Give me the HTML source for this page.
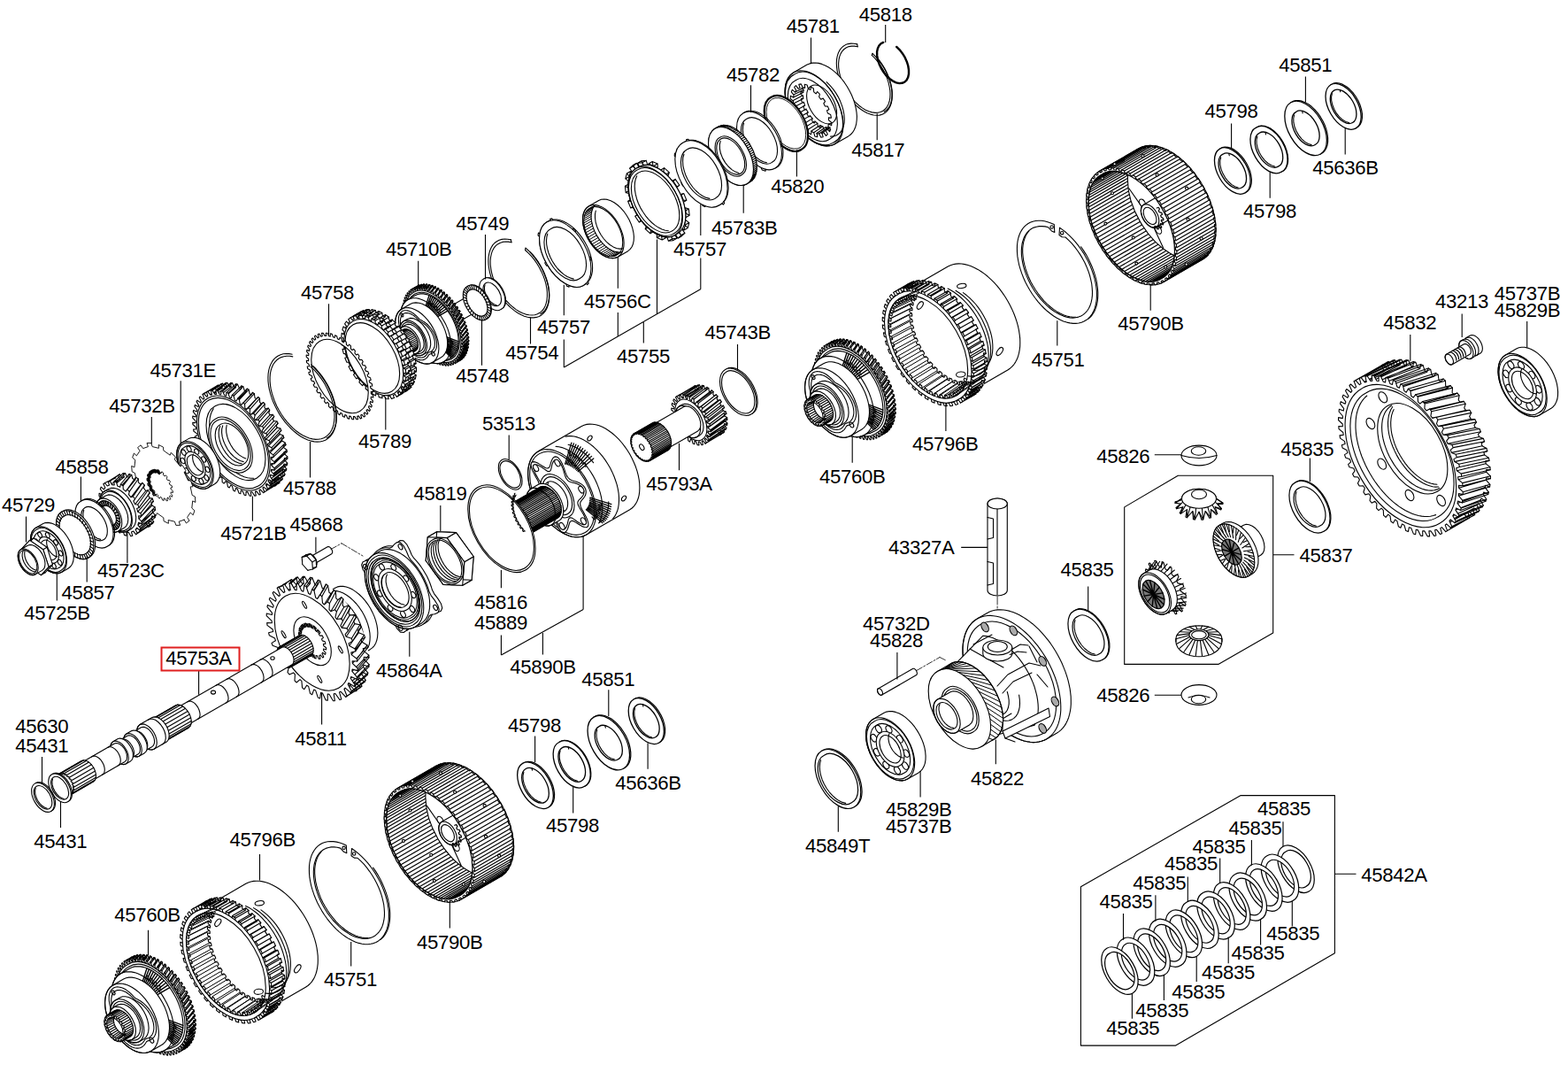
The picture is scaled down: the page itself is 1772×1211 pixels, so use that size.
<!DOCTYPE html>
<html lang="en"><head><meta charset="utf-8"><title>Parts diagram</title>
<style>
html,body{margin:0;padding:0;background:#fff}
body{width:1772px;height:1211px;overflow:hidden}
svg{display:block}
.ln{fill:none;stroke:#000;stroke-width:1.1;stroke-linecap:round;stroke-linejoin:round}
.lb text{font-family:"Liberation Sans",Arial,Helvetica,sans-serif;font-size:22.2px;fill:#000;letter-spacing:-0.34px}
</style></head><body>
<svg width="1772" height="1211" viewBox="0 0 1772 1211">
<rect width="1772" height="1211" fill="#fff"/>
<g class="ln">
<!-- a05_topright -->
<g><path d="M998.2 47.9 L995.5 49.3 L993.4 51.6 L991.9 54.7 L991.1 58.5 L991.2 62.9 L992 67.5 L993.6 72.4 L995.8 77.1 L998.6 81.6 L1001.8 85.7 L1005.4 89 L1009.1 91.6 L1012.8 93.3 L1016.4 94.1 L1019.7 93.8 L1022.5 92.5 L1024.7 90.3 L1026.2 87.2 L1027 83.5 L1027 79.2 L1026.3 74.5 L1024.8 69.7 L1022.7 64.9 L1019.9 60.4 L1016.7 56.3 L1013.2 52.9" stroke-width="2.4"/>
<path d="M968.7 49.9 L965.1 49.2 L961.7 49.1 L958.5 49.6 L955.6 50.6 L953 52.2 L950.7 54.3 L948.8 56.9 L947.3 60 L946.2 63.6 L945.5 67.4 L945.3 71.6 L945.6 76.1 L946.2 80.7 L947.4 85.5 L948.9 90.4 L950.8 95.2 L953.1 99.9 L955.7 104.5 L958.7 108.9 L961.9 113.1 L965.3 116.8 L968.8 120.3 L972.5 123.2 L976.3 125.7 L980 127.7 L983.7 129.1 L987.3 130 L990.8 130.3 L994 130.1 L997 129.2 L999.8 127.8 L1002.1 125.9 L1004.2 123.4 L1005.8 120.5 L1007.1 117.1 L1007.9 113.3 L1008.2 109.2 L1008.2 104.9 L1007.6 100.3 L1006.7 95.5 L1005.3 90.7 L1003.5 85.9 L1001.3 81.1 L998.8 76.4 L996 71.9 L992.8 67.7 L989.5 63.8 L986 60.3"/><path d="M969.2 52.8 L965.7 52.1 L962.4 52.1 L959.3 52.6 L956.5 53.8 L954 55.5 L951.8 57.8 L950.1 60.6 L948.8 63.9 L948 67.6 L947.6 71.6 L947.7 76 L948.3 80.5 L949.3 85.2 L950.8 90 L952.7 94.8 L955 99.5 L957.6 104 L960.6 108.3 L963.8 112.3 L967.2 116 L970.8 119.2 L974.4 121.9 L978.1 124.2 L981.8 125.8 L985.4 126.9 L988.9 127.4 L992.2 127.2 L995.2 126.5 L997.9 125.2 L1000.3 123.3 L1002.3 120.8 L1003.9 117.9 L1005.1 114.5 L1005.8 110.6 L1006 106.5 L1005.8 102.1 L1005 97.5 L1003.9 92.7 L1002.3 87.9 L1000.3 83.2 L997.9 78.5 L995.1 74 L992.1 69.8 L988.8 65.9 L985.3 62.4"/><path d="M968.7 49.9L969.2 52.8M986 60.3L985.3 62.4"/><path d="M999.3 126.3 L1001.9 124.5 L1004.1 122 L1005.8 119 L1007.1 115.5 L1007.9 111.6 L1008.2 107.3 L1008.1 102.7 L1007.4 97.9 L1006.2 92.9 L1004.6 87.9 L1002.5 82.9 L1000.1 78 L997.2 73.3 L994.1 68.8 L990.7 64.7" stroke-width="1.2"/>
<path d="M958.7 153.9 L961.3 152 L963.5 149.7 L965.3 146.8 L966.7 143.5 L967.7 139.8 L968.2 135.8 L968.4 131.4 L968 126.8 L967.2 122 L966 117.1 L964.4 112.2 L962.4 107.3 L960 102.4 L957.3 97.7 L954.3 93.2 L951.1 89 L947.6 85.2 L943.9 81.7 L940.2 78.6 L936.4 76 L932.5 73.9 L928.8 72.4 L925.1 71.4 L921.5 71 L918.1 71.1 L915 71.9 L912.1 73.1 L896.7 82 L894.2 83.9 L892 86.2 L890.1 89.1 L888.7 92.4 L887.7 96.1 L887.2 100.1 L887.1 104.5 L887.4 109.1 L888.2 113.9 L889.4 118.8 L891 123.7 L893 128.6 L895.4 133.5 L898.1 138.2 L901.1 142.7 L904.4 146.9 L907.8 150.7 L911.5 154.2 L915.2 157.3 L919 159.9 L922.9 162 L926.7 163.5 L930.4 164.5 L933.9 164.9 L937.3 164.8 L940.4 164 L943.3 162.8Z" fill="#fff"/><path d="M943.3 162.8 L945.8 161 L948 158.7 L949.8 155.9 L951.2 152.7 L952.2 149.1 L952.8 145.1 L952.9 140.9 L952.7 136.4 L952 131.7 L950.9 126.9 L949.4 122.1 L947.5 117.2 L945.2 112.5 L942.6 107.8 L939.7 103.3 L936.6 99.1 L933.3 95.2 L929.7 91.7 L926.1 88.5 L922.4 85.8 L918.6 83.6 L914.8 81.8 L911.2 80.6 L907.6 80 L904.2 79.9 L901 80.3 L898.1 81.3 L895.4 82.9 L893.1 84.9 L891.1 87.5 L889.5 90.5 L888.3 93.9 L887.5 97.7 L887.1 101.8 L887.1 106.1 L887.6 110.7 L888.5 115.5 L889.8 120.3 L891.5 125.2 L893.6 130 L896 134.7 L898.8 139.3 L901.8 143.6 L905 147.7 L908.5 151.4 L912.1 154.8 L915.8 157.7 L919.5 160.2 L923.3 162.2 L927 163.6 L930.6 164.6 L934.1 164.9 L937.4 164.8 L940.5 164 L943.3 162.8Z"/><path d="M942.2 160.9A44.5 25.7 60 1 0 897.8 83.9A44.5 25.7 60 1 0 942.2 160.9"/><path d="M937.6 157.3A38.5 22.2 60 1 0 899.1 90.7A38.5 22.2 60 1 0 937.6 157.3"/><path d="M938.6 154.1 L942 153.9 L945.1 153 L947.8 151.3 L950.1 149 L952 146.1 L953.3 142.6 L954.1 138.6 L954.3 134.2 L953.9 129.5 L953 124.6 L951.6 119.6 L949.7 114.6 L947.3 109.6 L944.5 104.9 L941.3 100.4 L937.8 96.3 L934.1 92.7"/><path d="M930.8 149.7 L933.5 153.3 L935.4 151.7 L933.2 147.7 L934.5 145.9 L937.6 148.7 L938.7 146.1 L935.9 142.7 L936.4 140.1 L939.7 141.7 L939.8 138.5 L936.6 135.9 L936.4 132.9 L939.4 133.2 L938.7 129.5 L935.5 128.1 L934.5 124.8 L936.9 123.8 L935.4 120.1 L932.4 119.9 L930.8 116.8 L932.5 114.6 L930.2 111.1 L927.8 112.3 L925.6 109.5 L926.4 106.4 L923.7 103.5 L922.1 105.9 L919.7 103.8 L919.4 100 L916.5 98.1 L915.9 101.4 L913.3 100.2 L912.1 96 L909.3 95.2 L909.7 99.2 L907.4 99 L905.3 94.9 L902.8 95.3 L904.1 99.5 L902.2 100.3 L899.5 96.7 L897.6 98.3 L899.8 102.3 L898.5 104.1 L895.4 101.3 L894.3 103.9 L897.1 107.3 L896.6 109.9 L893.3 108.3 L893.2 111.5 L896.4 114.1 L896.6 117.1 L893.6 116.8 L894.3 120.5 L897.5 121.9 L898.5 125.2 L896.1 126.2 L897.6 129.9 L900.6 130.1 L902.2 133.2 L900.5 135.4 L902.8 138.9 L905.2 137.7 L907.4 140.5 L906.6 143.6 L909.3 146.5 L910.9 144.1 L913.3 146.2 L913.6 150 L916.5 151.9 L917.1 148.6 L919.7 149.8 L920.9 154 L923.7 154.8 L923.3 150.8 L925.6 151 L927.7 155.1 L930.2 154.7 L928.9 150.5 L930.8 149.7Z"/><path d="M906 99.1 L908.2 102 L907.7 104.4 L905.1 103.3 L905 106.3 L907.5 108.5 L907.7 111.4 L905.4 111.3 L906 114.8 L908.6 116 L909.6 119.2 L907.7 120.1 L909.2 123.6 L911.5 123.9 L913.1 126.9 L911.9 128.8 L914 132 L916 131.3 L918.1 133.9 L917.6 136.5 L920.1 139.2 L921.5 137.4 L923.9 139.4 L924.1 142.5 L926.9 144.3 L927.5 141.8 L929.9 142.9 L931 146.2 L933.7 147 L933.5 143.9 L935.7 144.1 L937.5 147.3"/><path d="M898.5 104.1L909.6 98.8M897.3 106.7L908.4 101.4M896.6 109.9L907.7 104.4M896.3 113.4L907.4 107.8M896.6 117.1L907.7 111.4M897.3 121.1L908.4 115.3M898.5 125.2L909.6 119.2M900.2 129.3L911.2 123.1M902.2 133.2L913.1 126.9M904.7 137L915.5 130.6M907.4 140.5L918.1 133.9M910.3 143.5L920.9 136.9M913.3 146.2L923.9 139.4M916.5 148.3L926.9 141.5M919.7 149.8L929.9 142.9M922.7 150.7L932.9 143.8M925.6 151L935.7 144.1M928.3 150.7L938.3 143.8"/><path d="M940.6 138.8A24 13.9 60 1 0 916.6 97.2A24 13.9 60 1 0 940.6 138.8"/>
<path d="M905.5 169A34.2 19.7 60 1 0 871.3 109.8A34.2 19.7 60 1 0 905.5 169" fill="#fff" stroke-width="2.2"/><path d="M904.2 166.8A31.6 18.2 60 1 0 872.6 112A31.6 18.2 60 1 0 904.2 166.8" stroke-width="0.9"/>
<path d="M875.9 190 L878.7 188.5 L881 186.3 L882.8 183.4 L884.1 180 L884.8 176.1 L885 171.8 L884.6 167.1 L883.6 162.3 L882.1 157.3 L880.1 152.4 L877.6 147.6 L874.7 143 L871.4 138.8 L867.9 135 L864.2 131.8 L860.4 129.1 L856.5 127.1 L852.8 125.8 L849.2 125.2 L845.8 125.3 L842.7 126.2 L840.1 127.8"/><path d="M876 190.1A36 20.8 60 1 0 840 127.7A36 20.8 60 1 0 876 190.1" fill="#fff"/><path d="M872.2 183.6A28.5 16.5 60 1 0 843.8 134.2A28.5 16.5 60 1 0 872.2 183.6"/><path d="M840.6 139.1 L839.7 142.8 L839.4 147 L839.9 151.7 L841.1 156.5 L842.9 161.4 L845.3 166.2 L848.2 170.7 L851.6 174.8 L855.2 178.2 L859 180.9 L862.8 182.8 L866.5 183.8"/><path d="M865.4 191.3 L865 193.3 L861.3 192 L860.2 189.5"/>
<path d="M847.9 205.4 L850.4 203.5 L852.4 201 L853.9 197.8 L854.9 194.2 L855.3 190 L855.2 185.6 L854.5 180.8 L853.2 176 L851.5 171.1 L849.2 166.2 L846.5 161.6 L843.4 157.2 L840.1 153.2 L836.5 149.7 L832.7 146.7 L828.9 144.3 L825.2 142.6 L821.5 141.7 L818 141.4 L814.8 141.9 L811.9 143.1 L808 145.3 L805.5 147.2 L803.5 149.8 L802 152.9 L801 156.6 L800.6 160.7 L800.7 165.2 L801.4 169.9 L802.7 174.8 L804.4 179.7 L806.7 184.5 L809.4 189.2 L812.5 193.6 L815.8 197.6 L819.4 201.1 L823.1 204.1 L827 206.4 L830.7 208.1 L834.4 209.1 L837.9 209.4 L841.1 208.9 L844 207.7Z" fill="#fff"/><path d="M841.3 208.8L845.2 206.6M842.7 208.3L846.6 206.1M844 207.7L847.9 205.4M845.2 206.9L849.1 204.6M846.3 205.9L850.2 203.7M847.3 204.8L851.2 202.6M848.3 203.6L852.2 201.4M849.1 202.2L853 200M849.8 200.8L853.7 198.5M850.3 199.1L854.2 196.9M850.8 197.4L854.7 195.2M851.1 195.6L855 193.4M851.4 193.7L855.3 191.5M851.5 191.7L855.3 189.5M851.4 189.6L855.3 187.4M851.3 187.5L855.2 185.3M851 185.3L854.9 183.1M850.6 183.1L854.5 180.8M850.1 180.8L854 178.6M849.4 178.5L853.3 176.3M848.7 176.3L852.6 174M847.8 174L851.7 171.7M846.9 171.7L850.7 169.4M845.8 169.4L849.7 167.2M844.6 167.2L848.5 165M843.4 165L847.3 162.8M842 162.9L845.9 160.7M840.6 160.9L844.5 158.6M839.1 158.9L843 156.6M837.6 157L841.5 154.7M835.9 155.2L839.8 152.9M834.3 153.5L838.2 151.2M832.6 151.9L836.5 149.7M830.9 150.5L834.8 148.2M829.1 149.1L833 146.9M827.3 147.9L831.2 145.7M825.6 146.9L829.5 144.6M823.8 145.9L827.7 143.7M822 145.2L825.9 142.9M820.3 144.6L824.2 142.3M818.6 144.1L822.5 141.8M816.9 143.8L820.8 141.5M815.2 143.6L819.1 141.4M813.7 143.7L817.6 141.4M812.1 143.8L816 141.6M810.7 144.2L814.6 141.9M809.3 144.7L813.2 142.4M808 145.3L811.9 143.1M806.8 146.1L810.7 143.9"/><path d="M844 207.7A36 20.8 60 1 0 808 145.3A36 20.8 60 1 0 844 207.7" fill="#fff"/><path d="M838 197.7A24.5 14.1 60 1 0 813.5 155.3A24.5 14.1 60 1 0 838 197.7"/><path d="M837 196A22.5 13 60 1 0 814.5 157A22.5 13 60 1 0 837 196"/><path d="M814.2 159.3 L813.3 163.3 L813.4 168.1 L814.5 173.3 L816.6 178.6 L819.5 183.6 L823 188 L827 191.6 L831 194.1 L835 195.4"/>
<path d="M814.6 230.7 L817.1 228.9 L819.2 226.5 L820.9 223.5 L822.1 220.1 L822.8 216.3 L823.1 212.1 L822.8 207.6 L822.1 202.9 L820.9 198 L819.2 193.2 L817.1 188.3 L814.6 183.6 L811.8 179.1 L808.7 174.9 L805.3 171 L801.7 167.5 L798 164.5 L794.2 162.1 L790.5 160.2 L786.8 158.9 L783.2 158.2 L779.8 158.2 L776.7 158.8 L773.8 160.1 L772.1 161.1 L769.6 162.9 L767.5 165.3 L765.8 168.3 L764.6 171.7 L763.9 175.5 L763.7 179.7 L763.9 184.2 L764.6 188.9 L765.8 193.8 L767.5 198.6 L769.6 203.5 L772.1 208.2 L774.9 212.7 L778.1 216.9 L781.5 220.8 L785 224.3 L788.7 227.3 L792.5 229.7 L796.3 231.6 L800 232.9 L803.5 233.6 L806.9 233.6 L810.1 233 L812.9 231.7Z" fill="#fff"/><path d="M815.8 229.5 L817.3 231.1 L818.7 229.3 L817.5 227.5M820.3 203.6 L821.7 203.6 L820.9 200.3 L819.4 199.7M803.8 172.3 L804.2 170.8 L801.7 168.3 L801 169.5M778.8 159.2 L777.9 157.2 L775.6 157.5 L776.2 159.5M764.1 174.1 L762.5 173.1 L762.2 176 L763.7 177.3M770.8 205.8 L769.8 206.6 L771.6 209.9 L772.9 209.5M793.8 230.4 L794.1 232.4 L796.8 233.6 L796.8 231.8" fill="#fff"/><path d="M812.9 231.7A40.8 23.6 60 1 0 772.1 161.1A40.8 23.6 60 1 0 812.9 231.7" fill="#fff"/><path d="M808.5 224.1A32 18.5 60 1 0 776.5 168.7A32 18.5 60 1 0 808.5 224.1"/><path d="M773 174.2 L771.9 178 L771.6 182.3 L771.9 187.1 L773 192.1 L774.6 197.2 L776.9 202.2 L779.7 207 L782.9 211.5 L786.5 215.5 L790.3 218.9 L794.2 221.5 L798.2 223.4 L802 224.4"/>
<path d="M765.8 263.7 L768.3 261.9 L770.4 259.6 L772.1 256.8 L773.4 253.5 L774.3 249.9 L774.8 245.9 L774.8 241.6 L774.3 237.1 L773.4 232.4 L772.1 227.6 L770.4 222.8 L768.3 218.1 L765.8 213.4 L763 209 L760 204.8 L756.7 200.9 L753.2 197.4 L749.6 194.3 L745.9 191.6 L742.2 189.5 L738.5 187.9 L734.9 186.8 L731.4 186.3 L728.2 186.4 L725.1 187.1 L722.3 188.3 L718.9 190.3 L716.4 192.1 L714.3 194.4 L712.6 197.2 L711.2 200.5 L710.3 204.1 L709.9 208.1 L709.9 212.4 L710.3 216.9 L711.2 221.6 L712.6 226.4 L714.3 231.2 L716.4 235.9 L718.9 240.6 L721.6 245 L724.7 249.2 L728 253.1 L731.4 256.6 L735.1 259.7 L738.7 262.4 L742.5 264.5 L746.1 266.1 L749.8 267.2 L753.2 267.7 L756.5 267.6 L759.6 266.9 L762.4 265.7Z" fill="#fff"/><path d="M767.5 262 L770.4 266.7 L774 263.3 L770.7 259ZM763.2 264.5 L766.1 269.2 L769.7 265.8 L766.4 261.5ZM766.1 269.2L770.4 266.7M769.7 265.8L774 263.3M773.6 253.8 L777.3 257.4 L778.8 251.6 L774.9 248.6ZM769.3 256.3 L772.9 259.9 L774.4 254.1 L770.6 251.1ZM772.9 259.9L777.3 257.4M774.4 254.1L778.8 251.6M775.3 241.2 L779.2 243.2 L778.3 235.9 L774.6 234.7ZM771 243.7 L774.8 245.7 L774 238.4 L770.2 237.2ZM774.8 245.7L779.2 243.2M774 238.4L778.3 235.9M772.4 226.2 L775.9 226.3 L772.8 218.6 L769.7 219.4ZM768 228.7 L771.6 228.8 L768.5 221.1 L765.4 221.9ZM771.6 228.8L775.9 226.3M768.5 221.1L772.8 218.6M765.3 211.2 L767.9 209.3 L763.1 202.4 L761 205ZM760.9 213.7 L763.5 211.8 L758.8 204.9 L756.7 207.5ZM763.5 211.8L767.9 209.3M758.8 204.9L763.1 202.4M755.1 198.3 L756.4 194.8 L750.6 189.7 L749.9 193.8ZM750.7 200.8 L752 197.3 L746.3 192.2 L745.6 196.3ZM752 197.3L756.4 194.8M746.3 192.2L750.6 189.7M743.3 189.5 L743.1 184.9 L737.2 182.5 L738.1 187.3ZM739 192 L738.8 187.4 L732.9 185 L733.8 189.8ZM738.8 187.4L743.1 184.9M732.9 185L737.2 182.5M731.8 186.3 L730.2 181.2 L725 181.8 L727.3 186.7ZM727.5 188.8 L725.8 183.7 L720.7 184.3 L722.9 189.2ZM725.8 183.7L730.2 181.2M720.7 184.3L725 181.8M722.3 189 L719.4 184.3 L715.8 187.7 L719.1 192ZM718 191.5 L715.1 186.8 L711.5 190.2 L714.8 194.5ZM715.1 186.8L719.4 184.3M711.5 190.2L715.8 187.7M716.3 197.2 L712.6 193.6 L711.1 199.4 L714.9 202.4ZM711.9 199.7 L708.3 196.1 L706.8 201.9 L710.6 204.9ZM708.3 196.1L712.6 193.6M706.8 201.9L711.1 199.4M714.6 209.8 L710.7 207.8 L711.5 215.1 L715.3 216.3ZM710.2 212.3 L706.4 210.3 L707.2 217.6 L711 218.8ZM706.4 210.3L710.7 207.8M707.2 217.6L711.5 215.1M717.5 224.8 L714 224.7 L717 232.4 L720.2 231.6ZM713.2 227.3 L709.6 227.2 L712.7 234.9 L715.8 234.1ZM709.6 227.2L714 224.7M712.7 234.9L717 232.4M724.6 239.8 L722 241.7 L726.8 248.6 L728.8 246ZM720.3 242.3 L717.7 244.2 L722.4 251.1 L724.5 248.5ZM717.7 244.2L722 241.7M722.4 251.1L726.8 248.6M734.8 252.7 L733.5 256.2 L739.3 261.3 L739.9 257.2ZM730.5 255.2 L729.2 258.7 L734.9 263.8 L735.6 259.7ZM729.2 258.7L733.5 256.2M734.9 263.8L739.3 261.3M746.5 261.5 L746.7 266.1 L752.6 268.5 L751.8 263.7ZM742.2 264 L742.4 268.6 L748.3 271 L747.4 266.2ZM742.4 268.6L746.7 266.1M748.3 271L752.6 268.5M758 264.7 L759.7 269.8 L764.8 269.2 L762.6 264.3ZM753.7 267.2 L755.4 272.3 L760.5 271.7 L758.3 266.8ZM755.4 272.3L759.7 269.8M760.5 271.7L764.8 269.2" fill="#fff"/><path d="M765.8 263.7 L768.3 261.9 L770.4 259.6 L772.1 256.8 L773.4 253.5 L774.3 249.9 L774.8 245.9 L774.8 241.6 L774.3 237.1 L773.4 232.4 L772.1 227.6 L770.4 222.8 L768.3 218.1 L765.8 213.4 L763 209 L760 204.8 L756.7 200.9 L753.2 197.4 L749.6 194.3 L745.9 191.6 L742.2 189.5 L738.5 187.9 L734.9 186.8 L731.4 186.3 L728.2 186.4 L725.1 187.1 L722.3 188.3 L718.9 190.3 L716.4 192.1 L714.3 194.4 L712.6 197.2 L711.2 200.5 L710.3 204.1 L709.9 208.1 L709.9 212.4 L710.3 216.9 L711.2 221.6 L712.6 226.4 L714.3 231.2 L716.4 235.9 L718.9 240.6 L721.6 245 L724.7 249.2 L728 253.1 L731.4 256.6 L735.1 259.7 L738.7 262.4 L742.5 264.5 L746.1 266.1 L749.8 267.2 L753.2 267.7 L756.5 267.6 L759.6 266.9 L762.4 265.7Z" fill="#fff"/><path d="M762.4 265.7A43.5 25.1 60 1 0 718.9 190.3A43.5 25.1 60 1 0 762.4 265.7" fill="#fff"/><path d="M761.4 263.9A41.5 24 60 1 0 719.9 192.1A41.5 24 60 1 0 761.4 263.9"/><path d="M759.6 260.9A38 21.9 60 1 0 721.6 195.1A38 21.9 60 1 0 759.6 260.9"/><path d="M719.7 198.8 L718.3 202.2 L717.5 206.1 L717.2 210.3 L717.5 214.9 L718.3 219.7 L719.6 224.7 L721.4 229.7 L723.7 234.6 L726.5 239.3 L729.6 243.8 L733 247.8 L736.6 251.5 L740.4 254.6 L744.2 257.1 L748 259 L751.8 260.2 L755.4 260.7"/>
<path d="M709.6 283.7 L712 281.7 L714 279 L715.4 275.7 L716.2 271.8 L716.4 267.4 L715.9 262.8 L714.8 257.9 L713.1 252.9 L710.9 248 L708.1 243.2 L705 238.8 L701.5 234.9 L697.8 231.5 L694 228.7 L690.2 226.7 L686.4 225.4 L682.8 225 L679.5 225.3 L676.6 226.5 L665.3 233 L662.8 235 L660.8 237.7 L659.4 241 L658.6 244.9 L658.5 249.3 L659 253.9 L660.1 258.8 L661.8 263.8 L664 268.7 L666.7 273.5 L669.9 277.9 L673.3 281.8 L677 285.2 L680.8 288 L684.7 290 L688.5 291.3 L692 291.7 L695.4 291.4 L698.3 290.2Z" fill="#fff"/><path d="M698.3 290.2 L700.7 288.3 L702.7 285.7 L704.1 282.5 L704.9 278.7 L705.1 274.5 L704.8 270 L703.8 265.2 L702.2 260.4 L700.2 255.6 L697.6 250.9 L694.7 246.5 L691.4 242.6 L687.8 239.1 L684.1 236.1 L680.4 233.9 L676.7 232.4 L673.1 231.6 L669.7 231.6 L666.7 232.3 L664 233.9 L661.8 236.1 L660.2 239 L659 242.5 L658.5 246.5 L658.6 250.9 L659.3 255.6 L660.5 260.4 L662.3 265.2 L664.6 270 L667.4 274.5 L670.5 278.7 L674 282.5 L677.6 285.7 L681.3 288.3 L685.1 290.2 L688.7 291.3 L692.2 291.7 L695.4 291.3 L698.3 290.2Z"/><path d="M697 288A30.5 17.6 60 1 0 666.5 235.2A30.5 17.6 60 1 0 697 288"/><path d="M665.1 236.2L672.9 231.7M663.9 237.4L671.7 232.9M662.8 238.9L670.6 234.4M661.9 240.6L669.7 236.1M661.2 242.5L669 238M660.6 244.5L668.4 240M660.3 246.8L668.1 242.3M660.2 249.1L668 244.6M660.3 251.6L668.1 247.1M660.6 254.2L668.4 249.7M661.2 256.9L669 252.4M661.9 259.6L669.7 255.1M662.8 262.4L670.6 257.9M663.9 265.1L671.7 260.6M665.1 267.8L672.9 263.3M666.5 270.4L674.3 265.9M668.1 273L675.9 268.5M669.8 275.4L677.6 270.9M671.6 277.7L679.4 273.2M673.5 279.8L681.3 275.3M675.5 281.8L683.3 277.3M677.6 283.6L685.4 279.1M679.7 285.2L687.5 280.7M681.8 286.5L689.6 282M683.9 287.6L691.7 283.1M686 288.5L693.8 284M688.1 289L695.9 284.5M690.1 289.4L697.8 284.9M692 289.4L699.8 284.9M693.8 289.2L701.6 284.7M695.5 288.7L703.3 284.2" stroke-width="1"/><path d="M670 235.3 L668.8 238.6 L668.1 242.5 L668.1 246.9 L668.8 251.5 L670 256.3 L671.9 261.2 L674.3 265.9 L677.2 270.4 L680.5 274.4 L684 277.9 L687.7 280.8 L691.5 283 L695.2 284.4 L698.7 284.9"/><path d="M673.3 238 L672.5 241.8 L672.5 246.1 L673.1 250.8 L674.5 255.7 L676.5 260.5 L679.1 265.2 L682.1 269.5 L685.5 273.3 L689.2 276.5 L693 278.9 L696.7 280.5 L700.3 281.1 L703.5 280.9"/>
<path d="M661.1 321.4 L663.6 319.5 L665.7 317.1 L667.4 314.1 L668.6 310.6 L669.4 306.7 L669.6 302.5 L669.4 297.9 L668.6 293.2 L667.4 288.3 L665.7 283.3 L663.6 278.4 L661.1 273.7 L658.2 269.1 L655 264.8 L651.6 260.9 L648 257.4 L644.2 254.4 L640.4 251.9 L636.6 250 L632.9 248.7 L629.3 248 L625.8 248 L622.7 248.6 L619.8 249.8 L618.1 250.8 L615.5 252.7 L613.4 255.1 L611.7 258.1 L610.5 261.6 L609.7 265.5 L609.5 269.7 L609.7 274.3 L610.5 279 L611.7 283.9 L613.4 288.9 L615.5 293.8 L618.1 298.5 L620.9 303.1 L624.1 307.4 L627.5 311.3 L631.1 314.8 L634.9 317.8 L638.7 320.3 L642.5 322.2 L646.3 323.5 L649.9 324.2 L653.3 324.2 L656.5 323.6 L659.4 322.4Z" fill="#fff"/><path d="M662.3 320.1 L663.7 321.7 L665.2 319.9 L664 318.1M666.9 293.9 L668.3 293.9 L667.4 290.5 L665.9 290M650.2 262.2 L650.5 260.7 L648 258.1 L647.3 259.3M624.9 248.9 L623.9 246.9 L621.6 247.2 L622.2 249.2M610 264 L608.4 263.1 L608 265.9 L609.6 267.3M616.7 296.1 L615.7 296.9 L617.6 300.2 L618.8 299.9M640 321 L640.3 323 L643 324.3 L643.1 322.5" fill="#fff"/><path d="M659.4 322.4A41.3 23.8 60 1 0 618.1 250.8A41.3 23.8 60 1 0 659.4 322.4" fill="#fff"/><path d="M655 314.7A32.5 18.8 60 1 0 622.5 258.5A32.5 18.8 60 1 0 655 314.7"/><path d="M618.8 264.1 L617.9 267.6 L617.5 271.7 L617.7 276.1 L618.5 280.7 L619.9 285.5 L621.8 290.3 L624.2 295 L627 299.4 L630.2 303.5 L633.7 307 L637.3 310.1 L641 312.5 L644.7 314.1 L648.3 315.1"/>
<path d="M577.4 270.9 L573.8 270.2 L570.4 270 L567.1 270.4 L564.1 271.3 L561.4 272.7 L558.9 274.5 L556.8 276.9 L555.1 279.7 L553.7 283 L552.7 286.6 L552.1 290.5 L551.9 294.7 L552.1 299.2 L552.7 303.8 L553.7 308.6 L555.1 313.5 L556.9 318.3 L559.1 323.1 L561.5 327.8 L564.3 332.4 L567.3 336.7 L570.6 340.8 L574 344.5 L577.6 347.9 L581.3 350.9 L585 353.5 L588.8 355.6 L592.5 357.2 L596.2 358.3 L599.7 358.9 L603.1 358.9 L606.3 358.4 L609.2 357.4 L611.9 355.9 L614.2 353.9 L616.3 351.4 L617.9 348.5 L619.2 345.1 L620.1 341.4 L620.6 337.4 L620.7 333.1 L620.4 328.6 L619.7 323.9 L618.5 319.1 L617 314.3 L615.1 309.4 L612.9 304.6 L610.4 299.9 L607.5 295.4 L604.4 291.2 L601.1 287.2 L597.7 283.5 L594 280.2"/><path d="M578 273.8 L574.4 273.1 L571.1 273 L567.9 273.4 L565 274.4 L562.3 275.9 L560 277.9 L558 280.4 L556.4 283.4 L555.3 286.8 L554.5 290.6 L554.1 294.7 L554.2 299 L554.8 303.6 L555.7 308.3 L557 313.1 L558.8 317.9 L560.9 322.6 L563.4 327.3 L566.1 331.8 L569.2 336 L572.4 340 L575.9 343.6 L579.5 346.8 L583.1 349.6 L586.9 352 L590.6 353.8 L594.2 355.1 L597.8 355.8 L601.2 356 L604.4 355.7 L607.3 354.8 L610 353.3 L612.4 351.3 L614.4 348.9 L616 345.9 L617.2 342.6 L618 338.8 L618.4 334.8 L618.4 330.5 L617.9 325.9 L617 321.2 L615.7 316.4 L614 311.6 L611.9 306.9 L609.5 302.2 L606.8 297.7 L603.8 293.4 L600.5 289.4 L597.1 285.8 L593.5 282.5"/><path d="M577.4 270.9L578 273.8M594 280.2L593.5 282.5"/><path d="M610.9 354.8 L613.4 353 L615.6 350.8 L617.4 348 L618.8 344.9 L619.9 341.4 L620.5 337.5 L620.7 333.4 L620.5 329 L619.9 324.4 L618.9 319.7 L617.5 314.9 L615.7 310.1 L613.6 305.3 L611.2 300.7 L608.4 296.2 L605.4 291.9 L602.2 287.9 L598.8 284.3" stroke-width="1.2"/></g>
<!-- a10_topleft -->
<g><path d="M566.6 349.1 L569.2 347.3 L570.9 344.3 L571.6 340.3 L571.2 335.7 L569.8 330.7 L567.5 325.8 L564.4 321.4 L560.8 317.7 L557 315 L553.2 313.7 L549.7 313.6 L546.9 315"/><path d="M566.2 349.4A19.8 11.4 60 1 0 546.4 315.2A19.8 11.4 60 1 0 566.2 349.4" fill="#fff"/><path d="M563.5 344.9A14.5 8.4 60 1 0 549 319.7A14.5 8.4 60 1 0 563.5 344.9"/><path d="M548 321.9 L547.4 324.9 L547.6 328.3 L548.6 332.1 L550.3 335.7 L552.7 339.1 L555.4 341.8 L558.3 343.8 L561.1 344.7"/>
<path d="M542 350 L543.1 349 L543.8 347.4 L544.1 345.5 L543.8 343.2 L543.1 340.8 L542 338.5 L540.5 336.3 L538.8 334.5 L537 333.2 L535.2 332.4 L533.5 332.3 L532 332.7 L488.7 357.7 L487.6 358.8 L486.9 360.3 L486.6 362.3 L486.9 364.5 L487.6 366.9 L488.7 369.3 L490.2 371.4 L491.9 373.2 L493.7 374.5 L495.5 375.3 L497.2 375.5 L498.7 375Z" fill="#fff"/><path d="M498.7 375 L499.8 374 L500.5 372.4 L500.8 370.5 L500.5 368.2 L499.8 365.8 L498.7 363.5 L497.2 361.3 L495.5 359.5 L493.7 358.2 L491.9 357.4 L490.2 357.3 L488.7 357.7 L487.6 358.8 L486.9 360.3 L486.6 362.3 L486.9 364.5 L487.6 366.9 L488.7 369.3 L490.2 371.4 L491.9 373.2 L493.7 374.5 L495.5 375.3 L497.2 375.5 L498.7 375Z"/><path d="M519.8 407.4 L522.2 405.7 L524.4 403.4 L526.2 400.8 L527.7 397.7 L528.8 394.2 L529.5 390.4 L529.8 386.3 L529.7 381.9 L529.2 377.4 L528.3 372.7 L527 367.9 L525.4 363.1 L523.4 358.3 L521 353.6 L518.4 349.1 L515.5 344.7 L512.4 340.6 L509 336.7 L505.5 333.2 L501.9 330.1 L498.3 327.4 L494.5 325.2 L490.8 323.4 L487.2 322.1 L483.6 321.3 L480.2 321 L477 321.2 L473.9 322 L471.2 323.3 L465.2 326.7 L462.7 328.5 L460.5 330.7 L458.7 333.4 L457.2 336.5 L456.2 340 L455.4 343.8 L455.1 347.9 L455.2 352.2 L455.8 356.8 L456.6 361.5 L457.9 366.3 L459.6 371.1 L461.6 375.8 L463.9 380.5 L466.6 385.1 L469.5 389.5 L472.6 393.6 L475.9 397.4 L479.4 400.9 L483 404 L486.7 406.7 L490.4 409 L494.1 410.8 L497.8 412.1 L501.4 412.9 L504.8 413.2 L508 412.9 L511 412.2 L513.8 410.9Z" fill="#fff" stroke="none"/><path d="M515.2 406.3 L517 408.7 L517.8 408.4 L516.9 405.6 L517.6 405.3 L519.5 407.6 L520.3 407.1 L519.2 404.4 L519.8 403.9 L521.8 406 L522.5 405.5 L521.2 402.7 L521.8 402.2 L523.9 404.1 L524.4 403.4 L523 400.7 L523.5 400.1 L525.6 401.8 L526.1 401 L524.5 398.4 L524.9 397.6 L527.1 399.1 L527.5 398.3 L525.8 395.7 L526.1 394.9 L528.3 396.1 L528.5 395.2 L526.7 392.8 L527 391.9 L529.1 392.9 L529.3 391.8 L527.4 389.6 L527.5 388.6 L529.6 389.3 L529.7 388.2 L527.7 386.1 L527.8 385.1 L529.8 385.5 L529.8 384.4 L527.7 382.5 L527.7 381.4 L529.7 381.6 L529.6 380.4 L527.5 378.7 L527.3 377.5 L529.2 377.4 L529 376.2 L526.9 374.7 L526.6 373.5 L528.4 373.2 L528.1 371.9 L526 370.7 L525.6 369.5 L527.3 368.9 L526.9 367.6 L524.8 366.6 L524.4 365.4 L525.9 364.5 L525.4 363.2 L523.3 362.5 L522.8 361.3 L524.2 360.2 L523.6 358.9 L521.6 358.5 L521 357.3 L522.2 355.9 L521.6 354.6 L519.6 354.5 L518.9 353.3 L520 351.7 L519.3 350.5 L517.4 350.6 L516.7 349.4 L517.5 347.6 L516.7 346.4 L514.9 346.8 L514.2 345.7 L514.8 343.7 L514 342.6 L512.3 343.3 L511.5 342.2 L511.9 340 L511 339 L509.5 339.9 L508.7 338.9 L508.9 336.6 L508 335.6 L506.6 336.8 L505.7 335.9 L505.7 333.4 L504.8 332.5 L503.6 333.9 L502.7 333.2 L502.5 330.5 L501.5 329.8 L500.5 331.4 L499.5 330.7 L499.1 328 L498.1 327.3 L497.3 329.2 L496.4 328.6 L495.8 325.9 L494.8 325.3 L494.2 327.3 L493.2 326.8 L492.4 324.1 L491.4 323.6 L491 325.8 L490.1 325.5 L489.1 322.7 L488.1 322.3 L487.9 324.7 L487 324.5 L485.8 321.7 L484.8 321.5 L484.8 324 L484 323.9 L482.6 321.1 L481.7 321 L481.9 323.7 L481 323.7 L479.5 321 L478.6 321 L479.1 323.7 L478.3 323.9 L476.6 321.3 L475.8 321.5 L476.4 324.2 L475.7 324.4 L473.9 322 L473.1 322.3 L474 325.1 L473.3 325.4 L471.4 323.1 L470.7 323.6 L471.7 326.4 L471.1 326.8 L469.1 324.7 L468.5 325.2 L469.7 328"/><path d="M514.3 410.6L521.8 406M515 410.1L522.5 405.5M513.9 407.4L521.2 402.7M516.5 408.9L523.9 404.1M517.1 408.4L524.4 403.4M515.8 405.6L523 400.7M518.4 406.9L525.6 401.8M519 406.2L526.1 401M517.5 403.5L524.5 398.4M520.1 404.5L527.1 399.1M520.6 403.7L527.5 398.3M519 401.1L525.8 395.7M521.5 401.7L528.3 396.1M521.9 400.8L528.5 395.2M520.1 398.4L526.7 392.8M522.6 398.7L529.1 392.9M522.8 397.7L529.3 391.8M521 395.3L527.4 389.6M523.3 395.3L529.6 389.3M523.5 394.2L529.7 388.2M521.5 392L527.7 386.1M523.8 391.7L529.8 385.5M523.8 390.6L529.8 384.4M521.8 388.5L527.7 382.5M523.9 387.9L529.7 381.6M523.8 386.7L529.6 380.4M521.7 384.8L527.5 378.7M523.6 383.8L529.2 377.4M523.5 382.6L529 376.2M521.4 381L526.9 374.7M523.1 379.7L528.4 373.2M522.8 378.4L528.1 371.9M520.7 377L526 370.7M522.2 375.4L527.3 368.9M521.9 374.1L526.9 367.6M519.7 373L524.8 366.6M521 371.1L525.9 364.5M520.6 369.8L525.4 363.2M518.4 368.9L523.3 362.5M519.5 366.7L524.2 360.2M519 365.4L523.6 358.9M516.9 364.8L521.6 358.5M517.7 362.4L522.2 355.9M517.1 361.1L521.6 354.6M515.1 360.8L519.6 354.5M515.6 358.1L520 351.7M515 356.9L519.3 350.5M513 356.8L517.4 350.6M513.3 353.9L517.5 347.6M512.6 352.7L516.7 346.4M510.7 352.9L514.9 346.8M510.8 349.9L514.8 343.7M510 348.7L514 342.6M508.2 349.2L512.3 343.3M508 346.1L511.9 340M507.2 345L511 339M505.6 345.7L509.5 339.9M505.1 342.5L508.9 336.6M504.2 341.4L508 335.6M502.7 342.4L506.6 336.8M502 339.1L505.7 333.4M501.1 338.1L504.8 332.5M499.8 339.4L503.6 333.9M498.8 336L502.5 330.5M497.9 335.1L501.5 329.8M496.7 336.6L500.5 331.4M495.5 333.2L499.1 328M494.5 332.5L498.1 327.3M493.6 334.2L497.3 329.2M492.2 330.8L495.8 325.9M491.2 330.1L494.8 325.3M490.5 332.1L494.2 327.3M488.8 328.7L492.4 324.1M487.8 328.2L491.4 323.6M487.3 330.3L491 325.8M485.5 327.1L489.1 322.7M484.5 326.6L488.1 322.3M484.1 328.9L487.9 324.7M482.1 325.8L485.8 321.7M481.1 325.5L484.8 321.5M481 327.9L484.8 324M478.9 324.9L482.6 321.1M477.9 324.8L481.7 321M478 327.3L481.9 323.7M475.7 324.5L479.5 321M474.8 324.4L478.6 321M475.1 327.1L479.1 323.7M472.7 324.5L476.6 321.3M471.8 324.6L475.8 321.5M472.4 327.3L476.4 324.2M469.9 324.9L473.9 322M469 325.1L473.1 322.3M469.8 327.9L474 325.1M467.2 325.7L471.4 323.1M466.4 326.1L470.7 323.6M467.3 328.9L471.7 326.4M464.7 327L469.1 324.7M464 327.5L468.5 325.2M465.1 330.2L469.7 328"/><path d="M512.3 408.4 L514.3 410.6 L515 410.1 L513.9 407.4 L514.5 406.9 L516.5 408.9 L517.1 408.4 L515.8 405.6 L516.4 405 L518.4 406.9 L519 406.2 L517.5 403.5 L518 402.8 L520.1 404.5 L520.6 403.7 L519 401.1 L519.3 400.3 L521.5 401.7 L521.9 400.8 L520.1 398.4 L520.4 397.5 L522.6 398.7 L522.8 397.7 L521 395.3 L521.2 394.4 L523.3 395.3 L523.5 394.2 L521.5 392 L521.6 391 L523.8 391.7 L523.8 390.6 L521.8 388.5 L521.8 387.5 L523.9 387.9 L523.8 386.7 L521.7 384.8 L521.6 383.7 L523.6 383.8 L523.5 382.6 L521.4 381 L521.2 379.8 L523.1 379.7 L522.8 378.4 L520.7 377 L520.4 375.8 L522.2 375.4 L521.9 374.1 L519.7 373 L519.3 371.8 L521 371.1 L520.6 369.8 L518.4 368.9 L518 367.7 L519.5 366.7 L519 365.4 L516.9 364.8 L516.4 363.6 L517.7 362.4 L517.1 361.1 L515.1 360.8 L514.5 359.6 L515.6 358.1 L515 356.9 L513 356.8 L512.3 355.6 L513.3 353.9 L512.6 352.7 L510.7 352.9 L510 351.8 L510.8 349.9 L510 348.7 L508.2 349.2 L507.4 348.1 L508 346.1 L507.2 345 L505.6 345.7 L504.7 344.7 L505.1 342.5 L504.2 341.4 L502.7 342.4 L501.9 341.5 L502 339.1 L501.1 338.1 L499.8 339.4 L498.9 338.5 L498.8 336 L497.9 335.1 L496.7 336.6 L495.8 335.9 L495.5 333.2 L494.5 332.5 L493.6 334.2 L492.7 333.5 L492.2 330.8 L491.2 330.1 L490.5 332.1 L489.5 331.5 L488.8 328.7 L487.8 328.2 L487.3 330.3 L486.3 329.9 L485.5 327.1 L484.5 326.6 L484.1 328.9 L483.2 328.6 L482.1 325.8 L481.1 325.5 L481 327.9 L480.1 327.7 L478.9 324.9 L477.9 324.8 L478 327.3 L477.1 327.2 L475.7 324.5 L474.8 324.4 L475.1 327.1 L474.3 327.1 L472.7 324.5 L471.8 324.6 L472.4 327.3 L471.6 327.4 L469.9 324.9 L469 325.1 L469.8 327.9 L469 328.1 L467.2 325.7 L466.4 326.1 L467.3 328.9 L466.7 329.2 L464.7 327 L464 327.5 L465.1 330.2 L464.5 330.7 L462.5 328.7 L461.9 329.2 L463.2 332 L462.6 332.6 L460.6 330.7 L460 331.4 L461.5 334.1 L461 334.8 L458.9 333.1 L458.4 333.9 L460 336.5 L459.7 337.3 L457.5 335.9 L457.1 336.8 L458.9 339.2 L458.6 340.1 L456.4 338.9 L456.2 339.9 L458 342.3 L457.8 343.2 L455.7 342.3 L455.5 343.4 L457.5 345.6 L457.4 346.6 L455.2 345.9 L455.2 347 L457.2 349.1 L457.2 350.1 L455.1 349.7 L455.2 350.9 L457.3 352.8 L457.4 353.9 L455.4 353.8 L455.5 355 L457.6 356.6 L457.8 357.8 L455.9 357.9 L456.2 359.2 L458.3 360.6 L458.6 361.8 L456.8 362.2 L457.1 363.5 L459.3 364.6 L459.7 365.8 L458 366.5 L458.4 367.8 L460.6 368.7 L461 369.9 L459.5 370.9 L460 372.2 L462.1 372.8 L462.6 374 L461.3 375.2 L461.9 376.5 L463.9 376.8 L464.5 378 L463.4 379.5 L464 380.7 L466 380.8 L466.7 382 L465.7 383.7 L466.4 384.9 L468.3 384.7 L469 385.8 L468.2 387.7 L469 388.9 L470.8 388.4 L471.6 389.5 L471 391.5 L471.8 392.6 L473.4 391.9 L474.3 392.9 L473.9 395.1 L474.8 396.2 L476.3 395.2 L477.1 396.1 L477 398.5 L477.9 399.5 L479.2 398.2 L480.1 399.1 L480.2 401.6 L481.1 402.5 L482.3 401 L483.2 401.7 L483.5 404.4 L484.5 405.1 L485.4 403.4 L486.3 404.1 L486.8 406.8 L487.8 407.5 L488.5 405.5 L489.5 406.1 L490.2 408.9 L491.2 409.4 L491.7 407.3 L492.7 407.7 L493.5 410.5 L494.5 411 L494.9 408.7 L495.8 409 L496.9 411.8 L497.9 412.1 L498 409.7 L498.9 409.9 L500.1 412.7 L501.1 412.8 L501 410.3 L501.9 410.4 L503.3 413.1 L504.2 413.2 L503.9 410.5 L504.7 410.5 L506.3 413.1 L507.2 413 L506.6 410.3 L507.4 410.2 L509.1 412.7 L510 412.5 L509.2 409.7 L510 409.5 L511.8 411.9 L512.6 411.5 L511.7 408.7 L512.3 408.4Z" fill="#fff"/><path d="M511.8 407.4A44.5 25.7 60 1 0 467.2 330.2A44.5 25.7 60 1 0 511.8 407.4"/><path d="M510.6 405.3A42.1 24.3 60 1 0 468.4 332.3A42.1 24.3 60 1 0 510.6 405.3"/><path d="M509.8 403.9 L512.2 402 L514.3 399.7 L516 396.7 L517.2 393.3 L517.9 389.5 L518.1 385.3 L517.9 380.9 L517.2 376.2 L516 371.4 L514.3 366.6 L512.2 361.8 L509.8 357.1 L506.9 352.6 L503.8 348.4 L500.5 344.6 L496.9 341.1 L493.2 338.2 L489.5 335.7 L485.8 333.9 L482.1 332.6 L478.5 331.9 L475.2 331.9 L472.1 332.5 L469.2 333.7 L460.8 338.6 L458.4 340.4 L456.3 342.8 L454.6 345.7 L453.4 349.1 L452.7 353 L452.4 357.1 L452.7 361.6 L453.4 366.2 L454.6 371 L456.3 375.9 L458.4 380.7 L460.8 385.4 L463.6 389.8 L466.8 394 L470.1 397.9 L473.7 401.3 L477.3 404.3 L481.1 406.7 L484.8 408.6 L488.5 409.9 L492 410.5 L495.4 410.6 L498.5 410 L501.3 408.7Z" fill="#fff"/><path d="M501.3 408.7 L503.8 406.9 L505.9 404.5 L507.5 401.6 L508.7 398.2 L509.5 394.4 L509.7 390.2 L509.5 385.7 L508.7 381.1 L507.5 376.3 L505.9 371.4 L503.8 366.6 L501.3 362 L498.5 357.5 L495.4 353.3 L492 349.4 L488.5 346 L484.8 343 L481.1 340.6 L477.3 338.7 L473.7 337.4 L470.1 336.8 L466.8 336.8 L463.6 337.4 L460.8 338.6 L458.4 340.4 L456.3 342.8 L454.6 345.7 L453.4 349.1 L452.7 353 L452.4 357.1 L452.7 361.6 L453.4 366.2 L454.6 371 L456.3 375.9 L458.4 380.7 L460.8 385.4 L463.6 389.8 L466.8 394 L470.1 397.9 L473.7 401.3 L477.3 404.3 L481.1 406.7 L484.8 408.6 L488.5 409.9 L492 410.5 L495.4 410.6 L498.5 410 L501.3 408.7Z"/><path d="M491.2 359.7L505.9 351.2M490.2 358.6L504.2 349M489.1 357.5L502.5 346.8M488 356.5L500.7 344.8M486.9 355.6L498.8 342.9M485.8 354.8L496.9 341.1M484.7 354L495 339.5M483.6 353.4L493 338M482.5 352.8L491 336.6M481.4 352.3L489 335.4M480.3 351.9L487 334.4M479.2 351.6L485 333.6" stroke-width="1.4"/><path d="M498 354 L497.1 352.9 L497.4 350.3 L496.3 349.1 L494.8 350.3 L493.8 349.3 L493.7 346.5 L492.6 345.5 L491.3 347.2 L490.3 346.4 L489.9 343.4 L488.7 342.6 L487.8 344.6 L486.7 344 L485.9 340.9 L484.7 340.3 L484.2 342.7 L483.1 342.2"/><path d="M496.7 390.6L509.8 403.9M497.3 389.9L511.1 403M497.9 389.1L512.4 401.9M498.4 388.3L513.5 400.7M498.9 387.3L514.5 399.3M499.2 386.3L515.5 397.8M499.5 385.2L516.2 396.1M499.7 384.1L516.9 394.3M499.9 382.9L517.4 392.3M499.9 381.6L517.8 390.3M499.9 380.3L518 388.2M499.8 379L518.1 385.9" stroke-width="1.4"/><path d="M504.6 397.3 L505.2 396.7 L507.5 398.8 L508.2 398 L506.6 395 L507.1 394.2 L509.5 396 L510 395 L508.1 392.1 L508.5 391.2 L510.9 392.5 L511.2 391.4 L509.1 388.7 L509.3 387.6 L511.7 388.5 L511.8 387.2 L509.6 384.9 L509.6 383.6"/><path d="M498.5 403.8 L501 401.9 L503 399.2 L504.5 396 L505.4 392.2 L505.7 387.9 L505.4 383.3 L504.5 378.4 L503 373.4 L501 368.4 L498.5 363.6 L495.6 359 L492.3 354.8 L488.7 351 L484.9 347.8 L481.1 345.2 L477.2 343.3 L473.5 342.2 L469.9 341.9 L466.6 342.3 L463.7 343.5 L453.8 349.2 L451.3 351.1 L449.3 353.7 L447.8 357 L446.9 360.8 L446.6 365.1 L446.9 369.7 L447.8 374.6 L449.3 379.6 L451.3 384.5 L453.8 389.4 L456.8 394 L460.1 398.2 L463.7 402 L467.4 405.2 L471.3 407.8 L475.1 409.6 L478.9 410.8 L482.4 411.1 L485.7 410.7 L488.7 409.5Z" fill="#fff"/><path d="M488.7 409.5 L491.1 407.6 L493.1 405.1 L494.6 401.9 L495.5 398.2 L495.9 394.1 L495.7 389.6 L494.9 384.9 L493.5 380.1 L491.7 375.2 L489.3 370.4 L486.6 365.9 L483.4 361.6 L480 357.8 L476.4 354.5 L472.7 351.8 L468.9 349.7 L465.2 348.3 L461.6 347.6 L458.3 347.7 L455.2 348.5 L452.6 350 L450.3 352.3 L448.6 355.1 L447.4 358.5 L446.7 362.5 L446.7 366.8 L447.2 371.4 L448.2 376.2 L449.9 381 L452 385.9 L454.5 390.5 L457.5 394.9 L460.8 399 L464.3 402.6 L468 405.6 L471.7 408 L475.5 409.8 L479.1 410.8 L482.6 411.1 L485.8 410.7 L488.7 409.5Z"/><path d="M484.1 401.6 L484.6 400.8 L485.1 400.3 L485.9 400.1 L486.7 399.8 L487.5 399.6 L488.3 399.2 L489.1 398.8 L489.8 398.3 L490.5 397.7 L491.2 397 L491.7 396.2 L492.3 395.3 L492.7 394.3 L493.1 393.2 L493.4 392.1 L493.5 390.8 L493.6 389.5 L493.6 388.2 L493.5 386.7 L493.3 385.2 L493 383.7 L492.6 382.2 L492.2 380.7 L491.6 379.1 L490.9 377.6 L490.2 376.1 L489.4 374.6 L488.5 373.2 L487.6 371.8 L486.6 370.5 L485.6 369.3 L484.5 368.1 L483.4 367 L482.4 366 L481.3 365.1 L480.2 364.3 L479.1 363.5 L478 362.9 L477 362.3 L476 361.7 L475 361.3 L474 360.6 L473.2 359.6 L472.2 358.6 L471.3 357.7 L470.3 356.7 L469.2 355.8 L468.2 354.9 L467.1 354 L465.9 353.3 L464.8 352.6 L463.6 352 L462.5 351.5 L461.3 351.1 L460.2 350.9 L459.1 350.7 L458 350.7 L457 350.8 L456 351 L455.1 351.3 L454.2 351.8 L453.5 352.4 L452.8 353.1 L452.1 353.9 L451.6 354.9 L451.2 355.9 L450.8 357 L450.6 358.2 L450.4 359.5 L450.3 360.8 L450.4 362.1 L450.5 363.5 L450.7 364.9 L450.9 366.4 L451.3 367.8 L451.7 369.2 L452.1 370.6 L452.6 372 L453.1 373.3 L453.7 374.6 L454.2 375.9 L454.6 377.1 L454.7 378.3 L454.8 379.5 L455 380.8 L455.2 382.1 L455.5 383.5 L455.8 384.9 L456.2 386.3 L456.7 387.7 L457.3 389.2 L457.9 390.7 L458.6 392.2 L459.4 393.6 L460.2 395 L461.1 396.4 L462.1 397.8 L463.1 399.1 L464.2 400.3 L465.3 401.4 L466.5 402.4 L467.7 403.4 L468.9 404.2 L470.1 404.9 L471.3 405.5 L472.4 406 L473.6 406.4 L474.7 406.6 L475.8 406.7 L476.9 406.7 L477.9 406.6 L478.8 406.4 L479.7 406 L480.5 405.6 L481.3 405.1 L482 404.5 L482.6 403.9 L483.2 403.1 L483.7 402.4Z"/><path d="M482.9 399.5 L483.3 398.8 L483.8 398.2 L484.5 398.1 L485.2 397.8 L485.9 397.6 L486.6 397.3 L487.3 396.9 L488 396.4 L488.6 395.9 L489.2 395.2 L489.7 394.5 L490.2 393.7 L490.6 392.8 L490.9 391.9 L491.2 390.8 L491.3 389.7 L491.4 388.5 L491.4 387.3 L491.3 386 L491.1 384.7 L490.9 383.3 L490.5 381.9 L490.1 380.5 L489.6 379.1 L489 377.7 L488.3 376.4 L487.6 375.1 L486.8 373.8 L485.9 372.5 L485.1 371.4 L484.1 370.2 L483.2 369.2 L482.2 368.2 L481.3 367.3 L480.3 366.5 L479.3 365.8 L478.3 365.1 L477.4 364.5 L476.4 363.9 L475.5 363.5 L474.6 363 L473.8 362.4 L473 361.5 L472.1 360.7 L471.3 359.8 L470.4 358.9 L469.4 358.1 L468.5 357.3 L467.5 356.5 L466.5 355.9 L465.4 355.2 L464.4 354.7 L463.4 354.3 L462.3 353.9 L461.3 353.7 L460.3 353.6 L459.4 353.5 L458.4 353.6 L457.5 353.8 L456.7 354.1 L455.9 354.6 L455.2 355.1 L454.6 355.7 L454 356.5 L453.6 357.3 L453.2 358.2 L452.9 359.2 L452.6 360.3 L452.5 361.4 L452.4 362.6 L452.4 363.8 L452.5 365.1 L452.7 366.4 L452.9 367.6 L453.2 368.9 L453.6 370.2 L454 371.5 L454.4 372.7 L454.9 373.9 L455.4 375.1 L455.9 376.2 L456.2 377.3 L456.3 378.4 L456.4 379.5 L456.6 380.6 L456.8 381.8 L457 383.1 L457.3 384.3 L457.7 385.6 L458.1 386.9 L458.6 388.2 L459.2 389.6 L459.8 390.9 L460.5 392.2 L461.3 393.5 L462.1 394.7 L463 395.9 L464 397.1 L464.9 398.2 L465.9 399.2 L467 400.1 L468 401 L469.1 401.7 L470.2 402.4 L471.3 402.9 L472.3 403.4 L473.4 403.7 L474.4 403.9 L475.4 404 L476.3 404 L477.2 403.9 L478.1 403.7 L478.9 403.4 L479.6 403 L480.3 402.6 L480.9 402 L481.5 401.5 L482 400.8 L482.5 400.2Z"/><ellipse cx="489.4" cy="399.6" rx="1.6" ry="2.6" transform="rotate(-30 489.4 399.6)"/><ellipse cx="454.4" cy="355.9" rx="1.3" ry="2.1" transform="rotate(-30 454.4 355.9)"/><path d="M482.2 398.3 L484.5 396.2 L486 393.2 L486.7 389.3 L486.5 384.9 L485.4 380.1 L483.4 375.3 L480.8 370.8 L477.6 366.7 L474 363.4 L470.3 361 L466.7 359.6 L463.3 359.4 L460.3 360.4 L456.1 362.8 L453.8 364.9 L452.3 367.9 L451.6 371.8 L451.8 376.2 L453 380.9 L454.9 385.7 L457.5 390.3 L460.7 394.4 L464.3 397.7 L468 400.1 L471.7 401.5 L475.1 401.7 L478 400.7Z" fill="#fff"/><path d="M478 400.7 L480.3 398.6 L481.8 395.6 L482.5 391.8 L482.3 387.3 L481.2 382.6 L479.2 377.8 L476.6 373.2 L473.4 369.1 L469.8 365.8 L466.1 363.4 L462.5 362.1 L459.1 361.9 L456.1 362.8 L453.8 364.9 L452.3 367.9 L451.6 371.8 L451.8 376.2 L453 380.9 L454.9 385.7 L457.5 390.3 L460.7 394.4 L464.3 397.7 L468 400.1 L471.7 401.5 L475.1 401.7 L478 400.7Z"/><path d="M476.8 398.6A19.4 11.2 60 1 0 457.3 364.9A19.4 11.2 60 1 0 476.8 398.6"/><path d="M475.6 396.5 L477.5 394.7 L478.7 392.1 L479.1 388.7 L478.7 384.9 L477.5 380.8 L475.6 376.8 L473.1 373.2 L470.2 370.1 L467.1 367.9 L463.9 366.5 L461 366.3 L458.5 367 L454.3 369.5 L452.4 371.2 L451.2 373.9 L450.8 377.2 L451.2 381.1 L452.4 385.1 L454.3 389.1 L456.8 392.7 L459.7 395.8 L462.8 398.1 L466 399.4 L468.9 399.7 L471.3 398.9Z" fill="#fff"/><path d="M471.3 398.9 L473.3 397.1 L474.5 394.5 L474.9 391.1 L474.5 387.3 L473.3 383.3 L471.3 379.3 L468.9 375.6 L466 372.6 L462.8 370.3 L459.7 369 L456.8 368.7 L454.3 369.5 L452.4 371.2 L451.2 373.9 L450.8 377.2 L451.2 381.1 L452.4 385.1 L454.3 389.1 L456.8 392.7 L459.7 395.8 L462.8 398.1 L466 399.4 L468.9 399.7 L471.3 398.9Z"/><path d="M469.7 396.1 L471.3 394.7 L472.2 392.5 L472.6 389.8 L472.2 386.7 L471.3 383.4 L469.7 380.2 L467.7 377.3 L465.4 374.8 L462.8 372.9 L460.3 371.9 L458 371.6 L456 372.3 L448.9 376.3 L447.4 377.7 L446.4 379.9 L446.1 382.6 L446.4 385.7 L447.4 389 L448.9 392.2 L451 395.2 L453.3 397.6 L455.8 399.5 L458.3 400.6 L460.7 400.8 L462.7 400.2Z" fill="#fff"/><path d="M461.6 400.6L468.6 396.6M462.7 400.2L469.7 396.1M463.7 399.4L470.7 395.3M464.5 398.4L471.5 394.3M465.1 397.1L472.1 393M465.4 395.6L472.5 391.5M465.6 393.9L472.6 389.8M465.4 392L472.5 388M465.1 390.1L472.1 386.1M464.5 388.1L471.5 384.1M463.7 386.2L470.7 382.1M462.7 384.3L469.7 380.2M461.6 382.4L468.6 378.4M460.2 380.8L467.3 376.7M458.8 379.3L465.9 375.2M457.4 378L464.4 374M455.8 377L462.8 372.9M454.3 376.3L461.3 372.2M452.8 375.8L459.8 371.8M451.4 375.7L458.4 371.6M450.1 375.8L457.1 371.8M448.9 376.3L456 372.3M448 377.1L455 373"/><path d="M461.9 398.8 L462.9 400 L463.7 399.4 L462.9 397.9 L463.5 397.2 L464.6 398.1 L465.1 397.1 L464.1 395.8 L464.3 394.7 L465.5 395.2 L465.6 393.9 L464.4 392.9 L464.3 391.6 L465.4 391.7 L465.1 390.1 L463.9 389.5 L463.5 388.2 L464.4 387.7 L463.7 386.2 L462.6 386.1 L461.9 384.7 L462.5 383.9 L461.6 382.4 L460.7 382.8 L459.7 381.7 L460 380.5 L458.8 379.3 L458.2 380.1 L457.2 379.2 L457 377.8 L455.8 377 L455.6 378.2 L454.5 377.7 L454 376.1 L452.8 375.8 L452.9 377.2 L451.9 377.1 L451.1 375.7 L450.1 375.8 L450.6 377.4 L449.8 377.7 L448.7 376.4 L448 377.1 L448.7 378.6 L448.2 379.3 L447 378.4 L446.6 379.4 L447.6 380.7 L447.3 381.8 L446.2 381.3 L446.1 382.6 L447.2 383.6 L447.3 384.9 L446.3 384.8 L446.6 386.4 L447.7 386.9 L448.2 388.3 L447.3 388.7 L448 390.3 L449 390.4 L449.8 391.7 L449.2 392.6 L450.1 394 L451 393.7 L451.9 394.8 L451.7 396 L452.8 397.2 L453.4 396.4 L454.5 397.3 L454.6 398.7 L455.8 399.5 L456.1 398.3 L457.2 398.8 L457.7 400.3 L458.8 400.7 L458.7 399.3 L459.7 399.3 L460.5 400.8 L461.6 400.6 L461.1 399.1 L461.9 398.8Z" fill="#fff"/><path d="M461.1 397.4A10.5 6.1 60 1 0 450.6 379.1A10.5 6.1 60 1 0 461.1 397.4"/><path d="M449.6 380L455.7 377.3M448.9 381.1L455 378.5M448.5 382.6L454.7 379.8M448.4 384.4L454.6 381.5M448.6 386.3L454.8 383.2M449.2 388.3L455.3 385.1M450 390.3L456.1 386.9M451.1 392.2L457.1 388.7M452.4 393.9L458.3 390.3M453.9 395.4L459.7 391.6M455.4 396.6L461.1 392.7M457 397.4L462.5 393.5M458.5 397.8L463.9 393.8M459.9 397.8L465.2 393.8"/><path d="M455.2 378 L454.7 379.8 L454.6 381.9 L455.1 384.2 L456 386.6 L457.3 388.9 L458.9 390.9 L460.7 392.5 L462.6 393.5 L464.3 393.9"/>
<path d="M551 359.8 L553.4 357.6 L554.9 354.2 L555.4 350 L554.9 345.2 L553.4 340.1 L551 335.1 L547.9 330.5 L544.2 326.6 L540.3 323.8 L536.4 322.1 L532.7 321.7 L529.6 322.7 L528.3 323.5 L525.9 325.7 L524.4 329 L523.9 333.3 L524.4 338.1 L525.9 343.2 L528.3 348.2 L531.4 352.8 L535.1 356.6 L539 359.5 L542.9 361.1 L546.6 361.5 L549.7 360.5Z" fill="#fff"/><path d="M549.7 360.5A21.4 12.4 60 1 0 528.3 323.5A21.4 12.4 60 1 0 549.7 360.5" fill="#fff"/><path d="M547.2 356.3L549.7 360.5M548.6 355.2L551.5 359.1M549.7 353.6L552.8 357M550.4 351.6L553.7 354.5M550.7 349.4L554.1 351.5M550.6 346.8L554 348.2M550.1 344.1L553.3 344.7M549.2 341.3L552.2 341.1M548 338.6L550.6 337.6M546.5 335.9L548.7 334.1M544.7 333.5L546.4 331M542.7 331.4L543.8 328.2M540.6 329.6L541.1 325.9M538.5 328.2L538.3 324.1M536.3 327.3L535.5 323M534.3 327L532.9 322.5M532.4 327.1L530.4 322.6M530.8 327.7L528.3 323.5M529.4 328.8L526.5 324.9M528.3 330.4L525.2 327M527.6 332.4L524.3 329.5M527.3 334.6L523.9 332.5M527.4 337.2L524 335.8M527.9 339.9L524.7 339.3M528.8 342.7L525.8 342.9M530 345.4L527.4 346.4M531.5 348.1L529.3 349.9M533.3 350.5L531.6 353M535.3 352.6L534.2 355.8M537.4 354.4L536.9 358.1M539.5 355.8L539.7 359.9M541.7 356.7L542.5 361M543.7 357L545.1 361.5M545.6 356.9L547.6 361.4"/><path d="M547.2 356.3A16.5 9.5 60 1 0 530.8 327.7A16.5 9.5 60 1 0 547.2 356.3"/>
<path d="M459.8 441.5 L462.3 439.8 L464.5 437.6 L466.4 435 L467.9 432 L469.1 428.7 L470 425 L470.4 421 L470.5 416.8 L470.3 412.4 L469.6 407.8 L468.6 403.1 L467.2 398.3 L465.5 393.5 L463.5 388.8 L461.1 384.1 L458.5 379.6 L455.6 375.2 L452.5 371.1 L449.3 367.2 L445.8 363.6 L442.3 360.4 L438.6 357.5 L434.9 355.1 L431.2 353.1 L427.5 351.5 L423.9 350.4 L420.4 349.7 L417.1 349.6 L413.9 349.9 L410.9 350.7 L408.1 352 L402.9 355 L400.5 356.7 L398.3 358.9 L396.4 361.5 L394.8 364.5 L393.6 367.8 L392.8 371.5 L392.3 375.5 L392.2 379.7 L392.5 384.1 L393.2 388.7 L394.2 393.4 L395.6 398.2 L397.3 403 L399.3 407.7 L401.7 412.4 L404.3 416.9 L407.2 421.3 L410.2 425.4 L413.5 429.3 L417 432.9 L420.5 436.1 L424.2 439 L427.9 441.4 L431.6 443.4 L435.2 445 L438.9 446.1 L442.4 446.8 L445.7 446.9 L448.9 446.6 L451.9 445.8 L454.6 444.5Z" fill="#fff" stroke="none"/><path d="M455.6 440 L457.2 442.8 L460.1 441.4 L458.6 438.5 L460.6 437.1 L462.5 439.6 L464.9 437.2 L463.1 434.5 L464.5 432.4 L466.7 434.5 L468.3 431.2 L466.2 428.9 L467.1 426.1 L469.4 427.8 L470.2 423.8 L467.9 421.9 L468.2 418.6 L470.5 419.8 L470.5 415.2 L468.2 413.8 L467.9 410.1 L470.1 410.7 L469.2 405.7 L467 404.9 L466 401 L468 401 L466.4 395.9 L464.3 395.7 L462.8 391.8 L464.5 391.2 L462.2 386.1 L460.3 386.5 L458.2 382.7 L459.7 381.5 L456.7 376.8 L455.1 377.8 L452.7 374.3 L453.7 372.6 L450.2 368.3 L449 369.9 L446.3 366.9 L446.9 364.7 L443.1 361.1 L442.3 363.1 L439.4 360.7 L439.5 358.2 L435.5 355.5 L435.2 357.9 L432.2 356.2 L431.8 353.4 L427.9 351.6 L428.1 354.3 L425.1 353.4 L424.3 350.5 L420.5 349.7 L421.2 352.6 L418.4 352.5 L417.2 349.6 L413.8 349.9 L414.8 352.8 L412.4 353.5 L410.8 350.7 L407.9 352.1 L409.3 355 L407.3 356.4 L405.4 353.9"/><path d="M457.3 442.6L462.5 439.6M459.7 440.2L464.9 437.2M457.9 437.5L463.1 434.5M461.5 437.5L466.7 434.5M463.1 434.2L468.3 431.2M461 431.9L466.2 428.9M464.2 430.8L469.4 427.8M465 426.8L470.2 423.8M462.8 424.9L467.9 421.9M465.3 422.8L470.5 419.8M465.3 418.2L470.5 415.2M463 416.8L468.2 413.8M464.9 413.7L470.1 410.7M464 408.7L469.2 405.7M461.8 407.9L467 404.9M462.8 404L468 401M461.2 398.9L466.4 395.9M459.1 398.7L464.3 395.7M459.3 394.2L464.5 391.2M457 389.1L462.2 386.1M455.1 389.5L460.3 386.5M454.5 384.5L459.7 381.5M451.5 379.8L456.7 376.8M449.9 380.8L455.1 377.8M448.5 375.6L453.7 372.6M445 371.3L450.2 368.3M443.9 372.9L449 369.9M441.7 367.7L446.9 364.7M437.9 364.1L443.1 361.1M437.1 366.1L442.3 363.1M434.3 361.2L439.5 358.2M430.3 358.5L435.5 355.5M430 360.9L435.2 357.9M426.7 356.4L431.8 353.4M422.7 354.6L427.9 351.6M422.9 357.3L428.1 354.3M419.1 353.5L424.3 350.5M415.3 352.7L420.5 349.7M416 355.6L421.2 352.6M412 352.6L417.2 349.6M408.6 352.9L413.8 349.9M409.6 355.8L414.8 352.8M405.6 353.7L410.8 350.7M402.7 355.1L407.9 352.1M404.1 358L409.3 355"/><path d="M454.9 444.4 L453.4 441.5 L455.4 440.1 L457.3 442.6 L459.7 440.2 L457.9 437.5 L459.4 435.4 L461.5 437.5 L463.1 434.2 L461 431.9 L461.9 429.1 L464.2 430.8 L465 426.8 L462.8 424.9 L463 421.6 L465.3 422.8 L465.3 418.2 L463 416.8 L462.7 413.1 L464.9 413.7 L464 408.7 L461.8 407.9 L460.8 404 L462.8 404 L461.2 398.9 L459.1 398.7 L457.6 394.8 L459.3 394.2 L457 389.1 L455.1 389.5 L453 385.7 L454.5 384.5 L451.5 379.8 L449.9 380.8 L447.5 377.3 L448.5 375.6 L445 371.3 L443.9 372.9 L441.1 369.9 L441.7 367.7 L437.9 364.1 L437.1 366.1 L434.2 363.7 L434.3 361.2 L430.3 358.5 L430 360.9 L427 359.2 L426.7 356.4 L422.7 354.6 L422.9 357.3 L419.9 356.4 L419.1 353.5 L415.3 352.7 L416 355.6 L413.2 355.5 L412 352.6 L408.6 352.9 L409.6 355.8 L407.2 356.5 L405.6 353.7 L402.7 355.1 L404.1 358 L402.1 359.4 L400.2 356.9 L397.9 359.3 L399.7 362 L398.2 364.1 L396.1 362 L394.5 365.3 L396.6 367.6 L395.7 370.4 L393.4 368.7 L392.6 372.7 L394.8 374.6 L394.5 377.9 L392.3 376.7 L392.3 381.3 L394.6 382.7 L394.9 386.4 L392.7 385.8 L393.6 390.8 L395.8 391.6 L396.8 395.5 L394.7 395.5 L396.4 400.6 L398.5 400.8 L400 404.7 L398.3 405.3 L400.6 410.4 L402.5 410 L404.5 413.8 L403.1 415 L406.1 419.7 L407.7 418.7 L410.1 422.2 L409.1 423.9 L412.5 428.2 L413.7 426.6 L416.5 429.6 L415.9 431.8 L419.7 435.4 L420.5 433.4 L423.4 435.8 L423.3 438.3 L427.3 441 L427.6 438.6 L430.6 440.3 L430.9 443.1 L434.9 444.9 L434.7 442.2 L437.7 443.1 L438.5 446 L442.3 446.8 L441.6 443.9 L444.4 444 L445.6 446.9 L449 446.6 L448 443.7 L450.4 443 L452 445.8Z" fill="#fff"/><path d="M453.3 445.3 L455.8 443.5 L458 441.4 L459.9 438.8 L461.4 435.8 L462.6 432.4 L463.5 428.7 L463.9 424.8 L464 420.5 L463.8 416.1 L463.1 411.5 L462.1 406.8 L460.7 402.1 L459 397.3 L457 392.5 L454.6 387.9 L452 383.3 L449.1 379 L446 374.8 L442.8 371 L439.3 367.4 L435.8 364.2 L432.1 361.3 L428.4 358.8 L424.7 356.8 L421 355.2 L417.4 354.1 L413.9 353.5 L410.6 353.3 L407.4 353.6 L404.4 354.4 L401.6 355.7 L396.4 358.7 L394 360.5 L391.8 362.6 L389.9 365.2 L388.4 368.2 L387.2 371.6 L386.3 375.3 L385.8 379.2 L385.8 383.5 L386 387.9 L386.7 392.5 L387.7 397.2 L389.1 401.9 L390.8 406.7 L392.8 411.5 L395.2 416.1 L397.8 420.7 L400.7 425 L403.8 429.2 L407 433 L410.5 436.6 L414 439.8 L417.7 442.7 L421.4 445.2 L425.1 447.2 L428.7 448.8 L432.4 449.9 L435.9 450.5 L439.2 450.7 L442.4 450.4 L445.4 449.6 L448.2 448.3Z" fill="#fff" stroke="none"/><path d="M450.8 446.5 L449.5 443.6 L451.7 442.5 L453.5 445.2 L456.1 443.3 L454.5 440.5 L456.3 438.7 L458.3 441 L460.2 438.2 L458.3 435.7 L459.5 433.2 L461.7 435.1 L462.9 431.4 L460.8 429.3 L461.4 426.3 L463.6 427.7 L464 423.4 L461.8 421.7 L461.7 418.2 L464 419.1 L463.5 414.3 L461.3 413.2 L460.6 409.4 L462.7 409.7 L461.5 404.6 L459.3 404.1 L458.1 400.2 L460 399.8 L457.9 394.7 L455.9 394.8 L454.1 391 L455.8 390 L453.1 385.1 L451.3 385.8 L449.1 382.2 L450.3 380.7 L447.1 376.2 L445.7 377.4 L443.1 374.2 L443.9 372.2 L440.2 368.3 L439.2 370.1 L436.4 367.4 L436.7 365 L432.8 361.8 L432.3 364.1 L429.3 362 L429.2 359.3 L425.2 357 L425.1 359.6 L422.1 358.3 L421.6 355.4 L417.7 354.2 L418.1 357 L415.2 356.4 L414.2 353.5 L410.6 353.3 L411.4 356.2 L408.8 356.5 L407.4 353.6 L404.2 354.5 L405.5 357.4 L403.2 358.5 L401.5 355.8 L398.8 357.7 L400.5 360.5"/><path d="M448.3 448.2L453.5 445.2M450.9 446.3L456.1 443.3M449.3 443.5L454.5 440.5M453.1 444L458.3 441M455 441.2L460.2 438.2M453.1 438.7L458.3 435.7M456.5 438.1L461.7 435.1M457.7 434.4L462.9 431.4M455.6 432.3L460.8 429.3M458.4 430.7L463.6 427.7M458.8 426.4L464 423.4M456.6 424.7L461.8 421.7M458.8 422.1L464 419.1M458.3 417.3L463.5 414.3M456.1 416.2L461.3 413.2M457.6 412.7L462.7 409.7M456.3 407.6L461.5 404.6M454.1 407.1L459.3 404.1M454.8 402.8L460 399.8M452.7 397.7L457.9 394.7M450.7 397.8L455.9 394.8M450.6 393L455.8 390M447.9 388.1L453.1 385.1M446.1 388.8L451.3 385.8M445.1 383.7L450.3 380.7M441.9 379.2L447.1 376.2M440.5 380.4L445.7 377.4M438.7 375.2L443.9 372.2M435 371.3L440.2 368.3M434.1 373.1L439.2 370.1M431.5 368L436.7 365M427.6 364.8L432.8 361.8M427.1 367.1L432.3 364.1M424 362.3L429.2 359.3M420 360L425.2 357M419.9 362.6L425.1 359.6M416.4 358.4L421.6 355.4M412.5 357.2L417.7 354.2M412.9 360L418.1 357M409 356.5L414.2 353.5M405.4 356.3L410.6 353.3M406.2 359.2L411.4 356.2M402.2 356.6L407.4 353.6M399 357.5L404.2 354.5M400.3 360.4L405.5 357.4M396.3 358.8L401.5 355.8"/><path d="M446.6 445.5 L448.3 448.2 L450.9 446.3 L449.3 443.5 L451.1 441.7 L453.1 444 L455 441.2 L453.1 438.7 L454.3 436.2 L456.5 438.1 L457.7 434.4 L455.6 432.3 L456.2 429.3 L458.4 430.7 L458.8 426.4 L456.6 424.7 L456.5 421.2 L458.8 422.1 L458.3 417.3 L456.1 416.2 L455.4 412.4 L457.6 412.7 L456.3 407.6 L454.1 407.1 L452.9 403.2 L454.8 402.8 L452.7 397.7 L450.7 397.8 L449 394 L450.6 393 L447.9 388.1 L446.1 388.8 L443.9 385.2 L445.1 383.7 L441.9 379.2 L440.5 380.4 L437.9 377.2 L438.7 375.2 L435 371.3 L434.1 373.1 L431.2 370.4 L431.5 368 L427.6 364.8 L427.1 367.1 L424.1 365 L424 362.3 L420 360 L419.9 362.6 L416.9 361.3 L416.4 358.4 L412.5 357.2 L412.9 360 L410 359.4 L409 356.5 L405.4 356.3 L406.2 359.2 L403.6 359.5 L402.2 356.6 L399 357.5 L400.3 360.4 L398.1 361.5 L396.3 358.8 L393.7 360.7 L395.3 363.5 L393.5 365.3 L391.5 363 L389.6 365.8 L391.5 368.3 L390.3 370.8 L388.1 368.9 L386.9 372.6 L389 374.7 L388.4 377.7 L386.2 376.3 L385.8 380.6 L388 382.3 L388.1 385.8 L385.8 384.9 L386.3 389.7 L388.5 390.8 L389.2 394.6 L387 394.3 L388.3 399.4 L390.5 399.9 L391.7 403.8 L389.8 404.2 L391.9 409.3 L393.9 409.2 L395.6 413 L394 414 L396.7 418.9 L398.5 418.2 L400.7 421.8 L399.5 423.3 L402.7 427.8 L404.1 426.6 L406.7 429.8 L405.9 431.8 L409.6 435.7 L410.5 433.9 L413.4 436.6 L413.1 439 L417 442.2 L417.5 439.9 L420.5 442 L420.6 444.7 L424.6 447 L424.7 444.4 L427.7 445.7 L428.2 448.6 L432.1 449.8 L431.7 447 L434.6 447.6 L435.6 450.5 L439.2 450.7 L438.4 447.8 L441 447.5 L442.4 450.4 L445.6 449.5 L444.3 446.6 L446.6 445.5Z" fill="#fff"/><path d="M445.8 444.2A47 27.1 60 1 0 398.8 362.8A47 27.1 60 1 0 445.8 444.2"/><path d="M442.6 442.2A43.5 25.1 60 1 0 399.1 366.8A43.5 25.1 60 1 0 442.6 442.2"/>
<path d="M409 468.3 L411.3 471 L412.6 470.1 L411.2 466.8 L412.3 465.8 L414.8 468.2 L415.8 467 L414.1 463.7 L415 462.5 L417.6 464.5 L418.4 463 L416.5 459.9 L417.1 458.4 L419.7 460 L420.3 458.3 L418.1 455.4 L418.5 453.6 L421.1 454.8 L421.4 452.8 L419.1 450.2 L419.3 448.3 L421.8 449 L421.8 446.8 L419.3 444.5 L419.3 442.4 L421.7 442.7 L421.4 440.4 L418.9 438.5 L418.5 436.3 L420.8 436 L420.3 433.6 L417.7 432.1 L417.1 429.9 L419.2 429.2 L418.4 426.7 L415.8 425.6 L415 423.4 L416.8 422.2 L415.8 419.8 L413.3 419.1 L412.3 416.9 L413.8 415.3 L412.6 412.9 L410.2 412.7 L409 410.6 L410.2 408.6 L408.8 406.3 L406.6 406.6 L405.2 404.6 L406 402.2 L404.5 400.1 L402.5 400.9 L400.9 399 L401.4 396.3 L399.7 394.3 L398 395.6 L396.4 393.9 L396.5 390.9 L394.7 389.2 L393.2 390.9 L391.5 389.4 L391.2 386.3 L389.4 384.9 L388.3 386.9 L386.5 385.7 L385.9 382.5 L384 381.3 L383.2 383.7 L381.5 382.8 L380.5 379.5 L378.6 378.7 L378.2 381.4 L376.5 380.8 L375.2 377.4 L373.3 376.9 L373.3 379.9 L371.6 379.6 L370 376.3 L368.3 376.2 L368.6 379.4 L367.1 379.4 L365.2 376.2 L363.5 376.4 L364.3 379.7 L362.8 380.1 L360.7 377.1 L359.2 377.7 L360.3 381 L359 381.7 L356.7 379 L355.4 379.9 L356.8 383.2 L355.7 384.2 L353.2 381.8 L352.2 383 L353.9 386.3 L353 387.5 L350.4 385.5 L349.6 387 L351.5 390.1 L350.9 391.6 L348.3 390 L347.7 391.7 L349.9 394.6 L349.5 396.4 L346.9 395.2 L346.6 397.2 L348.9 399.8 L348.7 401.7 L346.2 401 L346.2 403.2 L348.7 405.5 L348.7 407.6 L346.3 407.3 L346.6 409.6 L349.1 411.5 L349.5 413.7 L347.2 414 L347.7 416.4 L350.3 417.9 L350.9 420.1 L348.8 420.8 L349.6 423.3 L352.2 424.4 L353 426.6 L351.2 427.8 L352.2 430.2 L354.7 430.9 L355.7 433.1 L354.2 434.7 L355.4 437.1 L357.8 437.3 L359 439.4 L357.8 441.4 L359.2 443.7 L361.4 443.4 L362.8 445.4 L362 447.8 L363.5 449.9 L365.5 449.1 L367.1 451 L366.6 453.7 L368.3 455.7 L370 454.4 L371.6 456.1 L371.5 459.1 L373.3 460.8 L374.8 459.1 L376.5 460.6 L376.8 463.7 L378.6 465.1 L379.7 463.1 L381.5 464.3 L382.1 467.5 L384 468.7 L384.8 466.3 L386.5 467.2 L387.5 470.5 L389.4 471.3 L389.8 468.6 L391.5 469.2 L392.8 472.6 L394.7 473.1 L394.7 470.1 L396.4 470.4 L398 473.7 L399.7 473.8 L399.4 470.6 L400.9 470.6 L402.8 473.8 L404.5 473.6 L403.7 470.3 L405.2 469.9 L407.3 472.9 L408.8 472.3 L407.7 469 L409 468.3ZM406.8 464.4A45.5 26.3 60 1 0 361.2 385.6A45.5 26.3 60 1 0 406.8 464.4" fill="#fff" fill-rule="evenodd"/>
<path d="M330.2 400.2 L326.7 399.6 L323.3 399.5 L320.1 399.8 L317.1 400.7 L314.3 402 L311.8 403.7 L309.5 405.9 L307.6 408.4 L306 411.4 L304.7 414.7 L303.7 418.3 L303.1 422.3 L302.9 426.4 L303 430.8 L303.5 435.4 L304.4 440.1 L305.6 444.9 L307.1 449.7 L309 454.6 L311.2 459.3 L313.6 464 L316.3 468.6 L319.3 472.9 L322.4 477.1 L325.8 480.9 L329.3 484.5 L332.9 487.8 L336.6 490.7 L340.3 493.2 L344 495.3 L347.8 496.9 L351.4 498.1 L355 498.9 L358.4 499.1 L361.7 499 L364.8 498.3 L367.7 497.2 L370.3 495.6 L372.7 493.6 L374.7 491.2 L376.5 488.4 L377.9 485.2 L379 481.7 L379.7 477.9 L380.1 473.8 L380.1 469.4 L379.7 464.9 L379 460.3 L377.9 455.5 L376.5 450.7 L374.8 445.9 L372.7 441.1 L370.4 436.3 L367.7 431.7 L364.9 427.3 L361.8 423.1 L358.5 419.1 L355.1 415.4 L351.5 412"/><path d="M330.8 402.9 L327.3 402.3 L324 402.2 L320.8 402.7 L317.8 403.6 L315.1 405 L312.7 406.8 L310.6 409.1 L308.7 411.8 L307.3 414.9 L306.2 418.4 L305.4 422.2 L305.1 426.3 L305.1 430.6 L305.5 435.1 L306.2 439.7 L307.4 444.5 L308.9 449.3 L310.7 454.1 L312.9 458.9 L315.3 463.5 L318 468 L321 472.3 L324.2 476.4 L327.6 480.2 L331.1 483.7 L334.7 486.8 L338.4 489.5 L342.1 491.8 L345.9 493.6 L349.5 495 L353.1 495.9 L356.6 496.4 L359.9 496.3 L363 495.7 L365.9 494.7 L368.6 493.2 L370.9 491.2 L373 488.8 L374.7 486 L376.1 482.8 L377.1 479.2 L377.7 475.3 L378 471.2 L377.9 466.8 L377.4 462.3 L376.5 457.6 L375.3 452.8 L373.7 448 L371.7 443.2 L369.5 438.5 L367 433.8 L364.2 429.4 L361.1 425.1 L357.9 421.1 L354.5 417.4 L350.9 414.1"/><path d="M369.2 494.9 L371.7 493.2 L373.9 491.1 L375.8 488.5 L377.4 485.5 L378.7 482.2 L379.6 478.6 L380.1 474.7 L380.3 470.5 L380.1 466.2 L379.6 461.6 L378.7 457 L377.4 452.2 L375.9 447.4 L374 442.7 L371.8 438 L369.3 433.4 L366.5 428.9 L363.6 424.6 L360.4 420.6 L357.1 416.8 L353.6 413.4" stroke-width="1.2"/>
<path d="M311.3 548.7 L313.8 547 L316.1 545 L318.2 542.6 L320 539.8 L321.5 536.8 L322.8 533.5 L323.7 529.9 L324.4 526 L324.8 522 L324.9 517.7 L324.6 513.3 L324.1 508.7 L323.3 504.1 L322.2 499.3 L320.8 494.5 L319.1 489.7 L317.2 484.9 L315 480.2 L312.6 475.5 L310 471 L307.1 466.5 L304.1 462.3 L300.9 458.2 L297.6 454.4 L294.1 450.8 L290.6 447.4 L287 444.4 L283.3 441.7 L279.6 439.2 L275.8 437.2 L272.1 435.5 L268.5 434.1 L264.9 433.2 L261.4 432.6 L258 432.4 L254.7 432.6 L251.6 433.2 L248.7 434.1 L245.9 435.5 L231.2 444 L228.7 445.7 L226.4 447.7 L224.3 450.1 L222.5 452.9 L221 455.9 L219.7 459.2 L218.8 462.8 L218.1 466.7 L217.7 470.7 L217.7 475 L217.9 479.4 L218.4 484 L219.2 488.6 L220.3 493.4 L221.7 498.2 L223.4 503 L225.3 507.8 L227.5 512.5 L229.9 517.2 L232.5 521.7 L235.4 526.2 L238.4 530.4 L241.6 534.5 L244.9 538.3 L248.4 541.9 L251.9 545.3 L255.6 548.3 L259.3 551 L263 553.5 L266.7 555.5 L270.4 557.2 L274.1 558.6 L277.7 559.5 L281.2 560.1 L284.6 560.3 L287.8 560.1 L290.9 559.5 L293.9 558.6 L296.6 557.2Z" fill="#fff" stroke="none"/><path d="M307.3 550.6 L306.1 545.8 L307.3 545.3 L310.7 549.1 L311.9 548.4 L310.3 543.6 L311.4 542.8 L314.9 546.1 L316 545.1 L313.9 540.4 L314.8 539.3 L318.5 542.2 L319.4 540.9 L316.9 536.3 L317.6 535 L321.3 537.3 L322 535.8 L319.1 531.3 L319.6 529.8 L323.3 531.6 L323.8 529.8 L320.6 525.7 L320.9 524 L324.5 525.1 L324.7 523.2 L321.3 519.4 L321.4 517.5 L324.9 518 L324.8 515.9 L321.3 512.6 L321.1 510.6 L324.3 510.4 L324 508.3 L320.4 505.4 L320 503.4 L323 502.5 L322.4 500.3 L318.7 498 L318.1 495.9 L320.8 494.4 L320 492.1 L316.3 490.5 L315.5 488.4 L317.8 486.3 L316.8 484 L313.2 483 L312.2 480.9 L314.1 478.2 L312.9 476 L309.4 475.6 L308.3 473.6 L309.7 470.5 L308.3 468.4 L305.1 468.6 L303.8 466.7 L304.7 463.1 L303.2 461.1 L300.3 462 L298.9 460.3 L299.3 456.3 L297.7 454.5 L295.1 456 L293.6 454.4 L293.5 450.1 L291.8 448.5 L289.6 450.7 L288 449.3 L287.4 444.7 L285.6 443.4 L283.8 446.1 L282.2 444.9 L281.1 440.2 L279.3 439.1 L278 442.3 L276.4 441.5 L274.8 436.7 L273 435.9 L272.2 439.5 L270.6 438.9 L268.5 434.2 L266.8 433.7 L266.5 437.7 L264.9 437.4 L262.5 432.7 L260.8 432.5 L261 436.9 L259.5 436.9 L256.7 432.4 L255.2 432.5 L255.9 437.1 L254.5 437.4 L251.4 433.2 L250 433.6 L251.1 438.4 L249.9 438.9 L246.6 435.1 L245.3 435.8 L246.9 440.6 L245.9 441.4 L242.3 438.1"/><path d="M297.6 556.6L314.9 546.1M298.8 555.8L316 545.1M297 551L313.9 540.4M301.6 553.3L318.5 542.2M302.6 552.2L319.4 540.9M300.4 547.5L316.9 536.3M304.9 549L321.3 537.3M305.7 547.6L322 535.8M303.1 543.1L319.1 531.3M307.4 543.8L323.3 531.6M308 542.2L323.8 529.8M305 537.9L320.6 525.7M309.1 537.8L324.5 525.1M309.5 536L324.7 523.2M306.3 532L321.3 519.4M310 531.1L324.9 518M310.1 529.1L324.8 515.9M306.7 525.5L321.3 512.6M310 523.8L324.3 510.4M309.9 521.7L324 508.3M306.3 518.6L320.4 505.4M309.2 516.1L323 502.5M308.8 513.9L322.4 500.3M305.1 511.3L318.7 498M307.5 508.1L320.8 494.4M306.9 505.8L320 492.1M303.2 503.8L316.3 490.5M305 500L317.8 486.3M304.2 497.7L316.8 484M300.5 496.3L313.2 483M301.8 491.9L314.1 478.2M300.7 489.6L312.9 476M297.2 488.8L309.4 475.6M297.8 483.9L309.7 470.5M296.6 481.7L308.3 468.4M293.2 481.6L305.1 468.6M293.2 476.3L304.7 463.1M291.8 474.2L303.2 461.1M288.7 474.7L300.3 462M288.1 469.1L299.3 456.3M286.6 467.1L297.7 454.5M283.7 468.3L295.1 456M282.5 462.4L293.5 450.1M280.9 460.7L291.8 448.5M278.4 462.5L289.6 450.7M276.6 456.5L287.4 444.7M274.8 455L285.6 443.4M272.8 457.4L283.8 446.1M270.4 451.5L281.1 440.2M268.6 450.2L279.3 439.1M267 453.1L278 442.3M264.1 447.3L274.8 436.7M262.3 446.3L273 435.9M261.2 449.7L272.2 439.5M257.8 444.1L268.5 434.2M256 443.4L266.8 433.7M255.4 447.3L266.5 437.7M251.6 442L262.5 432.7M249.9 441.6L260.8 432.5M249.7 445.8L261 436.9M245.6 441L256.7 432.4M244 440.9L255.2 432.5M244.4 445.4L255.9 437.1M240 441.1L251.4 433.2M238.5 441.3L250 433.6M239.4 446L251.1 438.4M234.9 442.3L246.6 435.1M233.5 442.8L245.3 435.8M234.8 447.6L246.9 440.6M230.2 444.6L242.3 438.1M229 445.4L241.3 439.1"/><path d="M294.1 553 L297.6 556.6 L298.8 555.8 L297 551 L298 550.1 L301.6 553.3 L302.6 552.2 L300.4 547.5 L301.2 546.3 L304.9 549 L305.7 547.6 L303.1 543.1 L303.7 541.7 L307.4 543.8 L308 542.2 L305 537.9 L305.5 536.3 L309.1 537.8 L309.5 536 L306.3 532 L306.5 530.2 L310 531.1 L310.1 529.1 L306.7 525.5 L306.7 523.6 L310 523.8 L309.9 521.7 L306.3 518.6 L306.1 516.5 L309.2 516.1 L308.8 513.9 L305.1 511.3 L304.7 509.2 L307.5 508.1 L306.9 505.8 L303.2 503.8 L302.5 501.7 L305 500 L304.2 497.7 L300.5 496.3 L299.7 494.2 L301.8 491.9 L300.7 489.6 L297.2 488.8 L296.1 486.8 L297.8 483.9 L296.6 481.7 L293.2 481.6 L292 479.6 L293.2 476.3 L291.8 474.2 L288.7 474.7 L287.4 472.8 L288.1 469.1 L286.6 467.1 L283.7 468.3 L282.3 466.6 L282.5 462.4 L280.9 460.7 L278.4 462.5 L276.8 461 L276.6 456.5 L274.8 455 L272.8 457.4 L271.2 456.1 L270.4 451.5 L268.6 450.2 L267 453.1 L265.4 452.1 L264.1 447.3 L262.3 446.3 L261.2 449.7 L259.5 448.9 L257.8 444.1 L256 443.4 L255.4 447.3 L253.8 446.8 L251.6 442 L249.9 441.6 L249.7 445.8 L248.2 445.6 L245.6 441 L244 440.9 L244.4 445.4 L242.9 445.4 L240 441.1 L238.5 441.3 L239.4 446 L238.1 446.3 L234.9 442.3 L233.5 442.8 L234.8 447.6 L233.6 448.2 L230.2 444.6 L229 445.4 L230.8 450.2 L229.8 451.1 L226.2 447.9 L225.2 449 L227.4 453.7 L226.6 454.9 L222.9 452.2 L222.1 453.6 L224.7 458.1 L224.1 459.5 L220.4 457.4 L219.8 459 L222.8 463.3 L222.3 464.9 L218.7 463.4 L218.3 465.2 L221.5 469.2 L221.3 471 L217.8 470.1 L217.7 472.1 L221.1 475.7 L221.1 477.6 L217.8 477.4 L217.9 479.5 L221.5 482.6 L221.7 484.7 L218.6 485.1 L219 487.3 L222.7 489.9 L223.1 492 L220.3 493.1 L220.9 495.4 L224.6 497.4 L225.3 499.5 L222.8 501.2 L223.6 503.5 L227.3 504.9 L228.1 507 L226 509.3 L227.1 511.6 L230.6 512.4 L231.7 514.4 L230 517.3 L231.2 519.5 L234.6 519.6 L235.8 521.6 L234.6 524.9 L236 527 L239.1 526.5 L240.4 528.4 L239.7 532.1 L241.2 534.1 L244.1 532.9 L245.5 534.6 L245.3 538.8 L246.9 540.5 L249.4 538.7 L251 540.2 L251.2 544.7 L253 546.2 L255 543.8 L256.6 545.1 L257.4 549.7 L259.2 551 L260.8 548.1 L262.4 549.1 L263.7 553.9 L265.5 554.9 L266.6 551.5 L268.3 552.3 L270 557.1 L271.8 557.8 L272.4 553.9 L274 554.4 L276.2 559.2 L277.9 559.6 L278.1 555.4 L279.6 555.6 L282.2 560.2 L283.8 560.3 L283.4 555.8 L284.9 555.8 L287.8 560.1 L289.3 559.9 L288.4 555.2 L289.7 554.9 L292.9 558.9 L294.3 558.4 L293 553.6 L294.1 553Z" fill="#fff"/><path d="M293.1 551.3A58.5 33.8 60 1 0 234.6 449.9A58.5 33.8 60 1 0 293.1 551.3"/><path d="M291.9 549.1A56 32.3 60 1 0 235.9 452.1A56 32.3 60 1 0 291.9 549.1"/><path d="M290 540.2A47 27.1 60 1 0 243 458.8A47 27.1 60 1 0 290 540.2"/><path d="M241.2 461.7 L239.5 464.6 L238.2 468 L237.3 471.7 L236.8 475.7 L236.8 480.1 L237.2 484.6 L238 489.4 L239.2 494.2 L240.8 499.1 L242.8 504 L245.2 508.7 L247.8 513.4 L250.8 517.8 L254 521.9 L257.4 525.8 L261 529.3 L264.7 532.3 L268.5 535 L272.2 537.1 L276 538.7 L279.7 539.8 L283.2 540.3 L286.6 540.3"/><path d="M277.5 532A34 19.6 60 1 0 243.5 473.2A34 19.6 60 1 0 277.5 532" fill="#fff"/><path d="M276.2 529.9A31.5 18.2 60 1 0 244.8 475.3A31.5 18.2 60 1 0 276.2 529.9"/><path d="M275 524.5A26 15 60 1 0 249 479.5A26 15 60 1 0 275 524.5"/><path d="M248.8 481.4 L247.6 484.8 L247.1 488.8 L247.4 493.2 L248.4 498 L250.1 502.8 L252.5 507.5 L255.4 511.9 L258.7 515.8 L262.3 519.1 L266 521.5 L269.7 523.1 L273.2 523.7"/><path d="M251.7 480.8 L250.7 484.5 L250.6 488.8 L251.2 493.4 L252.6 498.3 L254.7 503.1 L257.3 507.8 L260.5 512 L264 515.6 L267.8 518.5 L271.5 520.5 L275.2 521.6"/><path d="M256.2 480.4 L255.6 484.2 L255.8 488.6 L256.8 493.3 L258.4 498.1 L260.8 502.7 L263.6 507.1 L266.9 510.9 L270.5 514.1 L274.2 516.4 L277.8 517.9"/>
<path d="M242.6 546.7 L245.1 544.7 L246.9 541.9 L248.2 538.4 L248.7 534.3 L248.5 529.8 L247.6 524.9 L246.1 520 L243.9 515 L241.2 510.3 L238 506 L234.5 502.1 L230.7 499 L226.9 496.5 L223.1 494.9 L219.4 494.3 L216.1 494.5 L213.1 495.6 L205.8 499.9 L203.3 501.9 L201.4 504.7 L200.2 508.2 L199.7 512.3 L199.8 516.8 L200.7 521.6 L202.3 526.6 L204.5 531.5 L207.2 536.2 L210.3 540.6 L213.9 544.4 L217.6 547.6 L221.5 550 L225.3 551.6 L228.9 552.3 L232.3 552.1 L235.2 550.9Z" fill="#fff"/><path d="M235.2 550.9 L237.6 549 L239.5 546.3 L240.7 543 L241.3 539 L241.2 534.7 L240.5 530 L239.1 525.2 L237.1 520.4 L234.6 515.7 L231.6 511.4 L228.3 507.5 L224.7 504.2 L221 501.6 L217.2 499.7 L213.6 498.7 L210.2 498.5 L207.1 499.2 L204.5 500.7 L202.4 503 L200.8 506.1 L199.9 509.7 L199.6 513.9 L200.1 518.4 L201.1 523.2 L202.8 528 L205.1 532.8 L207.9 537.3 L211 541.4 L214.5 545 L218.2 548 L221.9 550.2 L225.6 551.7 L229.1 552.3 L232.4 552.1 L235.2 550.9Z"/><path d="M234.2 549.2A27.4 15.8 60 1 0 206.8 501.6A27.4 15.8 60 1 0 234.2 549.2"/><path d="M232.3 545.8A23.6 13.6 60 1 0 208.7 505A23.6 13.6 60 1 0 232.3 545.8"/><ellipse cx="233.4" cy="539.7" rx="2.1" ry="3.4" transform="rotate(-30 233.4 539.7)" fill="#fff"/><ellipse cx="234.4" cy="530.3" rx="2.1" ry="3.4" transform="rotate(-30 234.4 530.3)" fill="#fff"/><ellipse cx="230.2" cy="519" rx="2.1" ry="3.4" transform="rotate(-30 230.2 519)" fill="#fff"/><ellipse cx="222.2" cy="510.1" rx="2.1" ry="3.4" transform="rotate(-30 222.2 510.1)" fill="#fff"/><ellipse cx="213.6" cy="507.1" rx="2.1" ry="3.4" transform="rotate(-30 213.6 507.1)" fill="#fff"/><ellipse cx="207.6" cy="511.1" rx="2.1" ry="3.4" transform="rotate(-30 207.6 511.1)" fill="#fff"/><ellipse cx="206.6" cy="520.5" rx="2.1" ry="3.4" transform="rotate(-30 206.6 520.5)" fill="#fff"/><ellipse cx="210.8" cy="531.8" rx="2.1" ry="3.4" transform="rotate(-30 210.8 531.8)" fill="#fff"/><ellipse cx="218.8" cy="540.7" rx="2.1" ry="3.4" transform="rotate(-30 218.8 540.7)" fill="#fff"/><ellipse cx="227.4" cy="543.7" rx="2.1" ry="3.4" transform="rotate(-30 227.4 543.7)" fill="#fff"/><path d="M228.8 539.7A16.5 9.5 60 1 0 212.2 511.1A16.5 9.5 60 1 0 228.8 539.7" fill="#fff"/><path d="M226.7 536.1A12.4 7.2 60 1 0 214.3 514.7A12.4 7.2 60 1 0 226.7 536.1"/><path d="M218.4 513.1 L217.7 515.4 L217.7 518 L218.2 521 L219.4 524.1 L221.1 527 L223.2 529.5 L225.5 531.5 L227.8 532.8 L230.1 533.3"/>
<path d="M208.1 587.2 L210.5 591 L214 588.2 L211.6 584.4 L215.2 579 L218.2 581.8 L219.9 576.9 L216.8 574 L217.7 565.9 L220.9 567.4 L220.4 561 L217.2 559.4 L215.2 549.9 L218 549.8 L215.5 542.9 L212.7 542.9 L208.1 533.5 L210.1 531.8 L206 525.4 L203.9 527 L197.4 519.1 L198.3 516.1 L193.2 511.3 L192.2 514.2 L184.8 508.9 L184.5 505.1 L179.2 502.5 L179.4 506.3 L172.2 504.6 L170.7 500.4 L166 500.5 L167.4 504.6 L161.6 506.6 L159.1 502.8 L155.6 505.6 L158 509.4 L154.4 514.8 L151.4 512 L149.7 516.9 L152.8 519.8 L151.9 527.9 L148.7 526.4 L149.2 532.8 L152.4 534.4 L154.4 543.9 L151.6 544 L154.1 550.9 L156.9 550.9 L161.6 560.3 L159.5 562 L163.6 568.4 L165.7 566.8 L172.2 574.7 L171.3 577.7 L176.4 582.5 L177.4 579.6 L184.8 584.9 L185.1 588.7 L190.4 591.3 L190.2 587.5 L197.4 589.2 L198.9 593.4 L203.6 593.3 L202.2 589.2 L208.1 587.2Z" fill="#fff" stroke-width="0.9"/><path d="M189.8 562.3 L191.8 564.6 L192.9 563.7 L191.5 560.9 L192.2 559.8 L194.4 561.3 L194.9 559.8 L193 557.4 L193.2 555.9 L195.4 556.5 L195.3 554.5 L193.2 552.8 L192.9 551 L194.7 550.7 L194.1 548.5 L191.9 547.6 L191.2 545.8 L192.5 544.5 L191.3 542.4 L189.4 542.5 L188.3 540.8 L188.9 538.7 L187.4 536.9 L186 538 L184.6 536.7 L184.5 534.1 L182.8 532.8 L182 534.8 L180.6 534 L179.7 531.1 L178 530.6 L178 533.1 L176.7 532.9 L175.1 530.2 L173.7 530.4 L174.4 533.2 L173.3 533.7 L171.4 531.4 L170.3 532.3 L171.7 535.1 L171 536.2 L168.8 534.7 L168.3 536.2 L170.2 538.6 L170 540.1 L167.8 539.5 L167.9 541.5 L170 543.2 L170.3 545 L168.5 545.3 L169.1 547.5 L171.3 548.4 L172 550.2 L170.7 551.5 L171.8 553.6 L173.8 553.5 L174.9 555.2 L174.3 557.3 L175.8 559.1 L177.2 558 L178.6 559.3 L178.7 561.9 L180.4 563.2 L181.2 561.2 L182.6 562 L183.5 564.9 L185.2 565.4 L185.2 562.9 L186.5 563.1 L188.1 565.8 L189.5 565.6 L188.8 562.8 L189.8 562.3Z" stroke-width="0.9"/><path d="M181.1 533.8 L180.3 535.8 L178.9 535 L177.9 532.1 L176.3 531.6 L176.3 534.1 L174.9 533.9 L173.4 531.2 L172 531.4 L172.7 534.2 L171.6 534.7 L169.6 532.4 L168.6 533.3 L170 536.1 L169.3 537.2 L167.1 535.7 L166.5 537.2 L168.5 539.6 L168.2 541.1 L166.1 540.5 L166.1 542.5 L168.3 544.2 L168.6 546 L166.8 546.3 L167.4 548.5 L169.6 549.4 L170.3 551.2 L169 552.5 L170.1 554.6 L172.1 554.5 L173.2 556.2 L172.6 558.3 L174 560.1 L175.5 559 L176.8 560.3" stroke-width="1.1"/><path d="M179.7 534.5L179.5 531.9M178.9 534.1L178.5 531.5M178 533.8L177.6 531.2M177.2 533.6L176.6 530.9M176.4 533.5L175.6 530.8M175.6 533.4L174.7 530.7M174.9 533.5L173.8 530.7M174.2 533.6L173 530.9M173.5 533.8L172.2 531.1M172.9 534L171.4 531.4M172.2 534.4L170.7 531.8M171.7 534.8L170 532.3M171.2 535.3L169.4 532.8M170.7 535.8L168.9 533.5M170.3 536.4L168.4 534.2M170 537.1L168 535.1M169.7 537.9L167.6 535.9M169.4 538.7L167.4 536.9M169.2 539.5L167.2 537.9M169.1 540.4L167 539M169.1 541.4L167 540.1M169.1 542.4L167 541.2M169.1 543.4L167 542.4M169.3 544.4L167.2 543.7M169.5 545.5L167.4 544.9M169.7 546.6L167.7 546.2M170 547.7L168.1 547.5M170.4 548.7L168.5 548.8M170.8 549.8L169 550.1M171.3 550.9L169.6 551.4M171.8 552L170.2 552.6M172.4 553.1L170.8 553.9M173 554.1L171.6 555.1M173.6 555.1L172.3 556.3M174.3 556.1L173.2 557.4M175 557L174 558.5" stroke-width="1.2"/>
<path d="M168.6 595 L171 593.1 L173 590.5 L174.5 587.4 L175.3 583.6 L175.6 579.5 L175.3 574.9 L174.5 570.2 L173 565.3 L171 560.5 L168.6 555.8 L165.7 551.3 L162.5 547.1 L159 543.5 L155.3 540.3 L151.6 537.8 L147.8 536 L144.2 534.9 L140.7 534.5 L137.5 535 L134.6 536.1 L119 545.1 L116.5 547 L114.6 549.6 L113.1 552.8 L112.3 556.5 L112 560.7 L112.3 565.2 L113.1 570 L114.6 574.8 L116.5 579.7 L119 584.4 L121.9 588.9 L125.1 593 L128.6 596.7 L132.2 599.8 L136 602.3 L139.8 604.2 L143.4 605.3 L146.9 605.6 L150.1 605.2 L153 604Z" fill="#fff" stroke="none"/><path d="M165.3 591.7 L167.9 595.4 L169.8 594.2 L167.8 590.1 L169.5 588.3 L172.6 591.2 L173.7 589.2 L171 585.5 L171.9 582.7 L175.2 584.6 L175.5 581.8 L172.4 578.9 L172.4 575.5 L175.5 576.1 L175 572.8 L171.7 571 L170.8 567.2 L173.4 566.5 L172.2 563.1 L169.1 562.6 L167.3 558.9 L169.2 556.9 L167.3 553.7 L164.7 554.5 L162.3 551.1 L163.3 548.1 L160.9 545.4 L159.1 547.4 L156.3 544.8 L156.3 541 L153.6 539.1 L152.7 542.2 L149.8 540.5 L148.7 536.4 L146.1 535.4 L146.2 539.2 L143.4 538.7 L141.5 534.6 L139.2 534.6 L140.3 538.8 L137.9 539.5 L135.3 535.8 L133.4 536.9 L135.4 541"/><path d="M153.5 603.7L172.6 591.2M155.2 602.3L173.7 589.2M153.1 598.3L171 585.5M157.8 599L175.2 584.6M158.7 596.7L175.5 581.8M155.9 593.2L172.4 578.9M159.9 591.8L175.5 576.1M160 588.9L175 572.8M156.9 586.2L171.7 571M159.6 583L173.4 566.5M159 579.7L172.2 563.1M155.7 578.2L169.1 562.6M157.1 573.4L169.2 556.9M155.7 570L167.3 553.7M152.7 569.7L164.7 554.5M152.5 563.8L163.3 548.1M150.4 560.7L160.9 545.4M148 561.8L159.1 547.4M146.2 555.4L156.3 541M143.8 552.8L153.6 539.1M142.1 555.1L152.7 542.2M139 548.8L148.7 536.4M136.4 547L146.1 535.4M135.7 550.3L146.2 539.2M131.5 544.7L141.5 534.6M128.9 544L139.2 534.6M129.2 547.9L140.3 538.8M124.4 543.6L135.3 535.8M122.2 543.9L133.4 536.9M123.5 548.1L135.4 541M118.5 545.5L130.6 539.9"/><path d="M150.8 600.1 L153.5 603.7 L155.2 602.3 L153.1 598.3 L154.6 596.2 L157.8 599 L158.7 596.7 L155.9 593.2 L156.6 590.2 L159.9 591.8 L160 588.9 L156.9 586.2 L156.6 582.7 L159.6 583 L159 579.7 L155.7 578.2 L154.6 574.4 L157.1 573.4 L155.7 570 L152.7 569.7 L150.8 566.1 L152.5 563.8 L150.4 560.7 L148 561.8 L145.5 558.6 L146.2 555.4 L143.8 552.8 L142.1 555.1 L139.3 552.7 L139 548.8 L136.4 547 L135.7 550.3 L132.7 548.9 L131.5 544.7 L128.9 544 L129.2 547.9 L126.5 547.6 L124.4 543.6 L122.2 543.9 L123.5 548.1 L121.2 549 L118.5 545.5 L116.8 546.8 L118.9 550.9 L117.4 552.9 L114.2 550.2 L113.3 552.4 L116.1 556 L115.4 558.9 L112.1 557.3 L112 560.3 L115.1 562.9 L115.4 566.4 L112.4 566.1 L113 569.5 L116.3 571 L117.4 574.8 L114.9 575.8 L116.3 579.2 L119.3 579.4 L121.2 583.1 L119.5 585.3 L121.6 588.4 L124 587.4 L126.5 590.6 L125.8 593.8 L128.2 596.3 L129.9 594.1 L132.7 596.5 L133 600.4 L135.6 602.1 L136.3 598.8 L139.3 600.2 L140.5 604.4 L143.1 605.2 L142.8 601.3 L145.5 601.5 L147.6 605.6 L149.8 605.3 L148.5 601.1 L150.8 600.1Z" fill="#fff"/><path d="M148.3 597.5 L150.7 595.4 L152.5 592.5 L153.5 588.8 L153.7 584.4 L153.1 579.7 L151.7 574.8 L149.6 569.8 L146.9 565.1 L143.7 560.9 L140.1 557.2 L136.3 554.3 L132.5 552.3 L128.7 551.3 L125.3 551.4 L122.3 552.4 L118 554.9 L115.6 557 L113.8 559.9 L112.8 563.7 L112.6 568 L113.2 572.7 L114.6 577.6 L116.7 582.6 L119.4 587.3 L122.7 591.6 L126.2 595.2 L130 598.1 L133.9 600.1 L137.6 601.1 L141 601 L144 600Z" fill="#fff"/><path d="M144 600 L146.4 598 L148.1 595.2 L149.1 591.7 L149.4 587.5 L148.9 583 L147.7 578.2 L145.8 573.5 L143.3 568.8 L140.3 564.6 L136.9 560.8 L133.3 557.7 L129.6 555.5 L125.9 554.1 L122.5 553.7 L119.4 554.3 L116.8 555.8 L114.7 558.2 L113.3 561.4 L112.7 565.3 L112.8 569.6 L113.6 574.3 L115.2 579.1 L117.4 583.8 L120.1 588.3 L123.3 592.3 L126.8 595.7 L130.5 598.4 L134.2 600.2 L137.8 601.1 L141.1 601 L144 600Z"/><path d="M143 598.2A24 13.9 60 1 0 119 556.7A24 13.9 60 1 0 143 598.2"/><path d="M140.4 596.3 L142.8 594.1 L144.3 590.8 L144.8 586.7 L144.3 581.9 L142.8 576.9 L140.4 572 L137.4 567.5 L133.8 563.7 L129.9 560.9 L126.1 559.3 L122.5 558.9 L119.4 559.9 L112.5 563.9 L110.1 566.1 L108.7 569.4 L108.2 573.5 L108.7 578.2 L110.1 583.2 L112.5 588.1 L115.6 592.6 L119.2 596.4 L123 599.2 L126.8 600.9 L130.4 601.2 L133.5 600.3Z" fill="#fff"/><path d="M133.5 600.3 L135.8 598.2 L137.3 595.1 L137.8 591.2 L137.5 586.7 L136.2 581.9 L134.1 577.2 L131.3 572.7 L128 568.9 L124.4 565.8 L120.7 563.8 L117.1 562.9 L113.9 563.3 L111.3 564.8 L109.4 567.4 L108.3 570.9 L108.2 575.2 L109 579.8 L110.7 584.6 L113.2 589.3 L116.3 593.5 L119.8 596.9 L123.5 599.5 L127.1 600.9 L130.6 601.2 L133.5 600.3Z"/><path d="M129 592.5L132 597.7M130.3 591.3L133.9 596M131.1 589.7L135.2 593.5M131.5 587.6L135.7 590.3M131.3 585.1L135.5 586.7M130.7 582.5L134.6 582.7M129.7 579.9L133 578.8M128.2 577.4L130.8 575M126.5 575.2L128.2 571.7M124.5 573.3L125.3 568.9M122.5 572L122.2 567M120.5 571.3L119.2 565.9M118.6 571.2L116.4 565.7M117 571.7L114 566.5M115.7 572.8L112.1 568.2M114.9 574.5L110.8 570.7M114.5 576.6L110.3 573.9M114.7 579L110.5 577.5M115.3 581.6L111.4 581.4M116.3 584.3L113 585.4M117.8 586.8L115.2 589.1M119.5 589L117.8 592.5M121.5 590.8L120.7 595.2M123.5 592.2L123.8 597.2M125.5 592.9L126.8 598.3M127.4 593L129.6 598.5" stroke-width="1.3"/><path d="M129 592.5L132.9 597M130.3 591.3L134.5 595M131.1 589.7L135.5 592.2M131.5 587.6L135.7 588.8M131.3 585.1L135.2 585M130.7 582.5L134 581M129.7 579.9L132.1 577.1M128.2 577.4L129.8 573.5M126.5 575.2L127 570.4M124.5 573.3L124 568M122.5 572L120.9 566.4M120.5 571.3L118 565.7M118.6 571.2L115.3 565.9M117 571.7L113.1 567.1M115.7 572.8L111.5 569.2M114.9 574.5L110.5 572M114.5 576.6L110.3 575.4M114.7 579L110.8 579.2M115.3 581.6L112 583.1M116.3 584.3L113.9 587M117.8 586.8L116.2 590.6M119.5 589L119 593.7M121.5 590.8L122 596.2M123.5 592.2L125.1 597.8M125.5 592.9L128 598.5M127.4 593L130.7 598.2" stroke-width="1"/><path d="M132 597.7A18 10.4 60 1 0 114 566.5A18 10.4 60 1 0 132 597.7"/><path d="M129 592.5A12 6.9 60 1 0 117 571.7A12 6.9 60 1 0 129 592.5" fill="#fff"/>
<path d="M122.1 616.6 L124.8 615 L127 612.6 L128.5 609.4 L129.4 605.6 L129.6 601.3 L129 596.5 L127.8 591.6 L125.9 586.7 L123.5 581.8 L120.5 577.3 L117.1 573.2 L113.5 569.6 L109.7 566.8 L105.8 564.8 L102.1 563.6 L98.6 563.4 L95.4 564 L92.6 565.6"/><path d="M121.3 617.2A29.6 17.1 60 1 0 91.7 566A29.6 17.1 60 1 0 121.3 617.2" fill="#fff"/><path d="M117 609.8A21 12.1 60 1 0 96 573.4A21 12.1 60 1 0 117 609.8"/><path d="M94.7 576.4 L93.9 580.2 L94 584.5 L95 589.3 L96.9 594.1 L99.6 598.7 L102.8 602.7 L106.4 606 L110.1 608.3 L113.7 609.4"/>
<path d="M101.4 629.2 L103.8 627.3 L105.7 624.6 L106.9 621.4 L107.6 617.5 L107.6 613.3 L106.9 608.7 L105.7 603.9 L103.8 599.2 L101.4 594.5 L98.6 590.2 L95.4 586.2 L91.9 582.7 L88.3 579.9 L84.6 577.7 L80.9 576.4 L77.5 575.8 L74.3 576.1 L71.4 577.2 L69.7 578.2 L67.3 580.1 L65.5 582.7 L64.2 586 L63.6 589.9 L63.6 594.1 L64.2 598.7 L65.5 603.4 L67.3 608.2 L69.7 612.9 L72.5 617.2 L75.7 621.2 L79.2 624.7 L82.9 627.5 L86.5 629.7 L90.2 631 L93.7 631.6 L96.9 631.3 L99.7 630.2Z" fill="#fff"/><path d="M99.7 630.2A30 17.3 60 1 0 69.7 578.2A30 17.3 60 1 0 99.7 630.2" fill="#fff"/><path d="M97 625.4L99.7 630.2M98.7 624L101.9 628.5M100.1 622.2L103.6 626.2M101.2 619.9L104.9 623.4M101.8 617.2L105.7 620.1M102 614.2L105.9 616.4M101.8 610.9L105.7 612.5M101.2 607.5L104.9 608.3M100.1 604L103.6 604M98.7 600.5L101.9 599.7M97 597.1L99.7 595.5M94.9 593.9L97.2 591.6M92.6 590.9L94.3 587.9M90.1 588.3L91.3 584.7M87.4 586L88 581.9M84.7 584.2L84.7 579.7M82 582.9L81.4 578.1M79.3 582.1L78.1 577.1M76.8 581.8L75.1 576.8M74.5 582.1L72.2 577.2M72.5 583L69.7 578.2M70.7 584.3L67.5 579.9M69.3 586.2L65.8 582.2M68.2 588.5L64.5 585M67.6 591.2L63.7 588.3M67.4 594.2L63.5 591.9M67.6 597.4L63.7 595.9M68.2 600.9L64.5 600.1M69.3 604.4L65.8 604.4M70.7 607.9L67.5 608.7M72.5 611.3L69.7 612.9M74.5 614.5L72.2 616.8M76.8 617.5L75.1 620.5M79.3 620.1L78.1 623.7M82 622.4L81.4 626.5M84.7 624.2L84.7 628.7M87.4 625.5L88 630.3M90.1 626.3L91.3 631.3M92.6 626.6L94.3 631.6M94.9 626.3L97.2 631.2"/><path d="M97 625.4A24.5 14.1 60 1 0 72.5 583A24.5 14.1 60 1 0 97 625.4"/>
<path d="M77.3 642 L79.7 640 L81.6 637.2 L82.8 633.8 L83.3 629.8 L83.1 625.3 L82.2 620.5 L80.7 615.7 L78.6 610.8 L75.9 606.2 L72.8 601.9 L69.3 598.2 L65.6 595 L61.8 592.6 L58.1 591.1 L54.5 590.4 L51.2 590.6 L48.3 591.7 L40.5 596.2 L38.1 598.2 L36.2 600.9 L35 604.4 L34.5 608.4 L34.7 612.9 L35.6 617.6 L37.1 622.5 L39.2 627.4 L41.9 632 L45 636.3 L48.5 640 L52.2 643.2 L55.9 645.5 L59.7 647.1 L63.3 647.8 L66.6 647.6 L69.5 646.5Z" fill="#fff"/><path d="M69.5 646.5 L71.9 644.5 L73.8 641.7 L75 638.3 L75.5 634.3 L75.3 629.8 L74.4 625 L72.9 620.2 L70.8 615.3 L68.1 610.7 L65 606.4 L61.5 602.7 L57.8 599.5 L54.1 597.1 L50.3 595.6 L46.7 594.9 L43.4 595.1 L40.5 596.2 L38.1 598.2 L36.2 600.9 L35 604.4 L34.5 608.4 L34.7 612.9 L35.6 617.6 L37.1 622.5 L39.2 627.4 L41.9 632 L45 636.3 L48.5 640 L52.2 643.2 L55.9 645.5 L59.7 647.1 L63.3 647.8 L66.6 647.6 L69.5 646.5Z"/><path d="M68.5 644.7A27 15.6 60 1 0 41.5 598A27 15.6 60 1 0 68.5 644.7"/><path d="M66.6 641.4A23.2 13.4 60 1 0 43.4 601.3A23.2 13.4 60 1 0 66.6 641.4"/><ellipse cx="67.6" cy="635.4" rx="2" ry="3.3" transform="rotate(-30 67.6 635.4)" fill="#fff"/><ellipse cx="68.5" cy="625" rx="2" ry="3.3" transform="rotate(-30 68.5 625)" fill="#fff"/><ellipse cx="63" cy="612.8" rx="2" ry="3.3" transform="rotate(-30 63 612.8)" fill="#fff"/><ellipse cx="53.8" cy="604.6" rx="2" ry="3.3" transform="rotate(-30 53.8 604.6)" fill="#fff"/><ellipse cx="45.1" cy="604.3" rx="2" ry="3.3" transform="rotate(-30 45.1 604.3)" fill="#fff"/><ellipse cx="41.1" cy="611.9" rx="2" ry="3.3" transform="rotate(-30 41.1 611.9)" fill="#fff"/><ellipse cx="43.6" cy="624" rx="2" ry="3.3" transform="rotate(-30 43.6 624)" fill="#fff"/><ellipse cx="51.4" cy="634.8" rx="2" ry="3.3" transform="rotate(-30 51.4 634.8)" fill="#fff"/><ellipse cx="60.9" cy="639.3" rx="2" ry="3.3" transform="rotate(-30 60.9 639.3)" fill="#fff"/><path d="M63.1 635.4A16.2 9.4 60 1 0 46.9 607.3A16.2 9.4 60 1 0 63.1 635.4" fill="#fff"/><path d="M61.1 631.9A12.2 7 60 1 0 48.9 610.8A12.2 7 60 1 0 61.1 631.9"/><path d="M53.4 609 L52.7 611.2 L52.7 613.9 L53.2 616.8 L54.4 619.8 L56 622.7 L58.1 625.1 L60.3 627.1 L62.6 628.4 L64.9 628.9"/>
<path d="M59.5 637.8 L53.1 618.2 L37.9 607.9 L29.2 617.2 L35.6 636.8 L50.8 647.1Z" fill="#fff"/><path d="M55.1 640.3 L48.7 620.7 L33.6 610.4 L24.9 619.7 L31.3 639.3 L46.4 649.6Z" fill="#fff"/><path d="M55.1 640.3L59.5 637.8M48.7 620.7L53.1 618.2M33.6 610.4L37.9 607.9M24.9 619.7L29.2 617.2M31.3 639.3L35.6 636.8M46.4 649.6L50.8 647.1"/><path d="M55.1 640.3 L48.7 620.7 L33.6 610.4 L24.9 619.7 L31.3 639.3 L46.4 649.6Z" fill="#fff"/><path d="M47.6 644.4 L49.5 642.7 L50.6 640.2 L51 637 L50.6 633.3 L49.5 629.4 L47.6 625.6 L45.3 622.1 L42.5 619.2 L39.5 617 L36.5 615.7 L33.7 615.4 L31.3 616.2 L23.5 620.7 L21.7 622.4 L20.6 624.9 L20.2 628.1 L20.6 631.8 L21.7 635.7 L23.5 639.5 L25.9 643 L28.7 645.9 L31.7 648.1 L34.7 649.4 L37.5 649.6 L39.9 648.9Z" fill="#fff"/><path d="M39.9 648.9 L41.7 647.2 L42.8 644.7 L43.2 641.5 L42.8 637.8 L41.7 633.9 L39.9 630.1 L37.5 626.6 L34.7 623.7 L31.7 621.5 L28.7 620.2 L25.9 619.9 L23.5 620.7 L21.7 622.4 L20.6 624.9 L20.2 628.1 L20.6 631.8 L21.7 635.7 L23.5 639.5 L25.9 643 L28.7 645.9 L31.7 648.1 L34.7 649.4 L37.5 649.6 L39.9 648.9Z"/><path d="M38.9 647.2A14.3 8.3 60 1 0 24.5 622.4A14.3 8.3 60 1 0 38.9 647.2"/><path d="M26 622.6 L25.2 625.1 L25.1 628.2 L25.8 631.7 L27.1 635.2 L29 638.6 L31.4 641.5 L34.1 643.8 L36.8 645.3 L39.4 645.8"/><path d="M28 622.6 L27.7 625.5 L28 628.7 L29 632.1 L30.6 635.4 L32.7 638.5 L35.1 641.1 L37.8 643 L40.4 644.1"/></g>
<!-- b05_carrier -->
<g><path d="M815.6 490.4 L818 488.4 L819.9 485.7 L821.3 482.3 L821.9 478.3 L821.9 473.9 L821.3 469.1 L819.9 464.2 L818 459.2 L815.6 454.4 L812.6 449.8 L809.3 445.7 L805.7 442.1 L801.9 439.1 L798 436.9 L794.2 435.5 L790.6 434.9 L787.3 435.2 L784.4 436.4 L765.3 447.4 L762.8 449.4 L760.9 452.1 L759.6 455.5 L758.9 459.5 L758.9 463.9 L759.6 468.7 L760.9 473.6 L762.8 478.6 L765.3 483.4 L768.2 488 L771.6 492.1 L775.2 495.7 L779 498.7 L782.8 500.9 L786.6 502.3 L790.2 502.9 L793.6 502.6 L796.5 501.4Z" fill="#fff" stroke="none"/><path d="M811.5 487.6 L813.9 491.2 L815.3 490.6 L813.7 486.6 L814.8 485.8 L817.6 488.9 L818.6 487.7 L816.5 484 L817.2 482.7 L820.2 485.1 L820.9 483.5 L818.3 480.1 L818.7 478.5 L821.7 480.1 L821.9 478 L819 475.3 L819 473.4 L821.9 474 L821.7 471.8 L818.7 469.8 L818.3 467.8 L820.9 467.4 L820.2 465 L817.2 463.9 L816.4 461.8 L818.6 460.6 L817.5 458.2 L814.7 458 L813.7 456 L815.2 453.9 L813.8 451.6 L811.4 452.4 L810.1 450.6 L811 447.7 L809.3 445.8 L807.4 447.4 L805.9 445.9 L806.1 442.5 L804.3 440.9 L803 443.4 L801.4 442.3 L800.8 438.5 L799 437.4 L798.4 440.5 L796.8 439.8 L795.5 435.9 L793.7 435.4 L793.9 439 L792.4 438.8 L790.5 434.9 L788.8 435 L789.7 438.9 L788.4 439.2 L786 435.6 L784.6 436.2 L786.2 440.2 L785.1 441"/><path d="M797.1 501.1L817.6 488.9M798.3 500.1L818.6 487.7M796.3 496.3L816.5 484M800.2 497.9L820.2 485.1M801 496.5L820.9 483.5M798.6 492.9L818.3 480.1M802.2 493.4L821.7 480.1M802.6 491.5L821.9 478M799.8 488.5L819 475.3M803 487.7L821.9 474M802.9 485.6L821.7 471.8M799.9 483.2L818.7 469.8M802.4 481.3L820.9 467.4M802 479L820.2 465M798.9 477.5L817.2 463.9M800.7 474.5L818.6 460.6M799.8 472.1L817.5 458.2M796.9 471.5L814.7 458M797.8 467.7L815.2 453.9M796.5 465.4L813.8 451.6M793.9 465.8L811.4 452.4M793.9 461.3L811 447.7M792.3 459.2L809.3 445.8M790.2 460.5L807.4 447.4M789.2 455.6L806.1 442.5M787.5 453.9L804.3 440.9M785.9 456L803 443.4M784.1 451L800.8 438.5M782.2 449.7L799 437.4M781.4 452.6L798.4 440.5M778.8 447.8L795.5 435.9M776.9 447L793.7 435.4M776.8 450.5L793.9 439M773.6 446.1L790.5 434.9M771.8 445.9L788.8 435M772.4 449.8L789.7 438.9M768.8 446.1L786 435.6M767.3 446.5L784.6 436.2M768.6 450.4L786.2 440.2M764.7 447.7L782.3 437.9"/><path d="M794.4 497.8 L797.1 501.1 L798.3 500.1 L796.3 496.3 L797.2 495.2 L800.2 497.9 L801 496.5 L798.6 492.9 L799.1 491.5 L802.2 493.4 L802.6 491.5 L799.8 488.5 L800 486.7 L803 487.7 L802.9 485.6 L799.9 483.2 L799.7 481.3 L802.4 481.3 L802 479 L798.9 477.5 L798.3 475.4 L800.7 474.5 L799.8 472.1 L796.9 471.5 L795.9 469.5 L797.8 467.7 L796.5 465.4 L793.9 465.8 L792.7 463.8 L793.9 461.3 L792.3 459.2 L790.2 460.5 L788.7 458.8 L789.2 455.6 L787.5 453.9 L785.9 456 L784.3 454.7 L784.1 451 L782.2 449.7 L781.4 452.6 L779.7 451.7 L778.8 447.8 L776.9 447 L776.8 450.5 L775.2 450.1 L773.6 446.1 L771.8 445.9 L772.4 449.8 L771 449.8 L768.8 446.1 L767.3 446.5 L768.6 450.4 L767.4 451 L764.7 447.7 L763.5 448.7 L765.5 452.5 L764.6 453.6 L761.6 450.9 L760.8 452.3 L763.2 455.9 L762.7 457.3 L759.6 455.4 L759.2 457.3 L762 460.3 L761.8 462.1 L758.8 461.1 L758.9 463.2 L761.9 465.6 L762.1 467.5 L759.4 467.5 L759.8 469.8 L762.9 471.3 L763.5 473.4 L761.1 474.3 L762 476.7 L764.9 477.3 L765.9 479.3 L764 481.1 L765.3 483.4 L767.9 483 L769.1 485 L767.9 487.5 L769.5 489.6 L771.6 488.3 L773.1 490 L772.6 493.2 L774.3 494.9 L775.9 492.8 L777.5 494.1 L777.7 497.8 L779.6 499.1 L780.4 496.2 L782.1 497.1 L783 501 L784.9 501.8 L785 498.3 L786.6 498.7 L788.2 502.7 L790 502.9 L789.4 499 L790.8 499 L793 502.7 L794.5 502.3 L793.2 498.4 L794.4 497.8Z" fill="#fff"/><path d="M793.6 496.5A25.5 14.7 60 1 0 768.1 452.3A25.5 14.7 60 1 0 793.6 496.5"/><path d="M790.9 491.7 L793.1 489.6 L794.6 486.5 L795 482.6 L794.6 478.1 L793.1 473.3 L790.9 468.6 L788 464.3 L784.6 460.7 L780.9 458.1 L777.2 456.5 L773.8 456.2 L770.9 457.1 L767.4 459.1 L765.2 461.2 L763.8 464.3 L763.3 468.2 L763.8 472.7 L765.2 477.5 L767.4 482.2 L770.4 486.5 L773.8 490.1 L777.4 492.7 L781.1 494.3 L784.5 494.6 L787.4 493.7Z" fill="#fff"/><path d="M787.4 493.7 L789.7 491.6 L791.1 488.5 L791.6 484.6 L791.1 480.1 L789.7 475.3 L787.4 470.6 L784.5 466.3 L781.1 462.7 L777.4 460.1 L773.8 458.5 L770.4 458.2 L767.4 459.1 L765.2 461.2 L763.8 464.3 L763.3 468.2 L763.8 472.7 L765.2 477.5 L767.4 482.2 L770.4 486.5 L773.8 490.1 L777.4 492.7 L781.1 494.3 L784.5 494.6 L787.4 493.7Z"/><path d="M788.6 486.9 L790.4 485.2 L791.5 482.8 L791.9 479.7 L791.5 476.1 L790.4 472.3 L788.6 468.6 L786.3 465.3 L783.6 462.4 L780.7 460.3 L777.8 459.1 L775.1 458.8 L772.8 459.5 L736.5 480.5 L734.7 482.2 L733.6 484.6 L733.2 487.7 L733.6 491.3 L734.7 495.1 L736.5 498.8 L738.8 502.1 L741.5 505 L744.4 507.1 L747.2 508.3 L749.9 508.6 L752.3 507.9Z" fill="#fff"/><path d="M752.3 507.9 L754 506.2 L755.1 503.8 L755.5 500.7 L755.1 497.1 L754 493.3 L752.3 489.6 L749.9 486.3 L747.2 483.4 L744.4 481.3 L741.5 480.1 L738.8 479.8 L736.5 480.5 L734.7 482.2 L733.6 484.6 L733.2 487.7 L733.6 491.3 L734.7 495.1 L736.5 498.8 L738.8 502.1 L741.5 505 L744.4 507.1 L747.2 508.3 L749.9 508.6 L752.3 507.9Z"/><path d="M754.9 508.5 L756.9 506.7 L758.2 503.9 L758.6 500.4 L758.2 496.4 L756.9 492.2 L754.9 488.1 L752.3 484.3 L749.3 481.1 L746.1 478.7 L742.8 477.4 L739.8 477.1 L737.2 477.9 L716.4 489.9 L714.5 491.7 L713.2 494.5 L712.8 498 L713.2 502 L714.5 506.2 L716.4 510.3 L719 514.1 L722.1 517.3 L725.3 519.7 L728.5 521 L731.6 521.3 L734.1 520.5Z" fill="#fff"/><path d="M733.1 521L753.9 509M734.1 520.5L754.9 508.5M735.1 519.9L755.9 507.9M735.9 519L756.7 507M736.6 518L757.4 506M737.1 516.8L757.9 504.8M737.5 515.5L758.3 503.5M737.7 514L758.5 502M737.8 512.4L758.6 500.4M737.7 510.8L758.5 498.8M737.5 509L758.3 497M737.1 507.2L757.9 495.2M736.6 505.4L757.4 493.4M735.9 503.6L756.7 491.6M735.1 501.8L755.9 489.8M734.1 500.1L754.9 488.1M733.1 498.4L753.9 486.4M732 496.8L752.7 484.8M730.7 495.3L751.5 483.3M729.4 493.9L750.2 481.9M728.1 492.7L748.9 480.7M726.7 491.6L747.5 479.6M725.3 490.7L746.1 478.7M723.9 490L744.7 478M722.5 489.5L743.3 477.5M721.2 489.2L742 477.2M719.9 489L740.7 477M718.6 489.1L739.4 477.1M717.5 489.4L738.3 477.4M716.4 489.9L737.2 477.9M715.5 490.5L736.3 478.5" stroke-width="1.1"/><path d="M733.4 519.3 L734.3 520.4 L735.1 519.9 L734.5 518.6 L735.1 517.9 L736 518.8 L736.6 518 L735.8 516.8 L736.2 515.9 L737.2 516.5 L737.5 515.5 L736.6 514.4 L736.8 513.3 L737.8 513.7 L737.8 512.4 L736.8 511.6 L736.8 510.3 L737.7 510.4 L737.5 509 L736.5 508.4 L736.2 507.1 L737 506.9 L736.6 505.4 L735.6 505.1 L735.1 503.8 L735.7 503.3 L735.1 501.8 L734.1 501.8 L733.4 500.5 L733.9 499.7 L733.1 498.4 L732.3 498.6 L731.4 497.5 L731.7 496.5 L730.7 495.3 L730.1 495.8 L729.1 494.8 L729.2 493.7 L728.1 492.7 L727.6 493.5 L726.6 492.7 L726.4 491.5 L725.3 490.7 L725 491.7 L724 491.2 L723.6 489.9 L722.5 489.5 L722.5 490.7 L721.5 490.4 L720.9 489.1 L719.9 489 L720.1 490.3 L719.2 490.4 L718.4 489.2 L717.5 489.4 L717.9 490.7 L717.1 491.1 L716.3 490 L715.5 490.5 L716.1 491.8 L715.5 492.5 L714.6 491.6 L714 492.4 L714.8 493.6 L714.4 494.5 L713.4 493.9 L713.1 494.9 L714 496 L713.8 497.1 L712.8 496.7 L712.8 498 L713.8 498.8 L713.8 500.1 L712.9 500 L713.1 501.4 L714.1 502 L714.4 503.3 L713.6 503.5 L714 505 L715 505.3 L715.5 506.6 L714.9 507.1 L715.5 508.6 L716.5 508.6 L717.1 509.9 L716.7 510.7 L717.5 512 L718.3 511.8 L719.2 512.9 L718.9 513.9 L719.9 515.1 L720.5 514.6 L721.5 515.6 L721.4 516.7 L722.5 517.7 L723 516.9 L724 517.7 L724.2 518.9 L725.3 519.7 L725.6 518.7 L726.6 519.2 L727 520.5 L728.1 520.9 L728.1 519.7 L729.1 520 L729.7 521.3 L730.7 521.4 L730.5 520.1 L731.4 520 L732.2 521.2 L733.1 521 L732.7 519.7 L733.4 519.3Z" fill="#fff"/><ellipse cx="725.3" cy="505.2" rx="2.2" ry="3.6" transform="rotate(-30 725.3 505.2)"/>
<path d="M711.7 575.8 L714.2 574 L716.4 571.8 L718.4 569.2 L720 566.2 L721.3 562.8 L722.2 559.1 L722.7 555.2 L722.9 550.9 L722.7 546.4 L722.2 541.8 L721.3 537.1 L720 532.2 L718.4 527.3 L716.4 522.5 L714.2 517.7 L711.7 513 L708.9 508.5 L705.8 504.1 L702.6 500 L699.2 496.2 L695.6 492.6 L692 489.5 L688.2 486.7 L684.5 484.3 L680.7 482.3 L677 480.8 L673.3 479.7 L669.7 479.2 L666.3 479.1 L663.1 479.4 L660.1 480.3 L657.3 481.6 L607.9 510.1 L605.4 511.9 L603.1 514.1 L601.2 516.7 L599.6 519.7 L598.3 523.1 L597.4 526.8 L596.8 530.7 L596.6 535 L596.8 539.5 L597.4 544.1 L598.3 548.8 L599.6 553.7 L601.2 558.6 L603.1 563.4 L605.4 568.2 L607.9 572.9 L610.7 577.4 L613.7 581.8 L617 585.9 L620.4 589.7 L623.9 593.3 L627.6 596.4 L631.3 599.2 L635.1 601.6 L638.9 603.6 L642.6 605.1 L646.3 606.2 L649.8 606.7 L653.2 606.8 L656.5 606.5 L659.5 605.6 L662.3 604.3Z" fill="#fff"/><path d="M662.3 604.3 L664.8 602.6 L667 600.4 L668.9 597.9 L670.5 594.9 L671.8 591.6 L672.8 588 L673.3 584.1 L673.6 579.9 L673.4 575.6 L672.9 571 L672.1 566.4 L670.9 561.6 L669.4 556.8 L667.5 552 L665.4 547.3 L662.9 542.6 L660.3 538.1 L657.3 533.8 L654.2 529.7 L650.9 525.8 L647.4 522.2 L643.9 519 L640.2 516.1 L636.5 513.6 L632.8 511.5 L629.1 509.9 L625.4 508.6 L621.9 507.9 L618.5 507.5 L615.2 507.7 L612.1 508.3 L609.2 509.4 L606.6 510.9 L604.3 512.9 L602.2 515.2 L600.4 518 L599 521.1 L597.9 524.6 L597.1 528.3 L596.7 532.3 L596.7 536.6 L597 541.1 L597.6 545.7 L598.7 550.4 L600 555.2 L601.7 560 L603.7 564.7 L606 569.5 L608.6 574 L611.4 578.5 L614.4 582.7 L617.6 586.7 L621 590.4 L624.5 593.8 L628.2 596.9 L631.9 599.6 L635.6 601.9 L639.3 603.8 L642.9 605.2 L646.5 606.2 L650 606.8 L653.4 606.8 L656.6 606.5 L659.5 605.6 L662.3 604.3Z"/><path d="M692.6 585.9 L694.6 583.4 L696.2 580.5 L697.6 577.3 L698.6 573.8 L699.2 570 L699.5 565.9 L699.5 561.6 L699.1 557.1 L698.3 552.4 L697.2 547.7 L695.7 543 L694 538.2 L691.9 533.4 L689.6 528.8 L686.9 524.2 L684.1 519.9 L681 515.7 L677.8 511.8 L674.3 508.2 L670.8 504.8 L667.2 501.9 L663.5 499.3 L659.8 497.1 L656.1 495.3 L652.5 493.9 L648.9 493 L645.5 492.6 L642.1 492.6 L639 493.1"/><path d="M677.3 589.7 L678.8 586.5 L679.8 582.9 L680.5 579 L680.8 574.8 L680.7 570.4 L680.2 565.8 L679.4 561.1 L678.2 556.3 L676.6 551.4 L674.7 546.6 L672.5 541.8 L670 537.1 L667.2 532.5 L664.1 528.2 L660.9 524.1 L657.4 520.3 L653.9 516.9 L650.2 513.8 L646.5 511.1 L642.7 508.8 L638.9 507 L635.2 505.6 L631.6 504.8 L628.1 504.4"/><ellipse cx="666.5" cy="495" rx="3.3" ry="2" transform="rotate(-50 666.5 495)"/><ellipse cx="705" cy="563" rx="3.3" ry="2" transform="rotate(-50 705 563)"/><path d="M653.1 532.7L670.8 518M651.7 531.4L668.5 515.4M650.3 530.1L666.1 513M648.8 528.9L663.7 510.7M647.3 527.9L661.2 508.6M645.9 526.9L658.6 506.6M644.4 526.1L656.1 504.9M642.9 525.4L653.5 503.4M641.4 524.8L650.9 502.1M640 524.4L648.4 500.9M638.6 524.1L645.9 500.1" stroke-width="1.3"/><path d="M670.6 522.7 L667.4 518.8 L663.9 515.2 L660.4 512 L656.7 509.2 L653 506.7 L649.3 504.8 L645.7 503.2 L642.1 502.2"/><path d="M661.8 527.5 L662.2 524.3 L660.9 522.9 L659 524.4 L657.7 523.2 L657.6 519.7 L656.2 518.5 L654.7 520.5 L653.4 519.5 L652.9 515.8 L651.4 514.8 L650.3 517.3 L649 516.5 L648 512.7 L646.5 512 L645.9 514.9 L644.5 514.4 L643.1 510.5 L641.7 510.1"/><path d="M662.4 575.7L681 590.7M663.3 574.8L682.7 589.4M664 573.8L684.3 587.9M664.7 572.7L685.7 586.3M665.3 571.4L686.9 584.4M665.8 570.1L688 582.3M666.2 568.6L688.9 580.1M666.4 567.1L689.7 577.7M666.6 565.5L690.2 575.1M666.7 563.9L690.6 572.4M666.7 562.1L690.9 569.6" stroke-width="1.3"/><path d="M676.5 591 L679.1 589.4 L681.4 587.3 L683.3 584.8 L685 581.9 L686.2 578.7 L687.1 575 L687.6 571.1 L687.8 566.9"/><path d="M669 583.8 L671.6 586.9 L672.6 586.2 L671 582.4 L671.8 581.6 L674.7 584.3 L675.5 583.3 L673.5 579.6 L674.2 578.6 L677.1 580.7 L677.7 579.5 L675.4 576 L675.9 574.8 L678.8 576.5 L679.2 575.1 L676.7 571.8 L676.9 570.4 L679.8 571.5 L680 569.9 L677.2 567.1"/><path d="M660.9 601.8A51.5 29.7 60 1 0 609.4 512.6A51.5 29.7 60 1 0 660.9 601.8"/><path d="M650.6 590.1 L652.4 591.2 L654.4 592.5 L656.5 593.8 L658.6 594.9 L660.6 595.5 L662.3 595.8 L663.6 595.4 L664.5 594.5 L664.9 592.9 L664.8 590.9 L664.2 588.6 L663.3 586 L662 583.3 L660.6 580.7 L659.3 578.2 L658 576 L657 574.1 L656.3 572.4 L655.9 571 L655.7 569.8 L655.7 568.6 L655.9 567.5 L656.5 566.4 L657.2 565.3 L658.2 564.2 L659.3 562.9 L660.4 561.5 L661.4 559.8 L662 558 L662.3 556 L662.1 554 L661.5 552 L660.4 550.1 L658.9 548.4 L657 546.9 L655 545.7 L652.9 544.8 L650.9 544 L648.9 543.5 L647.2 543 L645.7 542.4 L644.4 541.8 L643.3 541 L642.4 540 L641.5 538.9 L640.6 537.6 L639.9 535.9 L639.1 534 L638.3 531.6 L637.5 529.1 L636.4 526.4 L635.3 523.7 L634 521.2 L632.5 519 L631 517.3 L629.4 516.3 L627.9 515.9 L626.5 516.1 L625.3 517 L624.3 518.4 L623.4 520.2 L622.7 522.1 L622.2 523.9 L621.7 525.6 L621.2 527 L620.6 528 L619.9 528.6 L619.1 528.9 L618.2 529 L617.2 528.8 L615.9 528.2 L614.4 527.3 L612.6 526.2 L610.6 524.9 L608.5 523.6 L606.4 522.5 L604.4 521.9 L602.7 521.6 L601.4 522 L600.5 522.9 L600.1 524.5 L600.2 526.5 L600.8 528.8 L601.7 531.4 L603 534.1 L604.4 536.7 L605.7 539.2 L607 541.4 L608 543.3 L608.7 545 L609.1 546.4 L609.3 547.6 L609.3 548.8 L609.1 549.9 L608.6 551 L607.8 552.1 L606.8 553.2 L605.7 554.5 L604.6 555.9 L603.6 557.6 L603 559.4 L602.7 561.4 L602.9 563.4 L603.5 565.4 L604.6 567.3 L606.2 569 L608 570.5 L610 571.7 L612.1 572.6 L614.1 573.4 L616.1 573.9 L617.8 574.4 L619.3 575 L620.6 575.6 L621.7 576.4 L622.6 577.4 L623.5 578.5 L624.4 579.8 L625.1 581.5 L625.9 583.4 L626.7 585.8 L627.5 588.3 L628.6 591 L629.7 593.7 L631.1 596.2 L632.5 598.4 L634 600.1 L635.6 601.1 L637.1 601.5 L638.5 601.3 L639.7 600.4 L640.7 599 L641.6 597.2 L642.3 595.3 L642.8 593.5 L643.3 591.8 L643.8 590.4 L644.4 589.4 L645.1 588.8 L645.9 588.5 L646.8 588.4 L647.8 588.6 L649.1 589.2Z" fill="#fff"/><path d="M648.6 586.6 L650.3 587.8 L652.2 589.2 L654.2 590.5 L656.3 591.6 L658.2 592.4 L659.8 592.7 L661.1 592.4 L662 591.6 L662.3 590.2 L662.2 588.3 L661.5 586 L660.5 583.6 L659.3 581 L657.8 578.5 L656.5 576.2 L655.2 574.1 L654.2 572.3 L653.5 570.8 L653.1 569.5 L652.9 568.4 L652.9 567.4 L653.2 566.4 L653.7 565.5 L654.5 564.6 L655.5 563.6 L656.7 562.5 L657.8 561.2 L658.8 559.7 L659.5 558.1 L659.8 556.3 L659.7 554.4 L659.1 552.5 L658.1 550.8 L656.7 549.2 L654.9 547.9 L653 546.9 L651 546.1 L649 545.5 L647.2 545.1 L645.6 544.7 L644.2 544.3 L643 543.8 L642 543.1 L641.2 542.2 L640.4 541.3 L639.7 540.1 L639 538.6 L638.4 536.7 L637.7 534.5 L637 532 L636.1 529.4 L635 526.8 L633.8 524.3 L632.5 522.2 L631.1 520.6 L629.7 519.6 L628.3 519.3 L627 519.6 L625.9 520.6 L625 522 L624.3 523.8 L623.7 525.7 L623.3 527.6 L622.9 529.3 L622.5 530.7 L622 531.7 L621.4 532.3 L620.7 532.5 L620 532.6 L619 532.4 L617.8 531.8 L616.4 530.8 L614.7 529.6 L612.8 528.2 L610.8 526.9 L608.7 525.8 L606.8 525 L605.2 524.7 L603.9 525 L603 525.8 L602.7 527.2 L602.8 529.1 L603.5 531.4 L604.5 533.8 L605.7 536.4 L607.2 538.9 L608.5 541.2 L609.8 543.3 L610.8 545.1 L611.5 546.6 L611.9 547.9 L612.1 549 L612.1 550 L611.8 551 L611.3 551.9 L610.5 552.8 L609.5 553.8 L608.3 554.9 L607.2 556.2 L606.2 557.7 L605.5 559.3 L605.2 561.1 L605.3 563 L605.9 564.9 L606.9 566.6 L608.3 568.2 L610.1 569.5 L612 570.5 L614 571.3 L616 571.9 L617.8 572.3 L619.4 572.7 L620.8 573.1 L622 573.6 L623 574.3 L623.8 575.2 L624.6 576.1 L625.3 577.3 L626 578.8 L626.6 580.7 L627.3 582.9 L628 585.4 L628.9 588 L630 590.6 L631.2 593.1 L632.5 595.2 L633.9 596.8 L635.3 597.8 L636.7 598.1 L638 597.8 L639.1 596.8 L640 595.4 L640.7 593.6 L641.3 591.7 L641.7 589.8 L642.1 588.1 L642.5 586.7 L643 585.7 L643.6 585.1 L644.3 584.9 L645 584.8 L646 585 L647.2 585.6Z"/><ellipse cx="659.4" cy="588.7" rx="2.5" ry="4.2" transform="rotate(-30 659.4 588.7)" fill="#fff"/><ellipse cx="656.8" cy="553.1" rx="2.5" ry="4.2" transform="rotate(-30 656.8 553.1)" fill="#fff"/><ellipse cx="629.9" cy="523" rx="2.5" ry="4.2" transform="rotate(-30 629.9 523)" fill="#fff"/><ellipse cx="605.6" cy="528.7" rx="2.5" ry="4.2" transform="rotate(-30 605.6 528.7)" fill="#fff"/><ellipse cx="608.2" cy="564.3" rx="2.5" ry="4.2" transform="rotate(-30 608.2 564.3)" fill="#fff"/><ellipse cx="635.1" cy="594.4" rx="2.5" ry="4.2" transform="rotate(-30 635.1 594.4)" fill="#fff"/><path d="M643.4 583.6A27 15.6 60 1 0 616.4 536.8A27 15.6 60 1 0 643.4 583.6" fill="#fff"/><path d="M641.7 580.6A23.5 13.6 60 1 0 618.2 539.8A23.5 13.6 60 1 0 641.7 580.6"/><path d="M637.7 577.7A19 11 60 1 0 618.7 544.7A19 11 60 1 0 637.7 577.7"/><path d="M619.5 545.6 L618.4 549 L618.3 553.1 L619.2 557.7 L620.9 562.4 L623.5 566.9 L626.7 570.8 L630.2 573.8 L633.8 575.8 L637.3 576.5"/><path d="M632 588.1 L634.3 586 L635.9 583.1 L636.7 579.4 L636.7 575.1 L635.9 570.4 L634.3 565.6 L632 560.9 L629.1 556.6 L625.7 552.8 L622.1 549.7 L618.4 547.6 L614.7 546.4 L611.4 546.3 L608.5 547.3 L599.8 552.3 L597.5 554.4 L595.9 557.3 L595 561 L595 565.3 L595.9 570 L597.5 574.8 L599.8 579.5 L602.7 583.8 L606.1 587.6 L609.7 590.7 L613.4 592.8 L617 594 L620.4 594.1 L623.3 593.1Z" fill="#fff"/><path d="M623.3 593.1 L625.6 591 L627.2 588.1 L628.1 584.4 L628.1 580.1 L627.2 575.4 L625.6 570.6 L623.3 565.9 L620.4 561.6 L617 557.8 L613.4 554.7 L609.7 552.6 L606.1 551.4 L602.7 551.3 L599.8 552.3 L597.5 554.4 L595.9 557.3 L595 561 L595 565.3 L595.9 570 L597.5 574.8 L599.8 579.5 L602.7 583.8 L606.1 587.6 L609.7 590.7 L613.4 592.8 L617 594 L620.4 594.1 L623.3 593.1Z"/><path d="M630.2 585 L632.5 582.9 L633.9 579.8 L634.4 575.9 L633.9 571.4 L632.5 566.6 L630.2 561.9 L627.3 557.6 L623.9 554 L620.2 551.4 L616.6 549.8 L613.1 549.5 L610.2 550.4 L575.6 570.4 L573.3 572.5 L571.9 575.6 L571.4 579.5 L571.9 584 L573.3 588.8 L575.6 593.5 L578.5 597.8 L581.9 601.4 L585.6 604 L589.2 605.6 L592.6 605.9 L595.6 605Z" fill="#fff"/><path d="M593.3 605.8L627.9 585.8M594.5 605.5L629.1 585.5M595.6 605L630.2 585M596.6 604.3L631.2 584.3M597.4 603.4L632.1 583.4M598.2 602.4L632.8 582.4M598.8 601.2L633.4 581.2M599.2 599.8L633.9 579.8M599.5 598.3L634.2 578.3M599.7 596.7L634.3 576.7M599.7 595L634.3 575M599.5 593.2L634.2 573.2M599.2 591.4L633.9 571.4M598.8 589.5L633.4 569.5M598.2 587.6L632.8 567.6M597.4 585.7L632.1 565.7M596.6 583.8L631.2 563.8M595.6 581.9L630.2 561.9M594.5 580.1L629.1 560.1M593.3 578.5L627.9 558.5M592 576.9L626.6 556.9M590.6 575.4L625.3 555.4M589.2 574L623.9 554M587.8 572.8L622.4 552.8M586.3 571.8L621 551.8M584.8 571L619.5 551M583.4 570.3L618 550.3M581.9 569.8L616.6 549.8M580.5 569.5L615.1 549.5M579.2 569.4L613.8 549.4M577.9 569.6L612.5 549.6M576.7 569.9L611.3 549.9M575.6 570.4L610.2 550.4M574.6 571.1L609.2 551.1M573.7 572L608.4 552" stroke-width="1.3"/><path d="M621.4 589.8 L624.2 588.4 L626.2 585.8 L627.3 582.3 L627.3 578 L626.4 573.2 L624.5 568.3 L621.9 563.7 L618.6 559.6 L614.9 556.4 L611.1 554.3 L607.5 553.5 L604.3 553.9 L601.7 555.6"/><path d="M594.8 603.7 L595.8 604.9 L596.6 604.3 L595.9 602.9 L596.5 602.3 L597.6 603.2 L598.2 602.4 L597.4 601.1 L597.8 600.2 L598.9 600.9 L599.2 599.8 L598.3 598.6 L598.5 597.5 L599.6 598 L599.7 596.7 L598.7 595.7 L598.6 594.5 L599.7 594.6 L599.5 593.2 L598.5 592.5 L598.2 591.1 L599.2 591 L598.8 589.5 L597.7 589 L597.2 587.6 L598 587.2 L597.4 585.7 L596.4 585.5 L595.7 584.1 L596.4 583.4 L595.6 581.9 L594.6 582 L593.8 580.7 L594.2 579.8 L593.3 578.5 L592.5 578.8 L591.5 577.7 L591.7 576.6 L590.6 575.4 L590 576 L589 575.1 L588.9 573.8 L587.8 572.8 L587.4 573.8 L586.3 573 L586 571.6 L584.8 571 L584.6 572.1 L583.5 571.6 L583.1 570.2 L581.9 569.8 L581.9 571.1 L580.9 570.9 L580.2 569.5 L579.2 569.4 L579.4 570.8 L578.5 570.9 L577.6 569.6 L576.7 569.9 L577.1 571.3 L576.3 571.7 L575.4 570.5 L574.6 571.1 L575.2 572.5 L574.6 573.1 L573.6 572.2 L573 573 L573.8 574.3 L573.4 575.2 L572.3 574.5 L571.9 575.6 L572.9 576.8 L572.7 577.9 L571.6 577.4 L571.5 578.7 L572.5 579.7 L572.5 580.9 L571.5 580.8 L571.6 582.2 L572.7 582.9 L572.9 584.3 L572 584.4 L572.4 585.9 L573.5 586.4 L573.9 587.8 L573.1 588.2 L573.7 589.7 L574.8 589.9 L575.4 591.3 L574.8 592 L575.6 593.5 L576.5 593.4 L577.3 594.7 L576.9 595.6 L577.9 596.9 L578.7 596.6 L579.6 597.7 L579.4 598.8 L580.5 600 L581.1 599.4 L582.2 600.3 L582.2 601.6 L583.4 602.6 L583.8 601.6 L584.9 602.4 L585.1 603.8 L586.3 604.4 L586.5 603.3 L587.6 603.8 L588.1 605.2 L589.2 605.6 L589.2 604.3 L590.3 604.5 L590.9 605.9 L592 606 L591.8 604.6 L592.7 604.5 L593.5 605.8 L594.5 605.5 L594 604.1 L594.8 603.7Z" fill="#fff"/></g>
<!-- b10_midleft -->
<g><path d="M850.1 467.3 L852.5 465.4 L854.4 462.6 L855.6 459.1 L856.1 455.1 L855.9 450.6 L855.1 445.8 L853.5 440.9 L851.4 436 L848.7 431.3 L845.5 427 L842.1 423.2 L838.4 420.1 L834.5 417.7 L830.8 416.1 L827.2 415.4 L823.8 415.6 L820.9 416.8"/><path d="M848.8 468.1A29.2 16.9 60 1 0 819.6 417.5A29.2 16.9 60 1 0 848.8 468.1M847.4 465.7A26.4 15.2 60 1 0 821 419.9A26.4 15.2 60 1 0 847.4 465.7" fill="#fff" fill-rule="evenodd"/>
<path d="M586.2 552.3A18.9 10.9 60 1 0 567.2 519.5A18.9 10.9 60 1 0 586.2 552.3M585 550.3A16.6 9.6 60 1 0 568.4 521.5A16.6 9.6 60 1 0 585 550.3" fill="#fff" fill-rule="evenodd"/>
<path d="M593.9 643.9A53.9 31.1 60 1 0 539.9 550.5A53.9 31.1 60 1 0 593.9 643.9" fill="#fff"/><path d="M592.7 641.9A51.6 29.8 60 1 0 541.1 552.5A51.6 29.8 60 1 0 592.7 641.9"/><path d="M581.9 557.3 L581.3 558 L582.5 560.4 L582 561.1 L580.2 559.8 L579.7 560.6 L581.1 562.9 L580.8 563.7 L579 562.8 L578.7 563.8 L580.3 565.9 L580.1 566.9 L578.3 566.3 L578.1 567.4 L579.9 569.3 L579.8 570.4 L578.1 570.1 L578.1 571.4 L580 573 L580.1 574.1 L578.5 574.3 L578.7 575.6 L580.6 576.9 L580.8 578.1 L579.4 578.7 L579.7 580 L581.6 581 L582 582.2 L580.8 583.1 L581.3 584.4 L583.2 585.1 L583.7 586.3 L582.7 587.5 L583.3 588.8 L585.1 589.1 L585.8 590.2 L585 591.8 L585.8 593 L587.4 592.9 L588.2 594 L587.7 595.8 L588.5 597 L590 596.4 L590.9 597.5 L590.7 599.5 L591.6 600.5 L592.9 599.7" stroke-width="1.2"/><path d="M583.5 559.1 L581.6 561.8 L580.4 565.2 L579.9 569.1 L580 573.5 L580.8 578.1 L582.3 582.9 L584.4 587.7 L587 592.3 L590 596.5 L593.4 600.2" stroke-width="0.8"/>
<path d="M533.1 655.3 L535.2 628.8 L515.5 601.6 L493.7 600.7 L491.6 627.2 L511.3 654.4Z" fill="#fff"/><path d="M522.7 661.3 L524.8 634.8 L535.2 628.8 L533.1 655.3Z" fill="#fff"/><path d="M524.8 634.8 L505.1 607.6 L515.5 601.6 L535.2 628.8Z" fill="#fff"/><path d="M505.1 607.6 L483.3 606.7 L493.7 600.7 L515.5 601.6Z" fill="#fff"/><path d="M483.3 606.7 L481.2 633.2 L491.6 627.2 L493.7 600.7Z" fill="#fff"/><path d="M481.2 633.2 L500.9 660.4 L511.3 654.4 L491.6 627.2Z" fill="#fff"/><path d="M500.9 660.4 L522.7 661.3 L533.1 655.3 L511.3 654.4Z" fill="#fff"/><path d="M522.7 661.3 L524.8 634.8 L505.1 607.6 L483.3 606.7 L481.2 633.2 L500.9 660.4Z" fill="#fff"/><path d="M517 658.2A28 16.2 60 1 0 489 609.8A28 16.2 60 1 0 517 658.2"/><path d="M516 656.5A26 15 60 1 0 490 611.5A26 15 60 1 0 516 656.5"/><path d="M489.7 612.7 L488.2 615.7 L487.3 619.4 L487.3 623.6 L487.9 628.2 L489.3 633 L491.4 637.7 L494 642.2 L497.1 646.4 L500.5 649.9 L504.1 652.8 L507.8 654.9 L511.4 656 L514.8 656.2"/><path d="M492.3 611.2 L490.8 614.2 L489.9 617.9 L489.9 622.1 L490.5 626.7 L491.9 631.5 L494 636.2 L496.6 640.7 L499.7 644.9 L503.1 648.4 L506.7 651.3 L510.4 653.4 L514 654.5 L517.4 654.7"/><path d="M494.9 609.7 L493.4 612.7 L492.5 616.4 L492.5 620.6 L493.1 625.2 L494.5 630 L496.6 634.7 L499.2 639.2 L502.3 643.4 L505.7 646.9 L509.3 649.8 L513 651.9 L516.6 653 L520 653.2"/><path d="M497.5 608.2 L496 611.2 L495.1 614.9 L495.1 619.1 L495.7 623.7 L497.1 628.5 L499.2 633.2 L501.8 637.7 L504.8 641.9 L508.3 645.4 L511.9 648.3 L515.6 650.4 L519.2 651.5 L522.6 651.7"/>
<path d="M499.8 686.8 L498.3 681.7 L494.6 675.9 L490.7 670.8 L488.5 666.6 L487.3 662.7 L485.9 658.8 L484.3 654.9 L482.5 651.1 L480.4 647.4 L478.2 643.7 L475.8 640.2 L473.3 636.9 L470.6 633.7 L467.8 630.7 L465.2 626.7 L462.7 620.8 L459.6 614.8 L455.9 610.9 L452.2 610.5 L449.1 612.9 L446.6 616 L444.1 617.1 L441.3 616.8 L438.6 616.8 L436.1 617.3 L433.7 618 L431.4 619.1 L429.4 620.5 L427.5 622.2 L425.9 624.2 L424.5 626.5 L423.4 629 L421.2 630.7 L417.3 631.3 L413.6 632.8 L412.1 636.2 L413.6 641.3 L417.3 647.1 L421.2 652.2 L423.4 656.4 L424.5 660.3 L425.9 664.2 L427.5 668.1 L429.4 671.9 L431.4 675.6 L433.7 679.3 L436.1 682.8 L438.6 686.1 L441.3 689.3 L444.1 692.3 L446.6 696.3 L449.1 702.2 L452.2 708.2 L455.9 712.1 L459.6 712.5 L462.7 710.1 L465.2 707 L467.8 705.9 L470.6 706.2 L473.3 706.2 L475.8 705.7 L478.2 705 L480.4 703.9 L482.5 702.5 L484.3 700.8 L485.9 698.8 L487.3 696.5 L488.5 694 L490.7 692.3 L494.6 691.7 L498.3 690.2Z" fill="#fff"/><path d="M496.3 688.8 L494.8 683.7 L491.1 677.9 L487.2 672.8 L485 668.6 L483.9 664.7 L482.5 660.8 L480.8 656.9 L479 653.1 L477 649.4 L474.7 645.7 L472.3 642.2 L469.8 638.9 L467.1 635.7 L464.3 632.7 L461.8 628.7 L459.3 622.8 L456.2 616.8 L452.5 612.9 L448.8 612.5 L445.6 614.9 L443.1 618 L440.6 619.1 L437.8 618.8 L435.1 618.8 L432.6 619.3 L430.2 620 L428 621.1 L425.9 622.5 L424.1 624.2 L422.5 626.2 L421.1 628.5 L419.9 631 L417.7 632.7 L413.8 633.3 L410.1 634.8 L408.6 638.2 L410.1 643.3 L413.8 649.1 L417.7 654.2 L419.9 658.4 L421.1 662.3 L422.5 666.2 L424.1 670.1 L425.9 673.9 L428 677.6 L430.2 681.3 L432.6 684.8 L435.1 688.1 L437.8 691.3 L440.6 694.3 L443.1 698.3 L445.6 704.2 L448.8 710.2 L452.5 714.1 L456.2 714.5 L459.3 712.1 L461.8 709 L464.3 707.9 L467.1 708.2 L469.8 708.2 L472.3 707.7 L474.7 707 L477 705.9 L479 704.5 L480.8 702.8 L482.5 700.8 L483.9 698.5 L485 696 L487.2 694.3 L491.1 693.7 L494.8 692.2Z" fill="#fff"/><path d="M476 704.2 L478.4 702.4 L480.6 700.2 L482.4 697.4 L483.8 694.3 L484.9 690.7 L485.5 686.9 L485.7 682.7 L485.5 678.3 L484.9 673.7 L483.8 668.9 L482.4 664.1 L480.6 659.3 L478.4 654.6 L476 649.9 L473.2 645.5 L470.1 641.2 L466.9 637.3 L463.4 633.6 L459.9 630.4 L456.2 627.5 L452.5 625.1 L448.7 623.2 L445.1 621.8 L441.5 620.9 L438 620.6 L434.8 620.8 L431.7 621.5 L429 622.8 L422 626.8 L419.6 628.6 L417.4 630.8 L415.6 633.6 L414.2 636.7 L413.1 640.3 L412.5 644.1 L412.3 648.3 L412.5 652.7 L413.1 657.3 L414.2 662.1 L415.6 666.9 L417.4 671.7 L419.6 676.4 L422 681.1 L424.8 685.5 L427.9 689.8 L431.1 693.7 L434.6 697.4 L438.1 700.6 L441.8 703.5 L445.5 705.9 L449.3 707.8 L452.9 709.2 L456.5 710.1 L460 710.4 L463.2 710.2 L466.3 709.5 L469 708.2Z" fill="#fff"/><path d="M469 708.2 L471.5 706.4 L473.7 704.2 L475.5 701.4 L476.9 698.3 L477.9 694.7 L478.6 690.9 L478.8 686.7 L478.6 682.3 L477.9 677.7 L476.9 672.9 L475.5 668.1 L473.7 663.3 L471.5 658.6 L469 653.9 L466.3 649.5 L463.2 645.2 L460 641.3 L456.5 637.6 L452.9 634.4 L449.3 631.5 L445.5 629.1 L441.8 627.2 L438.1 625.8 L434.6 624.9 L431.1 624.6 L427.9 624.8 L424.8 625.5 L422 626.8 L419.6 628.6 L417.4 630.8 L415.6 633.6 L414.2 636.7 L413.1 640.3 L412.5 644.1 L412.3 648.3 L412.5 652.7 L413.1 657.3 L414.2 662.1 L415.6 666.9 L417.4 671.7 L419.6 676.4 L422 681.1 L424.8 685.5 L427.9 689.8 L431.1 693.7 L434.6 697.4 L438.1 700.6 L441.8 703.5 L445.5 705.9 L449.3 707.8 L452.9 709.2 L456.5 710.1 L460 710.4 L463.2 710.2 L466.3 709.5 L469 708.2Z"/><ellipse cx="492.1" cy="686.4" rx="2" ry="3.4" transform="rotate(-30 492.1 686.4)"/><ellipse cx="452.5" cy="617.8" rx="2" ry="3.4" transform="rotate(-30 452.5 617.8)"/><ellipse cx="412.9" cy="640.6" rx="2" ry="3.4" transform="rotate(-30 412.9 640.6)"/><ellipse cx="452.5" cy="709.2" rx="2" ry="3.4" transform="rotate(-30 452.5 709.2)"/><path d="M467.5 705.6A44 25.4 60 1 0 423.5 629.4A44 25.4 60 1 0 467.5 705.6"/><path d="M466 703A41 23.7 60 1 0 425 632A41 23.7 60 1 0 466 703"/><path d="M466 700.3 L468.5 698.4 L470.6 696 L472.2 693 L473.3 689.5 L474 685.6 L474.1 681.3 L473.7 676.8 L472.8 672 L471.4 667.2 L469.6 662.3 L467.3 657.6 L464.7 653 L461.7 648.6 L458.4 644.6 L454.9 641 L451.2 637.8 L447.5 635.2 L443.7 633.2 L440 631.8 L436.4 631 L433 630.9 L429.9 631.5 L427 632.7 L427 632.7 L424.6 634.6 L422.5 637 L420.9 640 L419.7 643.5 L419.1 647.4 L419 651.7 L419.4 656.2 L420.3 661 L421.6 665.8 L423.5 670.7 L425.8 675.4 L428.4 680 L431.4 684.4 L434.7 688.4 L438.2 692 L441.9 695.2 L445.6 697.8 L449.4 699.8 L453.1 701.2 L456.7 702 L460.1 702.1 L463.2 701.5 L466 700.3Z" fill="#fff"/><path d="M466 700.3 L468.5 698.4 L470.6 696 L472.2 693 L473.3 689.5 L474 685.6 L474.1 681.3 L473.7 676.8 L472.8 672 L471.4 667.2 L469.6 662.3 L467.3 657.6 L464.7 653 L461.7 648.6 L458.4 644.6 L454.9 641 L451.2 637.8 L447.5 635.2 L443.7 633.2 L440 631.8 L436.4 631 L433 630.9 L429.9 631.5 L427 632.7 L424.6 634.6 L422.5 637 L420.9 640 L419.7 643.5 L419.1 647.4 L419 651.7 L419.4 656.2 L420.3 661 L421.6 665.8 L423.5 670.7 L425.8 675.4 L428.4 680 L431.4 684.4 L434.7 688.4 L438.2 692 L441.9 695.2 L445.6 697.8 L449.4 699.8 L453.1 701.2 L456.7 702 L460.1 702.1 L463.2 701.5 L466 700.3Z"/><path d="M464.7 697.9A36.3 20.9 60 1 0 428.4 635.1A36.3 20.9 60 1 0 464.7 697.9"/><path d="M463.5 695.9A34 19.6 60 1 0 429.5 637.1A34 19.6 60 1 0 463.5 695.9"/><ellipse cx="465.8" cy="688" rx="2.4" ry="3.8" transform="rotate(-30 465.8 688)" fill="#fff"/><ellipse cx="467" cy="672" rx="2.4" ry="3.8" transform="rotate(-30 467 672)" fill="#fff"/><ellipse cx="458.7" cy="653.5" rx="2.4" ry="3.8" transform="rotate(-30 458.7 653.5)" fill="#fff"/><ellipse cx="444.7" cy="641" rx="2.4" ry="3.8" transform="rotate(-30 444.7 641)" fill="#fff"/><ellipse cx="431.5" cy="640.5" rx="2.4" ry="3.8" transform="rotate(-30 431.5 640.5)" fill="#fff"/><ellipse cx="425.4" cy="652.2" rx="2.4" ry="3.8" transform="rotate(-30 425.4 652.2)" fill="#fff"/><ellipse cx="429.2" cy="670.5" rx="2.4" ry="3.8" transform="rotate(-30 429.2 670.5)" fill="#fff"/><ellipse cx="441" cy="687" rx="2.4" ry="3.8" transform="rotate(-30 441 687)" fill="#fff"/><ellipse cx="455.5" cy="693.9" rx="2.4" ry="3.8" transform="rotate(-30 455.5 693.9)" fill="#fff"/><path d="M459.5 689A26 15 60 1 0 433.5 644A26 15 60 1 0 459.5 689" fill="#fff"/><path d="M457.3 685.1A21.5 12.4 60 1 0 435.8 647.9A21.5 12.4 60 1 0 457.3 685.1"/><path d="M432.8 651.1 L431.6 654.5 L431.4 658.7 L432 663.2 L433.5 668 L435.8 672.7 L438.7 677 L442.1 680.7 L445.7 683.6 L449.4 685.4 L453 686.1"/><path d="M437.4 649 L436.2 652.7 L436.1 657.3 L437.1 662.4 L439 667.5 L441.9 672.5 L445.4 676.8 L449.3 680.1 L453.3 682.3 L457.1 683.2"/>
<path d="M374.7 625.7 L375.2 625.2 L375.6 624.5 L375.7 623.6 L375.6 622.5 L375.2 621.4 L374.7 620.4 L374 619.4 L373.3 618.6 L372.4 617.9 L371.6 617.6 L370.8 617.5 L370.1 617.7 L349.3 629.7 L348.8 630.2 L348.5 630.9 L348.4 631.8 L348.5 632.9 L348.8 634 L349.3 635 L350 636 L350.8 636.8 L351.6 637.5 L352.5 637.8 L353.3 637.9 L353.9 637.7Z" fill="#fff"/><path d="M353.9 637.7 L354.4 637.2 L354.8 636.5 L354.9 635.6 L354.8 634.5 L354.4 633.4 L353.9 632.4 L353.3 631.4 L352.5 630.6 L351.6 629.9 L350.8 629.6 L350 629.5 L349.3 629.7 L348.8 630.2 L348.5 630.9 L348.4 631.8 L348.5 632.9 L348.8 634 L349.3 635 L350 636 L350.8 636.8 L351.6 637.5 L352.5 637.8 L353.3 637.9 L353.9 637.7Z"/><path d="M356.5 640.1 L357.4 639.3 L358 638 L358.2 636.5 L358 634.7 L357.4 632.8 L356.5 630.9 L355.3 629.2 L354 627.7 L352.5 626.7 L351 626 L349.7 625.9 L348.5 626.3 L345.9 627.8 L345 628.6 L344.4 629.9 L344.2 631.4 L344.4 633.2 L345 635.1 L345.9 637 L347.1 638.7 L348.4 640.2 L349.9 641.2 L351.4 641.9 L352.7 642 L353.9 641.6Z" fill="#fff"/><path d="M353.9 641.6 L354.8 640.8 L355.4 639.5 L355.6 638 L355.4 636.2 L354.8 634.3 L353.9 632.4 L352.7 630.7 L351.4 629.2 L349.9 628.2 L348.4 627.5 L347.1 627.4 L345.9 627.8 L345 628.6 L344.4 629.9 L344.2 631.4 L344.4 633.2 L345 635.1 L345.9 637 L347.1 638.7 L348.4 640.2 L349.9 641.2 L351.4 641.9 L352.7 642 L353.9 641.6Z"/><path d="M357.7 640.5 L357.1 632.4 L351 625.6 L345.5 626.9 L346.1 635 L352.2 641.8Z" fill="#fff"/><path d="M353.4 643L357.7 640.5M352.8 634.9L357.1 632.4M346.7 628.1L351 625.6M341.2 629.4L345.5 626.9M341.8 637.5L346.1 635M347.9 644.3L352.2 641.8"/><path d="M353.4 643 L352.8 634.9 L346.7 628.1 L341.2 629.4 L341.8 637.5 L347.9 644.3Z" fill="#fff"/><path d="M374 620.5L386 613.8M386 613.8L410 628" stroke-width="0.8" stroke-dasharray="7 2 2 2"/>
<path d="M418.6 733.4 L421 731.6 L423.1 729.3 L424.7 726.4 L425.9 723 L426.6 719.3 L426.9 715.1 L426.6 710.7 L425.9 706.1 L424.7 701.4 L423.1 696.6 L421 691.9 L418.6 687.3 L415.8 682.8 L412.7 678.7 L409.4 674.9 L405.9 671.5 L402.3 668.6 L398.6 666.1 L394.9 664.3 L391.3 663 L387.8 662.4 L384.5 662.4 L381.4 662.9 L378.6 664.2 L345.7 683.2 L343.3 685 L341.2 687.3 L339.6 690.2 L338.4 693.6 L337.6 697.3 L337.4 701.5 L337.6 705.9 L338.4 710.5 L339.6 715.2 L341.2 720 L343.3 724.7 L345.7 729.3 L348.5 733.8 L351.5 737.9 L354.9 741.7 L358.4 745.1 L362 748 L365.7 750.5 L369.4 752.3 L373 753.6 L376.5 754.2 L379.8 754.2 L382.9 753.7 L385.7 752.4Z" fill="#fff"/><path d="M385.7 752.4 L388.1 750.6 L390.2 748.3 L391.8 745.4 L393 742 L393.7 738.3 L394 734.1 L393.7 729.7 L393 725.1 L391.8 720.4 L390.2 715.6 L388.1 710.9 L385.7 706.3 L382.9 701.8 L379.8 697.7 L376.5 693.9 L373 690.5 L369.4 687.6 L365.7 685.1 L362 683.3 L358.4 682 L354.9 681.4 L351.5 681.4 L348.5 681.9 L345.7 683.2 L343.3 685 L341.2 687.3 L339.6 690.2 L338.4 693.6 L337.6 697.3 L337.4 701.5 L337.6 705.9 L338.4 710.5 L339.6 715.2 L341.2 720 L343.3 724.7 L345.7 729.3 L348.5 733.8 L351.5 737.9 L354.9 741.7 L358.4 745.1 L362 748 L365.7 750.5 L369.4 752.3 L373 753.6 L376.5 754.2 L379.8 754.2 L382.9 753.7 L385.7 752.4Z"/><path d="M396.1 746.4 L398.6 744.6 L400.7 742.1 L402.3 739.1 L403.5 735.6 L404.2 731.6 L404.4 727.3 L404 722.8 L403.2 718 L401.8 713.1 L400 708.2 L397.7 703.3 L395.1 698.6 L392.1 694.2 L388.8 690 L385.3 686.3 L381.7 683 L377.9 680.2 L374.1 678.1 L370.3 676.5 L366.6 675.6 L363.1 675.3 L359.9 675.7"/><path d="M403 742.4 L405.5 740.6 L407.6 738.1 L409.3 735.1 L410.4 731.6 L411.1 727.6 L411.3 723.3 L410.9 718.8 L410.1 714 L408.7 709.1 L406.9 704.2 L404.7 699.3 L402 694.6 L399 690.2 L395.8 686 L392.3 682.3 L388.6 679 L384.8 676.2 L381 674.1 L377.2 672.5 L373.5 671.6 L370.1 671.3 L366.8 671.7"/><path d="M409.9 738.4 L412.4 736.6 L414.5 734.1 L416.2 731.1 L417.4 727.6 L418 723.6 L418.2 719.3 L417.9 714.8 L417 710 L415.7 705.1 L413.9 700.2 L411.6 695.3 L409 690.6 L406 686.2 L402.7 682 L399.2 678.3 L395.5 675 L391.7 672.2 L387.9 670.1 L384.1 668.5 L380.5 667.6 L377 667.3 L373.7 667.7"/><path d="M402.1 780.8 L404.7 779.1 L407 777.1 L409.1 774.8 L411 772.1 L412.7 769.2 L414.1 766 L415.2 762.5 L416.1 758.8 L416.7 754.9 L417.1 750.7 L417.2 746.4 L417 742 L416.5 737.4 L415.7 732.7 L414.7 727.9 L413.4 723.1 L411.9 718.3 L410.1 713.4 L408.1 708.6 L405.9 703.8 L403.4 699.1 L400.7 694.5 L397.9 690 L394.9 685.7 L391.7 681.5 L388.4 677.6 L385 673.8 L381.4 670.3 L377.8 667 L374.1 664 L370.4 661.3 L366.6 658.9 L362.9 656.8 L359.1 655.1 L355.4 653.6 L351.8 652.5 L348.2 651.8 L344.7 651.4 L341.3 651.4 L338.1 651.7 L335 652.4 L332 653.4 L329.3 654.8 L316.3 662.3 L313.7 664 L311.4 666 L309.3 668.3 L307.4 671 L305.7 673.9 L304.3 677.1 L303.1 680.6 L302.3 684.3 L301.6 688.2 L301.3 692.4 L301.2 696.7 L301.4 701.1 L301.9 705.7 L302.7 710.4 L303.7 715.2 L305 720 L306.5 724.8 L308.3 729.7 L310.3 734.5 L312.5 739.3 L315 744 L317.7 748.6 L320.5 753.1 L323.5 757.4 L326.7 761.6 L330 765.5 L333.4 769.3 L337 772.8 L340.6 776.1 L344.3 779.1 L348 781.8 L351.8 784.2 L355.5 786.3 L359.3 788 L363 789.5 L366.6 790.6 L370.2 791.3 L373.7 791.7 L377.1 791.7 L380.3 791.4 L383.4 790.7 L386.3 789.7 L389.1 788.3Z" fill="#fff" stroke="none"/><path d="M396.7 783.2 L394.7 775.2 L396.2 774.6 L401.8 781 L403.3 780.1 L400.4 772 L401.6 771 L407.6 776.5 L408.9 775.1 L405 767.2 L406 765.8 L412.2 770.2 L413.1 768.4 L408.4 760.9 L409.1 759.1 L415.3 762.3 L415.8 760.1 L410.5 753.3 L410.9 751.2 L416.9 753.1 L417.1 750.6 L411.3 744.6 L411.3 742.3 L417 742.8 L416.8 740.1 L410.7 735.1 L410.3 732.6 L415.5 731.7 L414.9 728.8 L408.7 725 L408 722.5 L412.5 720.2 L411.6 717.3 L405.4 714.8 L404.4 712.2 L408.1 708.6 L406.8 705.8 L400.9 704.6 L399.6 702.1 L402.4 697.3 L400.8 694.6 L395.3 694.9 L393.8 692.5 L395.6 686.7 L393.7 684.1 L388.8 685.8 L387.1 683.7 L387.9 676.9 L385.8 674.7 L381.7 677.7 L379.8 675.9 L379.4 668.5 L377.3 666.6 L374 670.8 L372 669.3 L370.6 661.5 L368.4 660 L366.1 665.4 L364.1 664.2 L361.7 656.2 L359.4 655.2 L358.2 661.5 L356.2 660.8 L352.8 652.8 L350.6 652.3 L350.5 659.4 L348.6 659.1 L344.3 651.4 L342.3 651.3 L343.2 659 L341.5 659.2 L336.5 652 L334.7 652.4 L336.7 660.4 L335.2 661 L329.6 654.6 L328 655.5 L331 663.6 L329.8 664.6"/><path d="M390.7 787.4L407.6 776.5M392.1 786.3L408.9 775.1M388.9 778.3L405 767.2M396.1 782.3L412.2 770.2M397.3 780.8L413.1 768.4M393.2 773L408.4 760.9M400.3 775.5L415.3 762.3M401.1 773.6L415.8 760.1M396.2 766.2L410.5 753.3M403 767.2L416.9 753.1M403.4 764.9L417.1 750.6M397.9 758.3L411.3 744.6M404.1 757.6L417 742.8M404.2 755L416.8 740.1M398.3 749.3L410.7 735.1M403.7 747L415.5 731.7M403.4 744.2L414.9 728.8M397.2 739.6L408.7 725M401.8 735.8L412.5 720.2M401.1 732.9L411.6 717.3M394.8 729.5L405.4 714.8M398.4 724.2L408.1 708.6M397.3 721.3L406.8 705.8M391.2 719.2L400.9 704.6M393.5 712.7L402.4 697.3M392.1 709.9L400.8 694.6M386.3 709.1L395.3 694.9M387.5 701.6L395.6 686.7M385.8 698.9L393.7 684.1M380.5 699.5L388.8 685.8M380.4 691.1L387.9 676.9M378.4 688.7L385.8 674.7M373.8 690.7L381.7 677.7M372.4 681.8L379.4 668.5M370.3 679.6L377.3 666.6M366.4 683L374 670.8M363.8 673.7L370.6 661.5M361.6 671.9L368.4 660M358.7 676.5L366.1 665.4M354.9 667.2L361.7 656.2M352.7 665.9L359.4 655.2M350.7 671.5L358.2 661.5M346 662.5L352.8 652.8M343.8 661.6L350.6 652.3M342.8 668.2L350.5 659.4M337.2 659.7L344.3 651.4M335.1 659.3L342.3 651.3M335.2 666.6L343.2 659M328.9 658.9L336.5 652M327 659L334.7 652.4M328.2 666.7L336.7 660.4M321.4 660L329.6 654.6M319.6 660.7L328 655.5M321.9 668.7L331 663.6M314.7 663.2L323.8 659.1M313.3 664.3L322.5 660.5"/><path d="M384.9 781.2 L390.7 787.4 L392.1 786.3 L388.9 778.3 L390.1 777.1 L396.1 782.3 L397.3 780.8 L393.2 773 L394 771.4 L400.3 775.5 L401.1 773.6 L396.2 766.2 L396.8 764.4 L403 767.2 L403.4 764.9 L397.9 758.3 L398.1 756.1 L404.1 757.6 L404.2 755 L398.3 749.3 L398.1 746.9 L403.7 747 L403.4 744.2 L397.2 739.6 L396.8 737.1 L401.8 735.8 L401.1 732.9 L394.8 729.5 L394 726.9 L398.4 724.2 L397.3 721.3 L391.2 719.2 L390.1 716.7 L393.5 712.7 L392.1 709.9 L386.3 709.1 L384.9 706.7 L387.5 701.6 L385.8 698.9 L380.5 699.5 L378.9 697.3 L380.4 691.1 L378.4 688.7 L373.8 690.7 L372 688.7 L372.4 681.8 L370.3 679.6 L366.4 683 L364.5 681.2 L363.8 673.7 L361.6 671.9 L358.7 676.5 L356.7 675.1 L354.9 667.2 L352.7 665.9 L350.7 671.5 L348.7 670.5 L346 662.5 L343.8 661.6 L342.8 668.2 L340.9 667.6 L337.2 659.7 L335.1 659.3 L335.2 666.6 L333.4 666.4 L328.9 658.9 L327 659 L328.2 666.7 L326.5 667.1 L321.4 660 L319.6 660.7 L321.9 668.7 L320.4 669.4 L314.7 663.2 L313.3 664.3 L316.5 672.3 L315.3 673.5 L309.3 668.3 L308.1 669.8 L312.2 677.6 L311.4 679.2 L305.1 675.1 L304.3 677 L309.2 684.4 L308.6 686.2 L302.4 683.4 L302 685.7 L307.5 692.3 L307.3 694.5 L301.3 693 L301.2 695.6 L307.1 701.3 L307.3 703.7 L301.7 703.6 L302 706.4 L308.2 711 L308.6 713.5 L303.6 714.8 L304.3 717.7 L310.6 721.1 L311.4 723.7 L307 726.4 L308.1 729.3 L314.2 731.4 L315.3 733.9 L311.9 737.9 L313.3 740.7 L319.1 741.5 L320.4 743.9 L317.9 749 L319.6 751.7 L324.9 751.1 L326.5 753.3 L325 759.5 L327 761.9 L331.6 759.9 L333.4 761.9 L333 768.8 L335.1 771 L339 767.6 L340.9 769.4 L341.6 776.9 L343.8 778.7 L346.7 774.1 L348.7 775.5 L350.5 783.4 L352.7 784.7 L354.7 779.1 L356.7 780.1 L359.4 788.1 L361.6 789 L362.6 782.4 L364.5 783 L368.2 790.9 L370.3 791.3 L370.2 784 L372 784.2 L376.5 791.7 L378.4 791.6 L377.2 783.9 L378.9 783.5 L384 790.6 L385.8 789.9 L383.5 781.9 L384.9 781.2Z" fill="#fff"/><path d="M382.7 777.3A60 34.6 60 1 0 322.7 673.3A60 34.6 60 1 0 382.7 777.3"/><ellipse cx="384.8" cy="733.9" rx="4.5" ry="1.3" transform="rotate(60 384.8 733.9)" fill="#fff"/><ellipse cx="344.1" cy="683.3" rx="4.5" ry="1.3" transform="rotate(60 344.1 683.3)" fill="#fff"/><ellipse cx="320.6" cy="716.7" rx="4.5" ry="1.3" transform="rotate(60 320.6 716.7)" fill="#fff"/><ellipse cx="361.3" cy="767.3" rx="4.5" ry="1.3" transform="rotate(60 361.3 767.3)" fill="#fff"/><path d="M368.1 750.3A30 17.3 60 1 0 338.1 698.3A30 17.3 60 1 0 368.1 750.3"/><path d="M362.1 739.9 L364.7 743 L365.8 742 L363.9 738.3 L364.6 737.2 L367.5 739.4 L368.1 737.6 L365.5 734.5 L365.8 732.9 L368.6 733.9 L368.6 731.7 L365.7 729.5 L365.4 727.6 L367.9 727.3 L367.2 724.8 L364.3 723.9 L363.5 721.9 L365.4 720.3 L364.1 717.9 L361.6 718.3 L360.4 716.5 L361.3 713.8 L359.7 711.8 L357.9 713.4 L356.4 712 L356.3 708.6 L354.5 707.2 L353.5 709.9 L352 709 L350.9 705.3 L349.1 704.6 L349.2 708.1 L347.7 707.9 L345.8 704.2 L344.2 704.4 L345.3 708.2 L344.1 708.7 L341.5 705.6 L340.4 706.6 L342.3 710.3 L341.6 711.4 L338.7 709.2 L338.1 711 L340.7 714.1 L340.4 715.7 L337.6 714.7 L337.6 716.9 L340.5 719.1 L340.8 721 L338.3 721.3 L339 723.8 L341.9 724.7 L342.7 726.7 L340.8 728.3 L342.1 730.7 L344.6 730.3 L345.8 732.1 L344.9 734.8 L346.5 736.8 L348.3 735.2 L349.8 736.6 L349.9 740 L351.7 741.4 L352.7 738.7 L354.2 739.6 L355.3 743.3 L357.1 744 L357 740.5 L358.5 740.7 L360.4 744.4 L362 744.2 L360.9 740.4 L362.1 739.9Z"/><path d="M360.4 716.5L362 714.7M359.2 714.9L360.5 712.8M357.9 713.5L359 711.1M356.6 712.2L357.3 709.5M355.2 711L355.7 708.1M353.8 710L353.9 706.8M352.4 709.2L352.2 705.8M351 708.6L350.5 705.1M349.6 708.1L348.8 704.6M348.2 707.9L347.1 704.3M347 707.9L345.6 704.2M345.7 708.1L344.1 704.4M344.6 708.4L342.8 704.9M343.6 709L341.5 705.6M342.7 709.8L340.4 706.5M342 710.7L339.5 707.7M341.4 711.8L338.8 709.1M340.9 713.1L338.2 710.6M340.6 714.5L337.8 712.3M340.4 716L337.6 714.2M340.4 717.7L337.6 716.2M340.5 719.4L337.7 718.3M340.8 721.2L338.1 720.5M341.3 723L338.7 722.7M341.9 724.8L339.4 724.9M342.6 726.6L340.3 727.1M343.5 728.4L341.4 729.3M344.5 730.2L342.6 731.5M345.6 731.8L343.9 733.5M346.8 733.4L345.4 735.4M348.1 734.9L346.9 737.2M349.4 736.2L348.6 738.9M350.8 737.4L350.3 740.3M352.2 738.4L352 741.6M353.6 739.3L353.7 742.6M355 739.9L355.4 743.4"/>
<path d="M351.5 740.4 L353 739 L353.9 737 L354.2 734.4 L353.9 731.5 L353 728.4 L351.5 725.3 L349.6 722.6 L347.4 720.2 L345 718.5 L342.6 717.5 L340.4 717.3 L338.5 717.8 L315.5 731.1 L314 732.5 L313.1 734.5 L312.8 737.1 L313.1 740 L314 743.1 L315.5 746.1 L317.4 748.9 L319.6 751.3 L322 753 L324.4 754 L326.6 754.2 L328.5 753.6Z" fill="#fff"/><path d="M328.5 753.6L351.5 740.4M329.9 752.4L352.9 739.1M330.8 750.6L353.8 737.3M331.2 748.3L354.2 735M331 745.7L354 732.4M330.4 742.9L353.4 729.6M329.2 740L352.2 726.7M327.7 737.3L350.7 724M325.8 734.9L348.8 721.6M323.7 732.9L346.7 719.6M321.4 731.5L344.4 718.2M319.3 730.7L342.3 717.4M317.2 730.5L340.2 717.3M315.5 731.1L338.5 717.8"/><path d="M327.8 752.3 L328.7 753.5 L329.2 753.1 L328.5 751.8 L329 751.3 L330 752.3 L330.4 751.6 L329.5 750.3 L329.8 749.7 L330.8 750.4 L331 749.5 L330 748.5 L330.1 747.6 L331.2 748.1 L331.2 747 L330.1 746.3 L330 745.3 L331 745.4 L330.8 744.3 L329.7 743.8 L329.4 742.8 L330.3 742.6 L329.9 741.4 L328.9 741.3 L328.4 740.3 L329.1 739.7 L328.5 738.6 L327.6 738.8 L327 737.9 L327.5 737 L326.8 736 L326 736.6 L325.3 735.7 L325.6 734.7 L324.7 733.8 L324.2 734.6 L323.5 734 L323.4 732.7 L322.6 732.1 L322.3 733.2 L321.5 732.7 L321.2 731.4 L320.3 731 L320.3 732.2 L319.6 732 L319.1 730.6 L318.2 730.5 L318.5 731.9 L317.8 731.9 L317.1 730.6 L316.3 730.7 L316.8 732.1 L316.2 732.4 L315.3 731.2 L314.8 731.7 L315.5 733 L315 733.5 L314 732.5 L313.6 733.2 L314.5 734.4 L314.2 735.1 L313.2 734.4 L313 735.2 L314 736.3 L313.9 737.1 L312.8 736.7 L312.8 737.7 L313.9 738.5 L314 739.5 L313 739.3 L313.2 740.5 L314.3 740.9 L314.6 741.9 L313.7 742.2 L314.1 743.3 L315.1 743.5 L315.6 744.5 L314.9 745 L315.5 746.1 L316.4 745.9 L317 746.9 L316.5 747.7 L317.2 748.7 L318 748.2 L318.7 749 L318.4 750.1 L319.3 750.9 L319.8 750.1 L320.5 750.8 L320.6 752 L321.4 752.7 L321.7 751.6 L322.5 752 L322.8 753.4 L323.7 753.8 L323.7 752.5 L324.4 752.7 L324.9 754.1 L325.8 754.2 L325.5 752.9 L326.2 752.8 L326.9 754.2 L327.7 754 L327.2 752.6 L327.8 752.3Z" fill="#fff"/><path d="M329.7 751.1 L331 749.9 L331.8 748.1 L332.1 745.9 L331.8 743.3 L331 740.6 L329.7 737.9 L328 735.5 L326.1 733.4 L324 731.9 L321.9 731 L320 730.8 L318.3 731.4 L199.3 800.1 L198 801.2 L197.2 803 L196.9 805.3 L197.2 807.8 L198 810.6 L199.3 813.2 L201 815.7 L202.9 817.7 L205 819.2 L207.1 820.1 L209 820.3 L210.7 819.8Z" fill="#fff"/><path d="M210.7 819.8 L212 818.6 L212.8 816.8 L213.1 814.6 L212.8 812 L212 809.3 L210.7 806.6 L209 804.2 L207.1 802.1 L205 800.6 L202.9 799.7 L201 799.5 L199.3 800.1 L198 801.2 L197.2 803 L196.9 805.3 L197.2 807.8 L198 810.6 L199.3 813.2 L201 815.7 L202.9 817.7 L205 819.2 L207.1 820.1 L209 820.3 L210.7 819.8Z"/><path d="M305.2 765.2 L306.7 764.2 L307.7 762.4 L308.1 760.1 L307.8 757.5 L307 754.6 L305.7 751.8 L303.9 749.2 L301.9 747.1 L299.6 745.6 L297.5 744.8 L295.5 744.8 L293.8 745.5"/><path d="M295.2 771 L296.7 769.9 L297.7 768.2 L298.1 765.9 L297.8 763.2 L297 760.4 L295.7 757.6 L293.9 755 L291.9 752.9 L289.6 751.4 L287.5 750.6 L285.5 750.5 L283.8 751.3"/><path d="M267.2 787.1 L268.7 786.1 L269.7 784.4 L270.1 782.1 L269.8 779.4 L269 776.5 L267.7 773.7 L265.9 771.2 L263.9 769 L261.6 767.5 L259.5 766.7 L257.5 766.7 L255.8 767.5"/><path d="M255.2 794.1 L256.7 793 L257.7 791.3 L258.1 789 L257.8 786.3 L257 783.5 L255.7 780.7 L253.9 778.1 L251.9 776 L249.6 774.4 L247.5 773.7 L245.5 773.6 L243.8 774.4"/><path d="M223.2 812.5 L224.7 811.5 L225.7 809.8 L226.1 807.5 L225.8 804.8 L225 802 L223.7 799.1 L221.9 796.6 L219.9 794.4 L217.6 792.9 L215.5 792.1 L213.5 792.1 L211.8 792.9"/><ellipse cx="241" cy="782.1" rx="2.6" ry="2" fill="#fff"/><ellipse cx="308" cy="743.5" rx="2.2" ry="1.8" fill="#fff"/><path d="M213.3 821.9 L214.9 820.4 L215.9 818.1 L216.3 815.3 L215.9 812 L214.9 808.6 L213.3 805.2 L211.1 802.1 L208.7 799.5 L206 797.5 L203.3 796.4 L200.9 796.1 L198.8 796.8 L172.8 811.8 L171.1 813.3 L170.1 815.6 L169.7 818.4 L170.1 821.7 L171.1 825.2 L172.8 828.6 L174.9 831.7 L177.3 834.3 L180 836.2 L182.7 837.3 L185.1 837.6 L187.2 836.9Z" fill="#fff"/><path d="M187.2 836.9L213.3 821.9M189 835.2L215 820.2M190 832.7L216 817.7M190.2 829.4L216.2 814.4M189.6 825.8L215.6 810.8M188.2 822L214.2 807M186.1 818.4L212.1 803.4M183.6 815.3L209.6 800.3M180.7 813L206.7 798M177.8 811.5L203.8 796.5M175.1 811.1L201.1 796.1M172.8 811.8L198.8 796.8"/><path d="M186.5 835.6 L187.5 836.8 L188.2 836.2 L187.5 834.8 L188.1 834.1 L189.1 835 L189.6 834.1 L188.7 832.8 L189 831.8 L190.1 832.4 L190.2 831.1 L189.2 830.1 L189.2 828.9 L190.2 829.1 L190 827.6 L188.9 827 L188.6 825.6 L189.5 825.4 L189 823.9 L187.9 823.6 L187.4 822.3 L188 821.6 L187.2 820.2 L186.3 820.3 L185.5 819.1 L185.9 818.1 L184.9 816.8 L184.2 817.3 L183.2 816.3 L183.3 815.1 L182.2 814.1 L181.7 814.9 L180.7 814.2 L180.4 812.8 L179.3 812.1 L179.1 813.3 L178 812.9 L177.5 811.5 L176.4 811.2 L176.5 812.5 L175.6 812.5 L174.8 811.2 L173.9 811.3 L174.3 812.8 L173.5 813.1 L172.5 811.9 L171.8 812.5 L172.5 813.9 L171.9 814.6 L170.9 813.7 L170.4 814.7 L171.3 815.9 L171 816.9 L169.9 816.4 L169.8 817.6 L170.8 818.6 L170.8 819.8 L169.8 819.7 L170 821.1 L171.1 821.8 L171.4 823.1 L170.5 823.3 L171 824.8 L172.1 825.1 L172.6 826.5 L172 827.1 L172.8 828.6 L173.7 828.4 L174.5 829.7 L174.1 830.6 L175.1 831.9 L175.8 831.4 L176.8 832.5 L176.7 833.7 L177.8 834.7 L178.3 833.8 L179.3 834.6 L179.6 835.9 L180.7 836.6 L180.9 835.5 L182 835.9 L182.5 837.3 L183.6 837.5 L183.5 836.2 L184.4 836.2 L185.2 837.6 L186.1 837.4 L185.7 836 L186.5 835.6Z" fill="#fff"/><path d="M187.9 838.3 L189.7 836.6 L190.8 834.1 L191.2 831 L190.8 827.4 L189.7 823.6 L187.9 819.8 L185.5 816.4 L182.8 813.5 L179.9 811.4 L176.9 810.1 L174.2 809.9 L171.9 810.6 L158 818.6 L156.2 820.3 L155.1 822.8 L154.7 825.9 L155.1 829.5 L156.2 833.3 L158 837.1 L160.3 840.5 L163.1 843.4 L166 845.5 L168.9 846.8 L171.7 847 L174 846.3Z" fill="#fff"/><path d="M174 846.3 L175.8 844.6 L176.9 842.1 L177.3 839 L176.9 835.4 L175.8 831.6 L174 827.8 L171.7 824.4 L168.9 821.5 L166 819.4 L163.1 818.1 L160.3 817.9 L158 818.6 L156.2 820.3 L155.1 822.8 L154.7 825.9 L155.1 829.5 L156.2 833.3 L158 837.1 L160.3 840.5 L163.1 843.4 L166 845.5 L168.9 846.8 L171.7 847 L174 846.3Z"/><path d="M183.3 840.9 L185.4 839.4 L186.7 837 L187.3 833.8 L187 830 L185.9 826 L184 822.1 L181.5 818.5 L178.6 815.5 L175.5 813.3 L172.4 812.2 L169.6 812.2 L167.3 813.3"/><path d="M172 843.4 L173.4 842.1 L174.3 840.1 L174.6 837.7 L174.3 834.9 L173.4 831.9 L172 829 L170.2 826.3 L168.1 824 L165.8 822.4 L163.5 821.4 L161.4 821.2 L159.5 821.7 L151.8 826.2 L150.3 827.5 L149.5 829.5 L149.2 832 L149.5 834.8 L150.3 837.8 L151.8 840.7 L153.6 843.4 L155.7 845.6 L158 847.3 L160.3 848.3 L162.4 848.5 L164.2 847.9Z" fill="#fff"/><path d="M164.2 847.9 L165.7 846.6 L166.5 844.6 L166.8 842.2 L166.5 839.4 L165.7 836.4 L164.2 833.5 L162.4 830.8 L160.3 828.5 L158 826.9 L155.7 825.9 L153.6 825.7 L151.8 826.2 L150.3 827.5 L149.5 829.5 L149.2 832 L149.5 834.8 L150.3 837.8 L151.8 840.7 L153.6 843.4 L155.7 845.6 L158 847.3 L160.3 848.3 L162.4 848.5 L164.2 847.9Z"/><path d="M163.3 850.7 L164.9 849.2 L166 847 L166.3 844.1 L166 840.8 L164.9 837.4 L163.3 834 L161.2 830.9 L158.7 828.3 L156.1 826.4 L153.4 825.2 L150.9 825 L148.8 825.6 L142.8 829.1 L141.1 830.6 L140.1 832.9 L139.7 835.8 L140.1 839 L141.1 842.5 L142.8 845.9 L144.9 849 L147.3 851.6 L150 853.5 L152.7 854.7 L155.1 854.9 L157.2 854.2Z" fill="#fff"/><path d="M157.2 854.2 L158.9 852.7 L159.9 850.5 L160.3 847.6 L159.9 844.3 L158.9 840.9 L157.2 837.5 L155.1 834.4 L152.7 831.8 L150 829.9 L147.3 828.7 L144.9 828.5 L142.8 829.1 L141.1 830.6 L140.1 832.9 L139.7 835.8 L140.1 839 L141.1 842.5 L142.8 845.9 L144.9 849 L147.3 851.6 L150 853.5 L152.7 854.7 L155.1 854.9 L157.2 854.2Z"/><path d="M155.9 852.1 L157.3 850.9 L158.1 849 L158.4 846.6 L158.1 843.9 L157.3 841.1 L155.9 838.3 L154.2 835.7 L152.1 833.5 L149.9 831.9 L147.7 831 L145.7 830.8 L143.9 831.3 L137 835.3 L135.7 836.6 L134.8 838.5 L134.5 840.8 L134.8 843.5 L135.7 846.4 L137 849.2 L138.8 851.8 L140.8 853.9 L143 855.5 L145.2 856.5 L147.2 856.7 L149 856.1Z" fill="#fff"/><path d="M149 856.1 L150.3 854.9 L151.2 853 L151.5 850.6 L151.2 847.9 L150.3 845.1 L149 842.3 L147.2 839.7 L145.2 837.5 L143 835.9 L140.8 835 L138.8 834.8 L137 835.3 L135.7 836.6 L134.8 838.5 L134.5 840.8 L134.8 843.5 L135.7 846.4 L137 849.2 L138.8 851.8 L140.8 853.9 L143 855.5 L145.2 856.5 L147.2 856.7 L149 856.1Z"/><path d="M147.4 859.9 L149.1 858.4 L150.1 856.1 L150.4 853.3 L150.1 850 L149.1 846.6 L147.4 843.2 L145.3 840.1 L142.8 837.4 L140.2 835.5 L137.5 834.4 L135.1 834.1 L132.9 834.8 L127.8 837.8 L126.1 839.3 L125.1 841.6 L124.7 844.4 L125.1 847.7 L126.1 851.1 L127.8 854.5 L129.9 857.6 L132.3 860.3 L135 862.2 L137.7 863.3 L140.1 863.6 L142.2 862.9Z" fill="#fff"/><path d="M142.2 862.9 L143.9 861.4 L144.9 859.1 L145.3 856.3 L144.9 853 L143.9 849.6 L142.2 846.2 L140.1 843.1 L137.7 840.4 L135 838.5 L132.3 837.4 L129.9 837.1 L127.8 837.8 L126.1 839.3 L125.1 841.6 L124.7 844.4 L125.1 847.7 L126.1 851.1 L127.8 854.5 L129.9 857.6 L132.3 860.3 L135 862.2 L137.7 863.3 L140.1 863.6 L142.2 862.9Z"/><path d="M141.1 860.4 L142.5 859.2 L143.3 857.4 L143.6 855 L143.3 852.4 L142.5 849.6 L141.1 846.8 L139.4 844.3 L137.4 842.2 L135.2 840.6 L133.1 839.7 L131.1 839.5 L129.3 840 L92.1 861.5 L90.8 862.7 L89.9 864.6 L89.7 866.9 L89.9 869.6 L90.8 872.4 L92.1 875.1 L93.8 877.6 L95.8 879.8 L98 881.3 L100.2 882.3 L102.2 882.5 L103.9 881.9Z" fill="#fff"/><path d="M103.9 881.9 L105.2 880.7 L106.1 878.9 L106.3 876.5 L106.1 873.9 L105.2 871.1 L103.9 868.3 L102.2 865.8 L100.2 863.7 L98 862.1 L95.8 861.2 L93.8 861 L92.1 861.5 L90.8 862.7 L89.9 864.6 L89.7 866.9 L89.9 869.6 L90.8 872.4 L92.1 875.1 L93.8 877.6 L95.8 879.8 L98 881.3 L100.2 882.3 L102.2 882.5 L103.9 881.9Z"/><path d="M133.4 864.9 L134.9 863.8 L135.9 862 L136.3 859.6 L136.1 856.9 L135.3 853.9 L133.9 851 L132.1 848.3 L129.9 846.1 L127.6 844.6 L125.4 843.7 L123.3 843.7 L121.6 844.5"/><path d="M115.4 875.3 L116.9 874.2 L117.9 872.4 L118.3 870 L118.1 867.3 L117.3 864.3 L115.9 861.4 L114.1 858.7 L111.9 856.5 L109.6 855 L107.4 854.1 L105.3 854.1 L103.6 854.9"/><path d="M105.8 882.8 L107.3 881.4 L108.2 879.3 L108.5 876.6 L108.2 873.6 L107.3 870.4 L105.8 867.2 L103.8 864.3 L101.5 861.9 L99 860.1 L96.5 859.1 L94.2 858.8 L92.3 859.4 L67.2 873.9 L65.7 875.3 L64.8 877.4 L64.5 880.1 L64.8 883.1 L65.7 886.3 L67.2 889.5 L69.2 892.4 L71.5 894.8 L74 896.6 L76.5 897.6 L78.8 897.9 L80.8 897.3Z" fill="#fff"/><path d="M80.8 897.3L105.8 882.8M82.5 895.5L107.5 881.1M83.4 892.7L108.4 878.3M83.4 889.3L108.4 874.9M82.5 885.5L107.5 871M80.8 881.7L105.8 867.2M78.3 878.3L103.3 863.8M75.5 875.5L100.5 861.1M72.5 873.8L97.5 859.4M69.7 873.2L94.7 858.8M67.2 873.9L92.3 859.4"/><path d="M80 896 L81 897.1 L81.7 896.5 L81 895.1 L81.6 894.4 L82.6 895.3 L83.1 894.2 L82.1 893 L82.4 891.9 L83.5 892.4 L83.5 891.1 L82.5 890.2 L82.4 888.9 L83.4 888.9 L83.1 887.4 L82 886.9 L81.6 885.5 L82.4 885.1 L81.7 883.6 L80.7 883.4 L80 882.1 L80.5 881.3 L79.6 879.9 L78.8 880.2 L77.9 879.1 L78.1 877.9 L76.9 876.8 L76.4 877.5 L75.3 876.7 L75.2 875.3 L74 874.5 L73.7 875.6 L72.7 875.1 L72.2 873.7 L71.1 873.4 L71.1 874.7 L70.1 874.6 L69.4 873.3 L68.4 873.4 L68.8 874.8 L68 875.2 L67 874 L66.3 874.6 L67 876 L66.4 876.8 L65.4 875.9 L64.9 876.9 L65.9 878.1 L65.6 879.2 L64.5 878.7 L64.5 880.1 L65.5 881 L65.6 882.3 L64.6 882.2 L64.9 883.7 L66 884.3 L66.4 885.7 L65.6 886.1 L66.3 887.6 L67.3 887.7 L68 889 L67.5 889.8 L68.4 891.3 L69.2 890.9 L70.1 892.1 L69.9 893.2 L71.1 894.4 L71.6 893.6 L72.7 894.5 L72.8 895.8 L74 896.6 L74.3 895.5 L75.3 896 L75.8 897.4 L76.9 897.8 L76.9 896.5 L77.9 896.5 L78.6 897.9 L79.6 897.7 L79.2 896.3 L80 896Z" fill="#fff"/>
<path d="M77 905.4 L79.4 903.8 L80.9 901.1 L81.5 897.5 L81.2 893.3 L80 888.8 L77.8 884.4 L75.1 880.3 L71.8 877 L68.3 874.6 L64.9 873.4 L61.8 873.4 L59.2 874.6"/><path d="M76.5 905.8A17.9 10.3 60 1 0 58.6 874.8A17.9 10.3 60 1 0 76.5 905.8" fill="#fff"/><path d="M74.7 902.6A14.2 8.2 60 1 0 60.5 878A14.2 8.2 60 1 0 74.7 902.6"/><path d="M59.5 880.1 L58.9 883 L59.1 886.4 L60.1 890 L61.8 893.6 L64.1 896.9 L66.7 899.6 L69.6 901.5 L72.3 902.4"/>
<path d="M58 916.1 L60.4 914.5 L61.9 911.7 L62.6 908.1 L62.3 903.8 L61 899.3 L58.8 894.8 L56 890.7 L52.8 887.4 L49.2 885 L45.8 883.7 L42.6 883.7 L40 884.9"/><path d="M57.6 916.5A18.1 10.5 60 1 0 39.4 885.1A18.1 10.5 60 1 0 57.6 916.5" fill="#fff"/><path d="M55.8 913.4A14.5 8.4 60 1 0 41.2 888.2A14.5 8.4 60 1 0 55.8 913.4"/><path d="M40.2 890.4 L39.6 893.4 L39.8 896.8 L40.8 900.6 L42.5 904.2 L44.9 907.6 L47.6 910.3 L50.5 912.3 L53.3 913.2"/></g>
<!-- c10_drums -->
<g><path d="M744.5 839.1 L747.2 837.4 L749.4 834.9 L750.9 831.5 L751.6 827.5 L751.6 823 L750.8 818.1 L749.3 813.1 L747.1 808.1 L744.3 803.3 L741.1 798.9 L737.5 795.1 L733.7 792 L729.7 789.7 L725.9 788.3 L722.3 787.9 L719 788.5 L716.2 790.1" stroke-width="1.2"/><path d="M744.5 839.2A28.4 16.4 60 1 0 716.1 790A28.4 16.4 60 1 0 744.5 839.2M740.8 832.8A21 12.1 60 1 0 719.8 796.4A21 12.1 60 1 0 740.8 832.8" fill="#fff" fill-rule="evenodd" stroke-width="1.3"/><path d="M717.6 799.9 L716.8 803.7 L716.9 808 L718 812.8 L719.9 817.6 L722.5 822.2 L725.7 826.2 L729.3 829.5 L733 831.7 L736.7 832.9"/><path d="M726.5 795.8L726.9 798.1"/><path d="M704.4 868.3 L707 866.8 L709.3 864.6 L711 861.7 L712.2 858.3 L712.8 854.4 L712.8 850.1 L712.2 845.5 L711.1 840.7 L709.4 835.8 L707.2 831.1 L704.5 826.5 L701.5 822.2 L698.1 818.3 L694.6 814.9 L690.9 812.1 L687.1 810 L683.4 808.5 L679.9 807.8 L676.5 807.9 L673.5 808.7 L670.9 810.3" stroke-width="1.2"/><path d="M704.6 868.3A33.6 19.4 60 1 0 671 810.1A33.6 19.4 60 1 0 704.6 868.3M698.5 857.8A21.5 12.4 60 1 0 677 820.6A21.5 12.4 60 1 0 698.5 857.8" fill="#fff" fill-rule="evenodd" stroke-width="1.3"/><path d="M674.8 824.2 L674 828 L674.1 832.5 L675.1 837.3 L677.1 842.3 L679.8 846.9 L683.1 851.1 L686.7 854.4 L690.6 856.8 L694.3 857.9"/><path d="M683.9 820L684.3 822.2"/><path d="M660.6 888.2 L663.2 886.7 L665.3 884.3 L666.8 881.2 L667.7 877.5 L667.8 873.3 L667.3 868.7 L666.1 863.9 L664.3 859 L661.9 854.3 L659 849.9 L655.7 845.9 L652.2 842.5 L648.5 839.7 L644.7 837.8 L641.1 836.6 L637.7 836.4 L634.6 837 L631.9 838.5" stroke-width="1.2"/><path d="M660.6 888.3A28.8 16.6 60 1 0 631.8 838.5A28.8 16.6 60 1 0 660.6 888.3M657.1 882.2A21.7 12.5 60 1 0 635.4 844.6A21.7 12.5 60 1 0 657.1 882.2" fill="#fff" fill-rule="evenodd" stroke-width="1.3"/><path d="M633.1 848.3 L632.2 852.1 L632.3 856.6 L633.4 861.5 L635.4 866.5 L638.1 871.2 L641.4 875.4 L645.1 878.8 L649 881.1 L652.7 882.3"/><path d="M642.2 844L642.7 846.2"/><path d="M619.3 912 L622 910.5 L624.1 908.1 L625.6 905 L626.4 901.3 L626.6 897.1 L626 892.5 L624.9 887.8 L623 883 L620.6 878.3 L617.8 873.9 L614.5 869.9 L611 866.5 L607.3 863.7 L603.6 861.7 L599.9 860.6 L596.5 860.4 L593.4 861 L590.8 862.5" stroke-width="1.2"/><path d="M619.4 912.2A28.7 16.6 60 1 0 590.6 862.4A28.7 16.6 60 1 0 619.4 912.2M615.9 906.1A21.7 12.5 60 1 0 594.1 868.5A21.7 12.5 60 1 0 615.9 906.1" fill="#fff" fill-rule="evenodd" stroke-width="1.3"/><path d="M591.9 872.2 L591 876 L591.1 880.5 L592.2 885.4 L594.2 890.4 L596.9 895.1 L600.2 899.3 L603.9 902.7 L607.8 905 L611.5 906.2"/><path d="M601 867.9L601.5 870.1"/><clipPath id="dc1"><path d="M519.2 1011.9A67.8 39.1 60 1 0 451.4 894.5A67.8 39.1 60 1 0 519.2 1011.9"/></clipPath><path d="M565.6 990.3 L568.2 988.6 L570.5 986.6 L572.6 984.3 L574.5 981.6 L576.1 978.7 L577.5 975.5 L578.7 972.1 L579.6 968.4 L580.2 964.5 L580.5 960.4 L580.6 956.1 L580.4 951.7 L579.9 947.2 L579.2 942.5 L578.1 937.8 L576.9 933 L575.4 928.2 L573.6 923.3 L571.6 918.5 L569.4 913.8 L566.9 909.1 L564.3 904.6 L561.4 900.1 L558.4 895.8 L555.3 891.7 L552 887.7 L548.6 884 L545.1 880.5 L541.5 877.3 L537.8 874.3 L534.1 871.6 L530.4 869.2 L526.7 867.1 L522.9 865.4 L519.3 864 L515.6 862.9 L512.1 862.1 L508.6 861.8 L505.3 861.7 L502 862 L499 862.7 L496.1 863.7 L493.3 865.1 L449.2 890.6 L446.6 892.3 L444.3 894.3 L442.2 896.6 L440.3 899.3 L438.6 902.2 L437.2 905.4 L436.1 908.8 L435.2 912.5 L434.6 916.4 L434.3 920.5 L434.2 924.8 L434.4 929.2 L434.9 933.7 L435.6 938.4 L436.6 943.1 L437.9 947.9 L439.4 952.7 L441.2 957.6 L443.2 962.4 L445.4 967.1 L447.9 971.8 L450.5 976.3 L453.3 980.8 L456.3 985.1 L459.5 989.2 L462.8 993.2 L466.2 996.9 L469.7 1000.4 L473.3 1003.6 L476.9 1006.6 L480.6 1009.3 L484.4 1011.7 L488.1 1013.8 L491.8 1015.5 L495.5 1016.9 L499.1 1018 L502.7 1018.8 L506.2 1019.1 L509.5 1019.2 L512.7 1018.9 L515.8 1018.2 L518.7 1017.2 L521.5 1015.8Z" fill="#fff"/><path d="M519.1 1017L563.3 991.5M521.5 1015.8L565.6 990.3M523.6 1014.4L567.8 988.9M525.7 1012.7L569.9 987.2M527.6 1010.8L571.8 985.3M529.3 1008.7L573.5 983.2M530.9 1006.3L575 980.8M532.2 1003.7L576.4 978.2M533.4 1001L577.6 975.5M534.4 998L578.6 972.5M535.2 994.9L579.4 969.4M535.8 991.6L580 966.1M536.2 988.1L580.4 962.6M536.4 984.6L580.6 959.1M536.4 980.8L580.6 955.3M536.2 977L580.4 951.5M535.8 973.1L580 947.6M535.2 969.1L579.4 943.6M534.4 965.1L578.6 939.6M533.4 961L577.6 935.5M532.2 956.8L576.4 931.3M530.9 952.7L575 927.2M529.3 948.6L573.5 923.1M527.6 944.4L571.8 918.9M525.7 940.3L569.9 914.8M523.6 936.3L567.8 910.8M521.5 932.3L565.6 906.8M519.1 928.4L563.3 902.9M516.6 924.6L560.8 899.1M514 921L558.2 895.5M511.3 917.4L555.5 891.9M508.5 914L552.7 888.5M505.6 910.7L549.8 885.2M502.6 907.7L546.8 882.2M499.6 904.7L543.7 879.2M496.5 902L540.6 876.5M493.3 899.5L537.5 874M490.1 897.2L534.3 871.7M486.9 895.1L531.1 869.6M483.7 893.3L527.9 867.8M480.5 891.7L524.7 866.2M477.3 890.3L521.5 864.8M474.1 889.2L518.3 863.7M471 888.3L515.2 862.8M468 887.7L512.1 862.2M465 887.3L509.2 861.8M462.1 887.2L506.3 861.7M459.3 887.4L503.4 861.9M456.6 887.8L500.7 862.3M454 888.5L498.1 863M451.5 889.4L495.7 863.9M449.2 890.6L493.3 865.1M447 892L491.1 866.5" stroke-width="1.2"/><path d="M563.3 991.5 L562.8 989.5 L564.6 988.6 L566.1 990 L567.8 988.9 L567.2 986.9 L568.7 985.6 L570.3 986.8 L571.8 985.3 L570.9 983.3 L572.3 981.6 L573.8 982.7 L575 980.8 L574 978.8 L575.1 976.8 L576.6 977.7 L577.6 975.5 L576.4 973.6 L577.2 971.3 L578.7 971.9 L579.4 969.4 L578.1 967.6 L578.6 965 L580.1 965.4 L580.4 962.6 L579 961 L579.2 958.2 L580.6 958.3 L580.6 955.3 L579.1 953.8 L579 950.9 L580.3 950.8 L580 947.6 L578.5 946.3 L578 943.2 L579.2 942.8 L578.6 939.6 L577 938.5 L576.2 935.3 L577.3 934.7 L576.4 931.3 L574.8 930.4 L573.8 927.2 L574.7 926.4 L573.5 923.1 L571.9 922.4 L570.6 919.2 L571.4 918.1 L569.9 914.8 L568.4 914.4 L566.8 911.3 L567.4 910 L565.6 906.8 L564.2 906.6 L562.3 903.6 L562.8 902.2 L560.8 899.1 L559.4 899.2 L557.4 896.4 L557.7 894.7 L555.5 891.9 L554.2 892.2 L552 889.6 L552.1 887.8 L549.8 885.2 L548.6 885.8 L546.3 883.4 L546.2 881.6 L543.7 879.2 L542.7 880 L540.3 877.9 L540 876 L537.5 874 L536.6 875 L534.1 873.3 L533.6 871.3 L531.1 869.6 L530.4 870.9 L527.9 869.4 L527.2 867.4 L524.7 866.2 L524.2 867.6 L521.7 866.5 L520.8 864.5 L518.3 863.7 L518 865.2 L515.6 864.6 L514.6 862.6 L512.1 862.2 L512 863.9 L509.7 863.6 L508.6 861.8 L506.3 861.7 L506.3 863.5 L504.2 863.7 L502.9 861.9 L500.7 862.3 L501 864.2 L499 864.8 L497.6 863.1 L495.7 863.9 L496.1 865.9 L494.3 866.8 L492.9 865.4 L491.1 866.5 L491.8 868.5"/><path d="M520.5 1014.1 L521.9 1015.5 L523.6 1014.4 L523 1012.4 L524.6 1011.1 L526.1 1012.3 L527.6 1010.8 L526.8 1008.8 L528.1 1007.1 L529.6 1008.2 L530.9 1006.3 L529.9 1004.3 L530.9 1002.3 L532.5 1003.2 L533.4 1001 L532.3 999.1 L533 996.8 L534.6 997.4 L535.2 994.9 L533.9 993.1 L534.4 990.5 L535.9 990.9 L536.2 988.1 L534.8 986.5 L535 983.7 L536.4 983.8 L536.4 980.8 L535 979.3 L534.8 976.4 L536.1 976.3 L535.8 973.1 L534.3 971.8 L533.8 968.7 L535 968.3 L534.4 965.1 L532.9 964 L532.1 960.8 L533.2 960.2 L532.2 956.8 L530.7 955.9 L529.6 952.7 L530.6 951.9 L529.3 948.6 L527.8 947.9 L526.4 944.7 L527.2 943.6 L525.7 940.3 L524.2 939.9 L522.6 936.8 L523.2 935.5 L521.5 932.3 L520 932.1 L518.2 929.1 L518.6 927.7 L516.6 924.6 L515.3 924.7 L513.2 921.9 L513.5 920.2 L511.3 917.4 L510.1 917.7 L507.9 915.1 L507.9 913.3 L505.6 910.7 L504.5 911.3 L502.1 908.9 L502 907.1 L499.6 904.7 L498.6 905.5 L496.1 903.4 L495.8 901.5 L493.3 899.5 L492.5 900.5 L490 898.8 L489.5 896.8 L486.9 895.1 L486.2 896.4 L483.7 894.9 L483.1 892.9 L480.5 891.7 L480 893.1 L477.5 892 L476.7 890 L474.1 889.2 L473.8 890.7 L471.4 890.1 L470.4 888.1 L468 887.7 L467.9 889.4 L465.6 889.1 L464.4 887.3 L462.1 887.2 L462.2 889 L460 889.2 L458.7 887.4 L456.6 887.8 L456.8 889.7 L454.8 890.3 L453.5 888.6 L451.5 889.4 L452 891.4 L450.2 892.3 L448.7 890.9 L447 892 L447.6 894 L446 895.3 L444.5 894.1 L443 895.6 L443.8 897.6 L442.5 899.3 L441 898.2 L439.7 900.1 L440.7 902.1 L439.7 904.1 L438.1 903.2 L437.2 905.4 L438.3 907.3 L437.6 909.6 L436 909 L435.4 911.5 L436.7 913.3 L436.2 915.9 L434.7 915.5 L434.4 918.3 L435.8 919.9 L435.6 922.7 L434.2 922.6 L434.2 925.6 L435.6 927.1 L435.8 930 L434.5 930.1 L434.8 933.3 L436.3 934.6 L436.8 937.7 L435.6 938.1 L436.2 941.3 L437.7 942.4 L438.5 945.6 L437.4 946.2 L438.4 949.6 L439.9 950.5 L441 953.7 L440 954.5 L441.3 957.8 L442.8 958.5 L444.2 961.7 L443.4 962.8 L444.9 966.1 L446.4 966.5 L448 969.6 L447.4 970.9 L449.1 974.1 L450.6 974.3 L452.4 977.3 L452 978.7 L454 981.8 L455.3 981.7 L457.4 984.5 L457.1 986.2 L459.3 989 L460.5 988.7 L462.7 991.3 L462.7 993.1 L465 995.7 L466.1 995.1 L468.5 997.5 L468.6 999.3 L471 1001.7 L472 1000.9 L474.5 1003 L474.8 1004.9 L477.3 1006.9 L478.1 1005.9 L480.6 1007.6 L481.1 1009.6 L483.7 1011.3 L484.4 1010 L486.9 1011.5 L487.5 1013.5 L490.1 1014.7 L490.6 1013.3 L493.1 1014.4 L493.9 1016.4 L496.5 1017.2 L496.8 1015.7 L499.2 1016.3 L500.2 1018.3 L502.6 1018.7 L502.7 1017 L505 1017.3 L506.2 1019.1 L508.5 1019.2 L508.4 1017.4 L510.6 1017.2 L511.9 1019 L514 1018.6 L513.8 1016.7 L515.8 1016.1 L517.1 1017.8 L519.1 1017 L518.6 1015 L520.5 1014.1Z" fill="#fff"/><path d="M519.2 1011.9A67.8 39.1 60 1 0 451.4 894.5A67.8 39.1 60 1 0 519.2 1011.9" fill="#fff"/><g clip-path="url(#dc1)"><path d="M453.6 893.4L497.8 867.9M451.4 894.5L495.6 869M449.3 895.8L493.5 870.3M447.4 897.4L491.6 871.9M445.6 899.2L489.8 873.7M444 901.2L488.2 875.7M442.6 903.4L486.8 877.9M441.3 905.8L485.5 880.3M440.2 908.4L484.4 882.9M439.3 911.2L483.4 885.7M438.5 914.1L482.7 888.6M437.9 917.2L482.1 891.7M437.6 920.4L481.7 894.9M437.4 923.8L481.5 898.3M437.4 927.3L481.5 901.8M437.6 930.9L481.7 905.4M437.9 934.5L482.1 909M438.5 938.3L482.7 912.8M439.3 942.1L483.4 916.6M440.2 945.9L484.4 920.4M441.3 949.8L485.5 924.3M442.6 953.7L486.8 928.2M444 957.6L488.2 932.1M445.6 961.4L489.8 935.9M447.4 965.3L491.6 939.8M449.3 969L493.5 943.5M451.4 972.8L495.6 947.3M453.6 976.4L497.8 950.9M455.9 980L500.1 954.5M458.4 983.4L502.5 957.9M460.9 986.8L505.1 961.3M463.5 990L507.7 964.5M466.3 993L510.4 967.5M469.1 995.9L513.2 970.4M471.9 998.6L516.1 973.1M474.8 1001.2L519 975.7M477.8 1003.5L522 978M480.8 1005.7L525 980.2M483.8 1007.7L528 982.2M486.8 1009.4L531 983.9M489.8 1010.9L534 985.4M492.8 1012.2L537 986.7M495.8 1013.3L539.9 987.8M498.7 1014.1L542.8 988.6M501.5 1014.7L545.7 989.2M504.3 1015L548.5 989.5M507.1 1015.1L551.2 989.6M509.7 1014.9L553.9 989.4M512.2 1014.5L556.4 989M514.7 1013.9L558.9 988.4M517 1013L561.2 987.5M519.2 1011.9L563.4 986.4M521.3 1010.6L565.4 985.1" stroke-width="1.2"/><path d="M563.4 986.4A67.8 39.1 60 1 0 495.6 869A67.8 39.1 60 1 0 563.4 986.4" fill="#fff"/><path d="M482.3 910.1L497.1 931.2M521.1 977.4L510.3 954"/><ellipse cx="497.4" cy="926.5" rx="3" ry="4.6" transform="rotate(-30 497.4 926.5)" fill="#fff"/><ellipse cx="515.7" cy="957.3" rx="3" ry="4.6" transform="rotate(-30 515.7 957.3)" fill="#fff"/><path d="M536.7 940.3 L538.3 938.7 L539.4 936.5 L539.7 933.6 L539.4 930.4 L538.3 926.9 L536.7 923.5 L534.6 920.4 L532.1 917.8 L529.5 915.9 L526.8 914.7 L524.3 914.5 L522.2 915.1 L498.8 928.6 L497.2 930.2 L496.2 932.4 L495.8 935.3 L496.2 938.5 L497.2 942 L498.8 945.4 L501 948.5 L503.4 951.1 L506.1 953 L508.7 954.2 L511.2 954.4 L513.3 953.8Z" fill="#fff"/><path d="M513.3 953.8 L515 952.2 L516 950 L516.3 947.1 L516 943.9 L515 940.4 L513.3 937 L511.2 933.9 L508.7 931.3 L506.1 929.4 L503.4 928.2 L501 928 L498.8 928.6 L497.2 930.2 L496.2 932.4 L495.8 935.3 L496.2 938.5 L497.2 942 L498.8 945.4 L501 948.5 L503.4 951.1 L506.1 953 L508.7 954.2 L511.2 954.4 L513.3 953.8Z"/><path d="M511.2 955.5 L511.5 952.7 L512.6 952.9 L514.5 956.1 L515.8 956 L515 952.7 L515.9 952.3 L518.4 954.8 L519.3 954 L517.6 950.6 L518.2 949.7 L520.8 951.2 L521.2 949.8 L518.9 947 L518.9 945.6 L521.4 945.9 L521.2 944 L518.6 942.2 L518.2 940.6 L520 939.6 L519.3 937.6 L516.7 937 L515.9 935.5 L516.9 933.3 L515.8 931.6 L513.7 932.3" stroke-width="1.2"/><path d="M511.3 950.3A10.5 6.1 60 1 0 500.8 932.1A10.5 6.1 60 1 0 511.3 950.3"/></g><path d="M519.2 1011.9A67.8 39.1 60 1 0 451.4 894.5A67.8 39.1 60 1 0 519.2 1011.9"/><circle cx="498" cy="873.5" r="1.6" fill="#fff"/><circle cx="514.1" cy="894.8" r="1.6" fill="#fff"/><circle cx="547.6" cy="910" r="1.6" fill="#fff"/><circle cx="549" cy="945" r="1.6" fill="#fff"/><circle cx="564.1" cy="966.7" r="1.6" fill="#fff"/><circle cx="547.2" cy="995.9" r="1.6" fill="#fff"/><circle cx="466.1" cy="882.6" r="1.6" fill="#fff"/><circle cx="452.2" cy="898.7" r="1.5" fill="#fff"/><circle cx="463.5" cy="915.5" r="1.5" fill="#fff"/><circle cx="455.9" cy="949.9" r="1.5" fill="#fff"/><circle cx="487.2" cy="965.7" r="1.5" fill="#fff"/><circle cx="490.8" cy="994.9" r="1.5" fill="#fff"/><circle cx="523.7" cy="998.8" r="1.5" fill="#fff"/><path d="M391.3 954.9 L387.5 953.2 L383.9 952 L380.3 951.1 L376.8 950.6 L373.4 950.5 L370.2 950.8 L367.1 951.5 L364.2 952.6 L361.6 954 L359.1 955.9 L356.9 958.1 L355 960.7 L353.3 963.6 L351.9 966.8 L350.8 970.3 L350 974 L349.5 978 L349.4 982.3 L349.5 986.6 L349.9 991.2 L350.7 995.8 L351.7 1000.6 L353.1 1005.4 L354.7 1010.2 L356.6 1015 L358.7 1019.8 L361.2 1024.5 L363.8 1029.1 L366.6 1033.5 L369.7 1037.8 L372.9 1041.9 L376.2 1045.7 L379.7 1049.3 L383.3 1052.6 L387 1055.6 L390.7 1058.3 L394.4 1060.6 L398.1 1062.6 L401.8 1064.2 L405.5 1065.4 L409.1 1066.2 L412.6 1066.7 L415.9 1066.7 L419.1 1066.3 L422.2 1065.6 L425 1064.4 L427.6 1062.9 L430.1 1061 L432.2 1058.7 L434.1 1056.1 L435.7 1053.1 L437.1 1049.9 L438.1 1046.3 L438.9 1042.5 L439.3 1038.5 L439.4 1034.3 L439.3 1029.8 L438.8 1025.3 L438 1020.6 L436.9 1015.8 L435.5 1011 L433.8 1006.2 L431.9 1001.4 L429.7 996.6 L427.2 992 L424.6 987.4 L421.7 983 L418.6 978.7 L415.4 974.7 L412 970.9 L408.5 967.4 L404.9 964.1 L401.3 961.2 L397.5 958.5 L397 966.8 L400.3 969.1 L404.1 969.3 L407.7 972.6 L411.2 976.2 L414.5 980.1 L417.6 984.3 L420.6 988.7 L423.3 993.2 L425.8 997.9 L428 1002.7 L429.9 1007.5 L431.5 1012.3 L432.7 1017.1 L433.7 1021.8 L434.2 1026.5 L434.5 1030.9 L434.4 1035.2 L433.9 1039.2 L433.1 1043 L432 1046.4 L430.5 1049.6 L428.7 1052.3 L426.6 1054.7 L424.3 1056.7 L421.7 1058.3 L418.8 1059.4 L415.7 1060.1 L412.5 1060.4 L409 1060.2 L405.5 1059.5 L401.9 1058.4 L398.1 1056.9 L394.4 1054.9 L390.7 1052.5 L386.9 1049.8 L383.3 1046.7 L379.8 1043.2 L376.3 1039.5 L373.1 1035.5 L370 1031.3 L367.1 1026.8 L364.5 1022.2 L362.2 1017.5 L360.1 1012.7 L358.3 1007.9 L356.8 1003 L355.7 998.3 L354.9 993.6 L354.4 989 L354.3 984.6 L354.6 980.4 L355.1 976.5 L356.1 972.9 L357.3 969.5 L358.9 966.5 L360.8 963.9 L363 961.7 L365.5 959.8 L368.2 958.4 L371.2 957.5 L374.3 956.9 L377.6 956.9 L381.1 957.2 L384.7 958.1 L388.5 962.3 L391.8 963.8Z" fill="#fff"/><path d="M362.9 962.3 L360.9 964.8 L359.2 967.6 L357.9 970.9 L356.8 974.4 L356.1 978.2 L355.7 982.3 L355.7 986.6 L356.1 991.1 L356.7 995.8 L357.8 1000.5 L359.1 1005.3 L360.8 1010.1 L362.7 1014.9 L365 1019.7 L367.5 1024.3 L370.3 1028.8 L373.3 1033.1 L376.5 1037.2 L379.8 1041.1 L383.3 1044.6 L386.9 1047.8 L390.6 1050.7 L394.3 1053.2 L398.1 1055.3 L401.8 1057 L405.5 1058.3 L409 1059.1 L412.5 1059.5 L415.8 1059.5"/><path d="M430.3 1061.2 L432.6 1059.1 L434.6 1056.6 L436.4 1053.8 L437.8 1050.7 L439 1047.3 L439.9 1043.7 L440.5 1039.7 L440.8 1035.6 L440.8 1031.3 L440.4 1026.8 L439.8 1022.2 L438.9 1017.5 L437.6 1012.7 L436.1 1007.9 L434.3 1003.1 L432.2 998.3 L429.9 993.6 L427.4 988.9 L424.6 984.4 L421.6 980.1"/><circle cx="388.6" cy="957.8" r="1.7"/><circle cx="400.2" cy="964.5" r="1.7"/><path d="M345.3 1115.3 L347.9 1113.5 L350.2 1111.5 L352.3 1109.1 L354.1 1106.4 L355.7 1103.4 L357 1100 L358 1096.5 L358.7 1092.6 L359.2 1088.6 L359.3 1084.4 L359.2 1079.9 L358.7 1075.4 L358 1070.7 L357 1066 L355.7 1061.2 L354.1 1056.3 L352.3 1051.5 L350.2 1046.7 L347.9 1042 L345.3 1037.3 L342.6 1032.8 L339.6 1028.4 L336.5 1024.2 L333.3 1020.2 L329.9 1016.4 L326.3 1012.9 L322.7 1009.6 L319.1 1006.7 L315.3 1004 L311.6 1001.7 L307.8 999.7 L304.1 998.1 L300.4 996.8 L296.8 995.9 L293.3 995.3 L289.9 995.2 L286.7 995.4 L283.5 996 L280.6 997 L277.8 998.3 L228.5 1026.8 L225.9 1028.6 L223.6 1030.6 L221.5 1033 L219.7 1035.7 L218.1 1038.7 L216.8 1042.1 L215.8 1045.6 L215.1 1049.5 L214.6 1053.5 L214.5 1057.7 L214.6 1062.2 L215.1 1066.7 L215.8 1071.4 L216.8 1076.1 L218.1 1080.9 L219.7 1085.8 L221.5 1090.6 L223.6 1095.4 L225.9 1100.1 L228.5 1104.8 L231.2 1109.3 L234.2 1113.7 L237.3 1117.9 L240.6 1121.9 L244 1125.7 L247.5 1129.2 L251.1 1132.5 L254.8 1135.4 L258.5 1138.1 L262.2 1140.4 L266 1142.4 L269.7 1144 L273.4 1145.3 L277 1146.2 L280.5 1146.8 L283.9 1146.9 L287.2 1146.7 L290.3 1146.1 L293.2 1145.1 L296 1143.8Z" fill="#fff"/><path d="M296 1143.8 L298.5 1142.1 L300.8 1140 L302.9 1137.7 L304.7 1135 L306.2 1132 L307.5 1128.8 L308.6 1125.3 L309.3 1121.5 L309.8 1117.6 L310 1113.4 L309.8 1109.1 L309.5 1104.6 L308.8 1100 L307.8 1095.3 L306.6 1090.6 L305.1 1085.8 L303.3 1081 L301.3 1076.3 L299.1 1071.6 L296.6 1067 L294 1062.4 L291.1 1058.1 L288.1 1053.9 L284.9 1049.9 L281.6 1046.1 L278.1 1042.5 L274.6 1039.2 L271 1036.2 L267.3 1033.4 L263.6 1031 L259.9 1028.9 L256.2 1027.2 L252.6 1025.8 L249 1024.7 L245.5 1024 L242.1 1023.7 L238.8 1023.8 L235.6 1024.2 L232.6 1025 L229.8 1026.1 L227.2 1027.6 L224.8 1029.5 L222.6 1031.7 L220.7 1034.2 L219 1037 L217.5 1040.1 L216.4 1043.5 L215.5 1047.2 L214.9 1051 L214.6 1055.1 L214.5 1059.4 L214.8 1063.8 L215.3 1068.3 L216.1 1072.9 L217.2 1077.7 L218.6 1082.4 L220.2 1087.2 L222.1 1092 L224.2 1096.7 L226.6 1101.4 L229.1 1105.9 L231.9 1110.4 L234.9 1114.6 L238 1118.8 L241.2 1122.7 L244.6 1126.3 L248.1 1129.8 L251.7 1133 L255.3 1135.8 L259 1138.4 L262.7 1140.7 L266.4 1142.6 L270.1 1144.2 L273.7 1145.4 L277.2 1146.3 L280.7 1146.8 L284.1 1146.9 L287.3 1146.7 L290.4 1146.1 L293.3 1145.1 L296 1143.8Z"/><ellipse cx="293.3" cy="1020.3" rx="5.2" ry="2.6" transform="rotate(-8 293.3 1020.3)" fill="#fff"/><ellipse cx="336.3" cy="1094.3" rx="5.2" ry="2.6" transform="rotate(-55 336.3 1094.3)" fill="#fff"/><path d="M306.9 1143.8 L309.4 1142.1 L311.8 1140.1 L313.9 1137.7 L315.8 1135.1 L317.5 1132.1 L318.9 1128.9 L320.1 1125.4 L320.9 1121.7 L321.6 1117.8 L321.9 1113.6 L322 1109.3 L321.8 1104.8 L321.3 1100.2 L320.5 1095.5 L319.5 1090.8 L318.2 1085.9 L316.7 1081.1 L314.9 1076.2 L312.9 1071.4 L310.6 1066.6 L308.2 1061.8 L305.5 1057.2 L302.7 1052.7 L299.6 1048.4 L296.4 1044.2 L293.1 1040.2 L289.7 1036.5 L286.1 1033 L282.5 1029.7 L278.8 1026.7 L275.1 1024 L271.3 1021.5 L267.5 1019.5 L263.8 1017.7 L260.1 1016.2 L256.4 1015.2 L252.8 1014.4 L249.3 1014 L245.9 1014 L242.7 1014.3 L239.6 1015 L236.6 1016 L233.9 1017.4 L218.8 1026.1 L216.2 1027.8 L213.9 1029.8 L211.7 1032.2 L209.8 1034.8 L208.2 1037.8 L206.8 1041 L205.6 1044.5 L204.7 1048.2 L204.1 1052.1 L203.8 1056.3 L203.7 1060.6 L203.9 1065.1 L204.4 1069.7 L205.1 1074.4 L206.1 1079.1 L207.4 1084 L209 1088.8 L210.8 1093.7 L212.8 1098.5 L215 1103.3 L217.5 1108.1 L220.2 1112.7 L223 1117.2 L226 1121.5 L229.2 1125.7 L232.5 1129.7 L236 1133.4 L239.5 1136.9 L243.2 1140.2 L246.9 1143.2 L250.6 1145.9 L254.4 1148.4 L258.1 1150.4 L261.9 1152.2 L265.6 1153.7 L269.3 1154.7 L272.9 1155.5 L276.4 1155.9 L279.7 1155.9 L283 1155.6 L286.1 1154.9 L289 1153.9 L291.8 1152.5Z" fill="#fff" stroke="none"/><path d="M301.5 1146.1 L304.2 1145.2 L302.5 1141.5 L304.9 1140.4 L307.1 1143.7 L309.4 1142.2 L307.4 1138.6 L309.4 1136.9 L311.9 1140 L313.8 1137.9 L311.6 1134.6 L313.2 1132.3 L315.8 1135.1 L317.3 1132.5 L314.9 1129.4 L316.1 1126.7 L318.8 1129.1 L319.9 1126 L317.3 1123.2 L318 1120.1 L320.9 1122.1 L321.5 1118.6 L318.7 1116.2 L319 1112.7 L321.9 1114.3 L322 1110.4 L319.2 1108.4 L319 1104.7 L321.8 1105.7 L321.5 1101.6 L318.6 1100.1 L318 1096.1 L320.7 1096.7 L319.9 1092.4 L317.1 1091.4 L316.1 1087.3 L318.6 1087.3 L317.3 1082.9 L314.6 1082.5 L313.2 1078.3 L315.5 1077.8 L313.8 1073.4 L311.3 1073.5 L309.4 1069.4 L311.5 1068.4 L309.4 1064.1 L307.1 1064.6 L304.9 1060.7 L306.7 1059.2 L304.2 1055.1 L302.1 1056.1 L299.6 1052.4 L301.1 1050.4 L298.3 1046.6 L296.5 1048.1 L293.8 1044.7 L294.8 1042.3 L291.8 1038.8 L290.4 1040.8 L287.4 1037.7 L288.1 1034.9 L284.9 1031.8 L283.8 1034.2 L280.7 1031.5 L281.1 1028.5 L277.7 1025.8 L277 1028.6 L273.8 1026.4 L273.8 1023.1 L270.4 1021 L270.1 1024.1 L266.9 1022.4 L266.4 1018.9 L263 1017.4 L263.1 1020.7 L260 1019.6 L259.1 1015.9 L255.8 1015 L256.4 1018.5 L253.3 1018 L252.1 1014.3 L248.9 1014 L249.8 1017.6 L247 1017.7 L245.4 1014 L242.5 1014.3 L243.8 1018 L241.1 1018.6 L239.2 1015.1 L236.6 1016 L238.2 1019.7 L235.9 1020.8 L233.7 1017.5 L231.4 1019 L233.3 1022.6"/><path d="M292 1152.4L307.1 1143.7M294.3 1150.9L309.4 1142.2M292.4 1147.3L307.4 1138.6M296.8 1148.7L311.9 1140M298.7 1146.6L313.8 1137.9M296.5 1143.3L311.6 1134.6M300.7 1143.8L315.8 1135.1M302.3 1141.2L317.3 1132.5M299.8 1138.1L314.9 1129.4M303.8 1137.8L318.8 1129.1M304.8 1134.7L319.9 1126M302.2 1131.9L317.3 1123.2M305.8 1130.8L320.9 1122.1M306.4 1127.3L321.5 1118.6M303.6 1124.9L318.7 1116.2M306.8 1123L321.9 1114.3M306.9 1119.1L322 1110.4M304.1 1117.1L319.2 1108.4M306.8 1114.4L321.8 1105.7M306.4 1110.3L321.5 1101.6M303.6 1108.8L318.6 1100.1M305.7 1105.4L320.7 1096.7M304.8 1101.1L319.9 1092.4M302 1100.1L317.1 1091.4M303.6 1096L318.6 1087.3M302.3 1091.6L317.3 1082.9M299.6 1091.2L314.6 1082.5M300.5 1086.5L315.5 1077.8M298.7 1082.1L313.8 1073.4M296.2 1082.2L311.3 1073.5M296.4 1077.1L311.5 1068.4M294.3 1072.8L309.4 1064.1M292 1073.3L307.1 1064.6M291.6 1067.9L306.7 1059.2M289.1 1063.8L304.2 1055.1M287 1064.8L302.1 1056.1M286 1059.1L301.1 1050.4M283.2 1055.3L298.3 1046.6M281.4 1056.8L296.5 1048.1M279.8 1051L294.8 1042.3M276.7 1047.5L291.8 1038.8M275.3 1049.5L290.4 1040.8M273.1 1043.6L288.1 1034.9M269.8 1040.5L284.9 1031.8M268.8 1042.9L283.8 1034.2M266 1037.2L281.1 1028.5M262.6 1034.5L277.7 1025.8M262 1037.3L277 1028.6M258.7 1031.8L273.8 1023.1M255.3 1029.7L270.4 1021M255 1032.8L270.1 1024.1M251.3 1027.6L266.4 1018.9M248 1026.1L263 1017.4M248.1 1029.4L263.1 1020.7M244 1024.6L259.1 1015.9M240.8 1023.7L255.8 1015M241.3 1027.2L256.4 1018.5M237 1023L252.1 1014.3M233.9 1022.7L248.9 1014M234.8 1026.3L249.8 1017.6M230.3 1022.7L245.4 1014M227.4 1023L242.5 1014.3M228.7 1026.7L243.8 1018M224.1 1023.8L239.2 1015.1M221.5 1024.7L236.6 1016M223.1 1028.4L238.2 1019.7M218.6 1026.2L233.7 1017.5M216.3 1027.7L231.4 1019M218.2 1031.3L233.3 1022.6"/><path d="M289.8 1149.1 L292 1152.4 L294.3 1150.9 L292.4 1147.3 L294.4 1145.6 L296.8 1148.7 L298.7 1146.6 L296.5 1143.3 L298.1 1141 L300.7 1143.8 L302.3 1141.2 L299.8 1138.1 L301 1135.4 L303.8 1137.8 L304.8 1134.7 L302.2 1131.9 L303 1128.8 L305.8 1130.8 L306.4 1127.3 L303.6 1124.9 L304 1121.4 L306.8 1123 L306.9 1119.1 L304.1 1117.1 L304 1113.4 L306.8 1114.4 L306.4 1110.3 L303.6 1108.8 L303 1104.8 L305.7 1105.4 L304.8 1101.1 L302 1100.1 L301 1096 L303.6 1096 L302.3 1091.6 L299.6 1091.2 L298.1 1087 L300.5 1086.5 L298.7 1082.1 L296.2 1082.2 L294.4 1078.1 L296.4 1077.1 L294.3 1072.8 L292 1073.3 L289.8 1069.4 L291.6 1067.9 L289.1 1063.8 L287 1064.8 L284.5 1061.1 L286 1059.1 L283.2 1055.3 L281.4 1056.8 L278.7 1053.4 L279.8 1051 L276.7 1047.5 L275.3 1049.5 L272.4 1046.4 L273.1 1043.6 L269.8 1040.5 L268.8 1042.9 L265.7 1040.2 L266 1037.2 L262.6 1034.5 L262 1037.3 L258.8 1035.1 L258.7 1031.8 L255.3 1029.7 L255 1032.8 L251.8 1031.1 L251.3 1027.6 L248 1026.1 L248.1 1029.4 L244.9 1028.3 L244 1024.6 L240.8 1023.7 L241.3 1027.2 L238.2 1026.7 L237 1023 L233.9 1022.7 L234.8 1026.3 L231.9 1026.4 L230.3 1022.7 L227.4 1023 L228.7 1026.7 L226.1 1027.3 L224.1 1023.8 L221.5 1024.7 L223.1 1028.4 L220.8 1029.5 L218.6 1026.2 L216.3 1027.7 L218.2 1031.3 L216.2 1033 L213.8 1029.9 L211.9 1032 L214.1 1035.3 L212.5 1037.6 L209.9 1034.8 L208.3 1037.4 L210.8 1040.5 L209.6 1043.2 L206.8 1040.8 L205.8 1043.9 L208.4 1046.7 L207.6 1049.8 L204.8 1047.8 L204.2 1051.3 L207 1053.7 L206.6 1057.2 L203.8 1055.6 L203.7 1059.5 L206.5 1061.5 L206.6 1065.2 L203.8 1064.2 L204.2 1068.3 L207 1069.8 L207.6 1073.8 L204.9 1073.2 L205.8 1077.5 L208.6 1078.5 L209.6 1082.6 L207 1082.6 L208.3 1087 L211 1087.4 L212.5 1091.6 L210.1 1092.1 L211.9 1096.5 L214.4 1096.4 L216.2 1100.5 L214.2 1101.5 L216.3 1105.8 L218.6 1105.3 L220.8 1109.2 L219 1110.7 L221.5 1114.8 L223.6 1113.8 L226.1 1117.5 L224.6 1119.5 L227.4 1123.3 L229.2 1121.8 L231.9 1125.2 L230.8 1127.6 L233.9 1131.1 L235.3 1129.1 L238.2 1132.2 L237.5 1135 L240.8 1138.1 L241.8 1135.7 L244.9 1138.4 L244.6 1141.4 L248 1144.1 L248.6 1141.3 L251.8 1143.5 L251.9 1146.8 L255.3 1148.9 L255.6 1145.8 L258.8 1147.5 L259.3 1151 L262.6 1152.5 L262.5 1149.2 L265.7 1150.3 L266.6 1154 L269.8 1154.9 L269.3 1151.4 L272.4 1151.9 L273.6 1155.6 L276.7 1155.9 L275.8 1152.3 L278.7 1152.2 L280.3 1155.9 L283.2 1155.6 L281.9 1151.9 L284.5 1151.3 L286.5 1154.8 L289.1 1153.9 L287.5 1150.2 L289.8 1149.1Z" fill="#fff"/><path d="M289.6 1148.6A68.5 39.5 60 1 0 221.1 1030A68.5 39.5 60 1 0 289.6 1148.6" fill="#fff"/><path d="M287.1 1144.3A63.5 36.7 60 1 0 223.6 1034.3A63.5 36.7 60 1 0 287.1 1144.3"/><path d="M223.6 1034.3L247.1 1023M219.5 1037.3L243.2 1026M216.2 1041.3L239.9 1029.8M213.5 1046.2L237.4 1034.5M211.7 1051.8L235.6 1040M210.6 1058.2L234.6 1046.2M210.4 1065.2L234.4 1052.9M211.1 1072.6L235 1060.1M212.5 1080.3L236.4 1067.6M214.8 1088.2L238.5 1075.2M217.8 1096.1L241.5 1082.8M221.5 1103.8L245 1090.4M225.8 1111.3L249.2 1097.6M230.7 1118.4L254 1104.5M236 1125L259.1 1110.9M241.7 1130.9L264.7 1116.6M247.7 1136L270.4 1121.5M253.8 1140.2L276.3 1125.6M259.9 1143.5L282.3 1128.8M265.9 1145.8L288.1 1131M271.8 1147L293.8 1132.2M277.3 1147.2L299.1 1132.4M282.4 1146.3L304.1 1131.5M287.1 1144.3L308.6 1129.6" stroke-width="1"/><path d="M223.3 1038.6L246.9 1027.3M219.8 1041.9L243.5 1030.5M217 1046.1L240.8 1034.6M214.9 1051.1L238.7 1039.4M213.5 1056.8L237.4 1044.9M212.9 1063.1L236.8 1051M213.1 1069.9L237 1057.6M214.1 1077.1L238 1064.5M215.8 1084.5L239.7 1071.6M218.3 1091.9L242.1 1078.9M221.5 1099.4L245.1 1086M225.3 1106.6L248.8 1093M229.7 1113.5L253 1099.7M234.5 1120L257.7 1106M239.7 1125.9L262.8 1111.7M245.2 1131.1L268.1 1116.7M251 1135.5L273.6 1121M256.7 1139.1L279.2 1124.4M262.5 1141.7L284.8 1127M268.1 1143.4L290.2 1128.6M273.5 1144.1L295.4 1129.2M278.6 1143.7L300.3 1128.9M283.2 1142.3L304.8 1127.6" stroke-width="1"/><path d="M239.5 1030.5 L238.5 1032.1 L240.7 1035.6 L240 1037.2 L237 1035.3 L236.4 1037.2 L238.8 1040.5 L238.3 1042.4 L235.4 1040.9 L235 1043 L237.6 1046.1 L237.4 1048.1 L234.5 1047.2 L234.4 1049.5 L237.2 1052.2 L237.2 1054.4 L234.4 1054 L234.6 1056.5 L237.5 1058.8 L237.7 1061.1 L235.1 1061.2 L235.6 1063.8 L238.5 1065.7 L239.1 1068.1 L236.6 1068.7 L237.4 1071.4 L240.3 1072.8 L241.1 1075.3 L238.9 1076.3 L239.9 1079 L242.8 1079.9 L243.8 1082.4 L241.9 1084 L243.2 1086.6 L245.9 1087 L247.2 1089.5 L245.6 1091.5 L247.1 1094.1 L249.7 1093.9 L251.1 1096.3 L249.9 1098.7 L251.5 1101.1 L253.9 1100.5 L255.5 1102.7 L254.7 1105.5 L256.5 1107.8 L258.6 1106.6 L260.4 1108.6 L259.9 1111.8 L261.9 1113.8 L263.7 1112.2 L265.5 1113.9 L265.5 1117.4 L267.5 1119.1 L269 1117 L270.9 1118.6 L271.3 1122.2 L273.4 1123.7 L274.5 1121.2 L276.4 1122.4 L277.2 1126.2 L279.3 1127.3 L280 1124.5 L282 1125.4 L283.1 1129.2 L285.2 1130.1 L285.5 1126.9 L287.4 1127.5 L289 1131.3 L291 1131.8 L290.9 1128.3 L292.7 1128.6 L294.6 1132.3 L296.5 1132.4 L296 1128.8 L297.7 1128.7 L299.9 1132.3 L301.7 1132.1 L300.8 1128.3"/><path d="M241.7 1032 L241.8 1035.5 L239.9 1035.2 L238 1031.5 L236 1031.3 L236.5 1035 L234.7 1035 L232.5 1031.5 L230.7 1031.7 L231.5 1035.5 L229.9 1035.9 L227.4 1032.6 L225.8 1033.2 L227 1037 L225.6 1037.8 L222.9 1034.7 L221.5 1035.7 L223 1039.5 L221.8 1040.6 L219 1037.9 L217.8 1039.2 L219.7 1042.9 L218.6 1044.3 L215.7 1042 L214.8 1043.6 L216.9 1047.2 L216.2 1048.9 L213.2 1047 L212.5 1048.9 L214.9 1052.3 L214.4 1054.2 L211.5 1052.8 L211.1 1054.9 L213.7 1058 L213.4 1060.2 L210.5 1059.2 L210.4 1061.6 L213.2 1064.3 L213.3 1066.7 L210.5 1066.2 L210.6 1068.8 L213.5 1071.1 L213.8 1073.6 L211.2 1073.7 L211.7 1076.4 L214.6 1078.3 L215.2 1080.8 L212.8 1081.5 L213.5 1084.2 L216.5 1085.6 L217.3 1088.2 L215.2 1089.3 L216.2 1092.1 L219.1 1093 L220.1 1095.6 L218.3 1097.2 L219.5 1100 L222.3 1100.4 L223.6 1102.9 L222.1 1105 L223.6 1107.6 L226.2 1107.5 L227.6 1110 L226.5 1112.4 L228.2 1114.9 L230.6 1114.3 L232.2 1116.6 L231.4 1119.5 L233.3 1121.8 L235.4 1120.7 L237.2 1122.7 L236.9 1125.9 L238.8 1128 L240.7 1126.4 L242.6 1128.3 L242.6 1131.7 L244.7 1133.5 L246.2 1131.5 L248.2 1133 L248.6 1136.7 L250.7 1138.2 L251.9 1135.7 L253.9 1137 L254.7 1140.8 L256.8 1142 L257.6 1139.1 L259.6 1140.1 L260.8 1143.9 L262.9 1144.8 L263.3 1141.6 L265.3 1142.3 L266.8 1146.1 L268.9 1146.6 L268.8 1143.1 L270.7 1143.4 L272.6 1147.1 L274.6 1147.3 L274.1 1143.6 L275.9 1143.6 L278.1 1147.1 L279.9 1146.9 L279.1 1143.1 L280.7 1142.7 L283.2 1146 L284.8 1145.4 L283.6 1141.6 L285.1 1140.8 L287.7 1143.9 L289.1 1142.9 L287.6 1139.1 L288.8 1138 L291.6 1140.7 L292.8 1139.4 L290.9 1135.7 L292 1134.3 L294.9 1136.6 L295.8 1135 L293.7 1131.4 L294.4 1129.7 L297.4 1131.6 L298.1 1129.7 L295.7 1126.3 L296.2 1124.4 L299.1 1125.8"/><path d="M292.3 1128 L295.8 1128.7 L299.2 1129.1 L302.5 1129 L305.6 1128.5 L308.6 1127.6 L311.3 1126.3 L313.8 1124.6 L316 1122.5 L318 1120 L319.7 1117.2 L321.1 1114.1 L322.3 1110.6 L323.1 1106.9 L323.5 1103 L323.7 1098.8 L323.5 1094.4 L323.1 1089.9 L322.3 1085.3 L321.1 1080.6 L319.7 1075.8 L318 1071 L316 1066.3 L313.8 1061.6 L311.3 1057 L308.6 1052.5 L305.6 1048.2 L302.5 1044.1 L299.2 1040.3 L295.8 1036.6 L292.3 1033.3 L288.6 1030.3 L285 1027.6 L281.3 1025.3 L277.6 1023.4"/><path d="M300 1122.1 L303.5 1122.4 L306.9 1122.3 L310.1 1121.6 L313 1120.6 L315.7 1119 L318.1 1117 L320.3 1114.6 L322.1 1111.8 L323.6 1108.6 L324.8 1105.1 L325.6 1101.3 L326 1097.1 L326.1 1092.8 L325.8 1088.2 L325.1 1083.5 L324.1 1078.7 L322.7 1073.8 L321 1068.9 L319 1064 L316.7 1059.1 L314.1 1054.4 L311.2 1049.8 L308.1 1045.5 L304.8 1041.4 L301.4 1037.5 L297.8 1034 L294.1 1030.8 L290.3 1028 L286.5 1025.6"/><path d="M307.2 1115.8 L310.5 1115.6 L313.6 1115.1 L316.4 1114 L319 1112.5 L321.4 1110.5 L323.4 1108.1 L325.1 1105.3 L326.5 1102.1 L327.5 1098.6 L328.1 1094.8 L328.4 1090.7 L328.3 1086.3 L327.9 1081.8 L327.1 1077.2 L325.9 1072.5 L324.3 1067.7 L322.5 1062.9 L320.3 1058.2 L317.8 1053.6 L315.1 1049.1 L312.2 1044.9 L309 1040.8 L305.6 1037.1 L302.1 1033.6 L298.5 1030.6 L294.9 1027.9"/><ellipse cx="246.3" cy="1042.3" rx="4.8" ry="2.6" transform="rotate(-55 246.3 1042.3)" fill="#fff"/><ellipse cx="292.3" cy="1120.3" rx="5.2" ry="3" transform="rotate(-5 292.3 1120.3)" fill="#fff"/><path d="M208.9 1185 L211.4 1183.3 L213.6 1181.2 L215.6 1178.8 L217.3 1176 L218.7 1172.8 L219.8 1169.4 L220.6 1165.7 L221.1 1161.7 L221.3 1157.5 L221.1 1153.2 L220.6 1148.7 L219.8 1144 L218.7 1139.3 L217.3 1134.5 L215.6 1129.8 L213.6 1125 L211.4 1120.3 L208.9 1115.7 L206.1 1111.3 L203.2 1107 L200.1 1102.9 L196.8 1099 L193.4 1095.4 L189.8 1092.1 L186.2 1089.1 L182.6 1086.4 L178.9 1084.1 L175.2 1082.1 L171.5 1080.6 L167.9 1079.4 L164.4 1078.6 L160.9 1078.3 L157.6 1078.4 L154.5 1078.9 L151.6 1079.8 L148.9 1081.1 L141.5 1085.3 L139 1087 L136.7 1089.1 L134.8 1091.6 L133 1094.4 L131.6 1097.5 L130.5 1101 L129.7 1104.7 L129.2 1108.6 L129.1 1112.8 L129.2 1117.2 L129.7 1121.7 L130.5 1126.3 L131.6 1131 L133 1135.8 L134.8 1140.6 L136.7 1145.3 L139 1150 L141.5 1154.6 L144.2 1159.1 L147.2 1163.4 L150.3 1167.5 L153.6 1171.3 L157 1175 L160.5 1178.3 L164.1 1181.3 L167.8 1184 L171.5 1186.3 L175.2 1188.2 L178.9 1189.8 L182.5 1191 L186 1191.7 L189.4 1192.1 L192.7 1192 L195.8 1191.5 L198.8 1190.6 L201.5 1189.3Z" fill="#fff" stroke="none"/><path d="M203.3 1183.6 L205.5 1186.6 L206.5 1186.2 L205.4 1182.8 L206.3 1182.3 L208.6 1185.2 L209.5 1184.6 L208.2 1181.2 L209 1180.6 L211.4 1183.3 L212.2 1182.6 L210.7 1179.2 L211.4 1178.5 L213.9 1180.9 L214.6 1180.1 L212.9 1176.7 L213.5 1175.9 L216.1 1178 L216.7 1177.1 L214.8 1173.8 L215.3 1172.9 L217.9 1174.7 L218.4 1173.7 L216.3 1170.6 L216.7 1169.5 L219.4 1171.1 L219.7 1169.9 L217.5 1166.9 L217.7 1165.8 L220.4 1167 L220.6 1165.7 L218.3 1162.9 L218.4 1161.7 L221 1162.6 L221.2 1161.3 L218.7 1158.7 L218.7 1157.4 L221.3 1158 L221.3 1156.5 L218.7 1154.2 L218.6 1152.8 L221.1 1153.1 L221 1151.6 L218.4 1149.5 L218.2 1148.1 L220.5 1148 L220.3 1146.4 L217.6 1144.6 L217.3 1143.2 L219.6 1142.7 L219.2 1141.1 L216.5 1139.7 L216.1 1138.2 L218.2 1137.4 L217.7 1135.8 L215.1 1134.6 L214.6 1133.1 L216.5 1132 L215.9 1130.4 L213.2 1129.6 L212.6 1128.1 L214.3 1126.7 L213.6 1125.1 L211.1 1124.6 L210.4 1123.1 L211.9 1121.4 L211.1 1119.8 L208.6 1119.6 L207.8 1118.2 L209.1 1116.2 L208.2 1114.7 L205.9 1114.8 L205 1113.4 L206.1 1111.2 L205.1 1109.7 L202.9 1110.2 L201.9 1108.8 L202.7 1106.3 L201.7 1104.9 L199.7 1105.8 L198.7 1104.5 L199.2 1101.8 L198.1 1100.5 L196.2 1101.6 L195.2 1100.4 L195.4 1097.5 L194.3 1096.3 L192.6 1097.8 L191.5 1096.7 L191.5 1093.6 L190.3 1092.5 L188.9 1094.3 L187.7 1093.3 L187.5 1090.1 L186.3 1089.1 L185.1 1091.1 L183.9 1090.3 L183.4 1087 L182.1 1086.1 L181.2 1088.4 L180 1087.7 L179.2 1084.3 L178 1083.6 L177.3 1086.1 L176.1 1085.5 L175.1 1082.1 L173.8 1081.5 L173.4 1084.3 L172.2 1083.8 L170.9 1080.4 L169.7 1079.9 L169.5 1082.9 L168.4 1082.6 L166.9 1079.1 L165.7 1078.9 L165.8 1082 L164.7 1081.8 L163 1078.5 L161.8 1078.3 L162.1 1081.6 L161.1 1081.6 L159.2 1078.3 L158.1 1078.3 L158.7 1081.7 L157.7 1081.8 L155.6 1078.7 L154.6 1078.9 L155.4 1082.3 L154.4 1082.5 L152.2 1079.5 L151.3 1079.9 L152.3 1083.3 L151.5 1083.8 L149.1 1080.9 L148.2 1081.5 L149.5 1084.9 L148.8 1085.5 L146.3 1082.8 L145.5 1083.5 L147 1086.9"/><path d="M202.1 1188.9L211.4 1183.3M202.9 1188.3L212.2 1182.6M201.6 1184.9L210.7 1179.2M204.8 1186.9L213.9 1180.9M205.6 1186.2L214.6 1180.1M204 1182.8L212.9 1176.7M207.2 1184.3L216.1 1178M207.9 1183.5L216.7 1177.1M206.1 1180.2L214.8 1173.8M209.3 1181.4L217.9 1174.7M209.9 1180.4L218.4 1173.7M207.9 1177.2L216.3 1170.6M211 1178L219.4 1171.1M211.4 1176.9L219.7 1169.9M209.3 1173.8L217.5 1166.9M212.3 1174.2L220.4 1167M212.7 1173L220.6 1165.7M210.4 1170.1L218.3 1162.9M213.3 1170L221 1162.6M213.5 1168.7L221.2 1161.3M211.1 1166L218.7 1158.7M213.8 1165.6L221.3 1158M213.9 1164.2L221.3 1156.5M211.4 1161.7L218.7 1154.2M213.9 1160.8L221.1 1153.1M213.9 1159.4L221 1151.6M211.3 1157.1L218.4 1149.5M213.6 1155.9L220.5 1148M213.5 1154.3L220.3 1146.4M210.8 1152.4L217.6 1144.6M212.9 1150.7L219.6 1142.7M212.7 1149.2L219.2 1141.1M210 1147.5L216.5 1139.7M211.8 1145.5L218.2 1137.4M211.4 1143.9L217.7 1135.8M208.8 1142.5L215.1 1134.6M210.4 1140.1L216.5 1132M209.9 1138.5L215.9 1130.4M207.2 1137.4L213.2 1129.6M208.5 1134.7L214.3 1126.7M207.9 1133.1L213.6 1125.1M205.3 1132.4L211.1 1124.6M206.3 1129.4L211.9 1121.4M205.6 1127.8L211.1 1119.8M203.1 1127.4L208.6 1119.6M203.8 1124.1L209.1 1116.2M202.9 1122.5L208.2 1114.7M200.5 1122.5L205.9 1114.8M200.9 1119L206.1 1111.2M200 1117.5L205.1 1109.7M197.7 1117.7L202.9 1110.2M197.8 1114L202.7 1106.3M196.8 1112.5L201.7 1104.9M194.6 1113.1L199.7 1105.8M194.4 1109.2L199.2 1101.8M193.3 1107.9L198.1 1100.5M191.3 1108.8L196.2 1101.6M190.8 1104.8L195.4 1097.5M189.6 1103.5L194.3 1096.3M187.8 1104.7L192.6 1097.8M187 1100.6L191.5 1093.6M185.8 1099.4L190.3 1092.5M184.2 1101L188.9 1094.3M183 1096.8L187.5 1090.1M181.8 1095.7L186.3 1089.1M180.4 1097.6L185.1 1091.1M179 1093.4L183.4 1087M177.7 1092.4L182.1 1086.1M176.6 1094.6L181.2 1088.4M174.8 1090.4L179.2 1084.3M173.6 1089.6L178 1083.6M172.7 1091.9L177.3 1086.1M170.7 1087.8L175.1 1082.1M169.4 1087.2L173.8 1081.5M168.8 1089.8L173.4 1084.3M166.5 1085.8L170.9 1080.4M165.3 1085.2L169.7 1079.9M164.9 1088.1L169.5 1082.9M162.4 1084.2L166.9 1079.1M161.2 1083.8L165.7 1078.9M161.1 1086.8L165.8 1082M158.4 1083.1L163 1078.5M157.2 1082.9L161.8 1078.3M157.3 1086.1L162.1 1081.6M154.5 1082.6L159.2 1078.3M153.4 1082.5L158.1 1078.3M153.7 1085.8L158.7 1081.7M150.8 1082.6L155.6 1078.7M149.7 1082.7L154.6 1078.9M150.3 1086.1L155.4 1082.3M147.2 1083.1L152.2 1079.5M146.2 1083.4L151.3 1079.9M147.1 1086.8L152.3 1083.3M143.9 1084.1L149.1 1080.9M143 1084.6L148.2 1081.5M144.1 1088L149.5 1084.9M140.9 1085.7L146.3 1082.8M140.1 1086.3L145.5 1083.5M141.4 1089.7L147 1086.9"/><path d="M199.7 1186.1 L202.1 1188.9 L202.9 1188.3 L201.6 1184.9 L202.3 1184.3 L204.8 1186.9 L205.6 1186.2 L204 1182.8 L204.7 1182 L207.2 1184.3 L207.9 1183.5 L206.1 1180.2 L206.7 1179.3 L209.3 1181.4 L209.9 1180.4 L207.9 1177.2 L208.3 1176.2 L211 1178 L211.4 1176.9 L209.3 1173.8 L209.7 1172.7 L212.3 1174.2 L212.7 1173 L210.4 1170.1 L210.6 1168.9 L213.3 1170 L213.5 1168.7 L211.1 1166 L211.2 1164.7 L213.8 1165.6 L213.9 1164.2 L211.4 1161.7 L211.4 1160.3 L213.9 1160.8 L213.9 1159.4 L211.3 1157.1 L211.2 1155.7 L213.6 1155.9 L213.5 1154.3 L210.8 1152.4 L210.6 1150.9 L212.9 1150.7 L212.7 1149.2 L210 1147.5 L209.7 1146 L211.8 1145.5 L211.4 1143.9 L208.8 1142.5 L208.3 1140.9 L210.4 1140.1 L209.9 1138.5 L207.2 1137.4 L206.7 1135.9 L208.5 1134.7 L207.9 1133.1 L205.3 1132.4 L204.7 1130.9 L206.3 1129.4 L205.6 1127.8 L203.1 1127.4 L202.3 1125.9 L203.8 1124.1 L202.9 1122.5 L200.5 1122.5 L199.7 1121 L200.9 1119 L200 1117.5 L197.7 1117.7 L196.8 1116.3 L197.8 1114 L196.8 1112.5 L194.6 1113.1 L193.7 1111.8 L194.4 1109.2 L193.3 1107.9 L191.3 1108.8 L190.3 1107.5 L190.8 1104.8 L189.6 1103.5 L187.8 1104.7 L186.8 1103.6 L187 1100.6 L185.8 1099.4 L184.2 1101 L183.1 1099.9 L183 1096.8 L181.8 1095.7 L180.4 1097.6 L179.3 1096.6 L179 1093.4 L177.7 1092.4 L176.6 1094.6 L175.4 1093.7 L174.8 1090.4 L173.6 1089.6 L172.7 1091.9 L171.5 1091.2 L170.7 1087.8 L169.4 1087.2 L168.8 1089.8 L167.6 1089.2 L166.5 1085.8 L165.3 1085.2 L164.9 1088.1 L163.7 1087.6 L162.4 1084.2 L161.2 1083.8 L161.1 1086.8 L159.9 1086.5 L158.4 1083.1 L157.2 1082.9 L157.3 1086.1 L156.2 1085.9 L154.5 1082.6 L153.4 1082.5 L153.7 1085.8 L152.7 1085.8 L150.8 1082.6 L149.7 1082.7 L150.3 1086.1 L149.3 1086.2 L147.2 1083.1 L146.2 1083.4 L147.1 1086.8 L146.2 1087.1 L143.9 1084.1 L143 1084.6 L144.1 1088 L143.3 1088.5 L140.9 1085.7 L140.1 1086.3 L141.4 1089.7 L140.7 1090.3 L138.2 1087.7 L137.4 1088.4 L139 1091.8 L138.3 1092.6 L135.8 1090.3 L135.1 1091.1 L136.9 1094.4 L136.3 1095.3 L133.7 1093.2 L133.1 1094.2 L135.1 1097.4 L134.7 1098.4 L132 1096.6 L131.6 1097.7 L133.7 1100.8 L133.3 1101.9 L130.7 1100.4 L130.3 1101.6 L132.6 1104.5 L132.4 1105.7 L129.7 1104.6 L129.5 1105.9 L131.9 1108.6 L131.8 1109.9 L129.2 1109 L129.1 1110.4 L131.6 1112.9 L131.6 1114.3 L129.1 1113.8 L129.1 1115.2 L131.7 1117.5 L131.8 1118.9 L129.4 1118.7 L129.5 1120.3 L132.2 1122.2 L132.4 1123.7 L130.1 1123.9 L130.3 1125.4 L133 1127.1 L133.3 1128.6 L131.2 1129.1 L131.6 1130.7 L134.2 1132.1 L134.7 1133.7 L132.6 1134.5 L133.1 1136.1 L135.8 1137.2 L136.3 1138.7 L134.5 1139.9 L135.1 1141.5 L137.7 1142.2 L138.3 1143.7 L136.7 1145.2 L137.4 1146.8 L139.9 1147.2 L140.7 1148.7 L139.2 1150.5 L140.1 1152.1 L142.5 1152.1 L143.3 1153.6 L142.1 1155.6 L143 1157.1 L145.3 1156.9 L146.2 1158.3 L145.2 1160.6 L146.2 1162.1 L148.4 1161.5 L149.3 1162.8 L148.6 1165.4 L149.7 1166.7 L151.7 1165.8 L152.7 1167.1 L152.2 1169.8 L153.4 1171.1 L155.2 1169.9 L156.2 1171 L156 1174 L157.2 1175.2 L158.8 1173.6 L159.9 1174.7 L160 1177.8 L161.2 1178.9 L162.6 1177 L163.7 1178 L164 1181.2 L165.3 1182.2 L166.4 1180 L167.6 1180.9 L168.2 1184.2 L169.4 1185 L170.3 1182.7 L171.5 1183.4 L172.3 1186.8 L173.6 1187.4 L174.2 1184.8 L175.4 1185.4 L176.5 1188.8 L177.7 1189.4 L178.1 1186.5 L179.3 1187 L180.6 1190.4 L181.8 1190.8 L181.9 1187.8 L183.1 1188.1 L184.6 1191.5 L185.8 1191.7 L185.7 1188.5 L186.8 1188.7 L188.5 1192 L189.6 1192.1 L189.3 1188.8 L190.3 1188.8 L192.2 1192 L193.3 1191.9 L192.7 1188.5 L193.7 1188.4 L195.8 1191.5 L196.8 1191.2 L195.9 1187.8 L196.8 1187.5 L199.1 1190.5 L200 1190 L198.9 1186.6 L199.7 1186.1Z" fill="#fff"/><path d="M199 1184.9A55 31.8 60 1 0 144 1089.7A55 31.8 60 1 0 199 1184.9"/><path d="M197.5 1182.3A52 30 60 1 0 145.5 1092.3A52 30 60 1 0 197.5 1182.3"/><path d="M196.5 1180.6 L199 1178.9 L201.2 1176.7 L203 1174 L204.5 1171 L205.7 1167.6 L206.4 1163.8 L206.8 1159.8 L206.8 1155.5 L206.4 1151.1 L205.7 1146.5 L204.5 1141.7 L203 1137 L201.2 1132.2 L199 1127.5 L196.5 1122.9 L193.7 1118.4 L190.8 1114.2 L187.6 1110.2 L184.2 1106.5 L180.7 1103.1 L177 1100.2 L173.4 1097.6 L169.6 1095.5 L166 1093.8 L162.3 1092.6 L158.8 1091.9 L155.4 1091.7 L152.2 1091.9 L149.3 1092.7 L146.5 1094 L136.1 1100 L133.6 1101.7 L131.5 1103.9 L129.6 1106.6 L128.1 1109.6 L127 1113 L126.2 1116.8 L125.8 1120.8 L125.8 1125.1 L126.2 1129.5 L127 1134.1 L128.1 1138.9 L129.6 1143.6 L131.5 1148.4 L133.6 1153.1 L136.1 1157.7 L138.9 1162.2 L141.9 1166.4 L145.1 1170.4 L148.4 1174.1 L152 1177.5 L155.6 1180.4 L159.3 1183 L163 1185.1 L166.6 1186.8 L170.3 1188 L173.8 1188.7 L177.2 1188.9 L180.4 1188.7 L183.4 1187.9 L186.1 1186.6Z" fill="#fff"/><path d="M186.1 1186.6 L188.6 1184.9 L190.8 1182.7 L192.6 1180 L194.1 1177 L195.3 1173.6 L196 1169.8 L196.4 1165.8 L196.4 1161.5 L196 1157.1 L195.3 1152.5 L194.1 1147.7 L192.6 1143 L190.8 1138.2 L188.6 1133.5 L186.1 1128.9 L183.4 1124.4 L180.4 1120.2 L177.2 1116.2 L173.8 1112.5 L170.3 1109.1 L166.6 1106.2 L163 1103.6 L159.3 1101.5 L155.6 1099.8 L152 1098.6 L148.4 1097.9 L145.1 1097.7 L141.9 1097.9 L138.9 1098.7 L136.1 1100 L133.6 1101.7 L131.5 1103.9 L129.6 1106.6 L128.1 1109.6 L127 1113 L126.2 1116.8 L125.8 1120.8 L125.8 1125.1 L126.2 1129.5 L127 1134.1 L128.1 1138.9 L129.6 1143.6 L131.5 1148.4 L133.6 1153.1 L136.1 1157.7 L138.9 1162.2 L141.9 1166.4 L145.1 1170.4 L148.4 1174.1 L152 1177.5 L155.6 1180.4 L159.3 1183 L163 1185.1 L166.6 1186.8 L170.3 1188 L173.8 1188.7 L177.2 1188.9 L180.4 1188.7 L183.4 1187.9 L186.1 1186.6Z"/><path d="M173.6 1126.1L191.8 1115.6M172.3 1124.7L189.7 1112.8M171 1123.4L187.6 1110.2M169.7 1122.2L185.3 1107.7M168.3 1121L183 1105.3M167 1120L180.7 1103.1M165.6 1119.1L178.2 1101.1M164.2 1118.2L175.8 1099.3M162.8 1117.5L173.4 1097.6M161.5 1116.9L170.9 1096.1M160.1 1116.5L168.4 1094.9M158.8 1116.1L166 1093.8" stroke-width="1.4"/><path d="M182 1119 L180.9 1117.6 L181.3 1114.4 L179.9 1113 L178 1114.5 L176.8 1113.3 L176.7 1109.8 L175.3 1108.6 L173.8 1110.6 L172.5 1109.6 L171.9 1105.9 L170.5 1104.9 L169.4 1107.4 L168 1106.6 L167.1 1102.8 L165.6 1102.1 L164.9 1105 L163.6 1104.5"/><path d="M180.4 1164.2L196.5 1180.6M181.2 1163.3L198.2 1179.5M181.9 1162.4L199.7 1178.2M182.5 1161.3L201.2 1176.7M183.1 1160.2L202.4 1174.9M183.5 1158.9L203.5 1173.1M183.9 1157.6L204.5 1171M184.1 1156.2L205.3 1168.8M184.3 1154.7L205.9 1166.4M184.4 1153.1L206.4 1163.8M184.3 1151.5L206.7 1161.2M184.2 1149.9L206.8 1158.4" stroke-width="1.4"/><path d="M190.1 1172.5 L190.9 1171.7 L193.8 1174.4 L194.6 1173.4 L192.6 1169.7 L193.2 1168.7 L196.2 1170.8 L196.8 1169.6 L194.5 1166.1 L194.9 1164.9 L197.9 1166.6 L198.3 1165.2 L195.7 1161.9 L196 1160.5 L198.9 1161.6 L199.1 1160 L196.3 1157.2 L196.3 1155.6"/><path d="M182.6 1180.5 L185.1 1178.7 L187.3 1176.3 L189 1173.4 L190.3 1170 L191.1 1166.1 L191.5 1161.9 L191.4 1157.5 L190.8 1152.8 L189.7 1147.9 L188.2 1143 L186.3 1138.1 L183.9 1133.2 L181.2 1128.6 L178.2 1124.1 L174.9 1120 L171.4 1116.2 L167.7 1112.9 L164 1110 L160.2 1107.7 L156.4 1105.9 L152.6 1104.7 L149 1104.1 L145.6 1104.1 L142.5 1104.8 L139.6 1106.1 L127.5 1113.1 L125 1114.9 L122.8 1117.3 L121.1 1120.2 L119.8 1123.6 L119 1127.5 L118.6 1131.7 L118.7 1136.1 L119.3 1140.8 L120.4 1145.7 L121.9 1150.6 L123.8 1155.5 L126.2 1160.4 L128.9 1165 L131.9 1169.5 L135.2 1173.6 L138.7 1177.4 L142.4 1180.7 L146.1 1183.6 L149.9 1185.9 L153.7 1187.7 L157.5 1188.9 L161.1 1189.5 L164.5 1189.5 L167.6 1188.8 L170.5 1187.5Z" fill="#fff"/><path d="M170.5 1187.5 L173 1185.7 L175.1 1183.4 L176.8 1180.5 L178.1 1177.2 L179 1173.5 L179.4 1169.5 L179.3 1165.1 L178.8 1160.5 L177.8 1155.8 L176.4 1151 L174.6 1146.1 L172.4 1141.4 L169.8 1136.7 L166.9 1132.3 L163.8 1128.2 L160.4 1124.4 L156.9 1120.9 L153.2 1118 L149.5 1115.5 L145.7 1113.5 L142 1112.1 L138.4 1111.3 L135 1111.1 L131.8 1111.4 L128.8 1112.4 L126.2 1113.9 L123.9 1116 L122 1118.6 L120.5 1121.7 L119.4 1125.2 L118.8 1129.1 L118.6 1133.3 L118.9 1137.8 L119.6 1142.4 L120.8 1147.2 L122.4 1152 L124.4 1156.9 L126.8 1161.6 L129.6 1166.1 L132.6 1170.4 L135.9 1174.4 L139.3 1178 L142.9 1181.2 L146.6 1184 L150.4 1186.2 L154.1 1187.9 L157.8 1189 L161.3 1189.5 L164.6 1189.4 L167.7 1188.8 L170.5 1187.5Z"/><path d="M164.9 1177.8 L165.4 1176.9 L166.1 1176.2 L167.1 1175.9 L168.1 1175.6 L169.1 1175.3 L170 1174.8 L171 1174.3 L171.9 1173.7 L172.7 1172.9 L173.5 1172.1 L174.3 1171.1 L174.9 1170 L175.5 1168.8 L175.9 1167.5 L176.3 1166 L176.5 1164.5 L176.6 1162.9 L176.6 1161.2 L176.5 1159.4 L176.2 1157.6 L175.9 1155.7 L175.4 1153.8 L174.8 1151.9 L174.1 1150 L173.3 1148.1 L172.3 1146.3 L171.3 1144.5 L170.3 1142.7 L169.1 1141 L167.9 1139.4 L166.6 1137.9 L165.3 1136.4 L164 1135.1 L162.7 1133.9 L161.3 1132.7 L160 1131.7 L158.7 1130.8 L157.3 1130 L156.1 1129.2 L154.8 1128.6 L153.6 1128 L152.4 1127.2 L151.3 1126 L150.2 1124.8 L149 1123.5 L147.7 1122.3 L146.5 1121.2 L145.1 1120.1 L143.8 1119.1 L142.4 1118.1 L141 1117.3 L139.6 1116.6 L138.2 1116 L136.7 1115.5 L135.3 1115.2 L134 1115 L132.7 1114.9 L131.4 1115 L130.2 1115.3 L129 1115.7 L128 1116.3 L127 1117.1 L126.1 1117.9 L125.4 1119 L124.7 1120.1 L124.2 1121.4 L123.7 1122.8 L123.4 1124.2 L123.2 1125.8 L123.2 1127.4 L123.2 1129.1 L123.3 1130.8 L123.6 1132.5 L123.9 1134.3 L124.3 1136 L124.8 1137.8 L125.3 1139.5 L125.9 1141.2 L126.6 1142.9 L127.3 1144.5 L128 1146 L128.4 1147.5 L128.6 1149 L128.7 1150.5 L128.9 1152.1 L129.2 1153.7 L129.5 1155.4 L129.9 1157.1 L130.4 1158.9 L131 1160.7 L131.7 1162.5 L132.5 1164.3 L133.3 1166.1 L134.3 1167.9 L135.3 1169.7 L136.5 1171.4 L137.7 1173.1 L139 1174.7 L140.3 1176.2 L141.7 1177.6 L143.1 1178.8 L144.6 1180 L146 1181 L147.5 1181.9 L149 1182.7 L150.4 1183.3 L151.9 1183.7 L153.3 1184 L154.6 1184.1 L155.9 1184.1 L157.1 1184 L158.3 1183.7 L159.4 1183.3 L160.4 1182.8 L161.3 1182.1 L162.2 1181.4 L163 1180.6 L163.7 1179.7 L164.3 1178.8Z"/><path d="M163.3 1175.2 L163.8 1174.3 L164.4 1173.7 L165.3 1173.4 L166.2 1173.2 L167.1 1172.8 L168 1172.4 L168.8 1172 L169.6 1171.4 L170.4 1170.7 L171.1 1169.9 L171.8 1169 L172.3 1168.1 L172.8 1167 L173.2 1165.8 L173.5 1164.5 L173.8 1163.1 L173.9 1161.6 L173.9 1160.1 L173.7 1158.5 L173.5 1156.9 L173.2 1155.2 L172.7 1153.5 L172.2 1151.8 L171.6 1150.1 L170.8 1148.3 L170 1146.7 L169.1 1145 L168.1 1143.4 L167.1 1141.9 L166 1140.5 L164.9 1139.1 L163.7 1137.8 L162.5 1136.6 L161.3 1135.5 L160.1 1134.5 L158.9 1133.5 L157.7 1132.7 L156.5 1132 L155.4 1131.3 L154.2 1130.7 L153.1 1130.1 L152.1 1129.4 L151.1 1128.3 L150.1 1127.2 L149 1126.1 L147.9 1125.1 L146.7 1124 L145.5 1123.1 L144.3 1122.2 L143.1 1121.3 L141.8 1120.6 L140.5 1119.9 L139.2 1119.4 L138 1119 L136.7 1118.7 L135.5 1118.5 L134.3 1118.5 L133.1 1118.6 L132 1118.8 L131 1119.2 L130.1 1119.7 L129.2 1120.4 L128.4 1121.2 L127.7 1122.1 L127.1 1123.1 L126.6 1124.3 L126.3 1125.5 L126 1126.8 L125.8 1128.2 L125.7 1129.7 L125.7 1131.2 L125.9 1132.7 L126.1 1134.3 L126.4 1135.9 L126.7 1137.4 L127.2 1139 L127.7 1140.6 L128.2 1142.1 L128.8 1143.6 L129.4 1145 L130 1146.5 L130.4 1147.8 L130.6 1149.1 L130.7 1150.5 L130.9 1151.9 L131.1 1153.4 L131.4 1154.9 L131.8 1156.5 L132.2 1158 L132.8 1159.7 L133.4 1161.3 L134.1 1162.9 L134.9 1164.6 L135.8 1166.2 L136.7 1167.8 L137.7 1169.3 L138.8 1170.8 L140 1172.2 L141.2 1173.6 L142.4 1174.8 L143.7 1176 L145 1177 L146.3 1178 L147.7 1178.8 L149 1179.4 L150.3 1180 L151.6 1180.4 L152.8 1180.6 L154.1 1180.8 L155.2 1180.8 L156.3 1180.6 L157.4 1180.4 L158.4 1180 L159.3 1179.6 L160.1 1179 L160.9 1178.3 L161.6 1177.6 L162.2 1176.8 L162.8 1176Z"/><ellipse cx="171.4" cy="1175.3" rx="2" ry="3.2" transform="rotate(-30 171.4 1175.3)"/><ellipse cx="128.1" cy="1121.4" rx="1.6" ry="2.6" transform="rotate(-30 128.1 1121.4)"/><path d="M162.5 1173.7 L164.9 1171.7 L166.6 1168.9 L167.7 1165.4 L168.1 1161.3 L167.7 1156.8 L166.6 1152 L164.9 1147.2 L162.5 1142.5 L159.6 1138.1 L156.3 1134.2 L152.7 1130.8 L149 1128.3 L145.3 1126.5 L141.7 1125.7 L138.4 1125.8 L135.5 1126.9 L130.3 1129.9 L127.9 1131.9 L126.1 1134.7 L125.1 1138.2 L124.7 1142.3 L125.1 1146.8 L126.1 1151.6 L127.9 1156.4 L130.3 1161.1 L133.2 1165.5 L136.5 1169.4 L140.1 1172.8 L143.8 1175.3 L147.5 1177.1 L151.1 1177.9 L154.4 1177.8 L157.3 1176.7Z" fill="#fff"/><path d="M157.3 1176.7 L159.7 1174.7 L161.4 1171.9 L162.5 1168.4 L162.9 1164.3 L162.5 1159.8 L161.4 1155 L159.7 1150.2 L157.3 1145.5 L154.4 1141.1 L151.1 1137.2 L147.5 1133.8 L143.8 1131.3 L140.1 1129.5 L136.5 1128.7 L133.2 1128.8 L130.3 1129.9 L127.9 1131.9 L126.1 1134.7 L125.1 1138.2 L124.7 1142.3 L125.1 1146.8 L126.1 1151.6 L127.9 1156.4 L130.3 1161.1 L133.2 1165.5 L136.5 1169.4 L140.1 1172.8 L143.8 1175.3 L147.5 1177.1 L151.1 1177.9 L154.4 1177.8 L157.3 1176.7Z"/><path d="M155.8 1174.1A24 13.9 60 1 0 131.8 1132.5A24 13.9 60 1 0 155.8 1174.1"/><path d="M154.3 1171.5 L156.6 1169.3 L158.1 1166 L158.6 1161.9 L158.1 1157.1 L156.6 1152.2 L154.3 1147.2 L151.2 1142.7 L147.6 1139 L143.8 1136.2 L139.9 1134.5 L136.4 1134.2 L133.3 1135.1 L128.1 1138.1 L125.7 1140.3 L124.2 1143.6 L123.7 1147.7 L124.2 1152.5 L125.7 1157.4 L128.1 1162.4 L131.2 1166.9 L134.7 1170.6 L138.6 1173.4 L142.4 1175.1 L146 1175.4 L149.1 1174.5Z" fill="#fff"/><path d="M149.1 1174.5 L151.4 1172.4 L152.9 1169.3 L153.4 1165.4 L153.1 1160.9 L151.8 1156.2 L149.7 1151.4 L146.9 1146.9 L143.6 1143.1 L140 1140 L136.3 1138 L132.7 1137.2 L129.5 1137.5 L126.9 1139 L125 1141.6 L123.9 1145.2 L123.8 1149.4 L124.6 1154 L126.3 1158.8 L128.8 1163.5 L131.8 1167.7 L135.4 1171.2 L139.1 1173.7 L142.7 1175.2 L146.1 1175.4 L149.1 1174.5Z"/><path d="M147.1 1171 L149 1169.3 L150.2 1166.6 L150.6 1163.2 L150.2 1159.4 L149 1155.4 L147.1 1151.4 L144.6 1147.7 L141.7 1144.7 L138.6 1142.4 L135.5 1141.1 L132.6 1140.8 L130.1 1141.6 L121.4 1146.6 L119.5 1148.3 L118.3 1151 L117.9 1154.4 L118.3 1158.2 L119.5 1162.2 L121.4 1166.2 L123.9 1169.9 L126.8 1172.9 L129.9 1175.2 L133 1176.5 L135.9 1176.8 L138.4 1176Z" fill="#fff"/><path d="M137 1176.6L145.7 1171.6M138.4 1176L147.1 1171M139.7 1175.1L148.3 1170.1M140.6 1173.8L149.3 1168.8M141.4 1172.2L150 1167.2M141.8 1170.3L150.5 1165.3M142 1168.2L150.6 1163.2M141.8 1166L150.5 1161M141.4 1163.6L150 1158.6M140.6 1161.2L149.3 1156.2M139.7 1158.8L148.3 1153.8M138.4 1156.4L147.1 1151.4M137 1154.1L145.7 1149.1M135.4 1152.1L144 1147.1M133.6 1150.2L142.3 1145.2M131.8 1148.7L140.5 1143.7M129.9 1147.4L138.6 1142.4M128.1 1146.5L136.7 1141.5M126.2 1146L134.9 1141M124.5 1145.8L133.1 1140.8M122.9 1146L131.5 1141M121.4 1146.6L130.1 1141.6M120.2 1147.5L128.9 1142.5"/><path d="M137.4 1174.3 L138.7 1175.9 L139.7 1175.1 L138.7 1173.2 L139.4 1172.3 L140.8 1173.5 L141.4 1172.2 L140.1 1170.6 L140.4 1169.3 L141.9 1169.9 L142 1168.2 L140.5 1167 L140.4 1165.4 L141.7 1165.5 L141.4 1163.6 L139.9 1162.9 L139.4 1161.2 L140.5 1160.7 L139.7 1158.8 L138.3 1158.6 L137.4 1157 L138.2 1155.9 L137 1154.1 L135.9 1154.6 L134.7 1153.2 L135 1151.7 L133.6 1150.2 L132.9 1151.2 L131.6 1150.2 L131.4 1148.4 L129.9 1147.4 L129.6 1148.9 L128.3 1148.2 L127.7 1146.4 L126.2 1146 L126.3 1147.7 L125.1 1147.6 L124.1 1145.8 L122.9 1146 L123.4 1147.9 L122.4 1148.3 L121.2 1146.7 L120.2 1147.5 L121.2 1149.4 L120.5 1150.3 L119.1 1149.1 L118.5 1150.4 L119.7 1152 L119.5 1153.3 L118 1152.7 L117.9 1154.4 L119.3 1155.6 L119.5 1157.2 L118.1 1157.1 L118.5 1159 L120 1159.7 L120.5 1161.4 L119.4 1161.9 L120.2 1163.8 L121.5 1164 L122.4 1165.6 L121.7 1166.7 L122.9 1168.5 L124 1168 L125.1 1169.4 L124.8 1170.9 L126.2 1172.4 L127 1171.4 L128.3 1172.4 L128.4 1174.2 L129.9 1175.2 L130.3 1173.7 L131.6 1174.4 L132.2 1176.2 L133.6 1176.6 L133.5 1174.9 L134.7 1175 L135.7 1176.8 L137 1176.6 L136.4 1174.7 L137.4 1174.3Z" fill="#fff"/><path d="M136.4 1172.6A13 7.5 60 1 0 123.4 1150A13 7.5 60 1 0 136.4 1172.6"/><path d="M122.2 1151.1L129.7 1147.9M121.3 1152.5L128.9 1149.2M120.9 1154.4L128.5 1150.9M120.8 1156.6L128.4 1152.9M121.1 1158.9L128.7 1155.1M121.7 1161.4L129.3 1157.4M122.8 1163.9L130.3 1159.7M124.1 1166.2L131.5 1161.8M125.8 1168.3L133 1163.8M127.6 1170.2L134.7 1165.5M129.4 1171.6L136.4 1166.8M131.4 1172.6L138.2 1167.7M133.2 1173.1L139.9 1168.2M134.9 1173.1L141.5 1168.2"/><path d="M129.2 1148.7 L128.5 1150.9 L128.4 1153.5 L129 1156.4 L130.1 1159.3 L131.7 1162.1 L133.7 1164.6 L136 1166.5 L138.3 1167.8 L140.4 1168.3"/>
<path d="M1532.3 144.8 L1535 143.1 L1537.2 140.6 L1538.7 137.2 L1539.4 133.2 L1539.4 128.7 L1538.6 123.8 L1537.1 118.8 L1534.9 113.8 L1532.1 109 L1528.9 104.6 L1525.3 100.8 L1521.5 97.7 L1517.5 95.4 L1513.7 94 L1510.1 93.6 L1506.8 94.2 L1504 95.8" stroke-width="1.2"/><path d="M1532.3 144.9A28.4 16.4 60 1 0 1503.9 95.7A28.4 16.4 60 1 0 1532.3 144.9M1528.6 138.5A21 12.1 60 1 0 1507.6 102.1A21 12.1 60 1 0 1528.6 138.5" fill="#fff" fill-rule="evenodd" stroke-width="1.3"/><path d="M1505.4 105.6 L1504.6 109.4 L1504.7 113.7 L1505.8 118.5 L1507.7 123.3 L1510.3 127.9 L1513.5 131.9 L1517.1 135.2 L1520.8 137.4 L1524.5 138.6"/><path d="M1514.3 101.5L1514.7 103.8"/><path d="M1492.2 174 L1494.8 172.5 L1497.1 170.3 L1498.8 167.4 L1500 164 L1500.6 160.1 L1500.6 155.8 L1500 151.2 L1498.9 146.4 L1497.2 141.5 L1495 136.8 L1492.3 132.2 L1489.3 127.9 L1485.9 124 L1482.4 120.6 L1478.7 117.8 L1474.9 115.7 L1471.2 114.2 L1467.7 113.5 L1464.3 113.6 L1461.3 114.4 L1458.7 116" stroke-width="1.2"/><path d="M1492.4 174A33.6 19.4 60 1 0 1458.8 115.8A33.6 19.4 60 1 0 1492.4 174M1486.3 163.5A21.5 12.4 60 1 0 1464.8 126.3A21.5 12.4 60 1 0 1486.3 163.5" fill="#fff" fill-rule="evenodd" stroke-width="1.3"/><path d="M1462.6 129.9 L1461.8 133.7 L1461.9 138.2 L1462.9 143 L1464.9 148 L1467.6 152.6 L1470.9 156.8 L1474.5 160.1 L1478.4 162.5 L1482.1 163.6"/><path d="M1471.7 125.7L1472.1 127.9"/><path d="M1448.4 193.9 L1451 192.4 L1453.1 190 L1454.6 186.9 L1455.5 183.2 L1455.6 179 L1455.1 174.4 L1453.9 169.6 L1452.1 164.7 L1449.7 160 L1446.8 155.6 L1443.5 151.6 L1440 148.2 L1436.3 145.4 L1432.5 143.5 L1428.9 142.3 L1425.5 142.1 L1422.4 142.7 L1419.7 144.2" stroke-width="1.2"/><path d="M1448.4 194A28.8 16.6 60 1 0 1419.6 144.2A28.8 16.6 60 1 0 1448.4 194M1444.8 187.9A21.7 12.5 60 1 0 1423.2 150.3A21.7 12.5 60 1 0 1444.8 187.9" fill="#fff" fill-rule="evenodd" stroke-width="1.3"/><path d="M1420.9 154 L1420 157.8 L1420.1 162.3 L1421.2 167.2 L1423.2 172.2 L1425.9 176.9 L1429.2 181.1 L1432.9 184.5 L1436.8 186.8 L1440.5 188"/><path d="M1430 149.7L1430.5 151.9"/><path d="M1407.1 217.7 L1409.8 216.2 L1411.9 213.8 L1413.4 210.7 L1414.2 207 L1414.4 202.8 L1413.8 198.2 L1412.7 193.5 L1410.8 188.7 L1408.4 184 L1405.6 179.6 L1402.3 175.6 L1398.8 172.2 L1395.1 169.4 L1391.4 167.4 L1387.7 166.3 L1384.3 166.1 L1381.2 166.7 L1378.6 168.2" stroke-width="1.2"/><path d="M1407.1 217.9A28.7 16.6 60 1 0 1378.5 168.1A28.7 16.6 60 1 0 1407.1 217.9M1403.6 211.8A21.7 12.5 60 1 0 1382 174.2A21.7 12.5 60 1 0 1403.6 211.8" fill="#fff" fill-rule="evenodd" stroke-width="1.3"/><path d="M1379.7 177.9 L1378.8 181.7 L1378.9 186.2 L1380 191.1 L1382 196.1 L1384.7 200.8 L1388 205 L1391.7 208.4 L1395.6 210.7 L1399.3 211.9"/><path d="M1388.8 173.6L1389.3 175.8"/><clipPath id="dc2"><path d="M1312.7 314.6A67.8 39.1 60 1 0 1244.9 197.2A67.8 39.1 60 1 0 1312.7 314.6"/></clipPath><path d="M1359.1 293 L1361.7 291.3 L1364 289.3 L1366.1 287 L1368 284.3 L1369.6 281.4 L1371 278.2 L1372.2 274.8 L1373.1 271.1 L1373.7 267.2 L1374 263.1 L1374.1 258.8 L1373.9 254.4 L1373.4 249.9 L1372.7 245.2 L1371.6 240.5 L1370.4 235.7 L1368.9 230.9 L1367.1 226 L1365.1 221.2 L1362.9 216.5 L1360.4 211.8 L1357.8 207.3 L1354.9 202.8 L1351.9 198.5 L1348.8 194.4 L1345.5 190.4 L1342.1 186.7 L1338.6 183.2 L1335 180 L1331.3 177 L1327.6 174.3 L1323.9 171.9 L1320.2 169.8 L1316.4 168.1 L1312.8 166.7 L1309.1 165.6 L1305.6 164.8 L1302.1 164.5 L1298.8 164.4 L1295.5 164.7 L1292.5 165.4 L1289.6 166.4 L1286.8 167.8 L1242.6 193.3 L1240.1 195 L1237.8 197 L1235.7 199.3 L1233.8 202 L1232.1 204.9 L1230.7 208.1 L1229.6 211.5 L1228.7 215.2 L1228.1 219.1 L1227.8 223.2 L1227.7 227.5 L1227.9 231.9 L1228.4 236.4 L1229.1 241.1 L1230.1 245.8 L1231.4 250.6 L1232.9 255.4 L1234.7 260.3 L1236.7 265.1 L1238.9 269.8 L1241.4 274.5 L1244 279 L1246.8 283.5 L1249.8 287.8 L1253 291.9 L1256.3 295.9 L1259.7 299.6 L1263.2 303.1 L1266.8 306.3 L1270.4 309.3 L1274.1 312 L1277.9 314.4 L1281.6 316.5 L1285.3 318.2 L1289 319.6 L1292.6 320.7 L1296.2 321.5 L1299.7 321.8 L1303 321.9 L1306.2 321.6 L1309.3 320.9 L1312.2 319.9 L1315 318.5Z" fill="#fff"/><path d="M1312.6 319.7L1356.8 294.2M1315 318.5L1359.1 293M1317.1 317.1L1361.3 291.6M1319.2 315.4L1363.4 289.9M1321.1 313.5L1365.3 288M1322.8 311.4L1367 285.9M1324.4 309L1368.5 283.5M1325.7 306.4L1369.9 280.9M1326.9 303.7L1371.1 278.2M1327.9 300.7L1372.1 275.2M1328.7 297.6L1372.9 272.1M1329.3 294.3L1373.5 268.8M1329.7 290.8L1373.9 265.3M1329.9 287.3L1374.1 261.8M1329.9 283.5L1374.1 258M1329.7 279.7L1373.9 254.2M1329.3 275.8L1373.5 250.3M1328.7 271.8L1372.9 246.3M1327.9 267.8L1372.1 242.3M1326.9 263.7L1371.1 238.2M1325.7 259.5L1369.9 234M1324.4 255.4L1368.5 229.9M1322.8 251.3L1367 225.8M1321.1 247.1L1365.3 221.6M1319.2 243L1363.4 217.5M1317.1 239L1361.3 213.5M1315 235L1359.1 209.5M1312.6 231.1L1356.8 205.6M1310.1 227.3L1354.3 201.8M1307.5 223.7L1351.7 198.2M1304.8 220.1L1349 194.6M1302 216.7L1346.2 191.2M1299.1 213.4L1343.3 187.9M1296.1 210.4L1340.3 184.9M1293.1 207.4L1337.2 181.9M1290 204.7L1334.1 179.2M1286.8 202.2L1331 176.7M1283.6 199.9L1327.8 174.4M1280.4 197.8L1324.6 172.3M1277.2 196L1321.4 170.5M1274 194.4L1318.2 168.9M1270.8 193L1315 167.5M1267.6 191.9L1311.8 166.4M1264.5 191L1308.7 165.5M1261.5 190.4L1305.6 164.9M1258.5 190L1302.7 164.5M1255.6 189.9L1299.8 164.4M1252.8 190.1L1296.9 164.6M1250.1 190.5L1294.2 165M1247.5 191.2L1291.6 165.7M1245 192.1L1289.2 166.6M1242.6 193.3L1286.8 167.8M1240.5 194.7L1284.6 169.2" stroke-width="1.2"/><path d="M1356.8 294.2 L1356.3 292.2 L1358.1 291.3 L1359.6 292.7 L1361.3 291.6 L1360.7 289.6 L1362.2 288.3 L1363.8 289.5 L1365.3 288 L1364.4 286 L1365.8 284.3 L1367.3 285.4 L1368.5 283.5 L1367.5 281.5 L1368.6 279.5 L1370.1 280.4 L1371.1 278.2 L1369.9 276.3 L1370.7 274 L1372.2 274.6 L1372.9 272.1 L1371.6 270.3 L1372.1 267.7 L1373.6 268.1 L1373.9 265.3 L1372.5 263.7 L1372.7 260.9 L1374.1 261 L1374.1 258 L1372.6 256.5 L1372.5 253.6 L1373.8 253.5 L1373.5 250.3 L1372 249 L1371.5 245.9 L1372.7 245.5 L1372.1 242.3 L1370.5 241.2 L1369.7 238 L1370.8 237.4 L1369.9 234 L1368.3 233.1 L1367.3 229.9 L1368.2 229.1 L1367 225.8 L1365.4 225.1 L1364.1 221.9 L1364.9 220.8 L1363.4 217.5 L1361.9 217.1 L1360.3 214 L1360.9 212.7 L1359.1 209.5 L1357.7 209.3 L1355.8 206.3 L1356.3 204.9 L1354.3 201.8 L1352.9 201.9 L1350.9 199.1 L1351.2 197.4 L1349 194.6 L1347.7 194.9 L1345.5 192.3 L1345.6 190.5 L1343.3 187.9 L1342.1 188.5 L1339.8 186.1 L1339.7 184.3 L1337.2 181.9 L1336.2 182.7 L1333.8 180.6 L1333.5 178.7 L1331 176.7 L1330.1 177.7 L1327.6 176 L1327.1 174 L1324.6 172.3 L1323.9 173.6 L1321.4 172.1 L1320.7 170.1 L1318.2 168.9 L1317.7 170.3 L1315.2 169.2 L1314.3 167.2 L1311.8 166.4 L1311.5 167.9 L1309.1 167.3 L1308.1 165.3 L1305.6 164.9 L1305.5 166.6 L1303.2 166.3 L1302.1 164.5 L1299.8 164.4 L1299.8 166.2 L1297.7 166.4 L1296.4 164.6 L1294.2 165 L1294.5 166.9 L1292.5 167.5 L1291.1 165.8 L1289.2 166.6 L1289.6 168.6 L1287.8 169.5 L1286.4 168.1 L1284.6 169.2 L1285.3 171.2"/><path d="M1314 316.8 L1315.4 318.2 L1317.1 317.1 L1316.5 315.1 L1318.1 313.8 L1319.6 315 L1321.1 313.5 L1320.3 311.5 L1321.6 309.8 L1323.1 310.9 L1324.4 309 L1323.4 307 L1324.4 305 L1326 305.9 L1326.9 303.7 L1325.8 301.8 L1326.5 299.5 L1328.1 300.1 L1328.7 297.6 L1327.4 295.8 L1327.9 293.2 L1329.4 293.6 L1329.7 290.8 L1328.3 289.2 L1328.5 286.4 L1329.9 286.5 L1329.9 283.5 L1328.5 282 L1328.3 279.1 L1329.6 279 L1329.3 275.8 L1327.8 274.5 L1327.3 271.4 L1328.5 271 L1327.9 267.8 L1326.4 266.7 L1325.6 263.5 L1326.7 262.9 L1325.7 259.5 L1324.2 258.6 L1323.1 255.4 L1324.1 254.6 L1322.8 251.3 L1321.3 250.6 L1319.9 247.4 L1320.7 246.3 L1319.2 243 L1317.7 242.6 L1316.1 239.5 L1316.7 238.2 L1315 235 L1313.5 234.8 L1311.7 231.8 L1312.1 230.4 L1310.1 227.3 L1308.8 227.4 L1306.7 224.6 L1307 222.9 L1304.8 220.1 L1303.6 220.4 L1301.4 217.8 L1301.4 216 L1299.1 213.4 L1298 214 L1295.6 211.6 L1295.5 209.8 L1293.1 207.4 L1292.1 208.2 L1289.6 206.1 L1289.3 204.2 L1286.8 202.2 L1286 203.2 L1283.5 201.5 L1283 199.5 L1280.4 197.8 L1279.7 199.1 L1277.2 197.6 L1276.6 195.6 L1274 194.4 L1273.5 195.8 L1271 194.7 L1270.2 192.7 L1267.6 191.9 L1267.3 193.4 L1264.9 192.8 L1263.9 190.8 L1261.5 190.4 L1261.4 192.1 L1259.1 191.8 L1257.9 190 L1255.6 189.9 L1255.7 191.7 L1253.5 191.9 L1252.2 190.1 L1250.1 190.5 L1250.3 192.4 L1248.3 193 L1247 191.3 L1245 192.1 L1245.5 194.1 L1243.6 195 L1242.2 193.6 L1240.5 194.7 L1241.1 196.7 L1239.5 198 L1238 196.8 L1236.5 198.3 L1237.3 200.3 L1236 202 L1234.5 200.9 L1233.2 202.8 L1234.2 204.8 L1233.2 206.8 L1231.6 205.9 L1230.7 208.1 L1231.8 210 L1231.1 212.3 L1229.5 211.7 L1228.9 214.2 L1230.2 216 L1229.7 218.6 L1228.2 218.2 L1227.9 221 L1229.3 222.6 L1229.1 225.4 L1227.7 225.3 L1227.7 228.3 L1229.1 229.8 L1229.3 232.7 L1228 232.8 L1228.3 236 L1229.8 237.3 L1230.3 240.4 L1229.1 240.8 L1229.7 244 L1231.2 245.1 L1232 248.3 L1230.9 248.9 L1231.9 252.3 L1233.4 253.2 L1234.5 256.4 L1233.5 257.2 L1234.8 260.5 L1236.3 261.2 L1237.7 264.4 L1236.9 265.5 L1238.4 268.8 L1239.9 269.2 L1241.5 272.3 L1240.9 273.6 L1242.6 276.8 L1244.1 277 L1245.9 280 L1245.5 281.4 L1247.5 284.5 L1248.8 284.4 L1250.9 287.2 L1250.6 288.9 L1252.8 291.7 L1254 291.4 L1256.2 294 L1256.2 295.8 L1258.5 298.4 L1259.6 297.8 L1262 300.2 L1262.1 302 L1264.5 304.4 L1265.5 303.6 L1268 305.7 L1268.3 307.6 L1270.8 309.6 L1271.6 308.6 L1274.1 310.3 L1274.6 312.3 L1277.2 314 L1277.9 312.7 L1280.4 314.2 L1281 316.2 L1283.6 317.4 L1284.1 316 L1286.6 317.1 L1287.4 319.1 L1290 319.9 L1290.3 318.4 L1292.7 319 L1293.7 321 L1296.1 321.4 L1296.2 319.7 L1298.5 320 L1299.7 321.8 L1302 321.9 L1301.9 320.1 L1304.1 319.9 L1305.4 321.7 L1307.5 321.3 L1307.3 319.4 L1309.3 318.8 L1310.6 320.5 L1312.6 319.7 L1312.1 317.7 L1314 316.8Z" fill="#fff"/><path d="M1312.7 314.6A67.8 39.1 60 1 0 1244.9 197.2A67.8 39.1 60 1 0 1312.7 314.6" fill="#fff"/><g clip-path="url(#dc2)"><path d="M1247.1 196.1L1291.3 170.6M1244.9 197.2L1289.1 171.7M1242.8 198.5L1287 173M1240.9 200.1L1285.1 174.6M1239.1 201.9L1283.3 176.4M1237.5 203.9L1281.7 178.4M1236.1 206.1L1280.3 180.6M1234.8 208.5L1279 183M1233.7 211.1L1277.9 185.6M1232.8 213.9L1276.9 188.4M1232 216.8L1276.2 191.3M1231.4 219.9L1275.6 194.4M1231.1 223.1L1275.2 197.6M1230.9 226.5L1275 201M1230.9 230L1275 204.5M1231.1 233.6L1275.2 208.1M1231.4 237.2L1275.6 211.7M1232 241L1276.2 215.5M1232.8 244.8L1276.9 219.3M1233.7 248.6L1277.9 223.1M1234.8 252.5L1279 227M1236.1 256.4L1280.3 230.9M1237.5 260.3L1281.7 234.8M1239.1 264.1L1283.3 238.6M1240.9 268L1285.1 242.5M1242.8 271.7L1287 246.2M1244.9 275.5L1289.1 250M1247.1 279.1L1291.3 253.6M1249.4 282.7L1293.6 257.2M1251.9 286.1L1296 260.6M1254.4 289.5L1298.6 264M1257 292.7L1301.2 267.2M1259.8 295.7L1303.9 270.2M1262.6 298.6L1306.7 273.1M1265.4 301.3L1309.6 275.8M1268.3 303.9L1312.5 278.4M1271.3 306.2L1315.5 280.7M1274.3 308.4L1318.5 282.9M1277.3 310.4L1321.5 284.9M1280.3 312.1L1324.5 286.6M1283.3 313.6L1327.5 288.1M1286.3 314.9L1330.5 289.4M1289.3 316L1333.4 290.5M1292.2 316.8L1336.3 291.3M1295 317.4L1339.2 291.9M1297.8 317.7L1342 292.2M1300.6 317.8L1344.7 292.3M1303.2 317.6L1347.4 292.1M1305.7 317.2L1349.9 291.7M1308.2 316.6L1352.4 291.1M1310.5 315.7L1354.7 290.2M1312.7 314.6L1356.9 289.1M1314.8 313.3L1358.9 287.8" stroke-width="1.2"/><path d="M1356.9 289.1A67.8 39.1 60 1 0 1289.1 171.7A67.8 39.1 60 1 0 1356.9 289.1" fill="#fff"/><path d="M1275.8 212.8L1290.6 233.9M1314.6 280.1L1303.8 256.7"/><ellipse cx="1290.9" cy="229.2" rx="3" ry="4.6" transform="rotate(-30 1290.9 229.2)" fill="#fff"/><ellipse cx="1309.2" cy="260" rx="3" ry="4.6" transform="rotate(-30 1309.2 260)" fill="#fff"/><path d="M1330.2 243 L1331.8 241.4 L1332.9 239.2 L1333.2 236.3 L1332.9 233.1 L1331.8 229.6 L1330.2 226.2 L1328.1 223.1 L1325.6 220.5 L1323 218.6 L1320.3 217.4 L1317.8 217.2 L1315.7 217.8 L1292.3 231.3 L1290.7 232.9 L1289.7 235.1 L1289.3 238 L1289.7 241.2 L1290.7 244.7 L1292.3 248.1 L1294.5 251.2 L1296.9 253.8 L1299.6 255.7 L1302.2 256.9 L1304.7 257.1 L1306.8 256.5Z" fill="#fff"/><path d="M1306.8 256.5 L1308.5 254.9 L1309.5 252.7 L1309.8 249.8 L1309.5 246.6 L1308.5 243.1 L1306.8 239.7 L1304.7 236.6 L1302.2 234 L1299.6 232.1 L1296.9 230.9 L1294.5 230.7 L1292.3 231.3 L1290.7 232.9 L1289.7 235.1 L1289.3 238 L1289.7 241.2 L1290.7 244.7 L1292.3 248.1 L1294.5 251.2 L1296.9 253.8 L1299.6 255.7 L1302.2 256.9 L1304.7 257.1 L1306.8 256.5Z"/><path d="M1304.7 258.2 L1305 255.4 L1306.1 255.6 L1308 258.8 L1309.3 258.7 L1308.5 255.4 L1309.4 255 L1311.9 257.5 L1312.8 256.7 L1311.1 253.3 L1311.7 252.4 L1314.3 253.9 L1314.7 252.5 L1312.4 249.7 L1312.4 248.3 L1314.9 248.6 L1314.7 246.7 L1312.1 244.9 L1311.7 243.3 L1313.5 242.3 L1312.8 240.3 L1310.2 239.7 L1309.4 238.2 L1310.4 236 L1309.3 234.3 L1307.2 235" stroke-width="1.2"/><path d="M1304.8 253A10.5 6.1 60 1 0 1294.3 234.8A10.5 6.1 60 1 0 1304.8 253"/></g><path d="M1312.7 314.6A67.8 39.1 60 1 0 1244.9 197.2A67.8 39.1 60 1 0 1312.7 314.6"/><circle cx="1291.5" cy="176.2" r="1.6" fill="#fff"/><circle cx="1307.6" cy="197.5" r="1.6" fill="#fff"/><circle cx="1341.1" cy="212.7" r="1.6" fill="#fff"/><circle cx="1342.5" cy="247.7" r="1.6" fill="#fff"/><circle cx="1357.6" cy="269.4" r="1.6" fill="#fff"/><circle cx="1340.7" cy="298.6" r="1.6" fill="#fff"/><circle cx="1259.6" cy="185.3" r="1.6" fill="#fff"/><circle cx="1245.7" cy="201.4" r="1.5" fill="#fff"/><circle cx="1257" cy="218.2" r="1.5" fill="#fff"/><circle cx="1249.4" cy="252.6" r="1.5" fill="#fff"/><circle cx="1280.7" cy="268.4" r="1.5" fill="#fff"/><circle cx="1284.3" cy="297.6" r="1.5" fill="#fff"/><circle cx="1317.2" cy="301.5" r="1.5" fill="#fff"/><path d="M1191.3 253.6 L1187.5 251.9 L1183.9 250.7 L1180.3 249.8 L1176.8 249.3 L1173.4 249.2 L1170.2 249.5 L1167.1 250.2 L1164.2 251.3 L1161.6 252.7 L1159.1 254.6 L1156.9 256.8 L1155 259.4 L1153.3 262.3 L1151.9 265.5 L1150.8 269 L1150 272.7 L1149.5 276.7 L1149.4 281 L1149.5 285.3 L1149.9 289.9 L1150.7 294.5 L1151.7 299.3 L1153.1 304.1 L1154.7 308.9 L1156.6 313.7 L1158.7 318.5 L1161.2 323.2 L1163.8 327.8 L1166.6 332.2 L1169.7 336.5 L1172.9 340.6 L1176.2 344.4 L1179.7 348 L1183.3 351.3 L1187 354.3 L1190.7 357 L1194.4 359.3 L1198.1 361.3 L1201.8 362.9 L1205.5 364.1 L1209.1 364.9 L1212.6 365.4 L1215.9 365.4 L1219.1 365 L1222.2 364.3 L1225 363.1 L1227.6 361.6 L1230.1 359.7 L1232.2 357.4 L1234.1 354.8 L1235.7 351.8 L1237.1 348.6 L1238.1 345 L1238.9 341.2 L1239.3 337.2 L1239.4 333 L1239.3 328.5 L1238.8 324 L1238 319.3 L1236.9 314.5 L1235.5 309.7 L1233.8 304.9 L1231.9 300.1 L1229.7 295.3 L1227.2 290.7 L1224.6 286.1 L1221.7 281.7 L1218.6 277.4 L1215.4 273.4 L1212 269.6 L1208.5 266.1 L1204.9 262.8 L1201.3 259.9 L1197.5 257.2 L1197 265.5 L1200.3 267.8 L1204.1 268 L1207.7 271.3 L1211.2 274.9 L1214.5 278.8 L1217.6 283 L1220.6 287.4 L1223.3 291.9 L1225.8 296.6 L1228 301.4 L1229.9 306.2 L1231.5 311 L1232.7 315.8 L1233.7 320.5 L1234.2 325.2 L1234.5 329.6 L1234.4 333.9 L1233.9 337.9 L1233.1 341.7 L1232 345.1 L1230.5 348.3 L1228.7 351 L1226.6 353.4 L1224.3 355.4 L1221.7 357 L1218.8 358.1 L1215.7 358.8 L1212.5 359.1 L1209 358.9 L1205.5 358.2 L1201.9 357.1 L1198.1 355.6 L1194.4 353.6 L1190.7 351.2 L1186.9 348.5 L1183.3 345.4 L1179.8 341.9 L1176.3 338.2 L1173.1 334.2 L1170 330 L1167.1 325.5 L1164.5 320.9 L1162.2 316.2 L1160.1 311.4 L1158.3 306.6 L1156.8 301.7 L1155.7 297 L1154.9 292.3 L1154.4 287.7 L1154.3 283.3 L1154.6 279.1 L1155.1 275.2 L1156.1 271.6 L1157.3 268.2 L1158.9 265.2 L1160.8 262.6 L1163 260.4 L1165.5 258.5 L1168.2 257.1 L1171.2 256.2 L1174.3 255.6 L1177.6 255.6 L1181.1 255.9 L1184.7 256.8 L1188.5 261 L1191.8 262.5Z" fill="#fff"/><path d="M1162.9 261 L1160.9 263.5 L1159.2 266.3 L1157.9 269.6 L1156.8 273.1 L1156.1 276.9 L1155.7 281 L1155.7 285.3 L1156.1 289.8 L1156.7 294.5 L1157.8 299.2 L1159.1 304 L1160.8 308.8 L1162.7 313.6 L1165 318.4 L1167.5 323 L1170.3 327.5 L1173.3 331.8 L1176.5 335.9 L1179.8 339.8 L1183.3 343.3 L1186.9 346.5 L1190.6 349.4 L1194.3 351.9 L1198.1 354 L1201.8 355.7 L1205.5 357 L1209 357.8 L1212.5 358.2 L1215.8 358.2"/><path d="M1230.3 359.9 L1232.6 357.8 L1234.6 355.3 L1236.4 352.5 L1237.8 349.4 L1239 346 L1239.9 342.4 L1240.5 338.4 L1240.8 334.3 L1240.8 330 L1240.4 325.5 L1239.8 320.9 L1238.9 316.2 L1237.6 311.4 L1236.1 306.6 L1234.3 301.8 L1232.2 297 L1229.9 292.3 L1227.4 287.6 L1224.6 283.1 L1221.6 278.8"/><circle cx="1188.6" cy="256.5" r="1.7"/><circle cx="1200.2" cy="263.2" r="1.7"/><path d="M1138.8 418 L1141.4 416.2 L1143.7 414.2 L1145.8 411.8 L1147.6 409.1 L1149.2 406.1 L1150.5 402.7 L1151.5 399.2 L1152.2 395.3 L1152.7 391.3 L1152.8 387.1 L1152.7 382.6 L1152.2 378.1 L1151.5 373.4 L1150.5 368.7 L1149.2 363.9 L1147.6 359 L1145.8 354.2 L1143.7 349.4 L1141.4 344.7 L1138.8 340 L1136.1 335.5 L1133.1 331.1 L1130 326.9 L1126.8 322.9 L1123.4 319.1 L1119.8 315.6 L1116.2 312.3 L1112.6 309.4 L1108.8 306.7 L1105.1 304.4 L1101.3 302.4 L1097.6 300.8 L1093.9 299.5 L1090.3 298.6 L1086.8 298 L1083.4 297.9 L1080.2 298.1 L1077 298.7 L1074.1 299.7 L1071.3 301 L1022 329.5 L1019.4 331.3 L1017.1 333.3 L1015 335.7 L1013.2 338.4 L1011.6 341.4 L1010.3 344.8 L1009.3 348.3 L1008.6 352.2 L1008.1 356.2 L1008 360.4 L1008.1 364.9 L1008.6 369.4 L1009.3 374.1 L1010.3 378.8 L1011.6 383.6 L1013.2 388.5 L1015 393.3 L1017.1 398.1 L1019.4 402.8 L1022 407.5 L1024.7 412 L1027.7 416.4 L1030.8 420.6 L1034.1 424.6 L1037.5 428.4 L1041 431.9 L1044.6 435.2 L1048.3 438.1 L1052 440.8 L1055.7 443.1 L1059.5 445.1 L1063.2 446.7 L1066.9 448 L1070.5 448.9 L1074 449.5 L1077.4 449.6 L1080.7 449.4 L1083.8 448.8 L1086.7 447.8 L1089.5 446.5Z" fill="#fff"/><path d="M1089.5 446.5 L1092 444.8 L1094.3 442.7 L1096.4 440.4 L1098.2 437.7 L1099.7 434.7 L1101 431.5 L1102.1 428 L1102.8 424.2 L1103.3 420.3 L1103.5 416.1 L1103.3 411.8 L1103 407.3 L1102.3 402.7 L1101.3 398 L1100.1 393.3 L1098.6 388.5 L1096.8 383.7 L1094.8 379 L1092.6 374.3 L1090.1 369.7 L1087.5 365.1 L1084.6 360.8 L1081.6 356.6 L1078.4 352.6 L1075.1 348.8 L1071.6 345.2 L1068.1 341.9 L1064.5 338.9 L1060.8 336.1 L1057.1 333.7 L1053.4 331.6 L1049.7 329.9 L1046.1 328.5 L1042.5 327.4 L1039 326.7 L1035.6 326.4 L1032.3 326.5 L1029.1 326.9 L1026.1 327.7 L1023.3 328.8 L1020.7 330.3 L1018.3 332.2 L1016.1 334.4 L1014.2 336.9 L1012.5 339.7 L1011 342.8 L1009.9 346.2 L1009 349.9 L1008.4 353.7 L1008.1 357.8 L1008 362.1 L1008.3 366.5 L1008.8 371 L1009.6 375.6 L1010.7 380.4 L1012.1 385.1 L1013.7 389.9 L1015.6 394.7 L1017.7 399.4 L1020.1 404.1 L1022.6 408.6 L1025.4 413.1 L1028.4 417.3 L1031.5 421.5 L1034.7 425.4 L1038.1 429 L1041.6 432.5 L1045.2 435.7 L1048.8 438.5 L1052.5 441.1 L1056.2 443.4 L1059.9 445.3 L1063.6 446.9 L1067.2 448.1 L1070.7 449 L1074.2 449.5 L1077.6 449.6 L1080.8 449.4 L1083.9 448.8 L1086.8 447.8 L1089.5 446.5Z"/><ellipse cx="1086.8" cy="323" rx="5.2" ry="2.6" transform="rotate(-8 1086.8 323)" fill="#fff"/><ellipse cx="1129.8" cy="397" rx="5.2" ry="2.6" transform="rotate(-55 1129.8 397)" fill="#fff"/><path d="M1100.4 446.5 L1102.9 444.8 L1105.3 442.8 L1107.4 440.4 L1109.3 437.8 L1111 434.8 L1112.4 431.6 L1113.6 428.1 L1114.4 424.4 L1115.1 420.5 L1115.4 416.3 L1115.5 412 L1115.3 407.5 L1114.8 402.9 L1114 398.2 L1113 393.5 L1111.7 388.6 L1110.2 383.8 L1108.4 378.9 L1106.4 374.1 L1104.1 369.3 L1101.7 364.5 L1099 359.9 L1096.2 355.4 L1093.1 351.1 L1089.9 346.9 L1086.6 342.9 L1083.2 339.2 L1079.6 335.7 L1076 332.4 L1072.3 329.4 L1068.6 326.7 L1064.8 324.2 L1061 322.2 L1057.3 320.4 L1053.6 318.9 L1049.9 317.9 L1046.3 317.1 L1042.8 316.7 L1039.4 316.7 L1036.2 317 L1033.1 317.7 L1030.1 318.7 L1027.4 320.1 L1012.3 328.8 L1009.7 330.5 L1007.4 332.5 L1005.2 334.9 L1003.3 337.5 L1001.7 340.5 L1000.3 343.7 L999.1 347.2 L998.2 350.9 L997.6 354.8 L997.3 359 L997.2 363.3 L997.4 367.8 L997.9 372.4 L998.6 377.1 L999.6 381.8 L1000.9 386.7 L1002.5 391.5 L1004.3 396.4 L1006.3 401.2 L1008.5 406 L1011 410.8 L1013.7 415.4 L1016.5 419.9 L1019.5 424.2 L1022.7 428.4 L1026 432.4 L1029.5 436.1 L1033 439.6 L1036.7 442.9 L1040.4 445.9 L1044.1 448.6 L1047.9 451.1 L1051.6 453.1 L1055.4 454.9 L1059.1 456.4 L1062.8 457.4 L1066.4 458.2 L1069.9 458.6 L1073.2 458.6 L1076.5 458.3 L1079.6 457.6 L1082.5 456.6 L1085.3 455.2Z" fill="#fff" stroke="none"/><path d="M1095 448.8 L1097.7 447.9 L1096 444.2 L1098.4 443.1 L1100.6 446.4 L1102.9 444.9 L1100.9 441.3 L1102.9 439.6 L1105.4 442.7 L1107.3 440.6 L1105.1 437.3 L1106.7 435 L1109.3 437.8 L1110.8 435.2 L1108.4 432.1 L1109.6 429.4 L1112.3 431.8 L1113.4 428.7 L1110.8 425.9 L1111.5 422.8 L1114.4 424.8 L1115 421.3 L1112.2 418.9 L1112.5 415.4 L1115.4 417 L1115.5 413.1 L1112.7 411.1 L1112.5 407.4 L1115.3 408.4 L1115 404.3 L1112.1 402.8 L1111.5 398.8 L1114.2 399.4 L1113.4 395.1 L1110.6 394.1 L1109.6 390 L1112.1 390 L1110.8 385.6 L1108.1 385.2 L1106.7 381 L1109 380.5 L1107.3 376.1 L1104.8 376.2 L1102.9 372.1 L1105 371.1 L1102.9 366.8 L1100.6 367.3 L1098.4 363.4 L1100.2 361.9 L1097.7 357.8 L1095.6 358.8 L1093.1 355.1 L1094.6 353.1 L1091.8 349.3 L1090 350.8 L1087.3 347.4 L1088.3 345 L1085.3 341.5 L1083.9 343.5 L1080.9 340.4 L1081.6 337.6 L1078.4 334.5 L1077.3 336.9 L1074.2 334.2 L1074.6 331.2 L1071.2 328.5 L1070.5 331.3 L1067.3 329.1 L1067.3 325.8 L1063.9 323.7 L1063.6 326.8 L1060.4 325.1 L1059.9 321.6 L1056.5 320.1 L1056.6 323.4 L1053.5 322.3 L1052.6 318.6 L1049.3 317.7 L1049.9 321.2 L1046.8 320.7 L1045.6 317 L1042.4 316.7 L1043.3 320.3 L1040.5 320.4 L1038.9 316.7 L1036 317 L1037.3 320.7 L1034.6 321.3 L1032.7 317.8 L1030.1 318.7 L1031.7 322.4 L1029.4 323.5 L1027.2 320.2 L1024.9 321.7 L1026.8 325.3"/><path d="M1085.5 455.1L1100.6 446.4M1087.8 453.6L1102.9 444.9M1085.9 450L1100.9 441.3M1090.3 451.4L1105.4 442.7M1092.2 449.3L1107.3 440.6M1090 446L1105.1 437.3M1094.2 446.5L1109.3 437.8M1095.8 443.9L1110.8 435.2M1093.3 440.8L1108.4 432.1M1097.3 440.5L1112.3 431.8M1098.3 437.4L1113.4 428.7M1095.7 434.6L1110.8 425.9M1099.3 433.5L1114.4 424.8M1099.9 430L1115 421.3M1097.1 427.6L1112.2 418.9M1100.3 425.7L1115.4 417M1100.4 421.8L1115.5 413.1M1097.6 419.8L1112.7 411.1M1100.3 417.1L1115.3 408.4M1099.9 413L1115 404.3M1097.1 411.5L1112.1 402.8M1099.2 408.1L1114.2 399.4M1098.3 403.8L1113.4 395.1M1095.5 402.8L1110.6 394.1M1097.1 398.7L1112.1 390M1095.8 394.3L1110.8 385.6M1093.1 393.9L1108.1 385.2M1094 389.2L1109 380.5M1092.2 384.8L1107.3 376.1M1089.7 384.9L1104.8 376.2M1089.9 379.8L1105 371.1M1087.8 375.5L1102.9 366.8M1085.5 376L1100.6 367.3M1085.1 370.6L1100.2 361.9M1082.6 366.5L1097.7 357.8M1080.5 367.5L1095.6 358.8M1079.5 361.8L1094.6 353.1M1076.7 358L1091.8 349.3M1074.9 359.5L1090 350.8M1073.3 353.7L1088.3 345M1070.2 350.2L1085.3 341.5M1068.8 352.2L1083.9 343.5M1066.6 346.3L1081.6 337.6M1063.3 343.2L1078.4 334.5M1062.3 345.6L1077.3 336.9M1059.5 339.9L1074.6 331.2M1056.1 337.2L1071.2 328.5M1055.5 340L1070.5 331.3M1052.2 334.5L1067.3 325.8M1048.8 332.4L1063.9 323.7M1048.5 335.5L1063.6 326.8M1044.8 330.3L1059.9 321.6M1041.5 328.8L1056.5 320.1M1041.6 332.1L1056.6 323.4M1037.5 327.3L1052.6 318.6M1034.3 326.4L1049.3 317.7M1034.8 329.9L1049.9 321.2M1030.5 325.7L1045.6 317M1027.4 325.4L1042.4 316.7M1028.3 329L1043.3 320.3M1023.8 325.4L1038.9 316.7M1020.9 325.7L1036 317M1022.2 329.4L1037.3 320.7M1017.6 326.5L1032.7 317.8M1015 327.4L1030.1 318.7M1016.6 331.1L1031.7 322.4M1012.1 328.9L1027.2 320.2M1009.8 330.4L1024.9 321.7M1011.7 334L1026.8 325.3"/><path d="M1083.3 451.8 L1085.5 455.1 L1087.8 453.6 L1085.9 450 L1087.9 448.3 L1090.3 451.4 L1092.2 449.3 L1090 446 L1091.6 443.7 L1094.2 446.5 L1095.8 443.9 L1093.3 440.8 L1094.5 438.1 L1097.3 440.5 L1098.3 437.4 L1095.7 434.6 L1096.5 431.5 L1099.3 433.5 L1099.9 430 L1097.1 427.6 L1097.5 424.1 L1100.3 425.7 L1100.4 421.8 L1097.6 419.8 L1097.5 416.1 L1100.3 417.1 L1099.9 413 L1097.1 411.5 L1096.5 407.5 L1099.2 408.1 L1098.3 403.8 L1095.5 402.8 L1094.5 398.7 L1097.1 398.7 L1095.8 394.3 L1093.1 393.9 L1091.6 389.7 L1094 389.2 L1092.2 384.8 L1089.7 384.9 L1087.9 380.8 L1089.9 379.8 L1087.8 375.5 L1085.5 376 L1083.3 372.1 L1085.1 370.6 L1082.6 366.5 L1080.5 367.5 L1078 363.8 L1079.5 361.8 L1076.7 358 L1074.9 359.5 L1072.2 356.1 L1073.3 353.7 L1070.2 350.2 L1068.8 352.2 L1065.9 349.1 L1066.6 346.3 L1063.3 343.2 L1062.3 345.6 L1059.2 342.9 L1059.5 339.9 L1056.1 337.2 L1055.5 340 L1052.3 337.8 L1052.2 334.5 L1048.8 332.4 L1048.5 335.5 L1045.3 333.8 L1044.8 330.3 L1041.5 328.8 L1041.6 332.1 L1038.4 331 L1037.5 327.3 L1034.3 326.4 L1034.8 329.9 L1031.7 329.4 L1030.5 325.7 L1027.4 325.4 L1028.3 329 L1025.4 329.1 L1023.8 325.4 L1020.9 325.7 L1022.2 329.4 L1019.6 330 L1017.6 326.5 L1015 327.4 L1016.6 331.1 L1014.3 332.2 L1012.1 328.9 L1009.8 330.4 L1011.7 334 L1009.7 335.7 L1007.3 332.6 L1005.4 334.7 L1007.6 338 L1006 340.3 L1003.4 337.5 L1001.8 340.1 L1004.3 343.2 L1003.1 345.9 L1000.3 343.5 L999.3 346.6 L1001.9 349.4 L1001.1 352.5 L998.3 350.5 L997.7 354 L1000.5 356.4 L1000.1 359.9 L997.3 358.3 L997.2 362.2 L1000 364.2 L1000.1 367.9 L997.3 366.9 L997.7 371 L1000.5 372.5 L1001.1 376.5 L998.4 375.9 L999.3 380.2 L1002.1 381.2 L1003.1 385.3 L1000.5 385.3 L1001.8 389.7 L1004.5 390.1 L1006 394.3 L1003.6 394.8 L1005.4 399.2 L1007.9 399.1 L1009.7 403.2 L1007.7 404.2 L1009.8 408.5 L1012.1 408 L1014.3 411.9 L1012.5 413.4 L1015 417.5 L1017.1 416.5 L1019.6 420.2 L1018.1 422.2 L1020.9 426 L1022.7 424.5 L1025.4 427.9 L1024.3 430.3 L1027.4 433.8 L1028.8 431.8 L1031.7 434.9 L1031 437.7 L1034.3 440.8 L1035.3 438.4 L1038.4 441.1 L1038.1 444.1 L1041.5 446.8 L1042.1 444 L1045.3 446.2 L1045.4 449.5 L1048.8 451.6 L1049.1 448.5 L1052.3 450.2 L1052.8 453.7 L1056.1 455.2 L1056 451.9 L1059.2 453 L1060.1 456.7 L1063.3 457.6 L1062.8 454.1 L1065.9 454.6 L1067.1 458.3 L1070.2 458.6 L1069.3 455 L1072.2 454.9 L1073.8 458.6 L1076.7 458.3 L1075.4 454.6 L1078 454 L1080 457.5 L1082.6 456.6 L1081 452.9 L1083.3 451.8Z" fill="#fff"/><path d="M1083 451.3A68.5 39.5 60 1 0 1014.5 332.7A68.5 39.5 60 1 0 1083 451.3" fill="#fff"/><path d="M1080.5 447A63.5 36.7 60 1 0 1017 337A63.5 36.7 60 1 0 1080.5 447"/><path d="M1017 337L1040.6 325.7M1013 340L1036.7 328.7M1009.7 344L1033.4 332.5M1007 348.9L1030.9 337.2M1005.2 354.5L1029.1 342.7M1004.1 360.9L1028.1 348.9M1003.9 367.9L1027.9 355.6M1004.6 375.3L1028.5 362.8M1006 383L1029.9 370.3M1008.3 390.9L1032 377.9M1011.3 398.8L1035 385.5M1015 406.5L1038.5 393.1M1019.3 414L1042.7 400.3M1024.2 421.1L1047.5 407.2M1029.5 427.7L1052.6 413.6M1035.2 433.6L1058.2 419.3M1041.2 438.7L1063.9 424.2M1047.3 442.9L1069.8 428.3M1053.4 446.2L1075.8 431.5M1059.4 448.5L1081.6 433.7M1065.3 449.7L1087.3 434.9M1070.8 449.9L1092.6 435.1M1075.9 449L1097.6 434.2M1080.5 447L1102.1 432.3" stroke-width="1"/><path d="M1016.8 341.3L1040.4 330M1013.3 344.6L1037 333.2M1010.5 348.8L1034.3 337.3M1008.4 353.8L1032.2 342.1M1007 359.5L1030.9 347.6M1006.4 365.8L1030.3 353.7M1006.6 372.6L1030.5 360.3M1007.6 379.8L1031.5 367.2M1009.3 387.2L1033.2 374.3M1011.8 394.6L1035.6 381.6M1015 402.1L1038.6 388.7M1018.8 409.3L1042.3 395.7M1023.2 416.2L1046.5 402.4M1028 422.7L1051.2 408.7M1033.2 428.6L1056.3 414.4M1038.7 433.8L1061.6 419.4M1044.5 438.2L1067.1 423.7M1050.2 441.8L1072.7 427.1M1056 444.4L1078.3 429.7M1061.6 446.1L1083.7 431.3M1067 446.8L1088.9 431.9M1072.1 446.4L1093.8 431.6M1076.7 445L1098.3 430.3" stroke-width="1"/><path d="M1033 333.2 L1032 334.8 L1034.2 338.3 L1033.5 339.9 L1030.5 338 L1029.9 339.9 L1032.3 343.2 L1031.8 345.1 L1028.9 343.6 L1028.5 345.7 L1031.1 348.8 L1030.9 350.8 L1028 349.9 L1027.9 352.2 L1030.7 354.9 L1030.7 357.1 L1027.9 356.7 L1028.1 359.2 L1031 361.5 L1031.2 363.8 L1028.6 363.9 L1029.1 366.5 L1032 368.4 L1032.6 370.8 L1030.1 371.4 L1030.9 374.1 L1033.8 375.5 L1034.6 378 L1032.4 379 L1033.4 381.7 L1036.3 382.6 L1037.3 385.1 L1035.4 386.7 L1036.7 389.3 L1039.4 389.7 L1040.7 392.2 L1039.1 394.2 L1040.6 396.8 L1043.2 396.6 L1044.6 399 L1043.4 401.4 L1045 403.8 L1047.4 403.2 L1049 405.4 L1048.2 408.2 L1050 410.5 L1052.1 409.3 L1053.9 411.3 L1053.4 414.5 L1055.4 416.5 L1057.2 414.9 L1059 416.6 L1059 420.1 L1061 421.8 L1062.5 419.7 L1064.4 421.3 L1064.8 424.9 L1066.9 426.4 L1068 423.9 L1069.9 425.1 L1070.7 428.9 L1072.8 430 L1073.5 427.2 L1075.5 428.1 L1076.6 431.9 L1078.7 432.8 L1079 429.6 L1080.9 430.2 L1082.5 434 L1084.5 434.5 L1084.4 431 L1086.2 431.3 L1088.1 435 L1090 435.1 L1089.5 431.5 L1091.2 431.4 L1093.4 435 L1095.2 434.8 L1094.3 431"/><path d="M1035.2 334.7 L1035.3 338.2 L1033.4 337.9 L1031.5 334.2 L1029.5 334 L1030 337.7 L1028.2 337.7 L1026 334.2 L1024.2 334.4 L1025 338.2 L1023.4 338.6 L1020.9 335.3 L1019.3 335.9 L1020.5 339.7 L1019 340.5 L1016.4 337.4 L1015 338.4 L1016.5 342.2 L1015.3 343.3 L1012.5 340.6 L1011.3 341.9 L1013.2 345.6 L1012.1 347 L1009.2 344.7 L1008.3 346.3 L1010.4 349.9 L1009.7 351.6 L1006.7 349.7 L1006 351.6 L1008.4 355 L1007.9 356.9 L1005 355.5 L1004.6 357.6 L1007.2 360.7 L1006.9 362.9 L1004 361.9 L1003.9 364.3 L1006.7 367 L1006.8 369.4 L1004 368.9 L1004.1 371.5 L1007 373.8 L1007.3 376.3 L1004.7 376.4 L1005.2 379.1 L1008.1 381 L1008.7 383.5 L1006.3 384.2 L1007 386.9 L1010 388.3 L1010.8 390.9 L1008.7 392 L1009.7 394.8 L1012.6 395.7 L1013.6 398.3 L1011.8 399.9 L1013 402.7 L1015.8 403.1 L1017.1 405.6 L1015.6 407.7 L1017 410.3 L1019.7 410.2 L1021.1 412.7 L1020 415.1 L1021.7 417.6 L1024.1 417 L1025.7 419.3 L1024.9 422.2 L1026.8 424.5 L1028.9 423.4 L1030.7 425.4 L1030.4 428.6 L1032.3 430.7 L1034.2 429.1 L1036.1 431 L1036.1 434.4 L1038.2 436.2 L1039.7 434.2 L1041.7 435.7 L1042.1 439.4 L1044.2 440.9 L1045.4 438.4 L1047.4 439.7 L1048.2 443.5 L1050.3 444.7 L1051.1 441.8 L1053.1 442.8 L1054.3 446.6 L1056.4 447.5 L1056.8 444.3 L1058.8 445 L1060.3 448.8 L1062.4 449.3 L1062.3 445.8 L1064.2 446.1 L1066.1 449.8 L1068.1 450 L1067.6 446.3 L1069.4 446.3 L1071.6 449.8 L1073.4 449.6 L1072.6 445.8 L1074.2 445.4 L1076.7 448.7 L1078.3 448.1 L1077.1 444.3 L1078.5 443.5 L1081.2 446.6 L1082.6 445.6 L1081.1 441.8 L1082.3 440.7 L1085.1 443.4 L1086.3 442.1 L1084.4 438.4 L1085.5 437 L1088.4 439.3 L1089.3 437.7 L1087.2 434.1 L1087.9 432.4 L1090.9 434.3 L1091.6 432.4 L1089.2 429 L1089.7 427.1 L1092.6 428.5"/><path d="M1085.8 430.7 L1089.3 431.4 L1092.7 431.8 L1096 431.7 L1099.1 431.2 L1102.1 430.3 L1104.8 429 L1107.3 427.3 L1109.5 425.2 L1111.5 422.7 L1113.2 419.9 L1114.6 416.8 L1115.8 413.3 L1116.6 409.6 L1117 405.7 L1117.2 401.5 L1117 397.1 L1116.6 392.6 L1115.8 388 L1114.6 383.3 L1113.2 378.5 L1111.5 373.7 L1109.5 369 L1107.3 364.3 L1104.8 359.7 L1102.1 355.2 L1099.1 350.9 L1096 346.8 L1092.7 343 L1089.3 339.3 L1085.8 336 L1082.1 333 L1078.5 330.3 L1074.8 328 L1071.1 326.1"/><path d="M1093.5 424.8 L1097 425.1 L1100.4 425 L1103.6 424.3 L1106.5 423.3 L1109.2 421.7 L1111.6 419.7 L1113.8 417.3 L1115.6 414.5 L1117.1 411.3 L1118.3 407.8 L1119.1 404 L1119.5 399.8 L1119.6 395.5 L1119.3 390.9 L1118.6 386.2 L1117.6 381.4 L1116.2 376.5 L1114.5 371.6 L1112.5 366.7 L1110.2 361.8 L1107.6 357.1 L1104.7 352.5 L1101.6 348.2 L1098.3 344.1 L1094.9 340.2 L1091.3 336.7 L1087.6 333.5 L1083.8 330.7 L1080 328.3"/><path d="M1100.7 418.5 L1104 418.3 L1107.1 417.8 L1109.9 416.7 L1112.5 415.2 L1114.9 413.2 L1116.9 410.8 L1118.6 408 L1120 404.8 L1121 401.3 L1121.6 397.5 L1121.9 393.4 L1121.8 389 L1121.4 384.5 L1120.6 379.9 L1119.4 375.2 L1117.8 370.4 L1116 365.6 L1113.8 360.9 L1111.3 356.3 L1108.6 351.8 L1105.7 347.6 L1102.5 343.5 L1099.1 339.8 L1095.6 336.3 L1092 333.3 L1088.4 330.6"/><ellipse cx="1039.8" cy="345" rx="4.8" ry="2.6" transform="rotate(-55 1039.8 345)" fill="#fff"/><ellipse cx="1085.8" cy="423" rx="5.2" ry="3" transform="rotate(-5 1085.8 423)" fill="#fff"/><path d="M999.9 489.7 L1002.4 488 L1004.6 485.9 L1006.6 483.5 L1008.3 480.7 L1009.7 477.5 L1010.8 474.1 L1011.6 470.4 L1012.1 466.4 L1012.3 462.2 L1012.1 457.9 L1011.6 453.4 L1010.8 448.7 L1009.7 444 L1008.3 439.2 L1006.6 434.5 L1004.6 429.7 L1002.4 425 L999.9 420.4 L997.1 416 L994.2 411.7 L991.1 407.6 L987.8 403.7 L984.4 400.1 L980.8 396.8 L977.2 393.8 L973.6 391.1 L969.9 388.8 L966.2 386.8 L962.5 385.3 L958.9 384.1 L955.4 383.3 L951.9 383 L948.6 383.1 L945.5 383.6 L942.6 384.5 L939.9 385.8 L932.5 390 L930 391.7 L927.7 393.8 L925.8 396.3 L924 399.1 L922.6 402.2 L921.5 405.7 L920.7 409.4 L920.2 413.3 L920.1 417.5 L920.2 421.9 L920.7 426.4 L921.5 431 L922.6 435.7 L924 440.5 L925.8 445.3 L927.7 450 L930 454.7 L932.5 459.3 L935.2 463.8 L938.2 468.1 L941.3 472.2 L944.6 476 L948 479.7 L951.5 483 L955.1 486 L958.8 488.7 L962.5 491 L966.2 492.9 L969.9 494.5 L973.5 495.7 L977 496.4 L980.4 496.8 L983.7 496.7 L986.8 496.2 L989.8 495.3 L992.5 494Z" fill="#fff" stroke="none"/><path d="M994.3 488.3 L996.5 491.3 L997.5 490.9 L996.4 487.5 L997.3 487 L999.6 489.9 L1000.5 489.3 L999.2 485.9 L1000 485.3 L1002.4 488 L1003.2 487.3 L1001.7 483.9 L1002.4 483.2 L1004.9 485.6 L1005.6 484.8 L1003.9 481.4 L1004.5 480.6 L1007.1 482.7 L1007.7 481.8 L1005.8 478.5 L1006.3 477.6 L1008.9 479.4 L1009.4 478.4 L1007.3 475.3 L1007.7 474.2 L1010.4 475.8 L1010.7 474.6 L1008.5 471.6 L1008.7 470.5 L1011.4 471.7 L1011.6 470.4 L1009.3 467.6 L1009.4 466.4 L1012 467.3 L1012.2 466 L1009.7 463.4 L1009.7 462.1 L1012.3 462.7 L1012.3 461.2 L1009.7 458.9 L1009.6 457.5 L1012.1 457.8 L1012 456.3 L1009.4 454.2 L1009.2 452.8 L1011.5 452.7 L1011.3 451.1 L1008.6 449.3 L1008.3 447.9 L1010.6 447.4 L1010.2 445.8 L1007.5 444.4 L1007.1 442.9 L1009.2 442.1 L1008.7 440.5 L1006.1 439.3 L1005.6 437.8 L1007.5 436.7 L1006.9 435.1 L1004.2 434.3 L1003.6 432.8 L1005.3 431.4 L1004.6 429.8 L1002.1 429.3 L1001.4 427.8 L1002.9 426.1 L1002.1 424.5 L999.6 424.3 L998.8 422.9 L1000.1 420.9 L999.2 419.4 L996.9 419.5 L996 418.1 L997.1 415.9 L996.1 414.4 L993.9 414.9 L992.9 413.5 L993.7 411 L992.7 409.6 L990.7 410.5 L989.7 409.2 L990.2 406.5 L989.1 405.2 L987.2 406.3 L986.2 405.1 L986.4 402.2 L985.3 401 L983.6 402.5 L982.5 401.4 L982.5 398.3 L981.3 397.2 L979.9 399 L978.7 398 L978.5 394.8 L977.3 393.8 L976.1 395.8 L974.9 395 L974.4 391.7 L973.1 390.8 L972.2 393.1 L971 392.4 L970.2 389 L969 388.3 L968.3 390.8 L967.1 390.2 L966.1 386.8 L964.8 386.2 L964.4 389 L963.2 388.5 L961.9 385.1 L960.7 384.6 L960.5 387.6 L959.4 387.3 L957.9 383.8 L956.7 383.6 L956.8 386.7 L955.7 386.5 L954 383.2 L952.8 383 L953.1 386.3 L952.1 386.3 L950.2 383 L949.1 383 L949.7 386.4 L948.7 386.5 L946.6 383.4 L945.6 383.6 L946.4 387 L945.4 387.2 L943.2 384.2 L942.3 384.6 L943.3 388 L942.5 388.5 L940.1 385.6 L939.2 386.2 L940.5 389.6 L939.8 390.2 L937.3 387.5 L936.5 388.2 L938 391.6"/><path d="M993.1 493.6L1002.4 488M993.9 493L1003.2 487.3M992.6 489.6L1001.7 483.9M995.8 491.6L1004.9 485.6M996.6 490.9L1005.6 484.8M995 487.5L1003.9 481.4M998.2 489L1007.1 482.7M998.9 488.2L1007.7 481.8M997.1 484.9L1005.8 478.5M1000.3 486.1L1008.9 479.4M1000.9 485.1L1009.4 478.4M998.9 481.9L1007.3 475.3M1002 482.7L1010.4 475.8M1002.4 481.6L1010.7 474.6M1000.3 478.5L1008.5 471.6M1003.3 478.9L1011.4 471.7M1003.7 477.7L1011.6 470.4M1001.4 474.8L1009.3 467.6M1004.3 474.7L1012 467.3M1004.5 473.4L1012.2 466M1002.1 470.7L1009.7 463.4M1004.8 470.3L1012.3 462.7M1004.9 468.9L1012.3 461.2M1002.4 466.4L1009.7 458.9M1004.9 465.5L1012.1 457.8M1004.9 464.1L1012 456.3M1002.3 461.8L1009.4 454.2M1004.6 460.6L1011.5 452.7M1004.5 459L1011.3 451.1M1001.8 457.1L1008.6 449.3M1003.9 455.4L1010.6 447.4M1003.7 453.9L1010.2 445.8M1001 452.2L1007.5 444.4M1002.8 450.2L1009.2 442.1M1002.4 448.6L1008.7 440.5M999.8 447.2L1006.1 439.3M1001.4 444.8L1007.5 436.7M1000.9 443.2L1006.9 435.1M998.2 442.1L1004.2 434.3M999.5 439.4L1005.3 431.4M998.9 437.8L1004.6 429.8M996.3 437.1L1002.1 429.3M997.3 434.1L1002.9 426.1M996.6 432.5L1002.1 424.5M994.1 432.1L999.6 424.3M994.8 428.8L1000.1 420.9M993.9 427.2L999.2 419.4M991.5 427.2L996.9 419.5M991.9 423.7L997.1 415.9M991 422.2L996.1 414.4M988.7 422.4L993.9 414.9M988.8 418.7L993.7 411M987.8 417.2L992.7 409.6M985.6 417.8L990.7 410.5M985.4 413.9L990.2 406.5M984.3 412.6L989.1 405.2M982.3 413.5L987.2 406.3M981.8 409.5L986.4 402.2M980.6 408.2L985.3 401M978.8 409.4L983.6 402.5M978 405.3L982.5 398.3M976.8 404.1L981.3 397.2M975.2 405.7L979.9 399M974 401.5L978.5 394.8M972.8 400.4L977.3 393.8M971.4 402.3L976.1 395.8M970 398.1L974.4 391.7M968.7 397.1L973.1 390.8M967.6 399.3L972.2 393.1M965.8 395.1L970.2 389M964.6 394.3L969 388.3M963.7 396.6L968.3 390.8M961.7 392.5L966.1 386.8M960.4 391.9L964.8 386.2M959.8 394.5L964.4 389M957.5 390.5L961.9 385.1M956.3 389.9L960.7 384.6M955.9 392.8L960.5 387.6M953.4 388.9L957.9 383.8M952.2 388.5L956.7 383.6M952.1 391.5L956.8 386.7M949.4 387.8L954 383.2M948.2 387.6L952.8 383M948.3 390.8L953.1 386.3M945.5 387.3L950.2 383M944.4 387.2L949.1 383M944.7 390.5L949.7 386.4M941.8 387.3L946.6 383.4M940.7 387.4L945.6 383.6M941.3 390.8L946.4 387M938.2 387.8L943.2 384.2M937.2 388.1L942.3 384.6M938.1 391.5L943.3 388M934.9 388.8L940.1 385.6M934 389.3L939.2 386.2M935.1 392.7L940.5 389.6M931.9 390.4L937.3 387.5M931.1 391L936.5 388.2M932.4 394.4L938 391.6"/><path d="M990.7 490.8 L993.1 493.6 L993.9 493 L992.6 489.6 L993.3 489 L995.8 491.6 L996.6 490.9 L995 487.5 L995.7 486.7 L998.2 489 L998.9 488.2 L997.1 484.9 L997.7 484 L1000.3 486.1 L1000.9 485.1 L998.9 481.9 L999.3 480.9 L1002 482.7 L1002.4 481.6 L1000.3 478.5 L1000.7 477.4 L1003.3 478.9 L1003.7 477.7 L1001.4 474.8 L1001.6 473.6 L1004.3 474.7 L1004.5 473.4 L1002.1 470.7 L1002.2 469.4 L1004.8 470.3 L1004.9 468.9 L1002.4 466.4 L1002.4 465 L1004.9 465.5 L1004.9 464.1 L1002.3 461.8 L1002.2 460.4 L1004.6 460.6 L1004.5 459 L1001.8 457.1 L1001.6 455.6 L1003.9 455.4 L1003.7 453.9 L1001 452.2 L1000.7 450.7 L1002.8 450.2 L1002.4 448.6 L999.8 447.2 L999.3 445.6 L1001.4 444.8 L1000.9 443.2 L998.2 442.1 L997.7 440.6 L999.5 439.4 L998.9 437.8 L996.3 437.1 L995.7 435.6 L997.3 434.1 L996.6 432.5 L994.1 432.1 L993.3 430.6 L994.8 428.8 L993.9 427.2 L991.5 427.2 L990.7 425.7 L991.9 423.7 L991 422.2 L988.7 422.4 L987.8 421 L988.8 418.7 L987.8 417.2 L985.6 417.8 L984.7 416.5 L985.4 413.9 L984.3 412.6 L982.3 413.5 L981.3 412.2 L981.8 409.5 L980.6 408.2 L978.8 409.4 L977.8 408.3 L978 405.3 L976.8 404.1 L975.2 405.7 L974.1 404.6 L974 401.5 L972.8 400.4 L971.4 402.3 L970.3 401.3 L970 398.1 L968.7 397.1 L967.6 399.3 L966.4 398.4 L965.8 395.1 L964.6 394.3 L963.7 396.6 L962.5 395.9 L961.7 392.5 L960.4 391.9 L959.8 394.5 L958.6 393.9 L957.5 390.5 L956.3 389.9 L955.9 392.8 L954.7 392.3 L953.4 388.9 L952.2 388.5 L952.1 391.5 L950.9 391.2 L949.4 387.8 L948.2 387.6 L948.3 390.8 L947.2 390.6 L945.5 387.3 L944.4 387.2 L944.7 390.5 L943.7 390.5 L941.8 387.3 L940.7 387.4 L941.3 390.8 L940.3 390.9 L938.2 387.8 L937.2 388.1 L938.1 391.5 L937.2 391.8 L934.9 388.8 L934 389.3 L935.1 392.7 L934.3 393.2 L931.9 390.4 L931.1 391 L932.4 394.4 L931.7 395 L929.2 392.4 L928.4 393.1 L930 396.5 L929.3 397.3 L926.8 395 L926.1 395.8 L927.9 399.1 L927.3 400 L924.7 397.9 L924.1 398.9 L926.1 402.1 L925.7 403.1 L923 401.3 L922.6 402.4 L924.7 405.5 L924.3 406.6 L921.7 405.1 L921.3 406.3 L923.6 409.2 L923.4 410.4 L920.7 409.3 L920.5 410.6 L922.9 413.3 L922.8 414.6 L920.2 413.7 L920.1 415.1 L922.6 417.6 L922.6 419 L920.1 418.5 L920.1 419.9 L922.7 422.2 L922.8 423.6 L920.4 423.4 L920.5 425 L923.2 426.9 L923.4 428.4 L921.1 428.6 L921.3 430.1 L924 431.8 L924.3 433.3 L922.2 433.8 L922.6 435.4 L925.2 436.8 L925.7 438.4 L923.6 439.2 L924.1 440.8 L926.8 441.9 L927.3 443.4 L925.5 444.6 L926.1 446.2 L928.7 446.9 L929.3 448.4 L927.7 449.9 L928.4 451.5 L930.9 451.9 L931.7 453.4 L930.2 455.2 L931.1 456.8 L933.5 456.8 L934.3 458.3 L933.1 460.3 L934 461.8 L936.3 461.6 L937.2 463 L936.2 465.3 L937.2 466.8 L939.4 466.2 L940.3 467.5 L939.6 470.1 L940.7 471.4 L942.7 470.5 L943.7 471.8 L943.2 474.5 L944.4 475.8 L946.2 474.6 L947.2 475.7 L947 478.7 L948.2 479.9 L949.8 478.3 L950.9 479.4 L951 482.5 L952.2 483.6 L953.6 481.7 L954.7 482.7 L955 485.9 L956.3 486.9 L957.4 484.7 L958.6 485.6 L959.2 488.9 L960.4 489.7 L961.3 487.4 L962.5 488.1 L963.3 491.5 L964.6 492.1 L965.2 489.5 L966.4 490.1 L967.5 493.5 L968.7 494.1 L969.1 491.2 L970.3 491.7 L971.6 495.1 L972.8 495.5 L972.9 492.5 L974.1 492.8 L975.6 496.2 L976.8 496.4 L976.7 493.2 L977.8 493.4 L979.5 496.7 L980.6 496.8 L980.3 493.5 L981.3 493.5 L983.2 496.7 L984.3 496.6 L983.7 493.2 L984.7 493.1 L986.8 496.2 L987.8 495.9 L986.9 492.5 L987.8 492.2 L990.1 495.2 L991 494.7 L989.9 491.3 L990.7 490.8Z" fill="#fff"/><path d="M990 489.6A55 31.8 60 1 0 935 394.4A55 31.8 60 1 0 990 489.6"/><path d="M988.5 487A52 30 60 1 0 936.5 397A52 30 60 1 0 988.5 487"/><path d="M987.5 485.3 L990 483.6 L992.2 481.4 L994 478.7 L995.5 475.7 L996.7 472.3 L997.4 468.5 L997.8 464.5 L997.8 460.2 L997.4 455.8 L996.7 451.2 L995.5 446.4 L994 441.7 L992.2 436.9 L990 432.2 L987.5 427.6 L984.7 423.1 L981.8 418.9 L978.6 414.9 L975.2 411.2 L971.7 407.8 L968 404.9 L964.4 402.3 L960.6 400.2 L957 398.5 L953.3 397.3 L949.8 396.6 L946.4 396.4 L943.2 396.6 L940.3 397.4 L937.5 398.7 L927.1 404.7 L924.6 406.4 L922.5 408.6 L920.6 411.3 L919.1 414.3 L918 417.7 L917.2 421.5 L916.8 425.5 L916.8 429.8 L917.2 434.2 L918 438.8 L919.1 443.6 L920.6 448.3 L922.5 453.1 L924.6 457.8 L927.1 462.4 L929.9 466.9 L932.9 471.1 L936.1 475.1 L939.4 478.8 L943 482.2 L946.6 485.1 L950.3 487.7 L954 489.8 L957.6 491.5 L961.3 492.7 L964.8 493.4 L968.2 493.6 L971.4 493.4 L974.4 492.6 L977.1 491.3Z" fill="#fff"/><path d="M977.1 491.3 L979.6 489.6 L981.8 487.4 L983.6 484.7 L985.1 481.7 L986.3 478.3 L987 474.5 L987.4 470.5 L987.4 466.2 L987 461.8 L986.3 457.2 L985.1 452.4 L983.6 447.7 L981.8 442.9 L979.6 438.2 L977.1 433.6 L974.4 429.1 L971.4 424.9 L968.2 420.9 L964.8 417.2 L961.3 413.8 L957.6 410.9 L954 408.3 L950.3 406.2 L946.6 404.5 L943 403.3 L939.4 402.6 L936.1 402.4 L932.9 402.6 L929.9 403.4 L927.1 404.7 L924.6 406.4 L922.5 408.6 L920.6 411.3 L919.1 414.3 L918 417.7 L917.2 421.5 L916.8 425.5 L916.8 429.8 L917.2 434.2 L918 438.8 L919.1 443.6 L920.6 448.3 L922.5 453.1 L924.6 457.8 L927.1 462.4 L929.9 466.9 L932.9 471.1 L936.1 475.1 L939.4 478.8 L943 482.2 L946.6 485.1 L950.3 487.7 L954 489.8 L957.6 491.5 L961.3 492.7 L964.8 493.4 L968.2 493.6 L971.4 493.4 L974.4 492.6 L977.1 491.3Z"/><path d="M964.6 430.8L982.8 420.3M963.3 429.4L980.7 417.5M962 428.1L978.6 414.9M960.7 426.9L976.3 412.4M959.3 425.7L974 410M958 424.7L971.7 407.8M956.6 423.8L969.2 405.8M955.2 422.9L966.8 404M953.8 422.2L964.4 402.3M952.5 421.6L961.9 400.8M951.1 421.2L959.4 399.6M949.8 420.8L957 398.5" stroke-width="1.4"/><path d="M973 423.7 L971.9 422.3 L972.3 419.1 L970.9 417.7 L969 419.2 L967.8 418 L967.7 414.5 L966.3 413.3 L964.8 415.3 L963.5 414.3 L962.9 410.6 L961.5 409.6 L960.4 412.1 L959 411.3 L958.1 407.5 L956.6 406.8 L955.9 409.7 L954.6 409.2"/><path d="M971.4 468.9L987.5 485.3M972.2 468L989.2 484.2M972.9 467.1L990.7 482.9M973.5 466L992.2 481.4M974.1 464.9L993.4 479.6M974.5 463.6L994.5 477.8M974.9 462.3L995.5 475.7M975.1 460.9L996.3 473.5M975.3 459.4L996.9 471.1M975.4 457.8L997.4 468.5M975.3 456.2L997.7 465.9M975.2 454.6L997.8 463.1" stroke-width="1.4"/><path d="M981.1 477.2 L981.9 476.4 L984.8 479.1 L985.6 478.1 L983.6 474.4 L984.2 473.4 L987.2 475.5 L987.8 474.3 L985.5 470.8 L985.9 469.6 L988.9 471.3 L989.3 469.9 L986.7 466.6 L987 465.2 L989.9 466.3 L990.1 464.7 L987.3 461.9 L987.3 460.3"/><path d="M973.6 485.2 L976.1 483.4 L978.3 481 L980 478.1 L981.3 474.7 L982.1 470.8 L982.5 466.6 L982.4 462.2 L981.8 457.5 L980.7 452.6 L979.2 447.7 L977.3 442.8 L974.9 437.9 L972.2 433.3 L969.2 428.8 L965.9 424.7 L962.4 420.9 L958.7 417.6 L955 414.7 L951.2 412.4 L947.4 410.6 L943.6 409.4 L940 408.8 L936.6 408.8 L933.5 409.5 L930.6 410.8 L918.5 417.8 L916 419.6 L913.8 422 L912.1 424.9 L910.8 428.3 L910 432.2 L909.6 436.4 L909.7 440.8 L910.3 445.5 L911.4 450.4 L912.9 455.3 L914.8 460.2 L917.2 465.1 L919.9 469.7 L922.9 474.2 L926.2 478.3 L929.7 482.1 L933.4 485.4 L937.1 488.3 L940.9 490.6 L944.7 492.4 L948.5 493.6 L952.1 494.2 L955.5 494.2 L958.6 493.5 L961.5 492.2Z" fill="#fff"/><path d="M961.5 492.2 L964 490.4 L966.1 488.1 L967.8 485.2 L969.1 481.9 L970 478.2 L970.4 474.2 L970.3 469.8 L969.8 465.2 L968.8 460.5 L967.4 455.7 L965.6 450.8 L963.4 446.1 L960.8 441.4 L957.9 437 L954.8 432.9 L951.4 429.1 L947.9 425.6 L944.2 422.7 L940.5 420.2 L936.7 418.2 L933 416.8 L929.4 416 L926 415.8 L922.8 416.1 L919.8 417.1 L917.2 418.6 L914.9 420.7 L913 423.3 L911.5 426.4 L910.4 429.9 L909.8 433.8 L909.6 438 L909.9 442.5 L910.6 447.1 L911.8 451.9 L913.4 456.7 L915.4 461.6 L917.8 466.3 L920.6 470.8 L923.6 475.1 L926.9 479.1 L930.3 482.7 L933.9 485.9 L937.6 488.7 L941.4 490.9 L945.1 492.6 L948.8 493.7 L952.3 494.2 L955.6 494.1 L958.7 493.5 L961.5 492.2Z"/><path d="M955.9 482.5 L956.4 481.6 L957.1 480.9 L958.1 480.6 L959.1 480.3 L960.1 480 L961 479.5 L962 479 L962.9 478.4 L963.7 477.6 L964.5 476.8 L965.3 475.8 L965.9 474.7 L966.5 473.5 L966.9 472.2 L967.3 470.7 L967.5 469.2 L967.6 467.6 L967.6 465.9 L967.5 464.1 L967.2 462.3 L966.9 460.4 L966.4 458.5 L965.8 456.6 L965.1 454.7 L964.3 452.8 L963.3 451 L962.3 449.2 L961.3 447.4 L960.1 445.7 L958.9 444.1 L957.6 442.6 L956.3 441.1 L955 439.8 L953.7 438.6 L952.3 437.4 L951 436.4 L949.7 435.5 L948.3 434.7 L947.1 433.9 L945.8 433.3 L944.6 432.7 L943.4 431.9 L942.3 430.7 L941.2 429.5 L940 428.2 L938.7 427 L937.5 425.9 L936.1 424.8 L934.8 423.8 L933.4 422.8 L932 422 L930.6 421.3 L929.2 420.7 L927.7 420.2 L926.3 419.9 L925 419.7 L923.7 419.6 L922.4 419.7 L921.2 420 L920 420.4 L919 421 L918 421.8 L917.1 422.6 L916.4 423.7 L915.7 424.8 L915.2 426.1 L914.7 427.5 L914.4 428.9 L914.2 430.5 L914.2 432.1 L914.2 433.8 L914.3 435.5 L914.6 437.2 L914.9 439 L915.3 440.7 L915.8 442.5 L916.3 444.2 L916.9 445.9 L917.6 447.6 L918.3 449.2 L919 450.7 L919.4 452.2 L919.6 453.7 L919.7 455.2 L919.9 456.8 L920.2 458.4 L920.5 460.1 L920.9 461.8 L921.4 463.6 L922 465.4 L922.7 467.2 L923.5 469 L924.3 470.8 L925.3 472.6 L926.3 474.4 L927.5 476.1 L928.7 477.8 L930 479.4 L931.3 480.9 L932.7 482.3 L934.1 483.5 L935.6 484.7 L937 485.7 L938.5 486.6 L940 487.4 L941.4 488 L942.9 488.4 L944.3 488.7 L945.6 488.8 L946.9 488.8 L948.1 488.7 L949.3 488.4 L950.4 488 L951.4 487.5 L952.3 486.8 L953.2 486.1 L954 485.3 L954.7 484.4 L955.3 483.5Z"/><path d="M954.3 479.9 L954.8 479 L955.4 478.4 L956.3 478.1 L957.2 477.9 L958.1 477.5 L959 477.1 L959.8 476.7 L960.6 476.1 L961.4 475.4 L962.1 474.6 L962.8 473.7 L963.3 472.8 L963.8 471.7 L964.2 470.5 L964.5 469.2 L964.8 467.8 L964.9 466.3 L964.9 464.8 L964.7 463.2 L964.5 461.6 L964.2 459.9 L963.7 458.2 L963.2 456.5 L962.6 454.8 L961.8 453 L961 451.4 L960.1 449.7 L959.1 448.1 L958.1 446.6 L957 445.2 L955.9 443.8 L954.7 442.5 L953.5 441.3 L952.3 440.2 L951.1 439.2 L949.9 438.2 L948.7 437.4 L947.5 436.7 L946.4 436 L945.2 435.4 L944.1 434.8 L943.1 434.1 L942.1 433 L941.1 431.9 L940 430.8 L938.9 429.8 L937.7 428.7 L936.5 427.8 L935.3 426.9 L934.1 426 L932.8 425.3 L931.5 424.6 L930.2 424.1 L929 423.7 L927.7 423.4 L926.5 423.2 L925.3 423.2 L924.1 423.3 L923 423.5 L922 423.9 L921.1 424.4 L920.2 425.1 L919.4 425.9 L918.7 426.8 L918.1 427.8 L917.6 429 L917.3 430.2 L917 431.5 L916.8 432.9 L916.7 434.4 L916.7 435.9 L916.9 437.4 L917.1 439 L917.4 440.6 L917.7 442.1 L918.2 443.7 L918.7 445.3 L919.2 446.8 L919.8 448.3 L920.4 449.7 L921 451.2 L921.4 452.5 L921.6 453.8 L921.7 455.2 L921.9 456.6 L922.1 458.1 L922.4 459.6 L922.8 461.2 L923.2 462.7 L923.8 464.4 L924.4 466 L925.1 467.6 L925.9 469.3 L926.8 470.9 L927.7 472.5 L928.7 474 L929.8 475.5 L931 476.9 L932.2 478.3 L933.4 479.5 L934.7 480.7 L936 481.7 L937.3 482.7 L938.7 483.5 L940 484.1 L941.3 484.7 L942.6 485.1 L943.8 485.3 L945.1 485.5 L946.2 485.5 L947.3 485.3 L948.4 485.1 L949.4 484.7 L950.3 484.3 L951.1 483.7 L951.9 483 L952.6 482.3 L953.2 481.5 L953.8 480.7Z"/><ellipse cx="962.4" cy="480" rx="2" ry="3.2" transform="rotate(-30 962.4 480)"/><ellipse cx="919.1" cy="426.1" rx="1.6" ry="2.6" transform="rotate(-30 919.1 426.1)"/><path d="M953.5 478.4 L955.9 476.4 L957.6 473.6 L958.7 470.1 L959.1 466 L958.7 461.5 L957.6 456.7 L955.9 451.9 L953.5 447.2 L950.6 442.8 L947.3 438.9 L943.7 435.5 L940 433 L936.3 431.2 L932.7 430.4 L929.4 430.5 L926.5 431.6 L921.3 434.6 L918.9 436.6 L917.1 439.4 L916.1 442.9 L915.7 447 L916.1 451.5 L917.1 456.3 L918.9 461.1 L921.3 465.8 L924.2 470.2 L927.5 474.1 L931.1 477.5 L934.8 480 L938.5 481.8 L942.1 482.6 L945.4 482.5 L948.3 481.4Z" fill="#fff"/><path d="M948.3 481.4 L950.7 479.4 L952.4 476.6 L953.5 473.1 L953.9 469 L953.5 464.5 L952.4 459.7 L950.7 454.9 L948.3 450.2 L945.4 445.8 L942.1 441.9 L938.5 438.5 L934.8 436 L931.1 434.2 L927.5 433.4 L924.2 433.5 L921.3 434.6 L918.9 436.6 L917.1 439.4 L916.1 442.9 L915.7 447 L916.1 451.5 L917.1 456.3 L918.9 461.1 L921.3 465.8 L924.2 470.2 L927.5 474.1 L931.1 477.5 L934.8 480 L938.5 481.8 L942.1 482.6 L945.4 482.5 L948.3 481.4Z"/><path d="M946.8 478.8A24 13.9 60 1 0 922.8 437.2A24 13.9 60 1 0 946.8 478.8"/><path d="M945.3 476.2 L947.6 474 L949.1 470.7 L949.6 466.6 L949.1 461.8 L947.6 456.9 L945.3 451.9 L942.2 447.4 L938.6 443.7 L934.8 440.9 L930.9 439.2 L927.4 438.9 L924.3 439.8 L919.1 442.8 L916.7 445 L915.2 448.3 L914.7 452.4 L915.2 457.2 L916.7 462.1 L919.1 467.1 L922.2 471.6 L925.7 475.3 L929.6 478.1 L933.4 479.8 L937 480.1 L940.1 479.2Z" fill="#fff"/><path d="M940.1 479.2 L942.4 477.1 L943.9 474 L944.4 470.1 L944.1 465.6 L942.8 460.9 L940.7 456.1 L937.9 451.6 L934.6 447.8 L931 444.7 L927.3 442.7 L923.7 441.9 L920.5 442.2 L917.9 443.7 L916 446.3 L914.9 449.9 L914.8 454.1 L915.6 458.7 L917.3 463.5 L919.8 468.2 L922.8 472.4 L926.4 475.9 L930.1 478.4 L933.7 479.9 L937.1 480.1 L940.1 479.2Z"/><path d="M938.1 475.7 L940 474 L941.2 471.3 L941.6 467.9 L941.2 464.1 L940 460.1 L938.1 456.1 L935.6 452.4 L932.7 449.4 L929.6 447.1 L926.5 445.8 L923.6 445.5 L921.1 446.3 L912.4 451.3 L910.5 453 L909.3 455.7 L908.9 459.1 L909.3 462.9 L910.5 466.9 L912.4 470.9 L914.9 474.6 L917.8 477.6 L920.9 479.9 L924 481.2 L926.9 481.5 L929.4 480.7Z" fill="#fff"/><path d="M928 481.3L936.7 476.3M929.4 480.7L938.1 475.7M930.7 479.8L939.3 474.8M931.6 478.5L940.3 473.5M932.4 476.9L941 471.9M932.8 475L941.5 470M933 472.9L941.6 467.9M932.8 470.7L941.5 465.7M932.4 468.3L941 463.3M931.6 465.9L940.3 460.9M930.7 463.5L939.3 458.5M929.4 461.1L938.1 456.1M928 458.8L936.7 453.8M926.4 456.8L935 451.8M924.6 454.9L933.3 449.9M922.8 453.4L931.5 448.4M920.9 452.1L929.6 447.1M919.1 451.2L927.7 446.2M917.2 450.7L925.9 445.7M915.5 450.5L924.1 445.5M913.9 450.7L922.5 445.7M912.4 451.3L921.1 446.3M911.2 452.2L919.9 447.2"/><path d="M928.4 479 L929.7 480.6 L930.7 479.8 L929.7 477.9 L930.4 477 L931.8 478.2 L932.4 476.9 L931.1 475.3 L931.4 474 L932.9 474.6 L933 472.9 L931.5 471.7 L931.4 470.1 L932.7 470.2 L932.4 468.3 L930.9 467.6 L930.4 465.9 L931.5 465.4 L930.7 463.5 L929.3 463.3 L928.4 461.7 L929.2 460.6 L928 458.8 L926.9 459.3 L925.7 457.9 L926 456.4 L924.6 454.9 L923.9 455.9 L922.6 454.9 L922.4 453.1 L920.9 452.1 L920.6 453.6 L919.3 452.9 L918.7 451.1 L917.2 450.7 L917.3 452.4 L916.1 452.3 L915.1 450.5 L913.9 450.7 L914.4 452.6 L913.4 453 L912.2 451.4 L911.2 452.2 L912.2 454.1 L911.5 455 L910.1 453.8 L909.5 455.1 L910.7 456.7 L910.5 458 L909 457.4 L908.9 459.1 L910.3 460.3 L910.5 461.9 L909.1 461.8 L909.5 463.7 L911 464.4 L911.5 466.1 L910.4 466.6 L911.2 468.5 L912.5 468.7 L913.4 470.3 L912.7 471.4 L913.9 473.2 L915 472.7 L916.1 474.1 L915.8 475.6 L917.2 477.1 L918 476.1 L919.3 477.1 L919.4 478.9 L920.9 479.9 L921.3 478.4 L922.6 479.1 L923.2 480.9 L924.6 481.3 L924.5 479.6 L925.7 479.7 L926.7 481.5 L928 481.3 L927.4 479.4 L928.4 479Z" fill="#fff"/><path d="M927.4 477.3A13 7.5 60 1 0 914.4 454.7A13 7.5 60 1 0 927.4 477.3"/><path d="M913.2 455.8L920.7 452.6M912.3 457.2L919.9 453.9M911.9 459.1L919.5 455.6M911.8 461.3L919.4 457.6M912.1 463.6L919.7 459.8M912.7 466.1L920.3 462.1M913.8 468.6L921.3 464.4M915.1 470.9L922.5 466.5M916.8 473L924 468.5M918.6 474.9L925.7 470.2M920.4 476.3L927.4 471.5M922.4 477.3L929.2 472.4M924.2 477.8L930.9 472.9M925.9 477.8L932.5 472.9"/><path d="M920.2 453.4 L919.5 455.6 L919.4 458.2 L920 461.1 L921.1 464 L922.7 466.8 L924.7 469.3 L927 471.2 L929.3 472.5 L931.4 473"/></g>
<!-- d10_right -->
<g><path d="M1752.6 461.6 L1755 459.7 L1757.1 457.3 L1758.7 454.3 L1759.9 450.8 L1760.5 446.9 L1760.6 442.6 L1760.2 438.1 L1759.4 433.3 L1758 428.5 L1756.1 423.6 L1753.9 418.9 L1751.2 414.3 L1748.2 409.9 L1744.9 405.9 L1741.4 402.3 L1737.8 399.1 L1734 396.5 L1730.3 394.5 L1726.5 393.1 L1723 392.3 L1719.6 392.2 L1716.4 392.8 L1713.6 394 L1701.1 401.2 L1698.6 403.1 L1696.6 405.5 L1694.9 408.5 L1693.8 412 L1693.2 415.9 L1693 420.2 L1693.4 424.7 L1694.3 429.5 L1695.7 434.3 L1697.5 439.2 L1699.8 443.9 L1702.5 448.5 L1705.5 452.9 L1708.8 456.9 L1712.3 460.5 L1715.9 463.7 L1719.7 466.3 L1723.4 468.3 L1727.1 469.7 L1730.7 470.5 L1734.1 470.6 L1737.3 470 L1740.1 468.8Z" fill="#fff"/><path d="M1740.1 468.8 L1742.6 466.9 L1744.6 464.5 L1746.3 461.5 L1747.4 458 L1748 454.1 L1748.2 449.8 L1747.8 445.3 L1746.9 440.5 L1745.5 435.7 L1743.7 430.8 L1741.4 426.1 L1738.7 421.5 L1735.7 417.1 L1732.4 413.1 L1728.9 409.5 L1725.3 406.3 L1721.5 403.7 L1717.8 401.7 L1714.1 400.3 L1710.5 399.5 L1707.1 399.4 L1703.9 400 L1701.1 401.2 L1698.6 403.1 L1696.6 405.5 L1694.9 408.5 L1693.8 412 L1693.2 415.9 L1693 420.2 L1693.4 424.7 L1694.3 429.5 L1695.7 434.3 L1697.5 439.2 L1699.8 443.9 L1702.5 448.5 L1705.5 452.9 L1708.8 456.9 L1712.3 460.5 L1715.9 463.7 L1719.7 466.3 L1723.4 468.3 L1727.1 469.7 L1730.7 470.5 L1734.1 470.6 L1737.3 470 L1740.1 468.8Z"/><path d="M1738.7 466.4A36.3 20.9 60 1 0 1702.5 403.6A36.3 20.9 60 1 0 1738.7 466.4"/><path d="M1736.2 462A31.2 18 60 1 0 1705 408A31.2 18 60 1 0 1736.2 462"/><ellipse cx="1737.5" cy="453.8" rx="2.9" ry="4.6" transform="rotate(-30 1737.5 453.8)" fill="#fff"/><ellipse cx="1738.6" cy="439.8" rx="2.9" ry="4.6" transform="rotate(-30 1738.6 439.8)" fill="#fff"/><ellipse cx="1731.3" cy="423.6" rx="2.9" ry="4.6" transform="rotate(-30 1731.3 423.6)" fill="#fff"/><ellipse cx="1719" cy="412.7" rx="2.9" ry="4.6" transform="rotate(-30 1719 412.7)" fill="#fff"/><ellipse cx="1707.4" cy="412.2" rx="2.9" ry="4.6" transform="rotate(-30 1707.4 412.2)" fill="#fff"/><ellipse cx="1702.1" cy="422.4" rx="2.9" ry="4.6" transform="rotate(-30 1702.1 422.4)" fill="#fff"/><ellipse cx="1705.4" cy="438.5" rx="2.9" ry="4.6" transform="rotate(-30 1705.4 438.5)" fill="#fff"/><ellipse cx="1715.8" cy="453" rx="2.9" ry="4.6" transform="rotate(-30 1715.8 453)" fill="#fff"/><ellipse cx="1728.5" cy="459" rx="2.9" ry="4.6" transform="rotate(-30 1728.5 459)" fill="#fff"/><path d="M1731.3 453.6A21.5 12.4 60 1 0 1709.9 416.4A21.5 12.4 60 1 0 1731.3 453.6" fill="#fff"/><path d="M1729.2 449.9A17.2 9.9 60 1 0 1712 420.1A17.2 9.9 60 1 0 1729.2 449.9"/><path d="M1719.6 417 L1718.6 420 L1718.5 423.8 L1719.3 427.9 L1720.9 432.1 L1723.2 436.2 L1726.1 439.7 L1729.3 442.4 L1732.6 444.2 L1735.7 444.9"/>
<path d="M1673 399 L1674.3 397.8 L1675.1 396 L1675.4 393.7 L1675.1 391.1 L1674.3 388.4 L1673 385.7 L1671.3 383.2 L1669.3 381.1 L1667.2 379.6 L1665.1 378.7 L1663.2 378.5 L1661.5 379 L1657.2 381.5 L1655.9 382.7 L1655.1 384.5 L1654.8 386.8 L1655.1 389.4 L1655.9 392.1 L1657.2 394.8 L1658.8 397.3 L1660.8 399.4 L1662.9 400.9 L1665 401.8 L1667 402 L1668.7 401.5Z" fill="#fff"/><path d="M1668.7 401.5 L1670 400.3 L1670.8 398.5 L1671 396.2 L1670.8 393.6 L1670 390.9 L1668.7 388.2 L1667 385.7 L1665 383.6 L1662.9 382.1 L1660.8 381.2 L1658.8 381 L1657.2 381.5 L1655.9 382.7 L1655.1 384.5 L1654.8 386.8 L1655.1 389.4 L1655.9 392.1 L1657.2 394.8 L1658.8 397.3 L1660.8 399.4 L1662.9 400.9 L1665 401.8 L1667 402 L1668.7 401.5Z"/><path d="M1665.9 400.7 L1665.2 392.2 L1658.8 385 L1653 386.3 L1653.7 394.8 L1660.1 402Z" fill="#fff"/><path d="M1665.2 403.5 L1666.5 402.3 L1667.3 400.5 L1667.6 398.2 L1667.3 395.6 L1666.5 392.9 L1665.2 390.2 L1663.5 387.7 L1661.6 385.6 L1659.5 384.1 L1657.3 383.2 L1655.4 383 L1653.7 383.5 L1651.1 385 L1649.8 386.2 L1649 388 L1648.7 390.3 L1649 392.9 L1649.8 395.6 L1651.1 398.3 L1652.8 400.8 L1654.7 402.9 L1656.9 404.4 L1659 405.3 L1660.9 405.5 L1662.6 405Z" fill="#fff"/><path d="M1662.6 405 L1663.9 403.8 L1664.7 402 L1665 399.7 L1664.7 397.1 L1663.9 394.4 L1662.6 391.7 L1660.9 389.2 L1659 387.1 L1656.9 385.6 L1654.7 384.7 L1652.8 384.5 L1651.1 385 L1649.8 386.2 L1649 388 L1648.7 390.3 L1649 392.9 L1649.8 395.6 L1651.1 398.3 L1652.8 400.8 L1654.7 402.9 L1656.9 404.4 L1659 405.3 L1660.9 405.5 L1662.6 405Z"/><path d="M1661 400.2 L1661.8 399.5 L1662.2 398.5 L1662.4 397.2 L1662.2 395.7 L1661.8 394.1 L1661 392.6 L1660.1 391.2 L1658.9 390 L1657.7 389.1 L1656.5 388.6 L1655.4 388.5 L1654.4 388.8 L1634.5 400.3 L1633.8 401 L1633.3 402 L1633.1 403.3 L1633.3 404.8 L1633.8 406.4 L1634.5 407.9 L1635.5 409.3 L1636.6 410.5 L1637.8 411.4 L1639 411.9 L1640.1 412 L1641.1 411.7Z" fill="#fff"/><path d="M1641.1 411.7 L1641.8 411 L1642.3 410 L1642.5 408.7 L1642.3 407.2 L1641.8 405.6 L1641.1 404.1 L1640.1 402.7 L1639 401.5 L1637.8 400.6 L1636.6 400.1 L1635.5 400 L1634.5 400.3 L1633.8 401 L1633.3 402 L1633.1 403.3 L1633.3 404.8 L1633.8 406.4 L1634.5 407.9 L1635.5 409.3 L1636.6 410.5 L1637.8 411.4 L1639 411.9 L1640.1 412 L1641.1 411.7Z"/><path d="M1645.9 407.2 L1645.8 405.6 L1645.4 403.9 L1644.6 402.2 L1643.6 400.7 L1642.4 399.4 L1641.1 398.5 L1639.8 398 L1638.6 398M1648.5 405.7 L1648.4 404.1 L1648 402.4 L1647.2 400.7 L1646.2 399.2 L1645 397.9 L1643.7 397 L1642.4 396.5 L1641.2 396.5M1651.1 404.2 L1651 402.6 L1650.6 400.9 L1649.8 399.2 L1648.8 397.7 L1647.6 396.4 L1646.3 395.5 L1645 395 L1643.8 395M1653.7 402.7 L1653.6 401.1 L1653.2 399.4 L1652.4 397.7 L1651.4 396.2 L1650.2 394.9 L1648.9 394 L1647.6 393.5 L1646.4 393.5M1656.3 401.2 L1656.2 399.6 L1655.8 397.9 L1655 396.2 L1654 394.7 L1652.8 393.4 L1651.5 392.5 L1650.2 392 L1649 392" stroke-width="1.2"/>
<path d="M1663.8 583.3 L1666.4 581.6 L1668.8 579.7 L1671.1 577.6 L1673.2 575.3 L1675.2 572.7 L1676.9 569.9 L1678.5 566.9 L1679.9 563.7 L1681.2 560.3 L1682.2 556.8 L1683 553 L1683.7 549.1 L1684.1 545.1 L1684.4 540.9 L1684.4 536.6 L1684.3 532.2 L1683.9 527.7 L1683.4 523.1 L1682.6 518.5 L1681.7 513.7 L1680.6 509 L1679.3 504.1 L1677.8 499.3 L1676.1 494.5 L1674.2 489.6 L1672.2 484.8 L1670 480.1 L1667.6 475.3 L1665.1 470.7 L1662.5 466.1 L1659.7 461.6 L1656.8 457.2 L1653.7 452.9 L1650.6 448.7 L1647.3 444.7 L1644 440.8 L1640.6 437.1 L1637.1 433.6 L1633.5 430.2 L1629.9 427 L1626.2 424.1 L1622.5 421.3 L1618.8 418.7 L1615 416.4 L1611.3 414.3 L1607.5 412.4 L1603.8 410.8 L1600.1 409.4 L1596.5 408.3 L1592.9 407.4 L1589.3 406.8 L1585.9 406.4 L1582.5 406.3 L1579.2 406.4 L1576 406.8 L1572.9 407.5 L1569.9 408.4 L1567 409.5 L1564.3 410.9 L1533.2 428.9 L1530.6 430.6 L1528.1 432.5 L1525.9 434.6 L1523.8 436.9 L1521.8 439.5 L1520 442.3 L1518.4 445.3 L1517 448.5 L1515.8 451.9 L1514.8 455.4 L1513.9 459.2 L1513.3 463.1 L1512.8 467.1 L1512.6 471.3 L1512.5 475.6 L1512.7 480 L1513 484.5 L1513.6 489.1 L1514.3 493.7 L1515.3 498.5 L1516.4 503.2 L1517.7 508.1 L1519.2 512.9 L1520.9 517.7 L1522.8 522.6 L1524.8 527.4 L1527 532.1 L1529.3 536.9 L1531.8 541.5 L1534.5 546.1 L1537.3 550.6 L1540.2 555 L1543.2 559.3 L1546.4 563.5 L1549.6 567.5 L1553 571.4 L1556.4 575.1 L1559.9 578.6 L1563.5 582 L1567.1 585.2 L1570.8 588.1 L1574.5 590.9 L1578.2 593.5 L1582 595.8 L1585.7 597.9 L1589.4 599.8 L1593.2 601.4 L1596.9 602.8 L1600.5 603.9 L1604.1 604.8 L1607.6 605.4 L1611.1 605.8 L1614.5 605.9 L1617.8 605.8 L1621 605.4 L1624.1 604.7 L1627.1 603.8 L1629.9 602.7 L1632.7 601.3Z" fill="#fff" stroke="none"/><path d="M1654.6 580.3 L1658.7 585.7 L1660.7 584.9 L1658.8 578.6 L1660.5 577.7 L1664.9 582.6 L1666.7 581.4 L1664.3 575.1 L1665.8 573.9 L1670.4 578.3 L1671.9 576.7 L1669 570.5 L1670.3 568.9 L1675.1 572.8 L1676.3 570.9 L1673 564.9 L1674 563 L1678.9 566.2 L1679.8 564 L1676.1 558.2 L1676.8 556 L1681.7 558.5 L1682.4 556.1 L1678.3 550.6 L1678.7 548.2 L1683.6 550 L1683.9 547.3 L1679.5 542.3 L1679.7 539.7 L1684.4 540.7 L1684.4 537.8 L1679.8 533.3 L1679.7 530.5 L1684.2 530.8 L1683.9 527.7 L1679.2 523.8 L1678.8 520.9 L1683 520.4 L1682.4 517.2 L1677.6 513.9 L1676.9 510.9 L1680.8 509.7 L1679.9 506.4 L1675 503.7 L1674.1 500.7 L1677.6 498.7 L1676.4 495.4 L1671.6 493.5 L1670.4 490.4 L1673.4 487.8 L1672 484.5 L1667.3 483.3 L1665.9 480.3 L1668.5 476.9 L1666.8 473.7 L1662.3 473.3 L1660.6 470.4 L1662.7 466.4 L1660.8 463.3 L1656.5 463.6 L1654.7 460.8 L1656.2 456.3 L1654.1 453.4 L1650.2 454.5 L1648.2 451.9 L1649.1 446.8 L1646.9 444.1 L1643.3 445.9 L1641.1 443.5 L1641.5 438.1 L1639.1 435.6 L1636 438.2 L1633.7 436 L1633.5 430.2 L1631 428 L1628.4 431.2 L1626 429.3 L1625.2 423.3 L1622.7 421.4 L1620.5 425.2 L1618.1 423.7 L1616.7 417.4 L1614.2 415.9 L1612.6 420.3 L1610.2 419.1 L1608.2 412.8 L1605.7 411.6 L1604.7 416.5 L1602.3 415.6 L1599.8 409.3 L1597.3 408.5 L1596.9 413.9 L1594.6 413.3 L1591.6 407.1 L1589.2 406.7 L1589.4 412.5 L1587.2 412.3 L1583.7 406.3 L1581.5 406.3 L1582.2 412.3 L1580.1 412.5 L1576.3 406.7 L1574.2 407.1 L1575.5 413.3 L1573.6 413.9 L1569.4 408.5 L1567.5 409.3 L1569.4 415.6 L1567.6 416.5 L1563.2 411.6 L1561.5 412.8 L1563.9 419.1 L1562.4 420.3"/><path d="M1633.8 600.6L1658.7 585.7M1635.6 599.4L1660.7 584.9M1633.2 593.1L1658.8 578.6M1639.3 596.2L1664.9 582.6M1640.8 594.7L1666.7 581.4M1637.9 588.5L1664.3 575.1M1644 590.7L1670.4 578.3M1645.2 588.8L1671.9 576.7M1641.8 582.8L1669 570.5M1647.7 584.1L1675.1 572.8M1648.7 581.9L1676.3 570.9M1644.9 576.1L1673 564.9M1650.6 576.5L1678.9 566.2M1651.2 574L1679.8 564M1647.1 568.6L1676.1 558.2M1652.4 567.9L1681.7 558.5M1652.7 565.2L1682.4 556.1M1648.4 560.2L1678.3 550.6M1653.2 558.6L1683.6 550M1653.3 555.7L1683.9 547.3M1648.6 551.2L1679.5 542.3M1653 548.7L1684.4 540.7M1652.7 545.6L1684.4 537.8M1648 541.7L1679.8 533.3M1651.8 538.3L1684.2 530.8M1651.2 535.1L1683.9 527.7M1646.4 531.8L1679.2 523.8M1649.5 527.5L1683 520.4M1648.7 524.3L1682.4 517.2M1643.8 521.6L1677.6 513.9M1646.3 516.6L1680.8 509.7M1645.2 513.3L1679.9 506.4M1640.4 511.4L1675 503.7M1642.2 505.6L1677.6 498.7M1640.8 502.4L1676.4 495.4M1636.1 501.2L1671.6 493.5M1637.2 494.8L1673.4 487.8M1635.6 491.6L1672 484.5M1631.1 491.2L1667.3 483.3M1631.4 484.3L1668.5 476.9M1629.6 481.2L1666.8 473.7M1625.3 481.5L1662.3 473.3M1624.9 474.2L1662.7 466.4M1622.9 471.3L1660.8 463.3M1618.9 472.4L1656.5 463.6M1617.8 464.7L1656.2 456.3M1615.6 462L1654.1 453.4M1612 463.9L1650.2 454.5M1610.2 456L1649.1 446.8M1607.8 453.5L1646.9 444.1M1604.7 456.1L1643.3 445.9M1602.2 448.1L1641.5 438.1M1599.7 445.9L1639.1 435.6M1597.1 449.1L1636 438.2M1593.9 441.2L1633.5 430.2M1591.4 439.3L1631 428M1589.2 443.2L1628.4 431.2M1585.4 435.4L1625.2 423.3M1582.9 433.9L1622.7 421.4M1581.3 438.3L1620.5 425.2M1577 430.7L1616.7 417.4M1574.4 429.6L1614.2 415.9M1573.4 434.5L1612.6 420.3M1568.5 427.3L1608.2 412.8M1566.1 426.5L1605.7 411.6M1565.6 431.9L1604.7 416.5M1560.4 425.1L1599.8 409.3M1558 424.7L1597.3 408.5M1558.1 430.5L1596.9 413.9M1552.5 424.3L1591.6 407.1M1550.2 424.3L1589.2 406.7M1550.9 430.3L1589.4 412.5M1545.1 424.8L1583.7 406.3M1542.9 425.2L1581.5 406.3M1544.2 431.4L1582.2 412.3M1538.2 426.6L1576.3 406.7M1536.2 427.4L1574.2 407.1M1538.1 433.6L1575.5 413.3M1532 429.6L1569.4 408.5M1530.2 430.8L1567.5 409.3M1532.6 437.1L1569.4 415.6"/><path d="M1629.4 595.6 L1633.8 600.6 L1635.6 599.4 L1633.2 593.1 L1634.7 591.8 L1639.3 596.2 L1640.8 594.7 L1637.9 588.5 L1639.2 586.9 L1644 590.7 L1645.2 588.8 L1641.8 582.8 L1642.9 580.9 L1647.7 584.1 L1648.7 581.9 L1644.9 576.1 L1645.7 573.9 L1650.6 576.5 L1651.2 574 L1647.1 568.6 L1647.6 566.1 L1652.4 567.9 L1652.7 565.2 L1648.4 560.2 L1648.5 557.6 L1653.2 558.6 L1653.3 555.7 L1648.6 551.2 L1648.5 548.4 L1653 548.7 L1652.7 545.6 L1648 541.7 L1647.6 538.8 L1651.8 538.3 L1651.2 535.1 L1646.4 531.8 L1645.7 528.8 L1649.5 527.5 L1648.7 524.3 L1643.8 521.6 L1642.9 518.6 L1646.3 516.6 L1645.2 513.3 L1640.4 511.4 L1639.2 508.3 L1642.2 505.6 L1640.8 502.4 L1636.1 501.2 L1634.7 498.2 L1637.2 494.8 L1635.6 491.6 L1631.1 491.2 L1629.4 488.3 L1631.4 484.3 L1629.6 481.2 L1625.3 481.5 L1623.5 478.7 L1624.9 474.2 L1622.9 471.3 L1618.9 472.4 L1616.9 469.8 L1617.8 464.7 L1615.6 462 L1612 463.9 L1609.9 461.4 L1610.2 456 L1607.8 453.5 L1604.7 456.1 L1602.5 453.9 L1602.2 448.1 L1599.7 445.9 L1597.1 449.1 L1594.8 447.3 L1593.9 441.2 L1591.4 439.3 L1589.2 443.2 L1586.9 441.6 L1585.4 435.4 L1582.9 433.9 L1581.3 438.3 L1578.9 437 L1577 430.7 L1574.4 429.6 L1573.4 434.5 L1571 433.6 L1568.5 427.3 L1566.1 426.5 L1565.6 431.9 L1563.3 431.3 L1560.4 425.1 L1558 424.7 L1558.1 430.5 L1555.9 430.3 L1552.5 424.3 L1550.2 424.3 L1550.9 430.3 L1548.9 430.5 L1545.1 424.8 L1542.9 425.2 L1544.2 431.4 L1542.3 431.9 L1538.2 426.6 L1536.2 427.4 L1538.1 433.6 L1536.4 434.6 L1532 429.6 L1530.2 430.8 L1532.6 437.1 L1531.1 438.4 L1526.5 434 L1525 435.5 L1527.9 441.7 L1526.6 443.3 L1521.8 439.5 L1520.6 441.4 L1524 447.4 L1522.9 449.3 L1518.1 446.1 L1517.1 448.3 L1520.9 454.1 L1520.1 456.3 L1515.2 453.7 L1514.6 456.2 L1518.7 461.6 L1518.2 464.1 L1513.4 462.3 L1513.1 465 L1517.4 470 L1517.3 472.6 L1512.6 471.6 L1512.5 474.5 L1517.2 479 L1517.3 481.8 L1512.8 481.5 L1513.1 484.6 L1517.8 488.5 L1518.2 491.4 L1514 491.9 L1514.6 495.1 L1519.4 498.4 L1520.1 501.4 L1516.3 502.7 L1517.1 505.9 L1522 508.6 L1522.9 511.6 L1519.5 513.6 L1520.6 516.9 L1525.4 518.8 L1526.6 521.9 L1523.6 524.6 L1525 527.8 L1529.7 529 L1531.1 532 L1528.6 535.4 L1530.2 538.6 L1534.7 539 L1536.4 541.9 L1534.4 545.9 L1536.2 549 L1540.5 548.7 L1542.3 551.5 L1540.9 556 L1542.9 558.9 L1546.9 557.8 L1548.9 560.4 L1548 565.5 L1550.2 568.2 L1553.8 566.3 L1555.9 568.8 L1555.6 574.2 L1558 576.7 L1561.1 574.1 L1563.3 576.3 L1563.6 582.1 L1566.1 584.3 L1568.7 581.1 L1571 582.9 L1571.9 589 L1574.4 590.9 L1576.6 587 L1578.9 588.6 L1580.4 594.8 L1582.9 596.3 L1584.5 591.9 L1586.9 593.2 L1588.8 599.5 L1591.4 600.6 L1592.4 595.7 L1594.8 596.6 L1597.3 602.9 L1599.7 603.7 L1600.2 598.3 L1602.5 598.9 L1605.4 605.1 L1607.8 605.5 L1607.7 599.7 L1609.9 599.9 L1613.3 605.9 L1615.6 605.9 L1614.9 599.9 L1616.9 599.7 L1620.7 605.4 L1622.9 605 L1621.6 598.8 L1623.5 598.3 L1627.6 603.6 L1629.6 602.8 L1627.7 596.6 L1629.4 595.6Z" fill="#fff"/><path d="M1626.9 591.3A88 50.8 60 1 0 1538.9 438.9A88 50.8 60 1 0 1626.9 591.3"/><path d="M1625 583.9A81 46.8 60 1 0 1544 443.7A81 46.8 60 1 0 1625 583.9"/><path d="M1544.8 447 L1542.6 449 L1540.5 451.4 L1538.6 454 L1536.9 456.9 L1535.5 460 L1534.3 463.4 L1533.3 467 L1532.6 470.8 L1532.2 474.8 L1532 479 L1532 483.3 L1532.3 487.7 L1532.8 492.3 L1533.6 496.9 L1534.6 501.6 L1535.9 506.4 L1537.4 511.2 L1539.1 516 L1541.1 520.8 L1543.2 525.5 L1545.6 530.2 L1548.1 534.8 L1550.8 539.3 L1553.7 543.7 L1556.7 547.9 L1559.9 552 L1563.2 555.9 L1566.6 559.6 L1570.1 563.1 L1573.7 566.3 L1577.3 569.3 L1581 572.1 L1584.7 574.5 L1588.4 576.7 L1592.1 578.6 L1595.8 580.2 L1599.5 581.5 L1603.1 582.5 L1606.6 583.1 L1610 583.5 L1613.3 583.5 L1616.5 583.2 L1619.6 582.5 L1622.6 581.6"/><ellipse cx="1562.8" cy="448.8" rx="4.2" ry="6.6" transform="rotate(-30 1562.8 448.8)" fill="#fff"/><ellipse cx="1548.9" cy="478.5" rx="4.2" ry="6.6" transform="rotate(-30 1548.9 478.5)" fill="#fff"/><ellipse cx="1561.7" cy="524.1" rx="4.2" ry="6.6" transform="rotate(-30 1561.7 524.1)" fill="#fff"/><ellipse cx="1593" cy="559.5" rx="4.2" ry="6.6" transform="rotate(-30 1593 559.5)" fill="#fff"/><ellipse cx="1628.6" cy="565.5" rx="4.2" ry="6.6" transform="rotate(-30 1628.6 565.5)" fill="#fff"/><path d="M1624.3 555.3A56 32.3 60 1 0 1568.3 458.3A56 32.3 60 1 0 1624.3 555.3" fill="#fff"/><path d="M1572.8 458 L1570.2 459.8 L1568 462 L1566.1 464.6 L1564.5 467.6 L1563.2 470.9 L1562.3 474.6 L1561.8 478.5 L1561.6 482.8 L1561.8 487.2 L1562.3 491.8 L1563.2 496.5 L1564.5 501.3 L1566.1 506.1 L1568 511 L1570.2 515.7 L1572.8 520.4 L1575.5 524.9 L1578.6 529.2 L1581.8 533.3 L1585.2 537.1 L1588.7 540.6 L1592.3 543.7 L1596 546.5 L1599.8 548.9 L1603.5 550.8 L1607.2 552.3 L1610.8 553.4 L1614.4 554 L1617.8 554.1 L1621 553.7 L1624 552.9 L1626.8 551.6"/><path d="M1573.6 459.7 L1571.9 462.5 L1570.6 465.7 L1569.5 469.2 L1568.9 473 L1568.5 477.1 L1568.6 481.4 L1569 485.8 L1569.7 490.4 L1570.8 495.2 L1572.2 499.9 L1574 504.7 L1576.1 509.4 L1578.4 514.1 L1581 518.6 L1583.9 523 L1587 527.2 L1590.2 531.1 L1593.6 534.7 L1597.2 538 L1600.8 541 L1604.5 543.5 L1608.2 545.7 L1611.9 547.5 L1615.5 548.8 L1619.1 549.7 L1622.5 550.1 L1625.8 550"/><path d="M1575.1 462.6 L1573.7 465.8 L1572.6 469.4 L1572 473.2 L1571.7 477.3 L1571.8 481.7 L1572.2 486.3 L1573 491 L1574.3 495.7 L1575.8 500.6 L1577.7 505.4 L1579.9 510.2 L1582.4 514.8 L1585.2 519.3 L1588.2 523.6 L1591.4 527.7 L1594.8 531.4 L1598.4 534.9 L1602 537.9 L1605.8 540.6 L1609.5 542.9 L1613.2 544.7 L1616.9 546 L1620.5 546.9 L1624 547.3"/>
<path d="M1495.8 600.3 L1498.5 598.8 L1500.7 596.5 L1502.4 593.6 L1503.4 590.1 L1503.9 586 L1503.8 581.6 L1503 577 L1501.6 572.1 L1499.7 567.3 L1497.3 562.6 L1494.4 558.2 L1491.2 554.1 L1487.7 550.5 L1484.1 547.5 L1480.3 545.2 L1476.6 543.6 L1473 542.8 L1469.6 542.7 L1466.6 543.5 L1464 545" stroke-width="1.2"/><path d="M1496 600.3A32 18.5 60 1 0 1464 544.9A32 18.5 60 1 0 1496 600.3M1492.2 593.8A24.5 14.1 60 1 0 1467.8 551.4A24.5 14.1 60 1 0 1492.2 593.8" fill="#fff" fill-rule="evenodd" stroke-width="1.2"/><path d="M1465 555.6 L1464.1 559.5 L1464.1 564 L1464.9 568.9 L1466.6 574 L1469 578.9 L1472.1 583.5 L1475.7 587.5 L1479.5 590.7 L1483.4 592.9 L1487.2 594.1"/>
<ellipse cx="1355" cy="514.5" rx="20" ry="11.4" fill="#fff"/><ellipse cx="1354.5" cy="509.5" rx="8.2" ry="4.8" fill="#fff"/><path d="M1335 514.5Q1355 520.5 1375 514.5"/>
<ellipse cx="1355" cy="785" rx="20" ry="11.4" fill="#fff"/><ellipse cx="1354.5" cy="790" rx="8.2" ry="4.8" fill="#fff"/><path d="M1343 788Q1355 783 1367 788"/>
<path d="M1245.8 745.3 L1248.5 743.8 L1250.7 741.5 L1252.4 738.6 L1253.4 735.1 L1253.9 731 L1253.8 726.6 L1253 722 L1251.6 717.1 L1249.7 712.3 L1247.3 707.6 L1244.4 703.2 L1241.2 699.1 L1237.7 695.5 L1234.1 692.5 L1230.3 690.2 L1226.6 688.6 L1223 687.8 L1219.6 687.7 L1216.6 688.5 L1214 690" stroke-width="1.2"/><path d="M1246 745.3A32 18.5 60 1 0 1214 689.9A32 18.5 60 1 0 1246 745.3M1242.2 738.8A24.5 14.1 60 1 0 1217.8 696.4A24.5 14.1 60 1 0 1242.2 738.8" fill="#fff" fill-rule="evenodd" stroke-width="1.2"/><path d="M1215 700.6 L1214.1 704.5 L1214.1 709 L1214.9 713.9 L1216.6 719 L1219 723.9 L1222.1 728.5 L1225.7 732.5 L1229.5 735.7 L1233.4 737.9 L1237.2 739.1"/>
<path d="M1116 569L1116 667A11.15 6 0 0 0 1138.3 667L1138.3 569A11.15 6 0 0 0 1116 569Z" fill="#fff"/><ellipse cx="1127.15" cy="569" rx="11.15" ry="6" fill="#fff"/><path d="M1127 575L1127 672"/><path d="M1116 584.5L1122.5 586L1122.5 607.5L1116 609"/><path d="M1116 634.5L1122.5 636L1122.5 659.5L1116 661"/><path d="M1127.1 674L1127.1 730" stroke-width="0.8" stroke-dasharray="9 2 2 2"/>
<path d="M1035.6 762.6 L1036 762.2 L1036.3 761.5 L1036.4 760.7 L1036.3 759.8 L1036 758.8 L1035.6 757.8 L1035 756.9 L1034.2 756.1 L1033.5 755.6 L1032.7 755.2 L1032 755.2 L1031.4 755.4 L992.4 777.9 L991.9 778.3 L991.6 779 L991.5 779.8 L991.6 780.7 L991.9 781.7 L992.4 782.7 L993 783.6 L993.7 784.4 L994.5 784.9 L995.3 785.3 L996 785.3 L996.6 785.1Z" fill="#fff"/><path d="M996.6 785.1 L997.1 784.7 L997.4 784 L997.5 783.2 L997.4 782.3 L997.1 781.3 L996.6 780.3 L996 779.4 L995.3 778.6 L994.5 778.1 L993.7 777.7 L993 777.7 L992.4 777.9 L991.9 778.3 L991.6 779 L991.5 779.8 L991.6 780.7 L991.9 781.7 L992.4 782.7 L993 783.6 L993.7 784.4 L994.5 784.9 L995.3 785.3 L996 785.3 L996.6 785.1Z"/><path d="M1036 757.4L1062 742.5M1062 742.5L1070 746.5" stroke-width="0.8" stroke-dasharray="7 2 2 2"/>
<path d="M1038.1 872.9 L1040.5 871 L1042.6 868.6 L1044.2 865.6 L1045.4 862.1 L1046 858.2 L1046.1 853.9 L1045.7 849.4 L1044.9 844.6 L1043.5 839.8 L1041.6 834.9 L1039.4 830.2 L1036.7 825.6 L1033.7 821.2 L1030.4 817.2 L1026.9 813.6 L1023.3 810.4 L1019.5 807.8 L1015.8 805.8 L1012 804.4 L1008.5 803.6 L1005.1 803.5 L1001.9 804.1 L999.1 805.3 L986.6 812.5 L984.1 814.4 L982.1 816.8 L980.4 819.8 L979.3 823.3 L978.7 827.2 L978.5 831.5 L978.9 836 L979.8 840.8 L981.2 845.6 L983 850.5 L985.3 855.2 L988 859.8 L991 864.2 L994.3 868.2 L997.8 871.8 L1001.4 875 L1005.2 877.6 L1008.9 879.6 L1012.6 881 L1016.2 881.8 L1019.6 881.9 L1022.8 881.3 L1025.6 880.1Z" fill="#fff"/><path d="M1025.6 880.1 L1028.1 878.2 L1030.1 875.8 L1031.8 872.8 L1032.9 869.3 L1033.5 865.4 L1033.7 861.1 L1033.3 856.6 L1032.4 851.8 L1031 847 L1029.2 842.1 L1026.9 837.4 L1024.2 832.8 L1021.2 828.4 L1017.9 824.4 L1014.4 820.8 L1010.8 817.6 L1007 815 L1003.3 813 L999.6 811.6 L996 810.8 L992.6 810.7 L989.4 811.3 L986.6 812.5 L984.1 814.4 L982.1 816.8 L980.4 819.8 L979.3 823.3 L978.7 827.2 L978.5 831.5 L978.9 836 L979.8 840.8 L981.2 845.6 L983 850.5 L985.3 855.2 L988 859.8 L991 864.2 L994.3 868.2 L997.8 871.8 L1001.4 875 L1005.2 877.6 L1008.9 879.6 L1012.6 881 L1016.2 881.8 L1019.6 881.9 L1022.8 881.3 L1025.6 880.1Z"/><path d="M1024.2 877.7A36.3 20.9 60 1 0 988 814.9A36.3 20.9 60 1 0 1024.2 877.7"/><path d="M1021.7 873.3A31.2 18 60 1 0 990.5 819.3A31.2 18 60 1 0 1021.7 873.3"/><ellipse cx="1023" cy="865.1" rx="2.9" ry="4.6" transform="rotate(-30 1023 865.1)" fill="#fff"/><ellipse cx="1024.1" cy="851.1" rx="2.9" ry="4.6" transform="rotate(-30 1024.1 851.1)" fill="#fff"/><ellipse cx="1016.8" cy="834.9" rx="2.9" ry="4.6" transform="rotate(-30 1016.8 834.9)" fill="#fff"/><ellipse cx="1004.5" cy="824" rx="2.9" ry="4.6" transform="rotate(-30 1004.5 824)" fill="#fff"/><ellipse cx="992.9" cy="823.5" rx="2.9" ry="4.6" transform="rotate(-30 992.9 823.5)" fill="#fff"/><ellipse cx="987.6" cy="833.7" rx="2.9" ry="4.6" transform="rotate(-30 987.6 833.7)" fill="#fff"/><ellipse cx="990.9" cy="849.8" rx="2.9" ry="4.6" transform="rotate(-30 990.9 849.8)" fill="#fff"/><ellipse cx="1001.3" cy="864.3" rx="2.9" ry="4.6" transform="rotate(-30 1001.3 864.3)" fill="#fff"/><ellipse cx="1014" cy="870.3" rx="2.9" ry="4.6" transform="rotate(-30 1014 870.3)" fill="#fff"/><path d="M1016.8 864.9A21.5 12.4 60 1 0 995.4 827.7A21.5 12.4 60 1 0 1016.8 864.9" fill="#fff"/><path d="M1014.7 861.2A17.2 9.9 60 1 0 997.5 831.4A17.2 9.9 60 1 0 1014.7 861.2"/><path d="M1005.1 828.3 L1004.1 831.3 L1004 835.1 L1004.8 839.2 L1006.4 843.4 L1008.7 847.5 L1011.6 851 L1014.8 853.7 L1018.1 855.5 L1021.2 856.2"/>
<path d="M964.8 911.7 L967.5 910.3 L969.8 908.2 L971.6 905.5 L973 902.3 L973.8 898.5 L974.1 894.4 L973.8 890 L973.1 885.3 L971.8 880.5 L970 875.7 L967.8 871 L965.1 866.4 L962.1 862.1 L958.9 858.2 L955.4 854.7 L951.7 851.7 L948 849.3 L944.3 847.5 L940.7 846.3 L937.2 845.8 L933.9 846.1 L931 847 L928.4 848.6" stroke-width="1.2"/><path d="M965.2 911.7A36.6 21.1 60 1 0 928.6 848.3A36.6 21.1 60 1 0 965.2 911.7M962.4 906.8A31 17.9 60 1 0 931.4 853.2A31 17.9 60 1 0 962.4 906.8" fill="#fff" fill-rule="evenodd" stroke-width="1.2"/><path d="M927.6 858.7 L926.6 862.4 L926.3 866.6 L926.6 871.2 L927.6 876 L929.2 880.9 L931.4 885.8 L934.1 890.5 L937.2 894.8 L940.7 898.7 L944.4 902 L948.2 904.6 L952 906.4 L955.7 907.4"/>
<path d="M1479.2 1007.1A29.3 16.9 60 1 0 1449.9 956.3A29.3 16.9 60 1 0 1479.2 1007.1M1476 1001.4A22.8 13.2 60 1 0 1453.2 962A22.8 13.2 60 1 0 1476 1001.4" fill="#fff" fill-rule="evenodd" stroke-width="1.2"/><path d="M1461.1 1017.5A29.3 16.9 60 1 0 1431.8 966.8A29.3 16.9 60 1 0 1461.1 1017.5M1457.9 1011.9A22.8 13.2 60 1 0 1435.1 972.4A22.8 13.2 60 1 0 1457.9 1011.9" fill="#fff" fill-rule="evenodd" stroke-width="1.2"/><path d="M1443 1028A29.3 16.9 60 1 0 1413.7 977.2A29.3 16.9 60 1 0 1443 1028M1439.8 1022.3A22.8 13.2 60 1 0 1417 982.8A22.8 13.2 60 1 0 1439.8 1022.3" fill="#fff" fill-rule="evenodd" stroke-width="1.2"/><path d="M1424.9 1038.4A29.3 16.9 60 1 0 1395.6 987.7A29.3 16.9 60 1 0 1424.9 1038.4M1421.7 1032.8A22.8 13.2 60 1 0 1398.9 993.3A22.8 13.2 60 1 0 1421.7 1032.8" fill="#fff" fill-rule="evenodd" stroke-width="1.2"/><path d="M1406.8 1048.9A29.3 16.9 60 1 0 1377.5 998.1A29.3 16.9 60 1 0 1406.8 1048.9M1403.6 1043.2A22.8 13.2 60 1 0 1380.8 1003.7A22.8 13.2 60 1 0 1403.6 1043.2" fill="#fff" fill-rule="evenodd" stroke-width="1.2"/><path d="M1388.7 1059.3A29.3 16.9 60 1 0 1359.4 1008.6A29.3 16.9 60 1 0 1388.7 1059.3M1385.5 1053.7A22.8 13.2 60 1 0 1362.7 1014.2A22.8 13.2 60 1 0 1385.5 1053.7" fill="#fff" fill-rule="evenodd" stroke-width="1.2"/><path d="M1370.6 1069.7A29.3 16.9 60 1 0 1341.3 1019A29.3 16.9 60 1 0 1370.6 1069.7M1367.3 1064.1A22.8 13.2 60 1 0 1344.5 1024.6A22.8 13.2 60 1 0 1367.3 1064.1" fill="#fff" fill-rule="evenodd" stroke-width="1.2"/><path d="M1352.5 1080.2A29.3 16.9 60 1 0 1323.2 1029.4A29.3 16.9 60 1 0 1352.5 1080.2M1349.2 1074.6A22.8 13.2 60 1 0 1326.4 1035.1A22.8 13.2 60 1 0 1349.2 1074.6" fill="#fff" fill-rule="evenodd" stroke-width="1.2"/><path d="M1334.4 1090.6A29.3 16.9 60 1 0 1305.1 1039.9A29.3 16.9 60 1 0 1334.4 1090.6M1331.1 1085A22.8 13.2 60 1 0 1308.3 1045.5A22.8 13.2 60 1 0 1331.1 1085" fill="#fff" fill-rule="evenodd" stroke-width="1.2"/><path d="M1316.3 1101.1A29.3 16.9 60 1 0 1287 1050.3A29.3 16.9 60 1 0 1316.3 1101.1M1313 1095.5A22.8 13.2 60 1 0 1290.2 1056A22.8 13.2 60 1 0 1313 1095.5" fill="#fff" fill-rule="evenodd" stroke-width="1.2"/><path d="M1298.2 1111.5A29.3 16.9 60 1 0 1268.9 1060.8A29.3 16.9 60 1 0 1298.2 1111.5M1294.9 1105.9A22.8 13.2 60 1 0 1272.1 1066.4A22.8 13.2 60 1 0 1294.9 1105.9" fill="#fff" fill-rule="evenodd" stroke-width="1.2"/><path d="M1280.1 1122A29.3 16.9 60 1 0 1250.8 1071.2A29.3 16.9 60 1 0 1280.1 1122M1276.8 1116.3A22.8 13.2 60 1 0 1254 1076.9A22.8 13.2 60 1 0 1276.8 1116.3" fill="#fff" fill-rule="evenodd" stroke-width="1.2"/></g>
<!-- d20_diff -->
<g><path d="M1194.1 828.2 L1196.6 826.6 L1199 824.6 L1201.1 822.4 L1203.1 819.9 L1204.8 817.1 L1206.3 814 L1207.6 810.7 L1208.6 807.2 L1209.4 803.5 L1210 799.6 L1210.3 795.5 L1210.3 791.3 L1210.2 786.9 L1209.7 782.4 L1209.1 777.8 L1208.1 773.1 L1207 768.4 L1205.6 763.6 L1204 758.9 L1202.1 754.1 L1200.1 749.3 L1197.8 744.6 L1195.4 740 L1192.8 735.5 L1190 731 L1187.1 726.7 L1184 722.6 L1180.7 718.6 L1177.4 714.8 L1174 711.2 L1170.5 707.9 L1166.9 704.7 L1163.2 701.9 L1159.5 699.2 L1155.8 696.9 L1152.1 694.8 L1148.4 693 L1144.8 691.6 L1141.2 690.4 L1137.6 689.5 L1134.1 689 L1130.7 688.8 L1127.5 688.9 L1124.3 689.3 L1121.3 690 L1118.4 691.1 L1115.7 692.5 L1104.2 699.1 L1101.7 700.8 L1099.3 702.7 L1097.2 705 L1095.2 707.5 L1093.5 710.3 L1092 713.3 L1090.7 716.6 L1089.7 720.1 L1088.9 723.8 L1088.3 727.7 L1088 731.8 L1088 736.1 L1088.2 740.4 L1088.6 744.9 L1089.3 749.5 L1090.2 754.2 L1091.3 758.9 L1092.7 763.7 L1094.3 768.5 L1096.2 773.3 L1098.2 778 L1100.5 782.7 L1102.9 787.4 L1105.5 791.9 L1108.3 796.3 L1111.3 800.6 L1114.4 804.8 L1117.6 808.7 L1120.9 812.5 L1124.3 816.1 L1127.9 819.5 L1131.5 822.6 L1135.1 825.5 L1138.8 828.1 L1142.5 830.5 L1146.2 832.5 L1149.9 834.3 L1153.5 835.8 L1157.2 837 L1160.7 837.8 L1164.2 838.3 L1167.6 838.6 L1170.9 838.5 L1174 838 L1177 837.3 L1179.9 836.3 L1182.6 834.9Z" fill="#fff"/><path d="M1182.6 834.9 L1185.1 833.2 L1187.5 831.3 L1189.6 829 L1191.6 826.5 L1193.3 823.7 L1194.8 820.7 L1196.1 817.4 L1197.1 813.9 L1197.9 810.2 L1198.5 806.3 L1198.8 802.2 L1198.8 797.9 L1198.6 793.6 L1198.2 789.1 L1197.5 784.5 L1196.6 779.8 L1195.5 775.1 L1194.1 770.3 L1192.5 765.5 L1190.6 760.7 L1188.6 756 L1186.3 751.3 L1183.9 746.6 L1181.3 742.1 L1178.5 737.7 L1175.5 733.4 L1172.4 729.2 L1169.2 725.3 L1165.9 721.5 L1162.5 717.9 L1158.9 714.5 L1155.3 711.4 L1151.7 708.5 L1148 705.9 L1144.3 703.5 L1140.6 701.5 L1136.9 699.7 L1133.3 698.2 L1129.6 697 L1126.1 696.2 L1122.6 695.7 L1119.2 695.4 L1115.9 695.5 L1112.8 696 L1109.8 696.7 L1106.9 697.7 L1104.2 699.1 L1101.7 700.8 L1099.3 702.7 L1097.2 705 L1095.2 707.5 L1093.5 710.3 L1092 713.3 L1090.7 716.6 L1089.7 720.1 L1088.9 723.8 L1088.3 727.7 L1088 731.8 L1088 736.1 L1088.2 740.4 L1088.6 744.9 L1089.3 749.5 L1090.2 754.2 L1091.3 758.9 L1092.7 763.7 L1094.3 768.5 L1096.2 773.3 L1098.2 778 L1100.5 782.7 L1102.9 787.4 L1105.5 791.9 L1108.3 796.3 L1111.3 800.6 L1114.4 804.8 L1117.6 808.7 L1120.9 812.5 L1124.3 816.1 L1127.9 819.5 L1131.5 822.6 L1135.1 825.5 L1138.8 828.1 L1142.5 830.5 L1146.2 832.5 L1149.9 834.3 L1153.5 835.8 L1157.2 837 L1160.7 837.8 L1164.2 838.3 L1167.6 838.6 L1170.9 838.5 L1174 838 L1177 837.3 L1179.9 836.3 L1182.6 834.9Z"/><path d="M1178.9 828.5A71 41 60 1 0 1107.9 705.5A71 41 60 1 0 1178.9 828.5"/><ellipse cx="1113.1" cy="708.4" rx="3.6" ry="5.8" transform="rotate(-30 1113.1 708.4)" fill="#aaa" stroke-width="1.1"/><ellipse cx="1145.3" cy="712.4" rx="3.6" ry="5.8" transform="rotate(-30 1145.3 712.4)" fill="#aaa" stroke-width="1.1"/><ellipse cx="1178.2" cy="746.9" rx="3.6" ry="5.8" transform="rotate(-30 1178.2 746.9)" fill="#aaa" stroke-width="1.1"/><ellipse cx="1192.4" cy="792.4" rx="3.6" ry="5.8" transform="rotate(-30 1192.4 792.4)" fill="#aaa" stroke-width="1.1"/><ellipse cx="1178.2" cy="822.9" rx="3.6" ry="5.8" transform="rotate(-30 1178.2 822.9)" fill="#aaa" stroke-width="1.1"/><path d="M1169.2 819.1 L1170.6 815.9 L1171.8 812.4 L1172.6 808.5 L1173.1 804.4 L1173.3 800.1 L1173.1 795.6 L1172.6 790.9 L1171.8 786.1 L1170.6 781.3 L1169.2 776.3 L1167.4 771.4 L1165.3 766.5 L1163 761.6 L1160.4 756.9 L1157.6 752.3 L1154.6 747.9 L1151.4 743.6 L1148 739.6 L1144.4 735.9 L1140.8 732.5 L1137 729.3 L1133.3 726.6 L1129.4 724.2 L1125.6 722.2 L1121.8 720.6 L1118.1 719.4 L1114.4 718.6 L1110.9 718.2 L1079.7 750.1 L1076.8 751 L1074.1 752.5 L1071.8 754.5 L1069.8 757 L1068.1 760 L1066.9 763.3 L1066 767 L1065.6 771.1 L1065.6 775.4 L1066 779.9 L1066.8 784.6 L1068.1 789.4 L1069.7 794.2 L1071.7 799 L1074 803.8 L1076.6 808.3 L1079.6 812.7 L1082.7 816.8 L1086.1 820.7 L1089.6 824.1 L1093.3 827.2 L1097 829.8 L1100.7 831.9 L1104.5 833.6 L1108.1 834.7 L1111.6 835.3 L1115 835.4 L1118.1 834.9 L1121.1 833.8 L1123.7 832.3 L1126 830.2Z" fill="#fff"/><path d="M1129.1 812.8 L1132.9 813.9 L1136.6 814.3 L1140 814 L1143 813.1 L1145.8 811.4 L1148.1 809.1 L1150 806.2 L1151.3 802.8 L1152.2 798.9 L1152.5 794.6 L1152.3 790 L1151.6 785.1"/><path d="M1120.9 806.3 L1124.5 807.6 L1128 808.2 L1131.2 807.9 L1134 806.8 L1136.4 804.9 L1138.3 802.3 L1139.5 799 L1140.2 795.1 L1140.2 790.9 L1139.5 786.3 L1138.3 781.5"/><path d="M1107 771.4 L1107.7 775.6 L1109 780 L1111 784.3 L1113.6 788.4 L1116.6 792 L1119.8 794.9 L1123.2 797.1 L1126.5 798.5"/><path d="M1110.6 771.1 L1111.5 774.9 L1112.8 778.9 L1114.7 782.7 L1117 786.4 L1119.7 789.6 L1122.6 792.4 L1125.6 794.6 L1128.7 796"/><path d="M1133 826 L1185 800 L1186.5 809.5 L1136 834Z" fill="#fff"/><path d="M1136 834L1147 838M1133 826L1133 812M1133 812L1143 806"/><path d="M1127 775 L1139 762 L1163 749 L1176 752M1133 783 L1145 770 L1166 760M1100 728 L1121 717M1096 733 L1112 742 L1134 754M1163 730 L1172 748M1172 762 L1184 776"/><path d="M1110.8 731.5L1110.8 738.5A16.5 8.5 0 0 0 1143.8 738.5L1143.8 731.5Z" fill="#fff"/><ellipse cx="1127.3" cy="731.5" rx="16.5" ry="8.5" fill="#fff"/><ellipse cx="1127.3" cy="730.5" rx="11" ry="6" fill="#fff"/><path d="M1143.8 733.5 L1153 728 L1162 729M1141.3 739.5 L1150 736 L1160 737"/><path d="M1123.4 835.1 L1125.9 833.3 L1128.1 831.1 L1129.9 828.3 L1131.4 825.2 L1132.5 821.7 L1133.2 817.8 L1133.6 813.7 L1133.5 809.3 L1132.9 804.7 L1132 799.9 L1130.7 795.1 L1129.1 790.2 L1127 785.4 L1124.7 780.6 L1122 776 L1119.1 771.6 L1115.9 767.4 L1112.5 763.5 L1109 760 L1105.3 756.8 L1101.6 754.1 L1097.8 751.8 L1094.1 750 L1090.4 748.7 L1086.8 747.9 L1083.3 747.6 L1080 747.8 L1077 748.6 L1074.2 749.9 L1059.8 758.2 L1057.3 760 L1055.1 762.2 L1053.2 765 L1051.7 768.1 L1050.6 771.6 L1049.9 775.5 L1049.6 779.6 L1049.7 784 L1050.2 788.6 L1051.1 793.4 L1052.4 798.2 L1054.1 803.1 L1056.1 807.9 L1058.5 812.7 L1061.2 817.3 L1064.1 821.7 L1067.3 825.9 L1070.7 829.8 L1074.2 833.3 L1077.8 836.5 L1081.6 839.2 L1085.3 841.5 L1089.1 843.3 L1092.8 844.6 L1096.4 845.4 L1099.9 845.7 L1103.1 845.5 L1106.2 844.7 L1109 843.4Z" fill="#fff"/><path d="M1117 833.7L1122.3 835.7M1118.4 829L1125.7 833.5M1119.1 823.7L1128.6 830.4M1119.1 818L1130.8 826.6M1118.4 811.9L1132.4 822.1M1117 805.6L1133.3 817M1114.9 799.2L1133.6 811.4M1112.3 792.8L1133.1 805.4M1109 786.6L1131.9 799.2M1105.2 780.7L1130 792.8M1101.1 775.2L1127.5 786.4M1096.6 770.2L1124.4 780.1M1091.8 765.8L1120.8 774.1M1086.9 762.2L1116.7 768.5M1081.9 759.3L1112.3 763.3M1077 757.3L1107.6 758.8M1072.2 756.1L1102.7 754.9M1067.7 755.9L1097.8 751.8M1063.6 756.6L1092.8 749.5M1059.8 758.2L1088 748.1M1056.5 760.6L1083.4 747.6M1053.9 763.9L1079.1 748M1051.8 767.9L1075.3 749.3M1050.4 772.6L1071.8 751.5" stroke-width="1"/><path d="M1121.1 836.2 L1123.9 834.8 L1126.3 833 L1128.4 830.7 L1130.2 827.9 L1131.6 824.8 L1132.6 821.2 L1133.3 817.4 L1133.6 813.3 L1133.4 808.9 L1132.9 804.3 L1132 799.6 L1130.7 794.9 L1129 790.1 L1127 785.3 L1124.7 780.6 L1122 776 L1119.1 771.7 L1116 767.5 L1112.7 763.7 L1109.2 760.2 L1105.6 757 L1101.9 754.3 L1098.2 752 L1094.5 750.2 L1090.8 748.8 L1087.2 747.9 L1083.8 747.6 L1080.5 747.8 L1077.5 748.4 L1074.7 749.6 L1072.1 751.3"/><path d="M1109 843.4A49.2 28.4 60 1 0 1059.8 758.2A49.2 28.4 60 1 0 1109 843.4" fill="#fff"/><path d="M1099.6 827A28.8 16.6 60 1 0 1070.8 777.2A28.8 16.6 60 1 0 1099.6 827"/><path d="M1098.2 824.6A26 15 60 1 0 1072.2 779.6A26 15 60 1 0 1098.2 824.6"/><path d="M1095.5 818.9 L1097.9 816.7 L1099.4 813.3 L1099.9 809.1 L1099.4 804.2 L1097.9 799.1 L1095.5 794.1 L1092.3 789.5 L1088.7 785.6 L1084.7 782.7 L1080.8 781.1 L1077.1 780.7 L1074 781.7 L1059.2 790.2 L1056.8 792.4 L1055.3 795.8 L1054.8 800 L1055.3 804.9 L1056.8 810 L1059.2 815 L1062.4 819.6 L1066.1 823.5 L1070 826.4 L1073.9 828 L1077.6 828.4 L1080.8 827.4Z" fill="#fff"/><path d="M1080.8 827.4 L1083.1 825.3 L1084.6 822.1 L1085.2 818.1 L1084.8 813.5 L1083.5 808.7 L1081.4 803.8 L1078.5 799.2 L1075.1 795.3 L1071.4 792.1 L1067.6 790.1 L1064 789.2 L1060.7 789.5 L1058 791.1 L1056 793.8 L1055 797.4 L1054.9 801.7 L1055.7 806.5 L1057.4 811.4 L1059.9 816.2 L1063.1 820.5 L1066.7 824 L1070.5 826.6 L1074.2 828.1 L1077.7 828.4 L1080.8 827.4Z"/><path d="M1078.2 823.1A16.5 9.5 60 1 0 1061.8 794.5A16.5 9.5 60 1 0 1078.2 823.1"/><path d="M1062 795.5 L1061.1 798.4 L1061 802 L1061.8 806 L1063.3 810.1 L1065.5 814 L1068.3 817.3 L1071.4 820 L1074.5 821.7 L1077.5 822.4"/>
<path d="M1424.9 627 L1427.1 625 L1428.5 621.9 L1429 618.1 L1428.5 613.7 L1427.1 609 L1424.9 604.5 L1422.1 600.3 L1418.8 596.8 L1415.2 594.2 L1411.6 592.7 L1408.3 592.3 L1405.4 593.2 L1395 599.2 L1392.9 601.2 L1391.5 604.3 L1391 608.1 L1391.5 612.5 L1392.9 617.2 L1395 621.7 L1397.9 625.9 L1401.2 629.4 L1404.8 632 L1408.4 633.5 L1411.7 633.9 L1414.5 633Z" fill="#fff"/><path d="M1414.5 633 L1416.7 631 L1418.1 627.9 L1418.6 624.1 L1418.1 619.7 L1416.7 615 L1414.5 610.5 L1411.7 606.3 L1408.4 602.8 L1404.8 600.2 L1401.2 598.7 L1397.9 598.3 L1395 599.2 L1392.9 601.2 L1391.5 604.3 L1391 608.1 L1391.5 612.5 L1392.9 617.2 L1395 621.7 L1397.9 625.9 L1401.2 629.4 L1404.8 632 L1408.4 633.5 L1411.7 633.9 L1414.5 633Z"/><path d="M1415.2 648.2 L1417.7 646.2 L1419.7 643.5 L1421.1 640.2 L1421.9 636.3 L1422 631.9 L1421.6 627.3 L1420.5 622.4 L1418.8 617.4 L1416.5 612.5 L1413.8 607.7 L1410.7 603.3 L1407.2 599.4 L1403.5 596 L1399.7 593.2 L1395.8 591.2 L1392.1 589.9 L1388.5 589.5 L1385.2 589.8 L1382.2 591 L1377.9 593.5 L1375.4 595.5 L1373.4 598.2 L1372 601.5 L1371.2 605.4 L1371.1 609.8 L1371.6 614.4 L1372.7 619.3 L1374.4 624.3 L1376.6 629.2 L1379.3 634 L1382.5 638.4 L1385.9 642.3 L1389.6 645.7 L1393.4 648.5 L1397.3 650.5 L1401.1 651.8 L1404.6 652.2 L1408 651.9 L1410.9 650.7Z" fill="#fff"/><path d="M1410.9 650.7A33 19.1 60 1 0 1377.9 593.5A33 19.1 60 1 0 1410.9 650.7" fill="#fff"/><path d="M1402.9 636.8L1412 649.9M1404.7 635.2L1415.2 646.4M1405.9 632.9L1417.1 641.4M1406.4 629.9L1417.7 635.3M1406.2 626.4L1417 628.5M1405.4 622.7L1415 621.2M1403.9 619L1411.7 614M1401.8 615.5L1407.5 607.3M1399.3 612.3L1402.5 601.5M1396.6 609.7L1397 596.8M1393.7 607.8L1391.4 593.6M1390.8 606.8L1385.9 592.1M1388.2 606.6L1381 592.3M1385.9 607.4L1376.8 594.3M1384.1 609L1373.6 597.8M1382.9 611.3L1371.7 602.8M1382.4 614.3L1371.1 608.9M1382.6 617.8L1371.8 615.7M1383.4 621.5L1373.8 623M1384.9 625.2L1377.1 630.2M1387 628.7L1381.3 636.9M1389.5 631.9L1386.3 642.7M1392.2 634.5L1391.8 647.4M1395.1 636.4L1397.4 650.6M1398 637.4L1402.9 652.1M1400.6 637.6L1407.8 651.9"/><path d="M1406.4 642.9L1410 651.1M1408.9 640.6L1413.7 648.4M1410.6 637.3L1416.3 644.1M1411.3 633.1L1417.6 638.5M1411.1 628.2L1417.5 632M1409.9 623L1416.2 624.9M1407.8 617.7L1413.5 617.6M1404.9 612.7L1409.7 610.6M1401.4 608.3L1405.1 604.3M1397.5 604.6L1399.8 599M1393.4 601.9L1394.2 595M1389.4 600.5L1388.6 592.7M1385.6 600.3L1383.4 592M1382.4 601.3L1378.8 593.1M1379.9 603.6L1375.1 595.8M1378.2 606.9L1372.5 600.1M1377.5 611.1L1371.2 605.7M1377.7 616L1371.3 612.2M1378.9 621.2L1372.6 619.3M1381 626.5L1375.3 626.6M1383.9 631.5L1379.1 633.6M1387.4 635.9L1383.7 639.9M1391.3 639.6L1389 645.2M1395.4 642.3L1394.6 649.2M1399.4 643.7L1400.2 651.5M1403.2 643.9L1405.4 652.2"/><path d="M1399.7 637A15.5 8.9 60 1 0 1384.2 610.2A15.5 8.9 60 1 0 1399.7 637" fill="#777" stroke-width="1.2"/><path d="M1392 623.7L1399.7 637M1392 623.7L1402.5 633M1392 623.6L1402.5 626.4M1392 623.6L1399.7 619.1M1391.9 623.5L1394.7 613M1391.9 623.5L1389.1 609.7M1391.9 623.5L1384.2 610.2M1391.8 623.5L1381.3 614.2M1391.8 623.6L1381.3 620.8M1391.9 623.6L1384.2 628.1M1391.9 623.7L1389.1 634.2M1391.9 623.7L1394.7 637.5" stroke-width="1.4"/>
<path d="M1328 568.2 L1334.3 569.1 L1329.6 574.7 L1336.8 572.7 L1334.3 580.4 L1341.5 575.6 L1341.5 584.7 L1347.8 577.5 L1350.3 586.9 L1355 578.2 L1359.7 586.9 L1362.2 577.5 L1368.5 584.7 L1368.5 575.6 L1375.7 580.4 L1373.2 572.7 L1380.4 574.7 L1375.7 569.1 L1382 568.2 L1374.5 563.2 L1373.8 560.4 L1371.9 557.7 L1368.8 555.4 L1364.8 553.7 L1360 552.6 L1355 552.2 L1350 552.6 L1345.2 553.7 L1341.2 555.4 L1338.1 557.7 L1336.2 560.4 L1335.5 563.2Z" fill="#fff"/><path d="M1382 568.2L1374.5 563.2M1382 568.2L1381.9 569.5M1381.9 569.5L1375.7 569.1M1380.4 574.7L1373.3 567M1380.4 574.7L1379.7 575.9M1379.7 575.9L1373.2 572.7M1375.7 580.4L1369.9 570.3M1375.7 580.4L1374.4 581.4M1374.4 581.4L1368.5 575.6M1368.5 584.7L1364.8 572.7M1368.5 584.7L1366.8 585.3M1366.8 585.3L1362.2 577.5M1359.7 586.9L1358.4 574M1359.7 586.9L1357.8 587.1M1357.8 587.1L1355 578.2M1350.3 586.9L1351.6 574M1350.3 586.9L1348.5 586.6M1348.5 586.6L1347.8 577.5M1341.5 584.7L1345.2 572.7M1341.5 584.7L1339.9 584M1339.9 584L1341.5 575.6M1334.3 580.4L1340.1 570.3M1334.3 580.4L1333.2 579.4M1333.2 579.4L1336.8 572.7M1329.6 574.7L1336.7 567M1329.6 574.7L1329 573.4M1329 573.4L1334.3 569.1M1328 568.2L1335.5 563.2M1328 568.2L1328.1 566.9M1328.1 566.9L1334.3 565.3"/><ellipse cx="1355" cy="563.2" rx="19.5" ry="11" fill="#fff"/><ellipse cx="1355" cy="558.4" rx="8.5" ry="5.3" fill="#fff"/>
<path d="M1329.7 685.2 L1335.3 691 L1336.4 690 L1332.6 682.4 L1333.6 680.7 L1339.6 684.2 L1340 682.4 L1334.8 676 L1334.9 673.7 L1340.4 674.3 L1340.2 672 L1334.2 667.8 L1333.6 665.1 L1337.8 662.7 L1336.9 660.3 L1331.1 658.9 L1329.7 656.3 L1332 651.2 L1330.6 649.1 L1325.9 650.7 L1324 648.5 L1324 641.6 L1322.2 640.1 L1319.3 644.4 L1317.2 643.1 L1314.9 635.4 L1313.1 634.6 L1312.4 641.1 L1310.5 640.7 L1306.2 633.4 L1304.6 633.5 L1306.3 641.2 L1304.7 641.8 L1299.2 636 L1298.1 637 L1301.8 644.6 L1300.9 646.3 L1294.9 642.8 L1294.4 644.6 L1299.7 651 L1299.5 653.3 L1294 652.7 L1294.3 655 L1300.2 659.2 L1300.9 661.9 L1296.6 664.3 L1297.6 666.7 L1303.3 668.1 L1304.7 670.7 L1302.4 675.8 L1303.9 677.9 L1308.6 676.3 L1310.5 678.5 L1310.5 685.4 L1312.2 686.9 L1315.1 682.6 L1317.2 683.9 L1319.5 691.6 L1321.3 692.4 L1322 685.9 L1324 686.3 L1328.2 693.6 L1329.8 693.5 L1328.2 685.8 L1329.7 685.2Z" fill="#fff"/><path d="M1322.2 690L1331.1 690.6M1325 689L1334.5 689.3M1327.3 687.1L1337.2 687.1M1329 684.4L1339.2 683.9M1330.1 681.1L1340.5 679.9M1330.4 677.1L1340.9 675.2M1330.1 672.8L1340.5 670M1329 668.2L1339.2 664.5M1327.3 663.5L1337.2 659M1325 659L1334.5 653.6M1322.2 654.7L1331.1 648.5M1319.1 650.9L1327.3 644M1315.6 647.7L1323.2 640.1M1312 645.3L1319 637.2M1308.4 643.6L1314.7 635.2M1305 642.8L1310.6 634.3M1301.8 643L1306.8 634.4M1299 644L1303.5 635.7M1296.7 645.9L1300.7 637.9"/><path d="M1325 689 L1327.4 687 L1329.2 684 L1330.2 680.3 L1330.4 676 L1329.8 671.3 L1328.4 666.3 L1326.3 661.4 L1323.6 656.7 L1320.4 652.4 L1316.8 648.7 L1313 645.9 L1309.2 643.9 L1305.4 642.9 L1302 642.9 L1299 644 L1292.1 648 L1289.7 650 L1287.9 653 L1286.9 656.7 L1286.7 661 L1287.3 665.7 L1288.7 670.7 L1290.8 675.6 L1293.5 680.3 L1296.8 684.6 L1300.3 688.3 L1304.1 691.1 L1308 693.1 L1311.7 694.1 L1315.1 694.1 L1318.1 693Z" fill="#fff"/><path d="M1318.1 693 L1320.5 691 L1322.2 688.2 L1323.2 684.7 L1323.5 680.6 L1323 676 L1321.8 671.3 L1319.9 666.5 L1317.4 661.9 L1314.4 657.6 L1311 653.8 L1307.4 650.8 L1303.7 648.5 L1300 647.2 L1296.6 646.8 L1293.5 647.3 L1290.9 648.9 L1288.8 651.3 L1287.4 654.5 L1286.8 658.3 L1286.9 662.7 L1287.7 667.3 L1289.3 672.1 L1291.5 676.9 L1294.2 681.3 L1297.4 685.4 L1300.9 688.8 L1304.6 691.5 L1308.3 693.3 L1311.9 694.2 L1315.2 694.1 L1318.1 693Z"/><path d="M1316.8 690.9A23.5 13.6 60 1 0 1293.3 650.1A23.5 13.6 60 1 0 1316.8 690.9"/><path d="M1312.3 686.7A17.5 10.1 60 1 0 1294.8 656.3A17.5 10.1 60 1 0 1312.3 686.7" fill="#777" stroke-width="1.2"/><path d="M1303.6 671.6L1312.3 686.7M1303.7 671.6L1315.3 683M1303.7 671.5L1315.9 677M1303.7 671.5L1314.1 669.9M1303.6 671.5L1310.2 663.2M1303.6 671.4L1305 658.1M1303.6 671.4L1299.5 655.7M1303.5 671.4L1294.8 656.3M1303.5 671.4L1291.9 660M1303.5 671.5L1291.3 666M1303.5 671.5L1293.1 673.1M1303.6 671.5L1297 679.8M1303.6 671.6L1302.2 684.9M1303.6 671.6L1307.7 687.3" stroke-width="1.4"/>
<path d="M1328.9 721.8 L1329.4 718.9 L1330.9 716.1 L1333.3 713.5 L1336.5 711.2 L1340.5 709.3 L1345 707.9 L1349.8 707.1 L1354.9 706.8 L1360 707.1 L1364.8 707.9 L1369.3 709.3 L1373.3 711.2 L1376.5 713.5 L1378.9 716.1 L1380.4 718.9 L1380.9 721.8 L1380.9 724.8 L1380.4 728.1 L1378.9 731.3 L1376.5 734.2 L1373.3 736.8 L1369.3 738.9 L1364.8 740.5 L1360 741.5 L1354.9 741.8 L1349.8 741.5 L1345 740.5 L1340.5 738.9 L1336.5 736.8 L1333.3 734.2 L1330.9 731.3 L1329.4 728.1 L1328.9 724.8Z" fill="#fff"/><path d="M1364.4 717.2L1380.9 721.8M1364 718.8L1379.8 727.3M1362.9 720.2L1376.8 732.3M1361.1 721.4L1371.9 736.5M1358.8 722.3L1365.7 739.5M1356.3 722.7L1358.6 741.1M1353.5 722.7L1351.2 741.1M1351 722.3L1344.1 739.5M1348.7 721.4L1337.9 736.5M1346.9 720.2L1333 732.3M1345.8 718.8L1330 727.3M1345.4 717.2L1328.9 721.8M1345.8 715.6L1330 717.6M1346.9 714.2L1333 713.7M1348.7 713L1337.9 710.5M1351 712.1L1344.1 708.2M1353.5 711.7L1351.2 707M1356.3 711.7L1358.6 707M1358.8 712.1L1365.7 708.2M1361.1 713L1371.9 710.5M1362.9 714.2L1376.8 713.7M1364 715.6L1379.8 717.6"/><path d="M1380.9 721.8L1380.9 724.8M1328.9 721.8L1328.9 724.8"/><ellipse cx="1354.9" cy="717.2" rx="11" ry="6.4" fill="#fff"/><ellipse cx="1354.9" cy="717.2" rx="8.3" ry="4.6" fill="#fff"/></g>
<!-- z90_leaders -->
<g><path d="M1000.7 27.9L1000.7 48M916.5 42.4L916.5 71M848.5 96.3L848.5 127M991.2 128.2L991.2 158.3M900.4 169.5L900.4 199.6M840.2 208.5L840.2 240.8M791.8 230.5L791.8 266M791.8 291.6L791.8 326.4M548.5 265L548.5 315.5M599.5 358.5L599.5 388.6M637.3 321.7L637.3 356.3M637.3 383.5L637.3 415M698.3 291L698.3 325.8M698.3 353L698.3 380.5M742.5 270.5L742.5 355M727.3 364L727.3 387.5M356.9 606.8L356.9 624.6M462.8 713.8L462.8 741.7M363.6 783L363.6 818.6M497.8 571.1L497.8 600M224.6 757.5L224.6 784.8M47.5 855L47.5 884.7M68.5 906.1L68.5 935.1M575.2 491.5L575.2 519.3M566.4 643.9L566.4 664.2M659.1 605.6L659.1 688.6M566.4 717.4L566.4 740M613.4 715L613.4 739.4M767.5 500.7L767.5 531.2M833.5 388.9L833.5 417.7M963.2 493.9L963.2 522.7M1068.9 455L1068.9 487.1M204.2 430.2L204.2 504.1M171.3 470.9L171.3 501.4M91.4 538.6L91.4 566.7M29.5 583.6L29.5 612.4M143.9 598.9L143.9 636.1M98.2 627.7L98.2 657.5M64.3 648L64.3 678.4M285.4 560.6L285.4 588.7M350.5 499L350.5 539.6M435.8 448.2L435.8 485.4M371.5 343.3L371.5 378.3M472.7 294.7L472.7 324.8M544.5 360.4L544.5 412.8M604.6 831.6L604.6 861.2M647.7 887.8L647.7 918.6M687.8 779.3L687.8 808.9M732.1 839.2L732.1 868.8M508.3 1018.5L508.3 1048.5M947.3 911L947.3 939.7M1040.1 870.9L1040.1 900.4M1013.9 737.1L1013.9 767.5M293.5 965.1L293.5 994.4M167.5 1050.8L167.5 1079.3M396.7 1064.1L396.7 1091.5M1475.4 86.5L1475.4 115.7M1391.6 139.6L1391.6 167.6M1520.2 144.1L1520.2 174.4M1435.2 194.2L1435.2 223.7M1300.2 320.4L1300.2 350.8M1194.8 362.2L1194.8 390.6M1652.2 354.6L1652.2 381.1M1725.7 362.9L1725.7 392.5M1593.8 378.1L1593.8 407.7M1480.4 517.6L1480.4 544.1M1229.7 662.4L1229.7 690.1M1125.3 835.4L1125.3 863.3M1450 928.2L1450 956.2M1414.4 949L1414.4 977.5M1378.7 969.5L1378.7 998M1342.3 990.4L1342.3 1018.8M1305.9 1011.2L1305.9 1040.8M1269.5 1032.1L1269.5 1061.7M1460.3 1018.1L1460.3 1046.5M1424.6 1038.2L1424.6 1067.4M1388.2 1058.6L1388.2 1088.2M1352.2 1079.9L1352.2 1109.1M1315.4 1101.5L1315.4 1129.9M1279.4 1122.3L1279.4 1150.8M792 326.4L637.3 415M659.1 688.6L566.4 740M1086.2 618.4L1116 618.4M1270.7 572.9 L1331.3 537.3 L1438.7 537.3 L1438.7 715.1 L1376.8 750.4 L1270.7 750.4ZM1221.4 1001.8 L1402.2 898.6 L1508.4 898.6 L1508.4 1076.8 L1328.7 1181.1 L1221.4 1181.1ZM1438.7 626.8L1462.5 626.8M1304.8 513.8L1335 513.8M1304.8 785.3L1335 785.3M1508.8 987.3L1532.5 987.3" stroke-linecap="butt"/></g>
</g>
<rect x="182.5" y="731.5" width="88" height="26" fill="none" stroke="#e02020" stroke-width="2"/>
<g class="lb">
<text x="970.7" y="23.7">45818</text>
<text x="888.8" y="37.2">45781</text>
<text x="821.1" y="92.4">45782</text>
<text x="962.3" y="177.1">45817</text>
<text x="871.2" y="218.4">45820</text>
<text x="804.1" y="264.5">45783B</text>
<text x="761.1" y="288.5">45757</text>
<text x="515.3" y="259.7">45749</text>
<text x="435.9" y="288.5">45710B</text>
<text x="339.9" y="338">45758</text>
<text x="659.9" y="347.8">45756C</text>
<text x="607.1" y="377.4">45757</text>
<text x="796.4" y="382.7">45743B</text>
<text x="571.2" y="406.2">45754</text>
<text x="697.1" y="409.6">45755</text>
<text x="515.3" y="432.2">45748</text>
<text x="545" y="485.6">53513</text>
<text x="730.3" y="553.8">45793A</text>
<text x="926" y="545.7">45760B</text>
<text x="1031" y="508.5">45796B</text>
<text x="536" y="688.3">45816</text>
<text x="536" y="711.4">45889</text>
<text x="1003.9" y="626">43327A</text>
<text x="975.1" y="711.6">45732D</text>
<text x="982.9" y="730.6">45828</text>
<text x="169.4" y="425.9">45731E</text>
<text x="123.3" y="466.2">45732B</text>
<text x="62.4" y="534.6">45858</text>
<text x="2.1" y="577.6">45729</text>
<text x="110.1" y="652.4">45723C</text>
<text x="69.5" y="676.8">45857</text>
<text x="27.2" y="699.8">45725B</text>
<text x="249.3" y="609.8">45721B</text>
<text x="320.1" y="559.3">45788</text>
<text x="405" y="506.1">45789</text>
<text x="327.5" y="600">45868</text>
<text x="467.4" y="564.6">45819</text>
<text x="187.2" y="750.5">45753A</text>
<text x="425" y="765.2">45864A</text>
<text x="333.3" y="841.7">45811</text>
<text x="17.3" y="828.4">45630</text>
<text x="17.3" y="849.7">45431</text>
<text x="38.2" y="957.9">45431</text>
<text x="259.4" y="956">45796B</text>
<text x="129.2" y="1040.9">45760B</text>
<text x="366" y="1114">45751</text>
<text x="471.1" y="1072">45790B</text>
<text x="576.2" y="760.8">45890B</text>
<text x="657.2" y="775.1">45851</text>
<text x="574.1" y="827">45798</text>
<text x="695.2" y="892">45636B</text>
<text x="617.1" y="939.7">45798</text>
<text x="1001.1" y="922">45829B</text>
<text x="1001.1" y="941">45737B</text>
<text x="909.9" y="962.9">45849T</text>
<text x="1445.3" y="80.8">45851</text>
<text x="1361.4" y="132.7">45798</text>
<text x="1483.2" y="196.8">45636B</text>
<text x="1405.1" y="245.7">45798</text>
<text x="1263.2" y="372.8">45790B</text>
<text x="1165.4" y="414.1">45751</text>
<text x="1622" y="347.8">43213</text>
<text x="1688.7" y="338.9">45737B</text>
<text x="1688.7" y="357.6">45829B</text>
<text x="1563.2" y="371.6">45832</text>
<text x="1239.3" y="522.5">45826</text>
<text x="1447.2" y="514.5">45835</text>
<text x="1468.4" y="634.7">45837</text>
<text x="1198.4" y="651.4">45835</text>
<text x="1239.3" y="792.9">45826</text>
<text x="1096.9" y="887.2">45822</text>
<text x="1538.2" y="996">45842A</text>
<text x="1421" y="920.6">45835</text>
<text x="1388.4" y="942.6">45835</text>
<text x="1347.4" y="963.8">45835</text>
<text x="1315.9" y="982.8">45835</text>
<text x="1280.3" y="1004.8">45835</text>
<text x="1242.4" y="1026">45835</text>
<text x="1431.2" y="1062">45835</text>
<text x="1391.4" y="1084.4">45835</text>
<text x="1358" y="1106.4">45835</text>
<text x="1324.3" y="1128.4">45835</text>
<text x="1283.3" y="1148.9">45835</text>
<text x="1250.3" y="1169">45835</text>
</g>
</svg>
</body></html>
